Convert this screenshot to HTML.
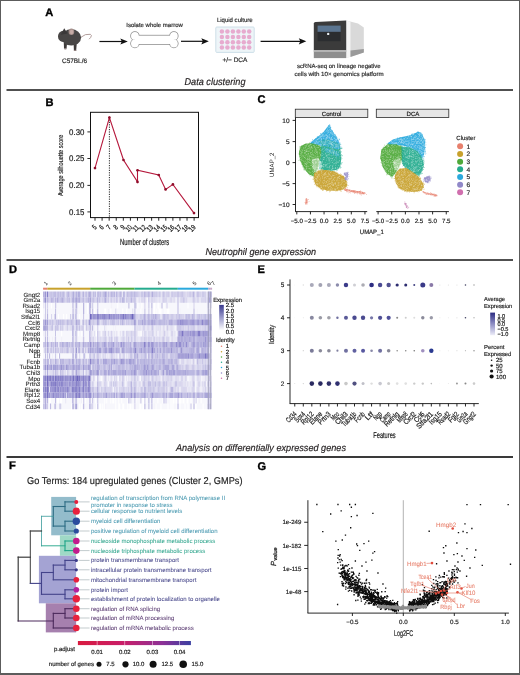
<!DOCTYPE html>
<html><head><meta charset="utf-8"><title>Figure</title>
<style>
html,body{margin:0;padding:0;background:#fff;}
#fig{position:relative;width:520px;height:675px;overflow:hidden;background:#fff;}
#fig svg{position:absolute;left:0;top:0;will-change:transform;}
#frame{position:absolute;left:0;top:0;width:518px;height:672px;border:1px solid #5c5c5c;border-bottom-width:2px;pointer-events:none;}
</style></head>
<body><div id="fig">
<svg width="520" height="675" viewBox="0 0 520 675" font-family='"Liberation Sans", sans-serif' text-rendering="geometricPrecision">
<rect x="6.5" y="89" width="506.5" height="2" fill="#505050"/>
<rect x="6.5" y="259" width="506.5" height="2" fill="#505050"/>
<rect x="6.5" y="456" width="506.5" height="2" fill="#3a3a3a"/>
<text x="45.3" y="16.3" font-size="11.1" fill="#000" font-weight="bold" stroke="#000" stroke-width="0.35">A</text>
<text x="45.6" y="106.3" font-size="11.1" fill="#000" font-weight="bold" stroke="#000" stroke-width="0.35">B</text>
<text x="257.4" y="103" font-size="11.1" fill="#000" font-weight="bold" stroke="#000" stroke-width="0.35">C</text>
<text x="8.9" y="273.1" font-size="11.1" fill="#000" font-weight="bold" stroke="#000" stroke-width="0.35">D</text>
<text x="257.5" y="273.1" font-size="11.1" fill="#000" font-weight="bold" stroke="#000" stroke-width="0.35">E</text>
<text x="8.9" y="469.4" font-size="11.1" fill="#000" font-weight="bold" stroke="#000" stroke-width="0.35">F</text>
<text x="257.5" y="469.6" font-size="11.1" fill="#000" font-weight="bold" stroke="#000" stroke-width="0.35">G</text>
<text x="184.5" y="85.2" font-size="9.9" fill="#231f20" font-style="italic" textLength="61" lengthAdjust="spacingAndGlyphs" stroke="#231f20" stroke-width="0.18">Data clustering</text>
<text x="205.5" y="255.2" font-size="9.7" fill="#231f20" font-style="italic" textLength="110.5" lengthAdjust="spacingAndGlyphs" stroke="#231f20" stroke-width="0.18">Neutrophil gene expression</text>
<text x="176" y="451.4" font-size="9.7" fill="#231f20" font-style="italic" textLength="170" lengthAdjust="spacingAndGlyphs" stroke="#231f20" stroke-width="0.18">Analysis on differentially expressed genes</text>
<g>
<path d="M80.4,37.6 Q85.5,33.3 90.3,34.3 Q92.4,35 90.6,37.6 L89,39.2" fill="none" stroke="#a89290" stroke-width="0.9"/>
<path d="M63.8,43 L64,48.6 L66.6,48.6 L67,43 Z" fill="#3f3b3a"/>
<path d="M73.6,43 L73.9,50.2 L76.2,50.2 L76.8,43 Z" fill="#3f3b3a"/>
<ellipse cx="71.3" cy="37.4" rx="9.8" ry="8.1" fill="#484645"/>
<ellipse cx="63.2" cy="36.4" rx="5.2" ry="5.6" fill="#484645"/>
<path d="M58.4,36.2 Q59,33.2 62,32.2 L63,38.8 Z" fill="#484645"/>
<path d="M60.8,34.8 L64.2,28.2 L67.6,33.4 Z" fill="#3a3838"/>
<ellipse cx="71.4" cy="31.8" rx="2.8" ry="3.3" fill="#a48e8a"/>
<ellipse cx="71.6" cy="32" rx="1.7" ry="2.2" fill="#c6aca6"/>
<ellipse cx="65.3" cy="48.8" rx="1.5" ry="0.6" fill="#8a7a78"/>
<ellipse cx="75.1" cy="50.3" rx="1.5" ry="0.6" fill="#8a7a78"/>
</g>
<text x="62" y="63.3" font-size="6.4" fill="#2b2b2b" textLength="25" lengthAdjust="spacingAndGlyphs" stroke="#2b2b2b" stroke-width="0.18">C57BL/6</text>
<line x1="99.4" y1="41.5" x2="122.8" y2="41.5" stroke="#111" stroke-width="1.2"/>
<path d="M120.3,38.4 L127.8,41.5 L120.3,44.6 L121.8,41.5 Z" fill="#111"/>
<line x1="181" y1="41.3" x2="203.8" y2="41.3" stroke="#111" stroke-width="1.2"/>
<path d="M201.3,38.199999999999996 L208.8,41.3 L201.3,44.4 L202.8,41.3 Z" fill="#111"/>
<line x1="260.6" y1="41.3" x2="301.3" y2="41.3" stroke="#111" stroke-width="1.2"/>
<path d="M298.8,38.199999999999996 L306.3,41.3 L298.8,44.4 L300.3,41.3 Z" fill="#111"/>
<rect x="134.9" y="35.6" width="39" height="8.4" fill="#8a8a8a" stroke="#8a8a8a" stroke-width="1.5"/>
<circle cx="134.9" cy="35.9" r="3.9" fill="#8a8a8a" stroke="#8a8a8a" stroke-width="1.5"/>
<circle cx="134.9" cy="43.5" r="3.9" fill="#8a8a8a" stroke="#8a8a8a" stroke-width="1.5"/>
<circle cx="173.9" cy="35.9" r="3.9" fill="#8a8a8a" stroke="#8a8a8a" stroke-width="1.5"/>
<circle cx="173.9" cy="43.5" r="3.9" fill="#8a8a8a" stroke="#8a8a8a" stroke-width="1.5"/>
<rect x="134.9" y="35.6" width="39" height="8.4" fill="#ffffff"/>
<circle cx="134.9" cy="35.9" r="3.9" fill="#ffffff"/>
<circle cx="134.9" cy="43.5" r="3.9" fill="#ffffff"/>
<circle cx="173.9" cy="35.9" r="3.9" fill="#ffffff"/>
<circle cx="173.9" cy="43.5" r="3.9" fill="#ffffff"/>
<text x="126.3" y="26.6" font-size="6" fill="#2b2b2b" textLength="56.5" lengthAdjust="spacingAndGlyphs" stroke="#2b2b2b" stroke-width="0.18">Isolate whole marrow</text>
<rect x="215.8" y="27" width="38.4" height="25.4" rx="1" fill="#eef5f8" stroke="#c9dde6" stroke-width="0.9"/>
<circle cx="221.9" cy="31.6" r="2.25" fill="#e7abcf"/>
<circle cx="221.9" cy="36.9" r="2.25" fill="#e7abcf"/>
<circle cx="221.9" cy="42.2" r="2.25" fill="#e7abcf"/>
<circle cx="221.9" cy="47.4" r="2.25" fill="#e7abcf"/>
<circle cx="227.4" cy="31.6" r="2.25" fill="#e7abcf"/>
<circle cx="227.4" cy="36.9" r="2.25" fill="#e7abcf"/>
<circle cx="227.4" cy="42.2" r="2.25" fill="#e7abcf"/>
<circle cx="227.4" cy="47.4" r="2.25" fill="#e7abcf"/>
<circle cx="232.9" cy="31.6" r="2.25" fill="#e7abcf"/>
<circle cx="232.9" cy="36.9" r="2.25" fill="#e7abcf"/>
<circle cx="232.9" cy="42.2" r="2.25" fill="#e7abcf"/>
<circle cx="232.9" cy="47.4" r="2.25" fill="#e7abcf"/>
<circle cx="238.4" cy="31.6" r="2.25" fill="#e7abcf"/>
<circle cx="238.4" cy="36.9" r="2.25" fill="#e7abcf"/>
<circle cx="238.4" cy="42.2" r="2.25" fill="#e7abcf"/>
<circle cx="238.4" cy="47.4" r="2.25" fill="#e7abcf"/>
<circle cx="243.8" cy="31.6" r="2.25" fill="#e7abcf"/>
<circle cx="243.8" cy="36.9" r="2.25" fill="#e7abcf"/>
<circle cx="243.8" cy="42.2" r="2.25" fill="#e7abcf"/>
<circle cx="243.8" cy="47.4" r="2.25" fill="#e7abcf"/>
<circle cx="249.2" cy="31.6" r="2.25" fill="#e7abcf"/>
<circle cx="249.2" cy="36.9" r="2.25" fill="#e7abcf"/>
<circle cx="249.2" cy="42.2" r="2.25" fill="#e7abcf"/>
<circle cx="249.2" cy="47.4" r="2.25" fill="#e7abcf"/>
<text x="216.9" y="21.6" font-size="6.2" fill="#2b2b2b" textLength="35.8" lengthAdjust="spacingAndGlyphs" stroke="#2b2b2b" stroke-width="0.18">Liquid culture</text>
<text x="222.5" y="61.6" font-size="6.4" fill="#2b2b2b" textLength="24.8" lengthAdjust="spacingAndGlyphs" stroke="#2b2b2b" stroke-width="0.18">+/− DCA</text>
<polygon points="346.2,20.6 358,23.6 363.8,27.5 363.8,52.6 346.2,58.1" fill="#d9d9d9"/>
<polygon points="346.2,20.6 350.5,21.7 350.5,57 346.2,58.1" fill="#f4f4f4"/>
<polygon points="350.5,50.5 363.8,49 363.8,52.6 350.5,57" fill="#9a9a9a"/>
<path d="M313.8,23.5 Q313.8,22 315.5,21.9 L346.2,20.6 L346.2,50 L313.8,50 Z" fill="#3b3b3b"/>
<rect x="313.8" y="50" width="32.4" height="8.1" fill="#8e8e8e"/>
<rect x="313.8" y="50" width="32.4" height="2" fill="#b4b4b4"/>
<rect x="317.6" y="25.6" width="23" height="6.3" fill="#5b7590"/>
<rect x="317.6" y="31.9" width="23" height="9.3" fill="#2b2d30"/>
<circle cx="328.2" cy="33.9" r="1.2" fill="#e8eef2"/>
<text x="296.9" y="68" font-size="6" fill="#2b2b2b" textLength="83.7" lengthAdjust="spacingAndGlyphs" stroke="#2b2b2b" stroke-width="0.18">scRNA-seq on lineage negative</text>
<text x="294.4" y="75.6" font-size="6" fill="#2b2b2b" textLength="89.3" lengthAdjust="spacingAndGlyphs" stroke="#2b2b2b" stroke-width="0.18">cells with 10× genomics platform</text>
<rect x="90.5" y="112.3" width="108" height="105.3" fill="none" stroke="#111" stroke-width="1"/>
<line x1="87.4" y1="131.9" x2="90.5" y2="131.9" stroke="#111" stroke-width="0.9"/>
<text x="84.4" y="134.70000000000002" font-size="8.3" fill="#1a1a1a" text-anchor="end" textLength="15.3" lengthAdjust="spacingAndGlyphs" stroke="#1a1a1a" stroke-width="0.18">0.30</text>
<line x1="87.4" y1="158.5" x2="90.5" y2="158.5" stroke="#111" stroke-width="0.9"/>
<text x="84.4" y="161.3" font-size="8.3" fill="#1a1a1a" text-anchor="end" textLength="15.3" lengthAdjust="spacingAndGlyphs" stroke="#1a1a1a" stroke-width="0.18">0.25</text>
<line x1="87.4" y1="185.4" x2="90.5" y2="185.4" stroke="#111" stroke-width="0.9"/>
<text x="84.4" y="188.20000000000002" font-size="8.3" fill="#1a1a1a" text-anchor="end" textLength="15.3" lengthAdjust="spacingAndGlyphs" stroke="#1a1a1a" stroke-width="0.18">0.20</text>
<line x1="87.4" y1="211.9" x2="90.5" y2="211.9" stroke="#111" stroke-width="0.9"/>
<text x="84.4" y="214.70000000000002" font-size="8.3" fill="#1a1a1a" text-anchor="end" textLength="15.3" lengthAdjust="spacingAndGlyphs" stroke="#1a1a1a" stroke-width="0.18">0.15</text>
<text transform="translate(62.8,165.4) rotate(-90)" font-size="7.2" fill="#1a1a1a" text-anchor="middle" textLength="61.4" lengthAdjust="spacingAndGlyphs" stroke="#1a1a1a" stroke-width="0.15">Average silhouette score</text>
<line x1="95.0" y1="217.6" x2="95.0" y2="220.7" stroke="#111" stroke-width="0.9"/>
<text transform="translate(97.20,227.80) rotate(-45)" font-size="7.3" fill="#1a1a1a" text-anchor="end" textLength="3.15" lengthAdjust="spacingAndGlyphs" stroke="#1a1a1a" stroke-width="0.2">5</text>
<line x1="102.08" y1="217.6" x2="102.08" y2="220.7" stroke="#111" stroke-width="0.9"/>
<text transform="translate(104.28,227.80) rotate(-45)" font-size="7.3" fill="#1a1a1a" text-anchor="end" textLength="3.15" lengthAdjust="spacingAndGlyphs" stroke="#1a1a1a" stroke-width="0.2">6</text>
<line x1="109.16" y1="217.6" x2="109.16" y2="220.7" stroke="#111" stroke-width="0.9"/>
<text transform="translate(111.36,227.80) rotate(-45)" font-size="7.3" fill="#1a1a1a" text-anchor="end" textLength="3.15" lengthAdjust="spacingAndGlyphs" stroke="#1a1a1a" stroke-width="0.2">7</text>
<line x1="116.24000000000001" y1="217.6" x2="116.24000000000001" y2="220.7" stroke="#111" stroke-width="0.9"/>
<text transform="translate(118.44,227.80) rotate(-45)" font-size="7.3" fill="#1a1a1a" text-anchor="end" textLength="3.15" lengthAdjust="spacingAndGlyphs" stroke="#1a1a1a" stroke-width="0.2">8</text>
<line x1="123.32" y1="217.6" x2="123.32" y2="220.7" stroke="#111" stroke-width="0.9"/>
<text transform="translate(125.52,227.80) rotate(-45)" font-size="7.3" fill="#1a1a1a" text-anchor="end" textLength="3.15" lengthAdjust="spacingAndGlyphs" stroke="#1a1a1a" stroke-width="0.2">9</text>
<line x1="130.4" y1="217.6" x2="130.4" y2="220.7" stroke="#111" stroke-width="0.9"/>
<text transform="translate(132.60,227.80) rotate(-45)" font-size="7.3" fill="#1a1a1a" text-anchor="end" textLength="6.30" lengthAdjust="spacingAndGlyphs" stroke="#1a1a1a" stroke-width="0.2">10</text>
<line x1="137.48000000000002" y1="217.6" x2="137.48000000000002" y2="220.7" stroke="#111" stroke-width="0.9"/>
<text transform="translate(139.68,227.80) rotate(-45)" font-size="7.3" fill="#1a1a1a" text-anchor="end" textLength="6.30" lengthAdjust="spacingAndGlyphs" stroke="#1a1a1a" stroke-width="0.2">11</text>
<line x1="144.56" y1="217.6" x2="144.56" y2="220.7" stroke="#111" stroke-width="0.9"/>
<text transform="translate(146.76,227.80) rotate(-45)" font-size="7.3" fill="#1a1a1a" text-anchor="end" textLength="6.30" lengthAdjust="spacingAndGlyphs" stroke="#1a1a1a" stroke-width="0.2">12</text>
<line x1="151.64" y1="217.6" x2="151.64" y2="220.7" stroke="#111" stroke-width="0.9"/>
<text transform="translate(153.84,227.80) rotate(-45)" font-size="7.3" fill="#1a1a1a" text-anchor="end" textLength="6.30" lengthAdjust="spacingAndGlyphs" stroke="#1a1a1a" stroke-width="0.2">13</text>
<line x1="158.72" y1="217.6" x2="158.72" y2="220.7" stroke="#111" stroke-width="0.9"/>
<text transform="translate(160.92,227.80) rotate(-45)" font-size="7.3" fill="#1a1a1a" text-anchor="end" textLength="6.30" lengthAdjust="spacingAndGlyphs" stroke="#1a1a1a" stroke-width="0.2">14</text>
<line x1="165.8" y1="217.6" x2="165.8" y2="220.7" stroke="#111" stroke-width="0.9"/>
<text transform="translate(168.00,227.80) rotate(-45)" font-size="7.3" fill="#1a1a1a" text-anchor="end" textLength="6.30" lengthAdjust="spacingAndGlyphs" stroke="#1a1a1a" stroke-width="0.2">15</text>
<line x1="172.88" y1="217.6" x2="172.88" y2="220.7" stroke="#111" stroke-width="0.9"/>
<text transform="translate(175.08,227.80) rotate(-45)" font-size="7.3" fill="#1a1a1a" text-anchor="end" textLength="6.30" lengthAdjust="spacingAndGlyphs" stroke="#1a1a1a" stroke-width="0.2">16</text>
<line x1="179.96" y1="217.6" x2="179.96" y2="220.7" stroke="#111" stroke-width="0.9"/>
<text transform="translate(182.16,227.80) rotate(-45)" font-size="7.3" fill="#1a1a1a" text-anchor="end" textLength="6.30" lengthAdjust="spacingAndGlyphs" stroke="#1a1a1a" stroke-width="0.2">17</text>
<line x1="187.04000000000002" y1="217.6" x2="187.04000000000002" y2="220.7" stroke="#111" stroke-width="0.9"/>
<text transform="translate(189.24,227.80) rotate(-45)" font-size="7.3" fill="#1a1a1a" text-anchor="end" textLength="6.30" lengthAdjust="spacingAndGlyphs" stroke="#1a1a1a" stroke-width="0.2">18</text>
<line x1="194.12" y1="217.6" x2="194.12" y2="220.7" stroke="#111" stroke-width="0.9"/>
<text transform="translate(196.32,227.80) rotate(-45)" font-size="7.3" fill="#1a1a1a" text-anchor="end" textLength="6.30" lengthAdjust="spacingAndGlyphs" stroke="#1a1a1a" stroke-width="0.2">19</text>
<text x="120.1" y="245.4" font-size="8.8" fill="#1a1a1a" textLength="49" lengthAdjust="spacingAndGlyphs" stroke="#1a1a1a" stroke-width="0.2">Number of clusters</text>
<line x1="109.4" y1="117" x2="109.4" y2="217.6" stroke="#111" stroke-width="0.9" stroke-dasharray="1.2,1.2"/>
<polyline points="95,168.1 109.4,117.6 123.5,160 137.5,181.9 137.5,170.3 158.75,175 165.6,189.4 172.9,184.4 194,213.1" fill="none" stroke="#b5173b" stroke-width="1.1"/>
<circle cx="95" cy="168.1" r="1.35" fill="#8f0d2a"/>
<circle cx="109.4" cy="117.6" r="1.35" fill="#8f0d2a"/>
<circle cx="123.5" cy="160" r="1.35" fill="#8f0d2a"/>
<circle cx="137.5" cy="181.9" r="1.35" fill="#8f0d2a"/>
<circle cx="137.5" cy="170.3" r="1.35" fill="#8f0d2a"/>
<circle cx="158.75" cy="175" r="1.35" fill="#8f0d2a"/>
<circle cx="165.6" cy="189.4" r="1.35" fill="#8f0d2a"/>
<circle cx="172.9" cy="184.4" r="1.35" fill="#8f0d2a"/>
<circle cx="194" cy="213.1" r="1.35" fill="#8f0d2a"/>
<polygon points="329.2,124.5 331.9,130.4 335.8,135.8 339.3,141.9 340.5,148.1 338.1,149.6 333.5,148.5 327.3,146.5 321.2,145.5 315.0,145.0 309.6,144.2 311.9,141.2 318.1,136.5 323.5,131.9 327.3,127.3" fill="#2aa9dd" fill-opacity="0.92"/>
<path d="M323.6,138.6h.6v.6h-.6zM325.3,139.3h.6v.6h-.6zM329.1,144.4h.6v.6h-.6zM329.8,140.0h.6v.6h-.6zM323.2,145.7h.6v.6h-.6zM325.7,140.6h.6v.6h-.6zM325.1,141.2h.6v.6h-.6zM335.6,142.3h.6v.6h-.6zM333.3,134.6h.6v.6h-.6zM339.2,145.8h.6v.6h-.6zM339.4,143.5h.6v.6h-.6zM326.9,135.8h.6v.6h-.6zM315.5,142.9h.6v.6h-.6zM313.7,140.7h.6v.6h-.6zM339.6,144.7h.6v.6h-.6zM336.0,140.6h.6v.6h-.6zM333.5,132.8h.6v.6h-.6zM317.1,139.6h.6v.6h-.6zM321.1,135.9h.6v.6h-.6zM327.4,146.3h.6v.6h-.6zM337.7,145.0h.6v.6h-.6zM332.5,148.1h.6v.6h-.6zM336.9,139.7h.6v.6h-.6zM317.0,142.2h.6v.6h-.6zM328.1,131.9h.6v.6h-.6zM315.0,142.6h.6v.6h-.6zM326.9,145.9h.6v.6h-.6zM328.6,131.6h.6v.6h-.6zM327.3,127.8h.6v.6h-.6zM331.0,139.2h.6v.6h-.6zM324.5,142.9h.6v.6h-.6zM332.4,147.1h.6v.6h-.6zM332.4,142.2h.6v.6h-.6zM334.1,147.5h.6v.6h-.6zM320.5,141.7h.6v.6h-.6zM337.5,146.4h.6v.6h-.6zM322.5,144.4h.6v.6h-.6zM336.3,138.9h.6v.6h-.6zM328.9,134.1h.6v.6h-.6zM327.6,139.8h.6v.6h-.6zM332.1,134.3h.6v.6h-.6zM332.3,139.1h.6v.6h-.6zM323.2,145.6h.6v.6h-.6zM312.2,143.4h.6v.6h-.6zM331.2,137.0h.6v.6h-.6zM318.9,141.5h.6v.6h-.6zM337.6,141.1h.6v.6h-.6zM319.7,141.2h.6v.6h-.6zM334.5,147.5h.6v.6h-.6zM327.6,132.5h.6v.6h-.6zM335.5,145.8h.6v.6h-.6zM329.0,136.9h.6v.6h-.6zM331.5,138.8h.6v.6h-.6zM319.2,144.4h.6v.6h-.6zM329.1,135.7h.6v.6h-.6zM329.1,141.0h.6v.6h-.6zM334.6,148.6h.6v.6h-.6zM330.8,129.5h.6v.6h-.6zM331.2,137.6h.6v.6h-.6zM328.6,143.5h.6v.6h-.6zM321.8,144.4h.6v.6h-.6zM338.5,142.7h.6v.6h-.6zM321.3,138.8h.6v.6h-.6zM336.8,144.5h.6v.6h-.6zM329.8,129.7h.6v.6h-.6zM331.9,145.1h.6v.6h-.6zM329.5,142.5h.6v.6h-.6zM326.2,144.4h.6v.6h-.6zM326.6,143.8h.6v.6h-.6zM320.0,144.3h.6v.6h-.6zM325.6,142.7h.6v.6h-.6zM335.6,141.8h.6v.6h-.6zM318.6,142.8h.6v.6h-.6zM329.4,137.6h.6v.6h-.6zM335.7,138.6h.6v.6h-.6zM335.8,147.1h.6v.6h-.6zM327.3,129.6h.6v.6h-.6zM326.2,137.2h.6v.6h-.6zM322.0,144.6h.6v.6h-.6zM327.0,136.9h.6v.6h-.6zM326.3,134.9h.6v.6h-.6zM339.2,147.7h.6v.6h-.6zM334.8,147.1h.6v.6h-.6zM324.4,132.5h.6v.6h-.6zM315.5,140.0h.6v.6h-.6zM330.9,132.6h.6v.6h-.6zM320.6,140.1h.6v.6h-.6zM312.9,142.9h.6v.6h-.6zM326.0,135.5h.6v.6h-.6zM321.2,134.9h.6v.6h-.6zM315.9,140.4h.6v.6h-.6zM329.4,137.8h.6v.6h-.6zM335.9,139.9h.6v.6h-.6zM332.5,144.9h.6v.6h-.6zM317.0,142.8h.6v.6h-.6zM322.1,141.7h.6v.6h-.6zM330.7,147.4h.6v.6h-.6zM325.3,143.6h.6v.6h-.6zM325.2,141.7h.6v.6h-.6zM326.7,137.4h.6v.6h-.6zM327.2,128.2h.6v.6h-.6zM323.9,143.7h.6v.6h-.6zM319.7,136.2h.6v.6h-.6zM325.5,135.3h.6v.6h-.6zM331.3,145.7h.6v.6h-.6zM332.5,134.7h.6v.6h-.6zM337.2,144.6h.6v.6h-.6zM331.4,146.1h.6v.6h-.6zM329.1,134.7h.6v.6h-.6zM328.2,137.2h.6v.6h-.6zM332.6,144.0h.6v.6h-.6zM334.8,134.7h.6v.6h-.6zM337.3,146.6h.6v.6h-.6zM331.1,143.8h.6v.6h-.6zM333.3,134.7h.6v.6h-.6zM320.2,136.3h.6v.6h-.6zM329.4,140.2h.6v.6h-.6zM330.2,133.0h.6v.6h-.6zM330.0,138.8h.6v.6h-.6zM326.1,134.3h.6v.6h-.6zM331.3,143.6h.6v.6h-.6zM328.6,143.1h.6v.6h-.6zM326.6,137.3h.6v.6h-.6zM328.1,143.6h.6v.6h-.6zM328.5,126.0h.6v.6h-.6zM325.9,139.5h.6v.6h-.6zM329.9,138.6h.6v.6h-.6zM318.4,142.5h.6v.6h-.6zM314.5,143.5h.6v.6h-.6zM340.2,148.2h.6v.6h-.6zM322.9,136.5h.6v.6h-.6zM332.0,136.3h.6v.6h-.6zM339.9,145.0h.6v.6h-.6zM328.3,127.4h.6v.6h-.6zM328.9,136.0h.6v.6h-.6zM323.3,141.3h.6v.6h-.6zM327.6,135.1h.6v.6h-.6zM333.7,137.8h.6v.6h-.6zM333.9,140.2h.6v.6h-.6zM330.8,138.7h.6v.6h-.6zM327.9,140.4h.6v.6h-.6zM337.9,146.6h.6v.6h-.6zM328.9,127.1h.6v.6h-.6zM312.3,141.5h.6v.6h-.6zM326.6,140.4h.6v.6h-.6zM321.2,136.5h.6v.6h-.6zM332.6,145.6h.6v.6h-.6zM334.6,140.2h.6v.6h-.6zM319.7,138.3h.6v.6h-.6zM332.7,147.6h.6v.6h-.6zM322.8,133.8h.6v.6h-.6zM327.1,136.7h.6v.6h-.6zM330.8,132.0h.6v.6h-.6zM316.2,141.1h.6v.6h-.6zM332.0,141.9h.6v.6h-.6zM320.7,142.7h.6v.6h-.6zM331.5,138.8h.6v.6h-.6zM338.0,148.1h.6v.6h-.6zM338.5,147.0h.6v.6h-.6zM321.8,134.3h.6v.6h-.6zM315.6,138.7h.6v.6h-.6zM334.3,138.1h.6v.6h-.6zM335.5,138.7h.6v.6h-.6zM315.1,143.6h.6v.6h-.6zM326.4,138.8h.6v.6h-.6zM326.5,144.3h.6v.6h-.6zM332.4,147.1h.6v.6h-.6zM314.1,143.2h.6v.6h-.6zM329.7,130.7h.6v.6h-.6zM316.4,143.7h.6v.6h-.6zM325.7,143.7h.6v.6h-.6zM324.9,138.0h.6v.6h-.6zM331.9,142.3h.6v.6h-.6zM335.2,141.3h.6v.6h-.6zM336.0,144.7h.6v.6h-.6zM335.4,146.8h.6v.6h-.6zM325.8,142.3h.6v.6h-.6zM334.4,135.1h.6v.6h-.6zM313.2,140.8h.6v.6h-.6zM316.9,142.5h.6v.6h-.6zM328.0,130.2h.6v.6h-.6zM315.0,143.5h.6v.6h-.6zM319.3,138.3h.6v.6h-.6zM334.9,136.6h.6v.6h-.6zM334.4,134.2h.6v.6h-.6zM325.9,137.5h.6v.6h-.6zM329.9,130.5h.6v.6h-.6zM321.1,144.5h.6v.6h-.6zM331.7,139.7h.6v.6h-.6zM336.5,137.5h.6v.6h-.6zM317.9,137.9h.6v.6h-.6zM314.3,143.9h.6v.6h-.6zM335.8,145.2h.6v.6h-.6zM324.5,136.3h.6v.6h-.6zM334.0,135.0h.6v.6h-.6zM326.4,137.7h.6v.6h-.6zM324.1,142.5h.6v.6h-.6zM320.7,141.8h.6v.6h-.6zM335.3,140.9h.6v.6h-.6zM331.6,130.5h.6v.6h-.6zM327.1,136.0h.6v.6h-.6zM328.7,131.8h.6v.6h-.6zM321.2,138.1h.6v.6h-.6zM321.7,141.3h.6v.6h-.6zM332.2,132.8h.6v.6h-.6zM332.0,132.9h.6v.6h-.6zM330.6,142.3h.6v.6h-.6zM335.5,139.4h.6v.6h-.6zM325.4,140.8h.6v.6h-.6zM333.3,145.1h.6v.6h-.6zM322.0,142.1h.6v.6h-.6zM330.0,139.8h.6v.6h-.6zM320.2,140.9h.6v.6h-.6zM325.4,144.3h.6v.6h-.6zM335.1,139.9h.6v.6h-.6zM314.5,143.8h.6v.6h-.6zM320.5,137.1h.6v.6h-.6zM314.0,142.4h.6v.6h-.6zM331.7,145.5h.6v.6h-.6zM329.0,129.5h.6v.6h-.6zM327.4,142.0h.6v.6h-.6zM320.8,136.1h.6v.6h-.6zM326.4,138.6h.6v.6h-.6zM326.9,131.2h.6v.6h-.6zM337.7,149.4h.6v.6h-.6zM334.9,139.6h.6v.6h-.6zM317.1,138.9h.6v.6h-.6zM340.1,148.1h.6v.6h-.6zM330.0,132.3h.6v.6h-.6zM330.4,143.0h.6v.6h-.6zM321.4,139.4h.6v.6h-.6zM327.2,128.9h.6v.6h-.6zM325.7,131.2h.6v.6h-.6zM327.2,132.9h.6v.6h-.6zM329.5,125.5h.6v.6h-.6zM330.4,128.2h.6v.6h-.6zM324.1,134.9h.6v.6h-.6zM328.9,141.8h.6v.6h-.6zM333.1,143.4h.6v.6h-.6zM335.5,146.0h.6v.6h-.6zM322.3,135.4h.6v.6h-.6zM325.9,137.7h.6v.6h-.6zM332.1,147.1h.6v.6h-.6zM332.3,139.5h.6v.6h-.6zM332.9,132.2h.6v.6h-.6zM325.2,134.5h.6v.6h-.6zM325.9,130.5h.6v.6h-.6zM337.8,148.8h.6v.6h-.6zM330.2,146.3h.6v.6h-.6zM322.6,144.7h.6v.6h-.6zM316.5,143.3h.6v.6h-.6zM312.7,144.4h.6v.6h-.6zM337.3,145.0h.6v.6h-.6zM321.9,133.5h.6v.6h-.6zM319.1,137.0h.6v.6h-.6zM338.5,149.0h.6v.6h-.6zM315.9,140.4h.6v.6h-.6zM332.1,132.4h.6v.6h-.6zM337.5,146.3h.6v.6h-.6zM330.2,144.4h.6v.6h-.6zM321.1,141.1h.6v.6h-.6zM337.0,139.3h.6v.6h-.6zM338.3,141.3h.6v.6h-.6zM318.2,140.6h.6v.6h-.6zM323.2,137.8h.6v.6h-.6zM328.2,131.7h.6v.6h-.6zM317.4,144.7h.6v.6h-.6zM318.2,138.3h.6v.6h-.6zM323.9,143.4h.6v.6h-.6zM326.8,140.7h.6v.6h-.6zM320.7,141.0h.6v.6h-.6zM333.8,137.5h.6v.6h-.6zM325.3,145.7h.6v.6h-.6zM330.8,137.6h.6v.6h-.6zM328.4,130.4h.6v.6h-.6zM323.2,143.9h.6v.6h-.6zM333.9,144.4h.6v.6h-.6zM316.5,139.1h.6v.6h-.6zM328.1,142.5h.6v.6h-.6zM327.3,146.4h.6v.6h-.6zM323.1,135.6h.6v.6h-.6zM317.7,144.6h.6v.6h-.6zM327.2,138.2h.6v.6h-.6zM328.8,137.7h.6v.6h-.6zM317.8,139.3h.6v.6h-.6zM314.6,141.9h.6v.6h-.6zM335.3,144.3h.6v.6h-.6zM324.8,143.6h.6v.6h-.6zM323.7,143.2h.6v.6h-.6zM333.2,142.9h.6v.6h-.6zM326.7,130.6h.6v.6h-.6zM329.7,126.0h.6v.6h-.6zM320.2,142.0h.6v.6h-.6zM336.3,139.4h.6v.6h-.6zM321.4,144.1h.6v.6h-.6zM319.2,135.8h.6v.6h-.6zM331.0,133.6h.6v.6h-.6zM331.7,131.3h.6v.6h-.6zM333.3,142.7h.6v.6h-.6zM319.7,143.9h.6v.6h-.6zM331.5,131.1h.6v.6h-.6zM332.0,141.2h.6v.6h-.6zM318.3,142.4h.6v.6h-.6zM322.1,134.2h.6v.6h-.6zM327.1,144.8h.6v.6h-.6zM316.3,141.8h.6v.6h-.6zM329.2,126.8h.6v.6h-.6zM322.8,134.4h.6v.6h-.6zM319.8,137.0h.6v.6h-.6zM322.1,136.5h.6v.6h-.6zM314.8,141.2h.6v.6h-.6zM320.2,135.1h.6v.6h-.6zM331.3,138.4h.6v.6h-.6zM321.7,133.7h.6v.6h-.6zM327.7,136.3h.6v.6h-.6zM337.2,138.7h.6v.6h-.6zM317.7,141.3h.6v.6h-.6zM320.8,139.0h.6v.6h-.6zM338.8,143.9h.6v.6h-.6zM329.0,140.1h.6v.6h-.6zM322.3,135.0h.6v.6h-.6zM330.6,130.4h.6v.6h-.6zM324.9,140.8h.6v.6h-.6zM326.6,140.2h.6v.6h-.6zM327.0,145.4h.6v.6h-.6z" fill="#ffffff" fill-opacity="0.55"/>
<path d="M331.6,130.7h.7v.7h-.7zM331.2,130.6h.7v.7h-.7zM330.5,127.2h.7v.7h-.7zM331.9,130.1h.7v.7h-.7zM330.0,127.2h.7v.7h-.7zM329.9,125.5h.7v.7h-.7zM329.8,126.5h.7v.7h-.7zM332.3,131.3h.7v.7h-.7zM332.4,130.8h.7v.7h-.7zM335.1,134.6h.7v.7h-.7zM334.5,134.6h.7v.7h-.7zM335.4,134.9h.7v.7h-.7zM331.8,131.7h.7v.7h-.7zM333.3,132.1h.7v.7h-.7zM338.1,140.7h.7v.7h-.7zM339.1,139.5h.7v.7h-.7zM337.0,139.7h.7v.7h-.7zM338.5,138.7h.7v.7h-.7zM335.6,137.2h.7v.7h-.7zM336.6,137.3h.7v.7h-.7zM339.3,138.8h.7v.7h-.7zM336.0,136.0h.7v.7h-.7zM339.0,146.7h.7v.7h-.7zM341.4,148.3h.7v.7h-.7zM339.9,142.8h.7v.7h-.7zM340.5,146.4h.7v.7h-.7zM340.5,144.1h.7v.7h-.7zM339.5,145.3h.7v.7h-.7zM340.6,146.4h.7v.7h-.7zM338.8,148.0h.7v.7h-.7zM337.4,150.2h.7v.7h-.7zM339.3,148.6h.7v.7h-.7zM338.4,150.3h.7v.7h-.7zM336.6,149.4h.7v.7h-.7zM337.4,149.4h.7v.7h-.7zM337.1,149.1h.7v.7h-.7zM336.5,149.4h.7v.7h-.7zM332.1,148.1h.7v.7h-.7zM327.9,147.0h.7v.7h-.7zM330.3,148.4h.7v.7h-.7zM332.7,147.6h.7v.7h-.7zM331.1,147.1h.7v.7h-.7zM332.3,148.1h.7v.7h-.7zM329.4,148.7h.7v.7h-.7zM322.6,145.6h.7v.7h-.7zM322.1,145.3h.7v.7h-.7zM327.3,146.8h.7v.7h-.7zM326.2,147.2h.7v.7h-.7zM325.3,146.2h.7v.7h-.7zM326.1,146.3h.7v.7h-.7zM324.5,145.0h.7v.7h-.7zM315.8,145.8h.7v.7h-.7zM316.3,143.3h.7v.7h-.7zM321.1,145.2h.7v.7h-.7zM316.8,146.5h.7v.7h-.7zM320.6,145.3h.7v.7h-.7zM318.2,145.9h.7v.7h-.7zM315.6,145.7h.7v.7h-.7zM312.9,146.0h.7v.7h-.7zM313.7,145.1h.7v.7h-.7zM311.2,145.4h.7v.7h-.7zM311.9,144.2h.7v.7h-.7zM314.8,145.4h.7v.7h-.7zM313.4,144.7h.7v.7h-.7zM310.2,143.7h.7v.7h-.7zM312.2,142.5h.7v.7h-.7zM310.4,143.0h.7v.7h-.7zM310.5,141.8h.7v.7h-.7zM312.5,140.7h.7v.7h-.7zM312.9,141.2h.7v.7h-.7zM317.6,137.1h.7v.7h-.7zM314.5,139.5h.7v.7h-.7zM315.2,138.8h.7v.7h-.7zM312.3,139.3h.7v.7h-.7zM316.7,136.7h.7v.7h-.7zM316.3,139.3h.7v.7h-.7zM315.3,138.2h.7v.7h-.7zM320.0,134.9h.7v.7h-.7zM320.7,133.4h.7v.7h-.7zM317.8,135.9h.7v.7h-.7zM320.1,133.0h.7v.7h-.7zM317.0,136.2h.7v.7h-.7zM321.7,134.0h.7v.7h-.7zM322.4,132.7h.7v.7h-.7zM319.5,135.9h.7v.7h-.7zM324.8,130.1h.7v.7h-.7zM327.6,126.7h.7v.7h-.7zM325.6,129.6h.7v.7h-.7zM326.7,127.5h.7v.7h-.7zM325.9,128.4h.7v.7h-.7zM327.0,128.4h.7v.7h-.7zM326.6,129.3h.7v.7h-.7zM328.3,125.2h.7v.7h-.7zM329.4,124.3h.7v.7h-.7zM329.2,125.2h.7v.7h-.7z" fill="#2aa9dd" fill-opacity="0.7"/>
<polygon points="300.4,146.5 305.8,143.5 311.9,143.5 318.1,145.0 321.9,148.1 321.5,155.0 319.6,161.2 318.1,167.3 315.8,172.7 313.2,176.5 308.8,174.2 304.2,168.8 300.4,161.2 298.8,153.5" fill="#4fa93a" fill-opacity="0.92"/>
<path d="M302.3,155.6h.6v.6h-.6zM318.1,147.3h.6v.6h-.6zM303.0,156.3h.6v.6h-.6zM318.4,163.9h.6v.6h-.6zM321.6,150.3h.6v.6h-.6zM313.4,172.5h.6v.6h-.6zM315.6,150.0h.6v.6h-.6zM314.3,157.7h.6v.6h-.6zM299.2,154.7h.6v.6h-.6zM306.1,164.3h.6v.6h-.6zM305.3,163.4h.6v.6h-.6zM314.9,149.4h.6v.6h-.6zM309.6,147.7h.6v.6h-.6zM312.9,155.3h.6v.6h-.6zM314.8,167.8h.6v.6h-.6zM307.2,153.7h.6v.6h-.6zM308.3,148.3h.6v.6h-.6zM313.4,157.5h.6v.6h-.6zM317.8,157.0h.6v.6h-.6zM309.4,160.2h.6v.6h-.6zM320.6,154.9h.6v.6h-.6zM315.1,151.2h.6v.6h-.6zM312.2,152.9h.6v.6h-.6zM319.0,152.9h.6v.6h-.6zM309.3,174.3h.6v.6h-.6zM307.8,168.0h.6v.6h-.6zM312.7,158.3h.6v.6h-.6zM300.3,157.3h.6v.6h-.6zM305.3,158.0h.6v.6h-.6zM320.9,153.2h.6v.6h-.6zM314.9,165.7h.6v.6h-.6zM304.5,157.1h.6v.6h-.6zM304.7,157.4h.6v.6h-.6zM306.7,170.6h.6v.6h-.6zM318.5,163.0h.6v.6h-.6zM311.4,146.8h.6v.6h-.6zM319.5,146.4h.6v.6h-.6zM307.2,155.8h.6v.6h-.6zM315.5,165.6h.6v.6h-.6zM313.5,159.0h.6v.6h-.6zM307.2,158.8h.6v.6h-.6zM306.1,165.7h.6v.6h-.6zM312.8,175.6h.6v.6h-.6zM308.0,170.9h.6v.6h-.6zM313.8,166.6h.6v.6h-.6zM309.5,156.7h.6v.6h-.6zM314.0,150.7h.6v.6h-.6zM321.7,150.4h.6v.6h-.6zM307.4,148.2h.6v.6h-.6zM308.0,168.0h.6v.6h-.6zM300.8,149.0h.6v.6h-.6zM313.8,164.1h.6v.6h-.6zM316.0,151.8h.6v.6h-.6zM317.6,167.6h.6v.6h-.6zM316.8,147.4h.6v.6h-.6zM309.7,144.0h.6v.6h-.6zM306.9,161.2h.6v.6h-.6zM311.2,147.1h.6v.6h-.6zM317.1,153.4h.6v.6h-.6zM310.6,147.6h.6v.6h-.6zM312.0,147.8h.6v.6h-.6zM300.9,160.4h.6v.6h-.6zM305.6,169.2h.6v.6h-.6zM304.5,157.2h.6v.6h-.6zM300.1,150.7h.6v.6h-.6zM309.3,161.9h.6v.6h-.6zM309.4,171.6h.6v.6h-.6zM311.0,156.9h.6v.6h-.6zM313.0,172.0h.6v.6h-.6zM317.7,167.8h.6v.6h-.6zM315.3,148.6h.6v.6h-.6zM311.1,144.4h.6v.6h-.6zM301.4,153.4h.6v.6h-.6zM308.4,146.1h.6v.6h-.6zM304.9,147.2h.6v.6h-.6zM320.0,154.3h.6v.6h-.6zM310.1,165.1h.6v.6h-.6zM312.0,160.0h.6v.6h-.6zM319.7,156.5h.6v.6h-.6zM305.8,167.9h.6v.6h-.6zM304.8,155.6h.6v.6h-.6zM308.8,159.2h.6v.6h-.6zM307.1,157.7h.6v.6h-.6zM309.2,145.1h.6v.6h-.6zM318.1,145.5h.6v.6h-.6zM311.0,161.6h.6v.6h-.6zM308.1,150.8h.6v.6h-.6zM301.1,155.8h.6v.6h-.6zM306.1,159.5h.6v.6h-.6zM304.2,168.3h.6v.6h-.6zM310.1,143.8h.6v.6h-.6zM321.0,155.6h.6v.6h-.6zM312.6,155.7h.6v.6h-.6zM305.8,163.6h.6v.6h-.6zM312.4,153.9h.6v.6h-.6zM310.3,160.5h.6v.6h-.6zM316.2,145.2h.6v.6h-.6zM301.0,151.8h.6v.6h-.6zM305.1,169.8h.6v.6h-.6zM308.7,171.9h.6v.6h-.6zM308.1,152.9h.6v.6h-.6zM314.5,146.3h.6v.6h-.6zM306.4,154.0h.6v.6h-.6zM313.7,145.3h.6v.6h-.6zM316.5,145.0h.6v.6h-.6zM313.3,161.7h.6v.6h-.6zM316.2,162.6h.6v.6h-.6zM308.5,165.9h.6v.6h-.6zM309.0,168.3h.6v.6h-.6zM307.6,158.3h.6v.6h-.6zM308.9,147.4h.6v.6h-.6zM306.2,167.8h.6v.6h-.6zM300.5,147.3h.6v.6h-.6zM318.1,165.5h.6v.6h-.6zM311.5,147.2h.6v.6h-.6zM301.6,153.7h.6v.6h-.6zM320.1,150.4h.6v.6h-.6zM308.4,161.2h.6v.6h-.6zM318.2,147.5h.6v.6h-.6zM319.0,159.1h.6v.6h-.6zM307.6,165.8h.6v.6h-.6zM314.8,156.3h.6v.6h-.6zM316.8,146.9h.6v.6h-.6zM316.0,149.0h.6v.6h-.6zM312.4,150.1h.6v.6h-.6zM306.8,148.9h.6v.6h-.6zM306.9,163.0h.6v.6h-.6zM310.8,156.3h.6v.6h-.6zM312.1,171.3h.6v.6h-.6zM307.1,162.8h.6v.6h-.6zM306.4,166.5h.6v.6h-.6zM304.2,152.1h.6v.6h-.6zM315.7,162.5h.6v.6h-.6zM304.8,145.6h.6v.6h-.6zM317.9,156.0h.6v.6h-.6zM315.4,157.8h.6v.6h-.6zM313.1,162.0h.6v.6h-.6zM309.4,159.6h.6v.6h-.6zM304.2,168.4h.6v.6h-.6zM301.2,153.6h.6v.6h-.6zM315.0,162.3h.6v.6h-.6zM311.6,154.5h.6v.6h-.6zM316.5,170.1h.6v.6h-.6zM303.9,150.1h.6v.6h-.6zM311.2,163.6h.6v.6h-.6zM312.3,173.2h.6v.6h-.6zM315.4,153.1h.6v.6h-.6zM305.0,151.7h.6v.6h-.6zM304.7,153.2h.6v.6h-.6zM304.7,147.8h.6v.6h-.6zM310.0,152.5h.6v.6h-.6zM305.4,152.6h.6v.6h-.6zM310.6,172.4h.6v.6h-.6zM318.6,163.6h.6v.6h-.6zM311.4,167.7h.6v.6h-.6zM311.2,165.3h.6v.6h-.6zM304.8,145.3h.6v.6h-.6zM320.5,155.5h.6v.6h-.6zM317.0,151.2h.6v.6h-.6zM309.3,155.7h.6v.6h-.6zM310.5,162.2h.6v.6h-.6zM306.9,151.1h.6v.6h-.6zM301.2,162.2h.6v.6h-.6zM314.7,171.8h.6v.6h-.6zM317.0,160.7h.6v.6h-.6zM300.6,160.9h.6v.6h-.6zM303.1,160.9h.6v.6h-.6zM307.0,160.0h.6v.6h-.6zM303.4,166.8h.6v.6h-.6zM308.5,159.5h.6v.6h-.6zM300.7,159.6h.6v.6h-.6zM311.7,175.6h.6v.6h-.6zM311.8,147.9h.6v.6h-.6zM305.8,154.6h.6v.6h-.6zM310.1,163.0h.6v.6h-.6zM314.7,163.7h.6v.6h-.6zM313.0,174.3h.6v.6h-.6zM300.8,160.6h.6v.6h-.6zM314.7,160.7h.6v.6h-.6zM312.2,168.5h.6v.6h-.6zM308.3,154.6h.6v.6h-.6zM306.8,144.0h.6v.6h-.6zM316.6,152.1h.6v.6h-.6zM312.4,160.9h.6v.6h-.6zM306.6,165.8h.6v.6h-.6zM309.3,151.2h.6v.6h-.6zM319.2,149.3h.6v.6h-.6zM302.3,151.8h.6v.6h-.6zM309.9,169.4h.6v.6h-.6zM306.5,151.3h.6v.6h-.6zM313.9,152.1h.6v.6h-.6zM310.9,151.9h.6v.6h-.6zM319.1,149.6h.6v.6h-.6zM304.2,153.4h.6v.6h-.6zM306.5,167.5h.6v.6h-.6zM314.4,169.6h.6v.6h-.6zM311.3,146.1h.6v.6h-.6zM316.5,151.5h.6v.6h-.6zM303.9,157.2h.6v.6h-.6zM316.9,154.6h.6v.6h-.6zM317.1,156.0h.6v.6h-.6zM305.5,163.1h.6v.6h-.6zM316.0,159.2h.6v.6h-.6zM310.4,156.0h.6v.6h-.6zM302.2,150.3h.6v.6h-.6zM320.3,154.8h.6v.6h-.6zM320.3,148.2h.6v.6h-.6zM303.3,148.0h.6v.6h-.6zM314.5,172.7h.6v.6h-.6zM309.3,155.8h.6v.6h-.6zM301.6,152.5h.6v.6h-.6zM303.1,155.0h.6v.6h-.6zM300.0,153.6h.6v.6h-.6zM303.1,147.5h.6v.6h-.6zM311.0,161.3h.6v.6h-.6zM311.9,168.7h.6v.6h-.6zM311.0,174.8h.6v.6h-.6zM300.7,150.8h.6v.6h-.6zM300.6,153.7h.6v.6h-.6zM310.5,148.8h.6v.6h-.6zM306.5,162.3h.6v.6h-.6zM305.6,169.7h.6v.6h-.6zM312.8,171.4h.6v.6h-.6zM309.6,149.8h.6v.6h-.6zM308.1,145.2h.6v.6h-.6zM302.6,149.2h.6v.6h-.6zM315.8,150.5h.6v.6h-.6zM317.3,160.0h.6v.6h-.6zM313.9,158.8h.6v.6h-.6zM305.9,144.8h.6v.6h-.6zM304.9,163.9h.6v.6h-.6zM307.4,159.1h.6v.6h-.6zM313.2,154.0h.6v.6h-.6zM312.3,157.3h.6v.6h-.6zM311.3,158.7h.6v.6h-.6zM302.6,160.3h.6v.6h-.6zM321.6,153.0h.6v.6h-.6zM304.3,162.8h.6v.6h-.6zM305.4,146.7h.6v.6h-.6zM314.7,154.9h.6v.6h-.6zM311.8,159.9h.6v.6h-.6zM307.6,143.5h.6v.6h-.6zM310.3,152.4h.6v.6h-.6zM312.1,164.4h.6v.6h-.6zM309.5,146.4h.6v.6h-.6zM310.3,159.4h.6v.6h-.6zM313.6,175.6h.6v.6h-.6zM305.3,158.1h.6v.6h-.6zM317.3,151.9h.6v.6h-.6zM319.7,160.1h.6v.6h-.6zM308.7,161.8h.6v.6h-.6zM310.0,153.1h.6v.6h-.6zM318.3,160.1h.6v.6h-.6zM306.7,150.0h.6v.6h-.6zM317.2,167.0h.6v.6h-.6zM305.8,151.5h.6v.6h-.6zM310.7,154.8h.6v.6h-.6zM317.1,163.7h.6v.6h-.6zM313.7,145.6h.6v.6h-.6zM314.2,147.1h.6v.6h-.6zM306.0,149.6h.6v.6h-.6zM314.9,168.5h.6v.6h-.6zM316.6,169.4h.6v.6h-.6zM319.0,162.3h.6v.6h-.6zM310.2,156.2h.6v.6h-.6zM307.0,144.2h.6v.6h-.6zM304.1,165.1h.6v.6h-.6zM316.7,166.4h.6v.6h-.6zM310.7,153.9h.6v.6h-.6zM305.1,149.7h.6v.6h-.6zM313.8,166.2h.6v.6h-.6zM320.6,154.4h.6v.6h-.6zM313.1,175.3h.6v.6h-.6zM316.7,154.5h.6v.6h-.6zM305.3,160.7h.6v.6h-.6zM310.1,144.6h.6v.6h-.6zM318.8,161.2h.6v.6h-.6zM309.8,168.1h.6v.6h-.6zM304.6,150.1h.6v.6h-.6zM312.2,151.4h.6v.6h-.6zM306.4,145.8h.6v.6h-.6zM300.1,155.2h.6v.6h-.6zM311.0,174.8h.6v.6h-.6zM313.6,157.2h.6v.6h-.6zM308.2,151.2h.6v.6h-.6zM301.7,157.8h.6v.6h-.6zM314.7,168.7h.6v.6h-.6zM311.7,164.7h.6v.6h-.6zM304.6,161.4h.6v.6h-.6zM300.2,148.4h.6v.6h-.6zM311.6,152.5h.6v.6h-.6zM315.5,167.5h.6v.6h-.6zM306.2,168.8h.6v.6h-.6zM313.8,166.8h.6v.6h-.6zM309.4,157.8h.6v.6h-.6zM301.3,159.2h.6v.6h-.6zM305.1,166.4h.6v.6h-.6zM308.9,147.7h.6v.6h-.6zM308.7,162.4h.6v.6h-.6zM316.0,156.8h.6v.6h-.6zM313.8,166.0h.6v.6h-.6zM313.1,145.0h.6v.6h-.6zM315.2,147.7h.6v.6h-.6zM300.1,159.1h.6v.6h-.6zM307.9,159.0h.6v.6h-.6zM318.5,159.6h.6v.6h-.6zM312.4,153.9h.6v.6h-.6zM305.9,150.8h.6v.6h-.6zM318.8,160.3h.6v.6h-.6zM308.3,156.7h.6v.6h-.6zM319.3,152.0h.6v.6h-.6zM317.1,166.9h.6v.6h-.6zM309.2,155.6h.6v.6h-.6zM308.9,158.4h.6v.6h-.6zM306.1,164.1h.6v.6h-.6zM308.3,153.5h.6v.6h-.6zM316.7,158.5h.6v.6h-.6zM309.8,172.6h.6v.6h-.6zM309.3,155.9h.6v.6h-.6zM317.0,156.7h.6v.6h-.6z" fill="#ffffff" fill-opacity="0.55"/>
<path d="M304.0,144.0h.7v.7h-.7zM305.1,144.0h.7v.7h-.7zM303.2,144.8h.7v.7h-.7zM301.7,145.1h.7v.7h-.7zM305.1,144.3h.7v.7h-.7zM299.6,147.0h.7v.7h-.7zM301.5,145.5h.7v.7h-.7zM308.6,143.4h.7v.7h-.7zM312.1,143.8h.7v.7h-.7zM311.1,143.0h.7v.7h-.7zM309.2,142.5h.7v.7h-.7zM310.0,143.2h.7v.7h-.7zM309.4,143.2h.7v.7h-.7zM312.5,144.3h.7v.7h-.7zM313.7,142.5h.7v.7h-.7zM312.9,143.6h.7v.7h-.7zM315.4,145.0h.7v.7h-.7zM317.2,144.4h.7v.7h-.7zM316.6,144.9h.7v.7h-.7zM314.9,144.6h.7v.7h-.7zM316.7,144.4h.7v.7h-.7zM319.4,145.8h.7v.7h-.7zM318.9,145.1h.7v.7h-.7zM320.9,147.9h.7v.7h-.7zM319.3,146.1h.7v.7h-.7zM319.3,145.9h.7v.7h-.7zM322.8,149.2h.7v.7h-.7zM321.9,150.1h.7v.7h-.7zM322.2,147.7h.7v.7h-.7zM320.9,150.0h.7v.7h-.7zM322.4,147.2h.7v.7h-.7zM321.6,148.6h.7v.7h-.7zM322.1,150.1h.7v.7h-.7zM321.5,152.0h.7v.7h-.7zM319.2,159.6h.7v.7h-.7zM319.7,161.5h.7v.7h-.7zM321.2,160.1h.7v.7h-.7zM320.2,157.3h.7v.7h-.7zM320.7,159.6h.7v.7h-.7zM320.6,156.8h.7v.7h-.7zM322.0,155.5h.7v.7h-.7zM319.0,162.9h.7v.7h-.7zM319.4,165.8h.7v.7h-.7zM319.9,160.9h.7v.7h-.7zM318.9,164.8h.7v.7h-.7zM319.9,163.2h.7v.7h-.7zM318.5,166.6h.7v.7h-.7zM319.5,160.9h.7v.7h-.7zM317.0,168.0h.7v.7h-.7zM316.8,169.1h.7v.7h-.7zM316.4,170.8h.7v.7h-.7zM317.4,169.1h.7v.7h-.7zM317.7,168.1h.7v.7h-.7zM318.3,169.5h.7v.7h-.7zM316.5,169.8h.7v.7h-.7zM313.5,175.3h.7v.7h-.7zM313.8,174.6h.7v.7h-.7zM314.1,174.7h.7v.7h-.7zM313.8,174.4h.7v.7h-.7zM314.0,175.5h.7v.7h-.7zM313.0,176.6h.7v.7h-.7zM309.4,174.4h.7v.7h-.7zM313.1,175.3h.7v.7h-.7zM309.9,174.0h.7v.7h-.7zM310.6,175.9h.7v.7h-.7zM306.1,169.4h.7v.7h-.7zM305.4,169.9h.7v.7h-.7zM303.7,168.8h.7v.7h-.7zM307.9,172.0h.7v.7h-.7zM306.0,169.8h.7v.7h-.7zM309.1,174.6h.7v.7h-.7zM306.5,171.3h.7v.7h-.7zM303.6,169.6h.7v.7h-.7zM301.6,164.1h.7v.7h-.7zM303.2,164.8h.7v.7h-.7zM302.7,167.4h.7v.7h-.7zM302.2,165.9h.7v.7h-.7zM304.3,169.6h.7v.7h-.7zM304.3,167.6h.7v.7h-.7zM303.7,166.1h.7v.7h-.7zM303.5,167.7h.7v.7h-.7zM300.9,161.6h.7v.7h-.7zM305.1,168.6h.7v.7h-.7zM300.2,160.2h.7v.7h-.7zM298.6,160.1h.7v.7h-.7zM299.8,159.8h.7v.7h-.7zM299.6,159.1h.7v.7h-.7zM299.7,154.2h.7v.7h-.7zM300.0,157.8h.7v.7h-.7zM299.6,156.3h.7v.7h-.7zM298.9,154.2h.7v.7h-.7zM298.9,153.9h.7v.7h-.7zM299.2,152.7h.7v.7h-.7zM299.6,146.0h.7v.7h-.7zM299.5,148.4h.7v.7h-.7zM299.7,148.5h.7v.7h-.7zM299.1,150.5h.7v.7h-.7zM300.6,153.4h.7v.7h-.7zM299.3,151.2h.7v.7h-.7zM300.1,149.2h.7v.7h-.7z" fill="#4fa93a" fill-opacity="0.7"/>
<polygon points="320.4,145.5 327.3,146.5 333.5,148.5 338.1,149.6 340.5,148.1 341.2,159.6 340.4,165.8 338.1,169.6 331.9,170.7 324.2,170.1 319.3,169.2 319.6,161.2 321.5,154.2" fill="#25ab8e" fill-opacity="0.92"/>
<path d="M330.2,158.1h.6v.6h-.6zM336.0,159.7h.6v.6h-.6zM324.5,150.2h.6v.6h-.6zM323.4,157.3h.6v.6h-.6zM337.7,161.1h.6v.6h-.6zM335.6,164.7h.6v.6h-.6zM322.9,146.4h.6v.6h-.6zM319.9,167.6h.6v.6h-.6zM327.6,147.6h.6v.6h-.6zM320.3,166.8h.6v.6h-.6zM332.4,168.6h.6v.6h-.6zM325.6,150.3h.6v.6h-.6zM321.8,150.5h.6v.6h-.6zM333.3,149.7h.6v.6h-.6zM323.0,159.0h.6v.6h-.6zM327.5,149.2h.6v.6h-.6zM331.7,158.3h.6v.6h-.6zM327.8,157.4h.6v.6h-.6zM320.2,161.0h.6v.6h-.6zM323.5,153.9h.6v.6h-.6zM319.5,167.9h.6v.6h-.6zM332.1,155.4h.6v.6h-.6zM331.1,169.2h.6v.6h-.6zM322.2,155.1h.6v.6h-.6zM334.8,154.9h.6v.6h-.6zM334.7,168.4h.6v.6h-.6zM325.7,164.4h.6v.6h-.6zM336.4,163.1h.6v.6h-.6zM339.5,150.1h.6v.6h-.6zM327.9,167.0h.6v.6h-.6zM338.2,154.6h.6v.6h-.6zM332.5,169.7h.6v.6h-.6zM338.9,160.0h.6v.6h-.6zM337.6,162.0h.6v.6h-.6zM340.3,149.1h.6v.6h-.6zM328.1,159.7h.6v.6h-.6zM322.2,165.2h.6v.6h-.6zM320.7,161.3h.6v.6h-.6zM325.4,153.6h.6v.6h-.6zM332.6,150.3h.6v.6h-.6zM329.1,167.1h.6v.6h-.6zM327.3,163.0h.6v.6h-.6zM323.5,166.9h.6v.6h-.6zM323.6,159.5h.6v.6h-.6zM326.5,152.4h.6v.6h-.6zM320.7,163.5h.6v.6h-.6zM324.4,157.6h.6v.6h-.6zM335.1,167.1h.6v.6h-.6zM339.7,156.1h.6v.6h-.6zM326.2,155.5h.6v.6h-.6zM326.1,164.2h.6v.6h-.6zM329.4,162.8h.6v.6h-.6zM322.6,165.2h.6v.6h-.6zM340.4,150.6h.6v.6h-.6zM332.8,149.6h.6v.6h-.6zM323.3,163.9h.6v.6h-.6zM331.8,162.5h.6v.6h-.6zM321.5,146.4h.6v.6h-.6zM329.3,166.3h.6v.6h-.6zM334.2,159.3h.6v.6h-.6zM338.0,154.9h.6v.6h-.6zM321.8,161.6h.6v.6h-.6zM320.7,158.9h.6v.6h-.6zM322.1,160.7h.6v.6h-.6zM337.3,154.2h.6v.6h-.6zM321.9,162.4h.6v.6h-.6zM335.2,167.8h.6v.6h-.6zM331.4,160.1h.6v.6h-.6zM338.2,162.5h.6v.6h-.6zM340.6,152.7h.6v.6h-.6zM336.2,161.4h.6v.6h-.6zM329.7,152.1h.6v.6h-.6zM332.4,158.3h.6v.6h-.6zM322.2,160.8h.6v.6h-.6zM336.6,152.8h.6v.6h-.6zM329.3,158.2h.6v.6h-.6zM336.9,155.4h.6v.6h-.6zM339.4,157.7h.6v.6h-.6zM328.0,157.6h.6v.6h-.6zM321.0,162.6h.6v.6h-.6zM322.6,149.2h.6v.6h-.6zM328.6,160.7h.6v.6h-.6zM336.0,156.7h.6v.6h-.6zM325.8,154.7h.6v.6h-.6zM338.7,150.8h.6v.6h-.6zM319.6,167.8h.6v.6h-.6zM329.9,148.8h.6v.6h-.6zM322.3,167.9h.6v.6h-.6zM334.1,150.9h.6v.6h-.6zM329.0,160.7h.6v.6h-.6zM320.4,169.1h.6v.6h-.6zM326.6,149.1h.6v.6h-.6zM320.1,161.9h.6v.6h-.6zM329.6,168.2h.6v.6h-.6zM336.6,150.7h.6v.6h-.6zM320.3,160.7h.6v.6h-.6zM329.6,153.1h.6v.6h-.6zM339.3,150.7h.6v.6h-.6zM332.8,153.5h.6v.6h-.6zM335.1,168.3h.6v.6h-.6zM330.3,149.0h.6v.6h-.6zM331.2,169.4h.6v.6h-.6zM338.2,151.7h.6v.6h-.6zM331.4,153.5h.6v.6h-.6zM323.0,164.2h.6v.6h-.6zM335.9,154.0h.6v.6h-.6zM328.5,163.0h.6v.6h-.6zM335.2,157.2h.6v.6h-.6zM321.9,147.9h.6v.6h-.6zM323.0,166.3h.6v.6h-.6zM330.1,161.7h.6v.6h-.6zM327.3,154.8h.6v.6h-.6zM332.5,148.7h.6v.6h-.6zM334.7,160.5h.6v.6h-.6zM332.7,164.9h.6v.6h-.6zM332.6,167.6h.6v.6h-.6zM340.5,155.7h.6v.6h-.6zM333.5,154.9h.6v.6h-.6zM328.3,154.7h.6v.6h-.6zM333.4,154.4h.6v.6h-.6zM327.0,166.8h.6v.6h-.6zM336.8,162.5h.6v.6h-.6zM337.7,155.2h.6v.6h-.6zM333.3,151.8h.6v.6h-.6zM326.2,148.0h.6v.6h-.6zM336.8,168.7h.6v.6h-.6zM325.9,155.0h.6v.6h-.6zM321.9,149.0h.6v.6h-.6zM333.2,168.0h.6v.6h-.6zM335.9,151.2h.6v.6h-.6zM338.5,154.4h.6v.6h-.6zM329.7,150.5h.6v.6h-.6zM325.7,156.2h.6v.6h-.6zM325.4,163.9h.6v.6h-.6zM320.0,161.6h.6v.6h-.6zM336.8,153.7h.6v.6h-.6zM323.5,148.5h.6v.6h-.6zM321.0,165.4h.6v.6h-.6zM329.2,160.6h.6v.6h-.6zM328.5,154.4h.6v.6h-.6zM340.5,154.5h.6v.6h-.6zM331.9,148.6h.6v.6h-.6zM331.5,147.9h.6v.6h-.6zM321.3,155.8h.6v.6h-.6zM331.9,168.1h.6v.6h-.6zM340.2,164.6h.6v.6h-.6zM333.4,157.4h.6v.6h-.6zM336.3,162.4h.6v.6h-.6zM322.8,158.8h.6v.6h-.6zM328.3,158.5h.6v.6h-.6zM334.9,162.8h.6v.6h-.6zM331.8,165.4h.6v.6h-.6zM322.5,146.7h.6v.6h-.6zM322.8,169.7h.6v.6h-.6zM326.1,156.5h.6v.6h-.6zM329.5,159.7h.6v.6h-.6zM325.4,165.1h.6v.6h-.6zM326.6,166.8h.6v.6h-.6zM325.1,164.9h.6v.6h-.6zM332.2,162.3h.6v.6h-.6zM328.3,158.6h.6v.6h-.6zM323.7,157.1h.6v.6h-.6zM324.9,162.5h.6v.6h-.6zM321.6,148.9h.6v.6h-.6zM323.6,158.9h.6v.6h-.6zM327.6,149.5h.6v.6h-.6zM323.2,164.5h.6v.6h-.6zM337.2,169.1h.6v.6h-.6zM323.9,148.5h.6v.6h-.6zM322.9,151.3h.6v.6h-.6zM329.7,148.7h.6v.6h-.6zM327.0,151.5h.6v.6h-.6zM333.5,163.6h.6v.6h-.6zM336.3,156.5h.6v.6h-.6zM329.3,157.3h.6v.6h-.6zM327.4,156.9h.6v.6h-.6zM334.3,163.4h.6v.6h-.6zM326.4,159.8h.6v.6h-.6zM322.5,146.6h.6v.6h-.6zM327.8,154.5h.6v.6h-.6zM328.6,169.2h.6v.6h-.6zM326.2,154.8h.6v.6h-.6zM326.1,148.9h.6v.6h-.6zM332.2,166.6h.6v.6h-.6zM327.6,149.9h.6v.6h-.6zM321.6,145.8h.6v.6h-.6zM336.0,151.3h.6v.6h-.6zM335.1,165.4h.6v.6h-.6zM321.1,150.2h.6v.6h-.6zM326.2,164.9h.6v.6h-.6zM335.4,153.1h.6v.6h-.6zM329.2,154.4h.6v.6h-.6zM329.6,165.5h.6v.6h-.6zM325.0,165.9h.6v.6h-.6zM339.4,160.6h.6v.6h-.6zM323.7,165.8h.6v.6h-.6zM322.0,153.1h.6v.6h-.6zM329.0,166.6h.6v.6h-.6zM334.2,150.6h.6v.6h-.6zM338.9,167.3h.6v.6h-.6zM325.5,152.8h.6v.6h-.6zM328.5,169.2h.6v.6h-.6zM332.3,166.1h.6v.6h-.6zM335.3,154.1h.6v.6h-.6zM324.3,147.1h.6v.6h-.6zM331.2,155.6h.6v.6h-.6zM331.7,152.8h.6v.6h-.6zM319.7,162.5h.6v.6h-.6zM326.6,157.9h.6v.6h-.6zM327.6,152.3h.6v.6h-.6zM325.8,148.4h.6v.6h-.6zM319.7,167.6h.6v.6h-.6zM327.2,156.7h.6v.6h-.6zM321.5,165.3h.6v.6h-.6zM331.5,157.9h.6v.6h-.6zM326.8,164.4h.6v.6h-.6zM330.3,165.5h.6v.6h-.6zM337.6,168.0h.6v.6h-.6zM335.2,162.5h.6v.6h-.6zM329.4,158.9h.6v.6h-.6zM332.0,158.7h.6v.6h-.6zM337.2,167.1h.6v.6h-.6zM320.4,164.4h.6v.6h-.6zM332.8,160.6h.6v.6h-.6zM329.7,154.9h.6v.6h-.6zM340.0,149.6h.6v.6h-.6zM331.6,149.1h.6v.6h-.6zM335.8,157.8h.6v.6h-.6zM335.4,153.2h.6v.6h-.6zM324.2,164.0h.6v.6h-.6zM338.5,165.1h.6v.6h-.6z" fill="#ffffff" fill-opacity="0.55"/>
<path d="M323.1,146.2h.7v.7h-.7zM326.8,146.8h.7v.7h-.7zM324.7,146.2h.7v.7h-.7zM323.7,146.6h.7v.7h-.7zM327.3,146.9h.7v.7h-.7zM322.1,145.5h.7v.7h-.7zM322.1,146.2h.7v.7h-.7zM322.2,145.1h.7v.7h-.7zM334.0,147.8h.7v.7h-.7zM328.7,147.7h.7v.7h-.7zM330.8,147.5h.7v.7h-.7zM333.4,148.6h.7v.7h-.7zM328.1,147.7h.7v.7h-.7zM332.9,148.3h.7v.7h-.7zM329.1,145.8h.7v.7h-.7zM335.9,149.8h.7v.7h-.7zM337.8,148.9h.7v.7h-.7zM337.0,148.6h.7v.7h-.7zM333.8,148.7h.7v.7h-.7zM334.7,148.6h.7v.7h-.7zM340.6,148.5h.7v.7h-.7zM341.7,147.7h.7v.7h-.7zM340.8,147.4h.7v.7h-.7zM341.8,155.1h.7v.7h-.7zM341.1,157.6h.7v.7h-.7zM340.5,148.1h.7v.7h-.7zM341.7,158.4h.7v.7h-.7zM340.5,155.1h.7v.7h-.7zM340.6,152.1h.7v.7h-.7zM340.9,157.4h.7v.7h-.7zM341.0,154.0h.7v.7h-.7zM340.7,155.8h.7v.7h-.7zM340.2,148.4h.7v.7h-.7zM340.8,151.3h.7v.7h-.7zM341.7,155.6h.7v.7h-.7zM341.1,147.7h.7v.7h-.7zM340.2,163.8h.7v.7h-.7zM341.7,162.1h.7v.7h-.7zM340.6,158.7h.7v.7h-.7zM339.8,163.1h.7v.7h-.7zM341.1,163.8h.7v.7h-.7zM341.6,162.5h.7v.7h-.7zM341.2,162.9h.7v.7h-.7zM340.7,167.2h.7v.7h-.7zM339.7,168.1h.7v.7h-.7zM338.7,167.2h.7v.7h-.7zM339.8,167.2h.7v.7h-.7zM340.1,166.3h.7v.7h-.7zM331.6,171.0h.7v.7h-.7zM334.2,170.7h.7v.7h-.7zM336.2,170.6h.7v.7h-.7zM335.6,169.6h.7v.7h-.7zM332.3,171.4h.7v.7h-.7zM337.2,169.9h.7v.7h-.7zM332.4,171.3h.7v.7h-.7zM327.8,171.1h.7v.7h-.7zM331.1,171.1h.7v.7h-.7zM325.8,169.3h.7v.7h-.7zM328.0,169.6h.7v.7h-.7zM332.2,171.4h.7v.7h-.7zM326.5,170.1h.7v.7h-.7zM329.9,170.3h.7v.7h-.7zM328.3,171.5h.7v.7h-.7zM327.8,172.1h.7v.7h-.7zM323.1,170.1h.7v.7h-.7zM323.1,170.3h.7v.7h-.7zM320.9,170.3h.7v.7h-.7zM321.0,169.2h.7v.7h-.7zM319.7,170.3h.7v.7h-.7zM323.6,169.9h.7v.7h-.7zM319.6,168.3h.7v.7h-.7zM319.5,163.4h.7v.7h-.7zM320.7,163.3h.7v.7h-.7zM318.9,162.6h.7v.7h-.7zM319.3,168.8h.7v.7h-.7zM320.3,164.5h.7v.7h-.7zM319.2,167.3h.7v.7h-.7zM319.5,165.7h.7v.7h-.7zM319.0,165.8h.7v.7h-.7zM320.6,158.8h.7v.7h-.7zM320.8,156.1h.7v.7h-.7zM320.6,160.9h.7v.7h-.7zM321.2,154.2h.7v.7h-.7zM320.7,160.3h.7v.7h-.7zM321.2,156.7h.7v.7h-.7zM320.1,159.9h.7v.7h-.7zM319.0,161.0h.7v.7h-.7zM321.6,150.8h.7v.7h-.7zM320.3,146.9h.7v.7h-.7zM320.5,153.2h.7v.7h-.7zM321.3,153.4h.7v.7h-.7zM321.2,147.4h.7v.7h-.7zM322.1,153.4h.7v.7h-.7zM321.1,145.9h.7v.7h-.7zM320.5,154.7h.7v.7h-.7zM321.3,153.8h.7v.7h-.7zM320.4,146.7h.7v.7h-.7z" fill="#25ab8e" fill-opacity="0.7"/>
<polygon points="318.1,141.2 325.8,139.6 333.5,141.2 338.8,143.5 339.6,147.3 331.9,146.5 322.7,145.0" fill="#25ab8e" fill-opacity="0.35"/>
<path d="M325.7,141.2h.6v.6h-.6zM327.4,144.4h.6v.6h-.6zM323.3,142.6h.6v.6h-.6zM330.0,143.7h.6v.6h-.6zM333.0,141.3h.6v.6h-.6zM322.4,143.3h.6v.6h-.6zM324.1,143.9h.6v.6h-.6zM327.1,140.0h.6v.6h-.6zM336.4,146.4h.6v.6h-.6zM331.1,143.3h.6v.6h-.6zM321.0,140.6h.6v.6h-.6zM330.9,144.6h.6v.6h-.6zM335.3,146.0h.6v.6h-.6zM321.0,142.0h.6v.6h-.6zM321.2,143.4h.6v.6h-.6zM332.8,145.8h.6v.6h-.6zM336.1,146.0h.6v.6h-.6zM325.5,140.0h.6v.6h-.6zM334.5,143.3h.6v.6h-.6zM338.9,145.4h.6v.6h-.6zM337.1,146.7h.6v.6h-.6zM323.9,144.4h.6v.6h-.6zM338.6,143.5h.6v.6h-.6zM335.7,145.3h.6v.6h-.6zM336.5,143.1h.6v.6h-.6zM327.6,140.0h.6v.6h-.6zM335.1,144.0h.6v.6h-.6zM326.9,140.7h.6v.6h-.6zM328.0,140.1h.6v.6h-.6zM327.2,140.7h.6v.6h-.6zM335.9,144.3h.6v.6h-.6zM336.7,143.9h.6v.6h-.6zM321.5,141.7h.6v.6h-.6zM336.2,144.1h.6v.6h-.6zM332.0,144.5h.6v.6h-.6zM319.1,141.2h.6v.6h-.6zM338.4,144.2h.6v.6h-.6zM330.1,142.8h.6v.6h-.6zM323.4,144.3h.6v.6h-.6zM337.7,145.4h.6v.6h-.6zM324.1,144.3h.6v.6h-.6zM332.7,146.5h.6v.6h-.6zM330.6,141.6h.6v.6h-.6zM332.0,142.0h.6v.6h-.6zM331.2,141.5h.6v.6h-.6zM324.0,142.4h.6v.6h-.6zM338.2,146.0h.6v.6h-.6zM331.5,144.1h.6v.6h-.6zM325.1,142.5h.6v.6h-.6zM330.3,141.5h.6v.6h-.6zM331.9,146.3h.6v.6h-.6zM333.6,141.3h.6v.6h-.6zM329.9,143.6h.6v.6h-.6zM331.1,143.9h.6v.6h-.6zM332.7,143.9h.6v.6h-.6zM330.0,141.4h.6v.6h-.6zM320.7,143.0h.6v.6h-.6zM337.2,146.9h.6v.6h-.6zM324.4,144.0h.6v.6h-.6zM329.2,143.1h.6v.6h-.6zM319.9,141.4h.6v.6h-.6zM324.1,141.2h.6v.6h-.6zM329.4,140.9h.6v.6h-.6zM331.9,144.2h.6v.6h-.6zM331.5,143.3h.6v.6h-.6zM331.3,141.9h.6v.6h-.6zM328.1,144.9h.6v.6h-.6zM331.4,143.8h.6v.6h-.6zM334.6,141.8h.6v.6h-.6z" fill="#ffffff" fill-opacity="0.55"/>
<path d="M320.1,141.0h.7v.7h-.7zM324.2,141.4h.7v.7h-.7zM323.7,139.7h.7v.7h-.7zM322.7,140.4h.7v.7h-.7zM317.4,140.6h.7v.7h-.7zM322.9,139.6h.7v.7h-.7zM323.1,139.5h.7v.7h-.7zM321.9,139.6h.7v.7h-.7zM318.3,140.2h.7v.7h-.7zM329.7,140.1h.7v.7h-.7zM326.5,139.8h.7v.7h-.7zM327.3,139.6h.7v.7h-.7zM331.6,141.3h.7v.7h-.7zM334.4,141.8h.7v.7h-.7zM327.1,139.4h.7v.7h-.7zM328.8,139.8h.7v.7h-.7zM326.6,140.4h.7v.7h-.7zM333.0,141.4h.7v.7h-.7zM335.0,141.9h.7v.7h-.7zM336.0,143.9h.7v.7h-.7zM336.6,143.3h.7v.7h-.7zM339.0,143.4h.7v.7h-.7zM336.0,142.6h.7v.7h-.7zM334.1,141.9h.7v.7h-.7zM336.6,143.4h.7v.7h-.7zM339.5,144.2h.7v.7h-.7zM339.8,144.3h.7v.7h-.7zM339.1,145.7h.7v.7h-.7zM339.0,144.7h.7v.7h-.7zM332.9,147.9h.7v.7h-.7zM335.6,147.4h.7v.7h-.7zM334.9,146.7h.7v.7h-.7zM332.3,146.3h.7v.7h-.7zM332.2,146.6h.7v.7h-.7zM333.3,146.8h.7v.7h-.7zM337.1,147.2h.7v.7h-.7zM339.5,147.4h.7v.7h-.7zM338.9,147.9h.7v.7h-.7zM322.3,144.1h.7v.7h-.7zM327.2,145.2h.7v.7h-.7zM329.2,146.7h.7v.7h-.7zM331.5,146.1h.7v.7h-.7zM329.0,146.3h.7v.7h-.7zM329.2,146.0h.7v.7h-.7zM330.0,146.8h.7v.7h-.7zM325.7,146.4h.7v.7h-.7zM326.5,143.7h.7v.7h-.7zM329.5,146.0h.7v.7h-.7zM327.3,146.0h.7v.7h-.7zM319.8,142.6h.7v.7h-.7zM321.9,144.6h.7v.7h-.7zM321.5,143.3h.7v.7h-.7zM321.2,142.7h.7v.7h-.7zM319.1,142.9h.7v.7h-.7zM320.0,141.4h.7v.7h-.7zM321.6,143.8h.7v.7h-.7z" fill="#25ab8e" fill-opacity="0.7"/>
<polygon points="324.2,148.1 331.9,149.6 338.1,151.9 338.8,156.5 333.5,154.2 325.8,151.2" fill="#2aa9dd" fill-opacity="0.3"/>
<path d="M335.5,152.2h.6v.6h-.6zM334.3,150.8h.6v.6h-.6zM331.9,151.1h.6v.6h-.6zM330.1,150.2h.6v.6h-.6zM333.0,151.7h.6v.6h-.6zM334.2,151.7h.6v.6h-.6zM335.7,152.7h.6v.6h-.6zM327.9,150.6h.6v.6h-.6zM338.1,152.1h.6v.6h-.6zM327.5,149.2h.6v.6h-.6zM333.1,152.5h.6v.6h-.6zM326.9,148.7h.6v.6h-.6zM332.9,152.0h.6v.6h-.6zM333.5,152.8h.6v.6h-.6zM333.7,151.6h.6v.6h-.6zM336.5,152.6h.6v.6h-.6zM336.3,154.6h.6v.6h-.6zM334.3,152.7h.6v.6h-.6zM327.8,148.9h.6v.6h-.6zM333.2,152.7h.6v.6h-.6zM333.1,151.7h.6v.6h-.6zM327.7,150.6h.6v.6h-.6zM328.9,150.7h.6v.6h-.6zM330.8,151.7h.6v.6h-.6zM335.5,154.9h.6v.6h-.6zM330.8,151.9h.6v.6h-.6zM333.8,150.7h.6v.6h-.6zM336.4,151.6h.6v.6h-.6zM332.4,152.5h.6v.6h-.6zM328.3,152.1h.6v.6h-.6zM338.0,153.8h.6v.6h-.6zM336.3,155.1h.6v.6h-.6zM326.3,150.2h.6v.6h-.6zM334.8,152.9h.6v.6h-.6zM338.0,152.0h.6v.6h-.6zM332.3,150.2h.6v.6h-.6zM331.1,152.0h.6v.6h-.6zM326.4,150.2h.6v.6h-.6zM333.1,153.6h.6v.6h-.6zM329.9,151.3h.6v.6h-.6zM329.1,151.1h.6v.6h-.6zM326.6,151.5h.6v.6h-.6zM337.1,154.0h.6v.6h-.6zM329.6,150.9h.6v.6h-.6zM330.4,152.2h.6v.6h-.6zM336.5,153.4h.6v.6h-.6zM330.8,150.4h.6v.6h-.6zM329.3,150.1h.6v.6h-.6zM328.7,149.6h.6v.6h-.6zM328.4,149.0h.6v.6h-.6zM325.4,149.3h.6v.6h-.6z" fill="#ffffff" fill-opacity="0.55"/>
<path d="M327.7,149.8h.7v.7h-.7zM327.6,148.8h.7v.7h-.7zM324.7,147.6h.7v.7h-.7zM331.1,149.7h.7v.7h-.7zM328.5,149.1h.7v.7h-.7zM334.1,148.4h.7v.7h-.7zM328.3,148.1h.7v.7h-.7zM328.3,149.6h.7v.7h-.7zM327.6,148.6h.7v.7h-.7zM334.5,151.0h.7v.7h-.7zM334.6,151.7h.7v.7h-.7zM335.0,151.4h.7v.7h-.7zM332.1,149.7h.7v.7h-.7zM338.4,151.3h.7v.7h-.7zM336.8,151.6h.7v.7h-.7zM331.8,150.2h.7v.7h-.7zM338.1,153.4h.7v.7h-.7zM338.8,155.6h.7v.7h-.7zM338.2,153.9h.7v.7h-.7zM338.2,152.7h.7v.7h-.7zM339.3,154.1h.7v.7h-.7zM335.1,153.3h.7v.7h-.7zM336.0,156.3h.7v.7h-.7zM338.2,156.6h.7v.7h-.7zM335.7,154.1h.7v.7h-.7zM336.0,155.1h.7v.7h-.7zM336.0,154.7h.7v.7h-.7zM335.6,155.4h.7v.7h-.7zM332.4,154.7h.7v.7h-.7zM330.3,152.8h.7v.7h-.7zM326.9,151.4h.7v.7h-.7zM326.4,152.0h.7v.7h-.7zM330.2,153.2h.7v.7h-.7zM332.1,153.8h.7v.7h-.7zM328.3,151.8h.7v.7h-.7zM325.6,151.6h.7v.7h-.7zM325.9,150.8h.7v.7h-.7zM324.6,148.3h.7v.7h-.7zM325.6,149.9h.7v.7h-.7zM325.6,150.0h.7v.7h-.7zM325.7,149.8h.7v.7h-.7z" fill="#2aa9dd" fill-opacity="0.7"/>
<polygon points="312.2,159.6 318.1,158.1 321.5,164.2 320.4,170.7 315.8,172.7 312.7,168.1" fill="#ffffff" fill-opacity="0.38"/>
<path d="M318.1,159.2h.6v.6h-.6zM315.6,168.8h.6v.6h-.6zM316.0,170.5h.6v.6h-.6zM318.0,161.4h.6v.6h-.6zM320.0,168.3h.6v.6h-.6zM314.1,169.0h.6v.6h-.6zM312.3,160.6h.6v.6h-.6zM312.6,160.4h.6v.6h-.6zM319.0,169.2h.6v.6h-.6zM314.7,159.2h.6v.6h-.6zM320.6,166.3h.6v.6h-.6zM318.2,170.2h.6v.6h-.6zM319.2,165.4h.6v.6h-.6zM321.2,164.8h.6v.6h-.6zM316.3,167.4h.6v.6h-.6zM319.5,166.7h.6v.6h-.6zM317.8,167.1h.6v.6h-.6zM321.1,166.2h.6v.6h-.6zM318.9,169.2h.6v.6h-.6zM313.8,167.8h.6v.6h-.6zM316.3,161.2h.6v.6h-.6zM314.8,163.4h.6v.6h-.6zM319.0,166.1h.6v.6h-.6zM315.2,158.9h.6v.6h-.6zM319.5,169.1h.6v.6h-.6zM320.0,169.6h.6v.6h-.6zM312.8,162.2h.6v.6h-.6zM316.5,162.4h.6v.6h-.6zM317.8,166.9h.6v.6h-.6zM317.2,159.1h.6v.6h-.6zM317.4,165.7h.6v.6h-.6zM315.0,161.3h.6v.6h-.6zM313.7,165.1h.6v.6h-.6zM315.6,166.6h.6v.6h-.6zM318.5,162.1h.6v.6h-.6zM317.8,161.9h.6v.6h-.6zM319.1,161.1h.6v.6h-.6zM317.7,168.8h.6v.6h-.6zM319.6,165.8h.6v.6h-.6zM319.5,163.3h.6v.6h-.6zM314.7,167.2h.6v.6h-.6zM313.4,160.7h.6v.6h-.6zM313.1,167.6h.6v.6h-.6zM315.8,171.5h.6v.6h-.6zM319.7,165.8h.6v.6h-.6zM315.4,162.8h.6v.6h-.6zM312.7,159.7h.6v.6h-.6zM320.3,162.4h.6v.6h-.6zM315.7,169.4h.6v.6h-.6zM316.4,172.2h.6v.6h-.6zM313.0,165.0h.6v.6h-.6zM318.2,158.4h.6v.6h-.6zM320.7,163.0h.6v.6h-.6zM318.5,159.2h.6v.6h-.6zM320.7,165.8h.6v.6h-.6zM316.9,169.5h.6v.6h-.6z" fill="#ffffff" fill-opacity="0.55"/>
<path d="M315.6,158.5h.7v.7h-.7zM313.6,159.7h.7v.7h-.7zM314.1,159.1h.7v.7h-.7zM316.9,158.6h.7v.7h-.7zM317.8,159.0h.7v.7h-.7zM315.2,159.0h.7v.7h-.7zM312.9,158.9h.7v.7h-.7zM320.2,161.6h.7v.7h-.7zM318.7,161.8h.7v.7h-.7zM320.4,162.5h.7v.7h-.7zM317.9,158.1h.7v.7h-.7zM317.8,158.9h.7v.7h-.7zM318.3,159.1h.7v.7h-.7zM321.5,162.8h.7v.7h-.7zM319.8,161.3h.7v.7h-.7zM321.9,169.0h.7v.7h-.7zM321.0,165.8h.7v.7h-.7zM321.3,167.1h.7v.7h-.7zM320.4,165.1h.7v.7h-.7zM321.5,166.0h.7v.7h-.7zM322.1,165.9h.7v.7h-.7zM320.9,168.7h.7v.7h-.7zM319.1,171.9h.7v.7h-.7zM317.0,171.4h.7v.7h-.7zM319.3,171.4h.7v.7h-.7zM319.9,170.7h.7v.7h-.7zM316.7,172.4h.7v.7h-.7zM315.9,172.6h.7v.7h-.7zM314.3,171.3h.7v.7h-.7zM315.6,172.5h.7v.7h-.7zM314.0,170.7h.7v.7h-.7zM313.5,168.0h.7v.7h-.7zM312.7,169.8h.7v.7h-.7zM312.8,169.9h.7v.7h-.7zM312.8,165.7h.7v.7h-.7zM312.5,166.7h.7v.7h-.7zM312.8,163.1h.7v.7h-.7zM312.1,159.5h.7v.7h-.7zM311.9,160.6h.7v.7h-.7zM312.0,162.4h.7v.7h-.7zM312.9,163.4h.7v.7h-.7zM312.1,166.5h.7v.7h-.7zM312.3,162.0h.7v.7h-.7zM312.2,165.9h.7v.7h-.7z" fill="#ffffff" fill-opacity="0.7"/>
<polygon points="314.2,173.5 318.1,170.4 325.8,170.1 333.5,171.2 339.6,174.2 344.2,176.5 346.5,181.2 347.3,185.8 344.2,189.2 338.1,190.7 328.8,190.7 321.2,189.2 315.8,185.0 313.5,179.6" fill="#c8a12c" fill-opacity="0.92"/>
<path d="M336.5,179.8h.6v.6h-.6zM317.2,184.3h.6v.6h-.6zM334.3,182.7h.6v.6h-.6zM334.2,180.5h.6v.6h-.6zM330.6,190.5h.6v.6h-.6zM343.0,179.0h.6v.6h-.6zM341.0,183.8h.6v.6h-.6zM315.9,174.5h.6v.6h-.6zM321.3,187.0h.6v.6h-.6zM329.9,188.4h.6v.6h-.6zM337.9,182.2h.6v.6h-.6zM343.7,189.1h.6v.6h-.6zM323.3,182.7h.6v.6h-.6zM339.0,176.1h.6v.6h-.6zM323.8,188.7h.6v.6h-.6zM316.6,183.0h.6v.6h-.6zM338.5,189.8h.6v.6h-.6zM338.0,175.9h.6v.6h-.6zM316.9,173.6h.6v.6h-.6zM322.2,181.8h.6v.6h-.6zM324.4,173.1h.6v.6h-.6zM316.4,184.2h.6v.6h-.6zM330.8,190.3h.6v.6h-.6zM325.7,181.1h.6v.6h-.6zM343.0,186.0h.6v.6h-.6zM338.4,177.1h.6v.6h-.6zM330.1,189.5h.6v.6h-.6zM335.1,189.7h.6v.6h-.6zM318.5,174.0h.6v.6h-.6zM329.0,186.3h.6v.6h-.6zM332.5,183.7h.6v.6h-.6zM315.2,174.2h.6v.6h-.6zM333.3,185.0h.6v.6h-.6zM316.6,171.9h.6v.6h-.6zM324.1,178.6h.6v.6h-.6zM324.7,173.6h.6v.6h-.6zM316.0,183.4h.6v.6h-.6zM345.7,183.1h.6v.6h-.6zM334.3,177.6h.6v.6h-.6zM342.1,182.4h.6v.6h-.6zM334.2,188.9h.6v.6h-.6zM328.3,171.8h.6v.6h-.6zM332.4,174.7h.6v.6h-.6zM337.1,177.4h.6v.6h-.6zM317.7,175.6h.6v.6h-.6zM331.1,171.3h.6v.6h-.6zM339.6,184.8h.6v.6h-.6zM317.4,182.9h.6v.6h-.6zM317.8,181.0h.6v.6h-.6zM316.6,175.9h.6v.6h-.6zM328.7,181.3h.6v.6h-.6zM335.6,189.2h.6v.6h-.6zM324.8,177.3h.6v.6h-.6zM320.5,185.3h.6v.6h-.6zM325.9,174.4h.6v.6h-.6zM320.0,178.7h.6v.6h-.6zM341.8,179.1h.6v.6h-.6zM341.0,179.8h.6v.6h-.6zM333.1,175.3h.6v.6h-.6zM327.3,185.0h.6v.6h-.6zM316.3,179.4h.6v.6h-.6zM322.0,176.1h.6v.6h-.6zM324.9,174.2h.6v.6h-.6zM321.5,175.5h.6v.6h-.6zM319.6,187.3h.6v.6h-.6zM336.7,188.4h.6v.6h-.6zM318.0,173.9h.6v.6h-.6zM324.1,180.6h.6v.6h-.6zM341.7,187.3h.6v.6h-.6zM314.4,177.0h.6v.6h-.6zM325.3,172.7h.6v.6h-.6zM324.2,173.7h.6v.6h-.6zM328.3,174.6h.6v.6h-.6zM337.6,185.3h.6v.6h-.6zM346.1,183.2h.6v.6h-.6zM321.1,171.1h.6v.6h-.6zM331.9,180.1h.6v.6h-.6zM341.1,175.1h.6v.6h-.6zM346.8,182.7h.6v.6h-.6zM314.8,174.4h.6v.6h-.6zM345.9,186.5h.6v.6h-.6zM338.5,183.7h.6v.6h-.6zM323.5,186.0h.6v.6h-.6zM331.7,180.1h.6v.6h-.6zM331.3,189.0h.6v.6h-.6zM341.7,178.2h.6v.6h-.6zM325.3,176.7h.6v.6h-.6zM315.1,178.3h.6v.6h-.6zM341.1,180.0h.6v.6h-.6zM315.5,175.5h.6v.6h-.6zM339.6,176.1h.6v.6h-.6zM316.7,178.9h.6v.6h-.6zM333.0,172.7h.6v.6h-.6zM326.2,181.6h.6v.6h-.6zM338.7,178.5h.6v.6h-.6zM344.4,181.3h.6v.6h-.6zM319.3,186.9h.6v.6h-.6zM325.5,186.4h.6v.6h-.6zM337.8,181.8h.6v.6h-.6zM326.6,176.5h.6v.6h-.6zM341.1,186.2h.6v.6h-.6zM332.8,184.6h.6v.6h-.6zM320.8,170.5h.6v.6h-.6zM343.7,186.2h.6v.6h-.6zM337.6,176.9h.6v.6h-.6zM328.3,186.8h.6v.6h-.6zM316.6,185.0h.6v.6h-.6zM337.4,179.6h.6v.6h-.6zM345.7,183.1h.6v.6h-.6zM327.3,176.1h.6v.6h-.6zM330.3,185.6h.6v.6h-.6zM338.3,185.3h.6v.6h-.6zM316.5,178.5h.6v.6h-.6zM330.0,172.2h.6v.6h-.6zM344.0,177.8h.6v.6h-.6zM321.7,171.8h.6v.6h-.6zM331.6,177.0h.6v.6h-.6zM345.6,183.2h.6v.6h-.6zM328.0,173.3h.6v.6h-.6zM334.2,180.3h.6v.6h-.6zM330.6,178.5h.6v.6h-.6zM321.3,186.4h.6v.6h-.6zM324.1,176.9h.6v.6h-.6zM328.1,176.2h.6v.6h-.6zM332.3,184.8h.6v.6h-.6zM325.1,185.1h.6v.6h-.6zM325.5,182.9h.6v.6h-.6zM316.9,176.6h.6v.6h-.6zM332.4,182.7h.6v.6h-.6zM329.2,170.8h.6v.6h-.6zM331.7,187.9h.6v.6h-.6zM322.7,174.4h.6v.6h-.6zM334.5,174.9h.6v.6h-.6zM316.9,171.6h.6v.6h-.6zM334.6,188.3h.6v.6h-.6zM339.6,182.2h.6v.6h-.6zM343.1,187.6h.6v.6h-.6zM322.5,177.9h.6v.6h-.6zM335.2,183.1h.6v.6h-.6zM325.1,171.9h.6v.6h-.6zM324.6,174.8h.6v.6h-.6zM334.8,183.6h.6v.6h-.6zM334.8,188.9h.6v.6h-.6zM316.8,177.7h.6v.6h-.6zM344.4,179.7h.6v.6h-.6zM325.5,186.5h.6v.6h-.6zM323.4,185.1h.6v.6h-.6zM333.7,183.6h.6v.6h-.6zM314.4,177.5h.6v.6h-.6zM333.4,184.4h.6v.6h-.6zM329.8,182.9h.6v.6h-.6zM326.7,175.7h.6v.6h-.6zM323.3,174.8h.6v.6h-.6zM317.4,180.5h.6v.6h-.6zM336.1,185.4h.6v.6h-.6zM320.4,180.6h.6v.6h-.6zM314.1,180.8h.6v.6h-.6zM317.5,177.2h.6v.6h-.6zM329.5,174.6h.6v.6h-.6zM316.1,172.6h.6v.6h-.6zM320.3,188.2h.6v.6h-.6zM335.4,190.0h.6v.6h-.6zM344.8,187.5h.6v.6h-.6zM324.2,185.2h.6v.6h-.6zM346.3,185.8h.6v.6h-.6zM340.1,184.5h.6v.6h-.6zM327.8,181.9h.6v.6h-.6zM344.9,181.9h.6v.6h-.6zM314.3,179.3h.6v.6h-.6zM342.9,184.7h.6v.6h-.6zM329.8,189.3h.6v.6h-.6zM339.1,174.7h.6v.6h-.6zM337.2,188.0h.6v.6h-.6zM328.1,187.6h.6v.6h-.6zM313.9,176.7h.6v.6h-.6zM323.7,174.6h.6v.6h-.6zM335.7,186.5h.6v.6h-.6zM335.5,188.8h.6v.6h-.6zM317.3,176.0h.6v.6h-.6zM327.0,186.4h.6v.6h-.6zM338.4,190.5h.6v.6h-.6zM343.0,181.0h.6v.6h-.6zM338.5,186.9h.6v.6h-.6zM331.1,184.1h.6v.6h-.6zM342.3,187.2h.6v.6h-.6zM318.8,170.7h.6v.6h-.6zM337.4,186.9h.6v.6h-.6zM319.9,187.6h.6v.6h-.6zM318.7,183.6h.6v.6h-.6zM334.5,173.4h.6v.6h-.6zM341.7,189.6h.6v.6h-.6zM317.5,184.5h.6v.6h-.6zM332.1,188.9h.6v.6h-.6zM328.5,178.6h.6v.6h-.6zM321.4,187.5h.6v.6h-.6zM324.3,188.9h.6v.6h-.6zM333.5,178.6h.6v.6h-.6zM330.2,186.6h.6v.6h-.6zM314.7,173.4h.6v.6h-.6zM321.2,186.9h.6v.6h-.6zM326.2,178.0h.6v.6h-.6zM342.1,187.8h.6v.6h-.6zM321.6,185.4h.6v.6h-.6zM325.6,185.9h.6v.6h-.6zM329.4,178.8h.6v.6h-.6zM329.0,181.5h.6v.6h-.6zM336.8,178.4h.6v.6h-.6zM331.0,187.1h.6v.6h-.6zM336.5,174.1h.6v.6h-.6zM318.1,175.7h.6v.6h-.6zM337.1,177.7h.6v.6h-.6zM338.7,180.4h.6v.6h-.6zM345.7,180.4h.6v.6h-.6zM335.0,184.2h.6v.6h-.6zM334.8,173.7h.6v.6h-.6zM332.7,178.9h.6v.6h-.6zM336.5,186.0h.6v.6h-.6zM320.4,177.7h.6v.6h-.6zM330.1,179.4h.6v.6h-.6zM346.1,186.2h.6v.6h-.6zM342.5,180.4h.6v.6h-.6zM317.8,177.7h.6v.6h-.6zM316.3,178.3h.6v.6h-.6zM328.7,180.0h.6v.6h-.6zM319.1,173.8h.6v.6h-.6zM336.5,180.7h.6v.6h-.6zM327.3,180.3h.6v.6h-.6zM327.3,184.1h.6v.6h-.6zM330.2,175.2h.6v.6h-.6zM333.2,179.6h.6v.6h-.6zM339.2,190.0h.6v.6h-.6zM338.6,182.8h.6v.6h-.6zM330.6,172.4h.6v.6h-.6zM338.2,174.1h.6v.6h-.6zM326.3,182.1h.6v.6h-.6zM322.4,187.9h.6v.6h-.6zM332.0,190.1h.6v.6h-.6zM314.2,179.6h.6v.6h-.6zM324.4,181.9h.6v.6h-.6zM335.4,182.3h.6v.6h-.6zM345.3,179.2h.6v.6h-.6zM326.0,185.5h.6v.6h-.6zM332.2,175.6h.6v.6h-.6zM316.0,181.2h.6v.6h-.6zM344.3,187.7h.6v.6h-.6zM341.1,182.7h.6v.6h-.6zM330.8,176.1h.6v.6h-.6zM319.0,179.2h.6v.6h-.6zM341.7,181.5h.6v.6h-.6zM331.9,182.3h.6v.6h-.6zM327.6,188.8h.6v.6h-.6zM344.0,184.0h.6v.6h-.6zM325.7,185.4h.6v.6h-.6zM327.7,184.4h.6v.6h-.6zM330.5,183.1h.6v.6h-.6zM344.6,188.4h.6v.6h-.6zM329.7,178.1h.6v.6h-.6zM337.7,183.8h.6v.6h-.6zM316.7,180.6h.6v.6h-.6zM322.9,183.4h.6v.6h-.6zM319.1,176.2h.6v.6h-.6zM322.0,175.9h.6v.6h-.6zM332.6,187.9h.6v.6h-.6zM335.2,183.4h.6v.6h-.6zM339.2,178.1h.6v.6h-.6zM327.9,183.5h.6v.6h-.6zM320.5,185.6h.6v.6h-.6zM344.6,188.2h.6v.6h-.6zM321.0,172.8h.6v.6h-.6zM334.3,177.2h.6v.6h-.6zM319.5,182.6h.6v.6h-.6zM331.6,181.1h.6v.6h-.6zM330.8,182.8h.6v.6h-.6zM339.8,184.9h.6v.6h-.6zM337.4,187.1h.6v.6h-.6zM329.4,183.3h.6v.6h-.6zM317.3,171.8h.6v.6h-.6zM328.8,184.1h.6v.6h-.6zM323.3,180.2h.6v.6h-.6zM329.3,190.1h.6v.6h-.6zM318.7,175.3h.6v.6h-.6zM334.9,177.5h.6v.6h-.6zM325.1,172.8h.6v.6h-.6zM344.5,179.2h.6v.6h-.6zM333.0,175.1h.6v.6h-.6zM331.4,176.8h.6v.6h-.6zM326.0,170.9h.6v.6h-.6zM322.2,177.6h.6v.6h-.6zM331.3,177.9h.6v.6h-.6zM323.8,179.9h.6v.6h-.6zM329.3,173.8h.6v.6h-.6zM331.0,182.0h.6v.6h-.6zM332.9,185.3h.6v.6h-.6z" fill="#ffffff" fill-opacity="0.55"/>
<path d="M316.3,173.5h.7v.7h-.7zM314.5,173.7h.7v.7h-.7zM316.1,173.3h.7v.7h-.7zM314.6,172.3h.7v.7h-.7zM314.4,173.2h.7v.7h-.7zM322.1,169.0h.7v.7h-.7zM325.8,170.5h.7v.7h-.7zM322.2,171.2h.7v.7h-.7zM322.0,170.1h.7v.7h-.7zM320.7,169.2h.7v.7h-.7zM322.5,169.4h.7v.7h-.7zM321.1,169.6h.7v.7h-.7zM319.9,169.7h.7v.7h-.7zM325.0,171.1h.7v.7h-.7zM325.6,170.1h.7v.7h-.7zM329.1,171.1h.7v.7h-.7zM329.2,169.7h.7v.7h-.7zM328.0,170.8h.7v.7h-.7zM327.6,170.8h.7v.7h-.7zM332.1,170.8h.7v.7h-.7zM328.0,170.4h.7v.7h-.7zM331.4,170.9h.7v.7h-.7zM328.9,171.9h.7v.7h-.7zM335.7,172.1h.7v.7h-.7zM334.9,170.9h.7v.7h-.7zM335.9,172.0h.7v.7h-.7zM334.2,171.5h.7v.7h-.7zM337.9,174.8h.7v.7h-.7zM337.1,172.4h.7v.7h-.7zM333.4,171.2h.7v.7h-.7zM333.3,171.7h.7v.7h-.7zM340.9,174.0h.7v.7h-.7zM339.9,173.4h.7v.7h-.7zM340.7,174.5h.7v.7h-.7zM343.0,176.0h.7v.7h-.7zM340.3,174.6h.7v.7h-.7zM342.4,174.9h.7v.7h-.7zM346.4,179.9h.7v.7h-.7zM344.4,179.5h.7v.7h-.7zM346.4,179.8h.7v.7h-.7zM344.8,178.2h.7v.7h-.7zM345.2,180.8h.7v.7h-.7zM345.4,177.2h.7v.7h-.7zM345.6,184.2h.7v.7h-.7zM346.4,183.6h.7v.7h-.7zM346.8,183.9h.7v.7h-.7zM347.2,182.6h.7v.7h-.7zM346.4,181.0h.7v.7h-.7zM344.3,189.3h.7v.7h-.7zM345.4,188.6h.7v.7h-.7zM346.5,186.7h.7v.7h-.7zM347.8,185.3h.7v.7h-.7zM346.1,186.2h.7v.7h-.7zM341.0,190.7h.7v.7h-.7zM340.5,189.8h.7v.7h-.7zM339.6,189.5h.7v.7h-.7zM342.2,188.9h.7v.7h-.7zM340.4,190.7h.7v.7h-.7zM339.6,189.8h.7v.7h-.7zM339.6,190.0h.7v.7h-.7zM335.6,190.7h.7v.7h-.7zM331.9,189.8h.7v.7h-.7zM329.1,190.4h.7v.7h-.7zM335.4,190.6h.7v.7h-.7zM330.1,190.4h.7v.7h-.7zM336.0,189.8h.7v.7h-.7zM337.4,190.6h.7v.7h-.7zM330.1,190.7h.7v.7h-.7zM335.7,190.8h.7v.7h-.7zM329.9,190.7h.7v.7h-.7zM329.3,191.6h.7v.7h-.7zM322.7,189.4h.7v.7h-.7zM326.9,190.0h.7v.7h-.7zM326.5,189.9h.7v.7h-.7zM327.3,190.0h.7v.7h-.7zM322.0,190.3h.7v.7h-.7zM322.8,190.1h.7v.7h-.7zM326.4,190.9h.7v.7h-.7zM326.1,190.0h.7v.7h-.7zM322.4,189.1h.7v.7h-.7zM320.1,188.0h.7v.7h-.7zM318.7,187.5h.7v.7h-.7zM315.8,185.0h.7v.7h-.7zM316.6,186.5h.7v.7h-.7zM319.2,187.4h.7v.7h-.7zM316.8,186.5h.7v.7h-.7zM321.1,188.9h.7v.7h-.7zM320.5,189.4h.7v.7h-.7zM315.4,180.7h.7v.7h-.7zM315.8,184.0h.7v.7h-.7zM314.8,183.3h.7v.7h-.7zM316.3,185.6h.7v.7h-.7zM314.6,181.1h.7v.7h-.7zM313.6,181.5h.7v.7h-.7zM314.0,184.2h.7v.7h-.7zM312.5,178.7h.7v.7h-.7zM314.1,176.2h.7v.7h-.7zM313.6,176.6h.7v.7h-.7zM314.0,177.3h.7v.7h-.7zM313.9,173.5h.7v.7h-.7zM313.8,176.5h.7v.7h-.7zM314.4,175.0h.7v.7h-.7z" fill="#c8a12c" fill-opacity="0.7"/>
<polygon points="343.9,172.7 347.3,172.2 348.5,174.2 347.6,178.1 345.8,180.4 344.5,179.3 345.8,176.2 344.2,175.0" fill="#9088c8" fill-opacity="0.85"/>
<path d="M347.3,177.9h.6v.6h-.6zM346.2,178.5h.6v.6h-.6zM346.2,173.2h.6v.6h-.6zM346.3,178.4h.6v.6h-.6zM347.9,175.1h.6v.6h-.6zM345.6,177.9h.6v.6h-.6zM346.6,174.6h.6v.6h-.6zM347.2,177.9h.6v.6h-.6zM344.7,173.4h.6v.6h-.6zM346.3,175.5h.6v.6h-.6zM345.0,172.8h.6v.6h-.6zM346.1,176.7h.6v.6h-.6zM346.1,177.0h.6v.6h-.6zM347.8,174.6h.6v.6h-.6zM344.8,173.7h.6v.6h-.6z" fill="#ffffff" fill-opacity="0.55"/>
<path d="M347.5,171.8h.7v.7h-.7zM344.2,173.5h.7v.7h-.7zM348.1,171.9h.7v.7h-.7zM347.3,173.3h.7v.7h-.7zM347.5,172.0h.7v.7h-.7zM347.1,171.9h.7v.7h-.7zM348.1,178.5h.7v.7h-.7zM348.6,176.1h.7v.7h-.7zM348.4,174.4h.7v.7h-.7zM347.9,178.2h.7v.7h-.7zM346.8,179.3h.7v.7h-.7zM347.0,179.8h.7v.7h-.7zM347.2,178.8h.7v.7h-.7zM346.1,179.5h.7v.7h-.7zM345.5,178.0h.7v.7h-.7zM344.1,178.0h.7v.7h-.7zM344.5,177.0h.7v.7h-.7zM346.2,175.5h.7v.7h-.7zM343.2,174.9h.7v.7h-.7zM344.7,173.7h.7v.7h-.7zM343.6,173.5h.7v.7h-.7z" fill="#9088c8" fill-opacity="0.7"/>
<polygon points="345.0,188.5 348.8,189.6 355.0,190.7 361.2,191.5 365.0,192.7 364.5,194.2 359.6,193.5 353.5,192.4 347.3,191.2 344.2,190.4" fill="#e7806d" fill-opacity="0.9"/>
<path d="M355.9,191.7h.6v.6h-.6zM361.7,193.4h.6v.6h-.6zM355.2,190.8h.6v.6h-.6zM364.8,192.7h.6v.6h-.6zM350.9,190.4h.6v.6h-.6zM346.0,190.7h.6v.6h-.6zM351.8,190.9h.6v.6h-.6zM345.7,189.3h.6v.6h-.6zM349.1,191.1h.6v.6h-.6zM351.8,191.3h.6v.6h-.6zM364.2,193.2h.6v.6h-.6zM355.4,191.5h.6v.6h-.6zM361.2,192.4h.6v.6h-.6zM347.9,190.2h.6v.6h-.6zM345.0,189.0h.6v.6h-.6zM346.9,189.5h.6v.6h-.6zM354.7,191.4h.6v.6h-.6zM357.4,192.6h.6v.6h-.6zM364.2,193.2h.6v.6h-.6zM358.4,193.1h.6v.6h-.6zM348.3,189.7h.6v.6h-.6zM347.0,190.1h.6v.6h-.6zM355.9,192.4h.6v.6h-.6zM347.4,190.9h.6v.6h-.6zM347.9,190.6h.6v.6h-.6zM347.9,189.4h.6v.6h-.6zM359.6,192.3h.6v.6h-.6zM350.3,190.3h.6v.6h-.6zM350.0,191.7h.6v.6h-.6zM361.6,192.2h.6v.6h-.6zM361.5,193.4h.6v.6h-.6zM348.6,191.4h.6v.6h-.6zM355.9,191.4h.6v.6h-.6zM360.0,191.7h.6v.6h-.6zM360.8,192.1h.6v.6h-.6zM347.6,190.6h.6v.6h-.6zM357.6,192.6h.6v.6h-.6zM356.0,192.3h.6v.6h-.6zM349.6,191.3h.6v.6h-.6zM347.8,191.2h.6v.6h-.6zM357.9,191.8h.6v.6h-.6zM364.2,194.0h.6v.6h-.6zM358.6,192.3h.6v.6h-.6zM349.9,189.9h.6v.6h-.6zM363.8,192.6h.6v.6h-.6zM346.5,189.7h.6v.6h-.6zM347.6,190.9h.6v.6h-.6zM350.9,190.4h.6v.6h-.6zM350.4,190.4h.6v.6h-.6z" fill="#ffffff" fill-opacity="0.55"/>
<path d="M346.4,189.3h.7v.7h-.7zM347.4,189.6h.7v.7h-.7zM345.3,188.1h.7v.7h-.7zM347.0,187.5h.7v.7h-.7zM353.3,190.7h.7v.7h-.7zM354.0,190.5h.7v.7h-.7zM353.6,190.6h.7v.7h-.7zM355.0,191.0h.7v.7h-.7zM354.1,190.3h.7v.7h-.7zM349.4,189.7h.7v.7h-.7zM353.2,190.3h.7v.7h-.7zM359.0,191.1h.7v.7h-.7zM360.3,191.9h.7v.7h-.7zM359.1,191.1h.7v.7h-.7zM355.1,190.5h.7v.7h-.7zM360.2,190.5h.7v.7h-.7zM360.1,191.0h.7v.7h-.7zM359.3,191.3h.7v.7h-.7zM365.2,192.8h.7v.7h-.7zM364.1,192.2h.7v.7h-.7zM362.3,191.8h.7v.7h-.7zM362.3,192.3h.7v.7h-.7zM366.3,194.0h.7v.7h-.7zM363.5,193.7h.7v.7h-.7zM361.7,193.9h.7v.7h-.7zM360.9,194.7h.7v.7h-.7zM360.6,193.5h.7v.7h-.7zM364.5,192.7h.7v.7h-.7zM357.6,192.3h.7v.7h-.7zM354.5,192.8h.7v.7h-.7zM359.0,192.9h.7v.7h-.7zM355.8,193.4h.7v.7h-.7zM357.2,193.5h.7v.7h-.7zM354.1,193.4h.7v.7h-.7zM359.7,194.2h.7v.7h-.7zM353.6,191.2h.7v.7h-.7zM351.9,191.3h.7v.7h-.7zM346.9,191.2h.7v.7h-.7zM347.9,192.6h.7v.7h-.7zM350.3,192.6h.7v.7h-.7zM349.2,192.3h.7v.7h-.7zM346.8,191.6h.7v.7h-.7zM345.2,190.1h.7v.7h-.7zM346.5,191.6h.7v.7h-.7zM346.3,190.7h.7v.7h-.7zM345.5,190.0h.7v.7h-.7zM344.7,189.1h.7v.7h-.7z" fill="#e7806d" fill-opacity="0.7"/>
<polygon points="305.5,198.8 307.0,198.1 307.6,201.2 306.5,204.2 305.5,203.9" fill="#e7806d" fill-opacity="0.8"/>
<path d="M305.9,199.4h.6v.6h-.6zM306.7,200.9h.6v.6h-.6zM306.7,203.3h.6v.6h-.6zM307.5,200.9h.6v.6h-.6zM306.5,199.0h.6v.6h-.6z" fill="#ffffff" fill-opacity="0.55"/>
<path d="M306.0,199.1h.7v.7h-.7zM306.3,198.9h.7v.7h-.7zM308.3,199.0h.7v.7h-.7zM307.0,199.5h.7v.7h-.7zM308.7,201.2h.7v.7h-.7zM307.4,202.0h.7v.7h-.7zM306.9,201.8h.7v.7h-.7zM307.3,203.5h.7v.7h-.7zM305.6,204.2h.7v.7h-.7zM305.6,203.5h.7v.7h-.7zM304.5,202.4h.7v.7h-.7zM305.7,201.7h.7v.7h-.7zM305.2,202.5h.7v.7h-.7zM305.4,202.8h.7v.7h-.7zM306.1,202.4h.7v.7h-.7z" fill="#e7806d" fill-opacity="0.7"/>
<polygon points="387.5,143.5 392.9,139.6 400.6,137.3 408.3,135.8 414.5,133.5 418.3,131.6 422.2,134.2 424.9,140.4 425.2,147.3 424.0,155.0 422.2,158.8 417.5,151.9 411.4,148.1 403.7,145.8 396.0,145.0 389.8,145.0" fill="#2aa9dd" fill-opacity="0.92"/>
<path d="M412.7,135.5h.6v.6h-.6zM413.6,148.0h.6v.6h-.6zM393.0,143.6h.6v.6h-.6zM400.2,142.6h.6v.6h-.6zM391.8,143.1h.6v.6h-.6zM392.6,140.1h.6v.6h-.6zM411.0,136.1h.6v.6h-.6zM402.6,143.0h.6v.6h-.6zM410.0,144.6h.6v.6h-.6zM424.3,149.7h.6v.6h-.6zM401.0,141.5h.6v.6h-.6zM418.1,145.2h.6v.6h-.6zM403.8,145.7h.6v.6h-.6zM395.9,143.2h.6v.6h-.6zM389.5,144.1h.6v.6h-.6zM395.4,139.3h.6v.6h-.6zM416.6,140.9h.6v.6h-.6zM418.9,149.0h.6v.6h-.6zM421.2,136.0h.6v.6h-.6zM414.1,137.4h.6v.6h-.6zM398.3,138.6h.6v.6h-.6zM403.4,138.2h.6v.6h-.6zM422.2,157.8h.6v.6h-.6zM416.2,143.0h.6v.6h-.6zM417.3,147.4h.6v.6h-.6zM400.6,141.6h.6v.6h-.6zM415.3,147.0h.6v.6h-.6zM421.6,153.3h.6v.6h-.6zM421.4,156.4h.6v.6h-.6zM400.9,140.1h.6v.6h-.6zM422.7,150.4h.6v.6h-.6zM413.9,142.3h.6v.6h-.6zM396.8,142.7h.6v.6h-.6zM416.2,149.6h.6v.6h-.6zM422.8,141.6h.6v.6h-.6zM412.7,140.9h.6v.6h-.6zM396.5,140.5h.6v.6h-.6zM401.1,139.2h.6v.6h-.6zM395.1,143.4h.6v.6h-.6zM393.7,144.3h.6v.6h-.6zM397.0,144.1h.6v.6h-.6zM419.8,154.3h.6v.6h-.6zM416.2,142.4h.6v.6h-.6zM424.2,146.7h.6v.6h-.6zM413.2,141.2h.6v.6h-.6zM415.1,140.4h.6v.6h-.6zM406.4,141.4h.6v.6h-.6zM417.8,139.4h.6v.6h-.6zM422.8,147.9h.6v.6h-.6zM421.4,140.4h.6v.6h-.6zM419.3,148.2h.6v.6h-.6zM417.1,142.8h.6v.6h-.6zM410.8,138.8h.6v.6h-.6zM402.9,142.0h.6v.6h-.6zM402.0,142.5h.6v.6h-.6zM418.0,136.2h.6v.6h-.6zM424.1,145.9h.6v.6h-.6zM420.5,154.0h.6v.6h-.6zM420.2,154.3h.6v.6h-.6zM394.5,140.1h.6v.6h-.6zM420.0,148.1h.6v.6h-.6zM407.8,143.8h.6v.6h-.6zM417.7,145.4h.6v.6h-.6zM411.5,144.3h.6v.6h-.6zM411.4,142.2h.6v.6h-.6zM403.2,145.7h.6v.6h-.6zM414.5,139.2h.6v.6h-.6zM422.4,145.0h.6v.6h-.6zM419.8,150.4h.6v.6h-.6zM423.6,150.2h.6v.6h-.6zM403.6,142.7h.6v.6h-.6zM419.2,135.1h.6v.6h-.6zM423.7,151.9h.6v.6h-.6zM405.5,137.2h.6v.6h-.6zM416.1,143.1h.6v.6h-.6zM408.0,140.2h.6v.6h-.6zM422.7,141.5h.6v.6h-.6zM418.7,152.2h.6v.6h-.6zM400.3,142.0h.6v.6h-.6zM405.8,136.9h.6v.6h-.6zM411.1,146.2h.6v.6h-.6zM401.2,137.9h.6v.6h-.6zM423.4,151.9h.6v.6h-.6zM397.0,143.0h.6v.6h-.6zM411.4,136.3h.6v.6h-.6zM409.3,141.9h.6v.6h-.6zM399.2,141.3h.6v.6h-.6zM406.5,144.1h.6v.6h-.6zM394.1,142.5h.6v.6h-.6zM395.3,140.4h.6v.6h-.6zM401.4,141.1h.6v.6h-.6zM422.9,139.7h.6v.6h-.6zM412.9,134.4h.6v.6h-.6zM394.0,143.5h.6v.6h-.6zM409.8,144.7h.6v.6h-.6zM423.7,144.1h.6v.6h-.6zM422.9,142.3h.6v.6h-.6zM405.1,141.4h.6v.6h-.6zM414.9,145.3h.6v.6h-.6zM412.5,148.4h.6v.6h-.6zM414.5,141.3h.6v.6h-.6zM421.1,153.1h.6v.6h-.6zM421.6,135.7h.6v.6h-.6zM419.1,143.1h.6v.6h-.6zM399.4,138.7h.6v.6h-.6zM401.8,145.0h.6v.6h-.6zM422.7,146.0h.6v.6h-.6zM421.9,152.5h.6v.6h-.6zM421.7,134.6h.6v.6h-.6zM410.8,136.7h.6v.6h-.6zM411.8,143.5h.6v.6h-.6zM401.1,142.5h.6v.6h-.6zM408.3,146.4h.6v.6h-.6zM419.5,141.8h.6v.6h-.6zM417.5,146.0h.6v.6h-.6zM395.8,142.7h.6v.6h-.6zM417.7,151.9h.6v.6h-.6zM412.0,141.5h.6v.6h-.6zM410.3,135.3h.6v.6h-.6zM424.0,146.1h.6v.6h-.6zM396.0,142.6h.6v.6h-.6zM412.4,139.3h.6v.6h-.6zM415.8,139.4h.6v.6h-.6zM416.0,143.4h.6v.6h-.6zM411.0,141.4h.6v.6h-.6zM391.1,145.0h.6v.6h-.6zM403.2,140.5h.6v.6h-.6zM408.9,146.3h.6v.6h-.6zM421.6,139.7h.6v.6h-.6zM420.4,140.2h.6v.6h-.6zM394.2,143.3h.6v.6h-.6zM418.4,150.1h.6v.6h-.6zM423.7,155.6h.6v.6h-.6zM412.4,144.7h.6v.6h-.6zM422.7,145.6h.6v.6h-.6zM412.9,144.4h.6v.6h-.6zM416.8,150.8h.6v.6h-.6zM413.1,147.7h.6v.6h-.6zM393.9,144.5h.6v.6h-.6zM395.1,142.8h.6v.6h-.6zM413.3,145.7h.6v.6h-.6zM403.9,142.3h.6v.6h-.6zM422.0,149.3h.6v.6h-.6zM412.0,135.5h.6v.6h-.6zM407.9,136.2h.6v.6h-.6zM415.1,144.8h.6v.6h-.6zM421.1,136.0h.6v.6h-.6zM424.4,145.1h.6v.6h-.6zM421.8,135.6h.6v.6h-.6zM423.3,155.5h.6v.6h-.6zM412.8,143.2h.6v.6h-.6zM415.2,135.4h.6v.6h-.6zM419.2,146.2h.6v.6h-.6zM422.1,142.3h.6v.6h-.6zM413.8,149.4h.6v.6h-.6zM413.6,134.1h.6v.6h-.6zM421.0,135.9h.6v.6h-.6zM399.3,139.7h.6v.6h-.6zM420.5,140.2h.6v.6h-.6zM402.3,140.1h.6v.6h-.6zM414.4,136.4h.6v.6h-.6zM405.0,141.3h.6v.6h-.6zM399.2,141.0h.6v.6h-.6zM391.6,143.2h.6v.6h-.6zM418.2,151.7h.6v.6h-.6zM424.6,150.3h.6v.6h-.6zM414.8,135.5h.6v.6h-.6zM417.4,146.2h.6v.6h-.6zM424.0,148.6h.6v.6h-.6zM415.8,141.2h.6v.6h-.6zM393.2,143.7h.6v.6h-.6zM393.8,143.1h.6v.6h-.6zM424.6,150.0h.6v.6h-.6zM416.9,147.4h.6v.6h-.6zM412.0,144.7h.6v.6h-.6zM419.7,147.4h.6v.6h-.6zM408.2,142.6h.6v.6h-.6zM411.2,147.6h.6v.6h-.6zM423.0,152.7h.6v.6h-.6zM396.3,144.7h.6v.6h-.6zM420.8,143.3h.6v.6h-.6zM403.0,143.5h.6v.6h-.6zM417.3,138.6h.6v.6h-.6zM414.5,146.9h.6v.6h-.6zM420.2,146.2h.6v.6h-.6zM392.2,142.1h.6v.6h-.6zM411.6,139.2h.6v.6h-.6zM422.4,137.3h.6v.6h-.6zM406.0,144.0h.6v.6h-.6zM416.3,148.7h.6v.6h-.6zM409.2,143.4h.6v.6h-.6zM416.0,141.9h.6v.6h-.6zM392.1,142.1h.6v.6h-.6zM418.9,145.1h.6v.6h-.6zM395.9,138.9h.6v.6h-.6zM423.2,140.6h.6v.6h-.6zM418.2,134.0h.6v.6h-.6zM421.1,143.8h.6v.6h-.6zM410.2,144.6h.6v.6h-.6zM413.5,134.3h.6v.6h-.6zM416.0,136.4h.6v.6h-.6zM419.5,148.4h.6v.6h-.6zM391.5,144.0h.6v.6h-.6zM417.5,143.0h.6v.6h-.6zM416.3,150.1h.6v.6h-.6zM402.4,139.8h.6v.6h-.6zM419.6,134.6h.6v.6h-.6zM397.7,144.7h.6v.6h-.6zM399.7,143.0h.6v.6h-.6zM421.3,151.1h.6v.6h-.6zM419.7,148.0h.6v.6h-.6zM421.3,138.8h.6v.6h-.6zM418.6,137.0h.6v.6h-.6zM415.5,137.0h.6v.6h-.6zM392.0,144.1h.6v.6h-.6zM417.1,141.8h.6v.6h-.6zM415.6,147.9h.6v.6h-.6zM418.0,151.7h.6v.6h-.6zM418.3,143.2h.6v.6h-.6zM414.6,142.9h.6v.6h-.6zM409.3,140.5h.6v.6h-.6zM404.9,140.0h.6v.6h-.6zM421.3,148.3h.6v.6h-.6zM410.7,145.9h.6v.6h-.6zM411.9,143.8h.6v.6h-.6zM417.0,141.6h.6v.6h-.6zM410.9,140.3h.6v.6h-.6zM414.6,139.2h.6v.6h-.6zM420.8,143.2h.6v.6h-.6zM423.8,138.6h.6v.6h-.6zM401.8,139.2h.6v.6h-.6zM408.7,136.0h.6v.6h-.6zM420.0,143.3h.6v.6h-.6zM420.4,151.4h.6v.6h-.6zM402.8,140.9h.6v.6h-.6zM412.6,134.4h.6v.6h-.6zM422.6,155.3h.6v.6h-.6zM419.0,150.2h.6v.6h-.6zM406.8,140.8h.6v.6h-.6zM406.7,140.2h.6v.6h-.6zM421.7,141.5h.6v.6h-.6zM418.7,147.7h.6v.6h-.6zM407.4,137.7h.6v.6h-.6zM410.4,135.9h.6v.6h-.6zM421.6,134.2h.6v.6h-.6zM406.7,138.5h.6v.6h-.6zM410.1,144.3h.6v.6h-.6zM406.5,143.1h.6v.6h-.6zM408.5,136.2h.6v.6h-.6zM421.9,142.2h.6v.6h-.6zM414.2,146.1h.6v.6h-.6zM408.7,140.9h.6v.6h-.6zM419.1,139.1h.6v.6h-.6zM400.6,138.5h.6v.6h-.6zM408.5,145.1h.6v.6h-.6zM420.2,133.8h.6v.6h-.6zM417.5,133.4h.6v.6h-.6zM424.5,140.3h.6v.6h-.6zM415.6,140.6h.6v.6h-.6zM415.7,136.3h.6v.6h-.6zM390.3,142.0h.6v.6h-.6zM411.3,137.8h.6v.6h-.6zM417.3,138.7h.6v.6h-.6zM401.3,142.6h.6v.6h-.6zM419.6,132.9h.6v.6h-.6zM418.1,134.2h.6v.6h-.6zM424.1,146.7h.6v.6h-.6zM415.8,145.6h.6v.6h-.6zM421.8,137.6h.6v.6h-.6zM406.9,138.5h.6v.6h-.6zM399.7,145.0h.6v.6h-.6zM417.1,138.5h.6v.6h-.6zM422.6,156.8h.6v.6h-.6zM420.5,140.4h.6v.6h-.6zM404.3,139.0h.6v.6h-.6zM418.0,150.9h.6v.6h-.6zM411.1,146.9h.6v.6h-.6zM415.2,140.7h.6v.6h-.6zM418.3,141.1h.6v.6h-.6zM423.4,148.5h.6v.6h-.6zM418.8,140.0h.6v.6h-.6zM402.2,142.3h.6v.6h-.6zM401.6,139.8h.6v.6h-.6zM419.6,151.8h.6v.6h-.6zM404.3,138.7h.6v.6h-.6zM416.2,149.6h.6v.6h-.6zM425.1,146.5h.6v.6h-.6zM399.2,139.0h.6v.6h-.6zM406.9,143.8h.6v.6h-.6zM423.9,155.1h.6v.6h-.6zM406.1,141.5h.6v.6h-.6zM421.3,152.2h.6v.6h-.6zM422.9,145.9h.6v.6h-.6zM422.6,137.8h.6v.6h-.6zM417.7,133.0h.6v.6h-.6zM417.9,138.2h.6v.6h-.6zM404.9,144.0h.6v.6h-.6zM407.7,141.3h.6v.6h-.6zM416.9,142.8h.6v.6h-.6zM413.2,137.6h.6v.6h-.6zM411.9,139.2h.6v.6h-.6zM414.2,145.7h.6v.6h-.6zM421.8,138.8h.6v.6h-.6zM405.1,140.0h.6v.6h-.6zM415.7,135.8h.6v.6h-.6zM404.9,143.1h.6v.6h-.6zM421.6,151.1h.6v.6h-.6zM413.2,139.3h.6v.6h-.6zM422.6,147.3h.6v.6h-.6zM398.0,142.3h.6v.6h-.6zM421.9,153.7h.6v.6h-.6zM418.5,152.9h.6v.6h-.6zM403.1,141.2h.6v.6h-.6zM420.3,141.2h.6v.6h-.6zM410.8,136.5h.6v.6h-.6zM419.8,139.4h.6v.6h-.6zM419.0,135.5h.6v.6h-.6zM422.0,138.3h.6v.6h-.6zM422.9,143.2h.6v.6h-.6zM397.8,139.3h.6v.6h-.6zM404.0,140.9h.6v.6h-.6zM422.7,142.4h.6v.6h-.6zM408.5,137.1h.6v.6h-.6zM397.0,143.1h.6v.6h-.6zM408.8,138.6h.6v.6h-.6zM408.4,143.2h.6v.6h-.6zM396.6,143.1h.6v.6h-.6zM421.0,133.8h.6v.6h-.6zM399.1,140.8h.6v.6h-.6zM412.9,134.0h.6v.6h-.6zM391.3,140.9h.6v.6h-.6zM423.0,148.9h.6v.6h-.6zM400.1,137.6h.6v.6h-.6zM420.1,155.2h.6v.6h-.6zM401.5,137.6h.6v.6h-.6zM420.1,137.9h.6v.6h-.6zM395.0,143.8h.6v.6h-.6zM423.3,151.9h.6v.6h-.6zM416.1,136.5h.6v.6h-.6zM417.9,138.1h.6v.6h-.6zM413.5,138.6h.6v.6h-.6zM391.3,141.4h.6v.6h-.6zM422.8,156.5h.6v.6h-.6zM394.8,139.0h.6v.6h-.6zM393.6,141.6h.6v.6h-.6zM419.3,133.2h.6v.6h-.6zM411.2,143.6h.6v.6h-.6zM405.8,138.9h.6v.6h-.6zM418.6,146.9h.6v.6h-.6zM418.8,142.4h.6v.6h-.6zM419.7,136.6h.6v.6h-.6zM418.4,134.2h.6v.6h-.6zM396.5,142.3h.6v.6h-.6zM396.5,138.7h.6v.6h-.6zM418.9,142.6h.6v.6h-.6zM423.8,143.5h.6v.6h-.6zM423.6,145.1h.6v.6h-.6zM413.1,142.9h.6v.6h-.6zM418.2,138.4h.6v.6h-.6zM423.3,144.9h.6v.6h-.6zM420.8,147.3h.6v.6h-.6zM423.6,144.3h.6v.6h-.6zM421.7,143.6h.6v.6h-.6zM407.0,145.4h.6v.6h-.6zM414.0,137.2h.6v.6h-.6zM419.4,147.8h.6v.6h-.6zM421.9,152.8h.6v.6h-.6zM399.6,139.5h.6v.6h-.6zM423.9,140.6h.6v.6h-.6zM419.8,149.8h.6v.6h-.6zM422.4,158.1h.6v.6h-.6zM419.1,135.6h.6v.6h-.6zM398.4,143.8h.6v.6h-.6zM408.1,144.3h.6v.6h-.6zM421.1,149.1h.6v.6h-.6zM412.6,144.1h.6v.6h-.6zM420.9,140.1h.6v.6h-.6zM403.5,143.5h.6v.6h-.6zM424.9,147.2h.6v.6h-.6zM420.6,152.2h.6v.6h-.6zM424.1,144.6h.6v.6h-.6zM419.0,134.7h.6v.6h-.6zM414.8,137.3h.6v.6h-.6zM419.8,146.4h.6v.6h-.6zM401.1,142.2h.6v.6h-.6zM398.0,142.0h.6v.6h-.6zM418.0,139.6h.6v.6h-.6zM419.2,134.0h.6v.6h-.6zM422.4,152.6h.6v.6h-.6zM411.4,139.1h.6v.6h-.6zM422.6,140.9h.6v.6h-.6zM414.7,149.2h.6v.6h-.6zM401.4,137.2h.6v.6h-.6zM417.3,137.8h.6v.6h-.6zM403.5,138.8h.6v.6h-.6zM404.6,141.8h.6v.6h-.6zM420.9,146.6h.6v.6h-.6zM414.9,138.7h.6v.6h-.6zM419.4,133.4h.6v.6h-.6zM409.3,146.3h.6v.6h-.6zM404.4,138.1h.6v.6h-.6zM422.4,155.8h.6v.6h-.6zM417.0,149.8h.6v.6h-.6zM401.7,139.0h.6v.6h-.6zM412.8,138.7h.6v.6h-.6zM392.7,141.8h.6v.6h-.6zM419.1,139.5h.6v.6h-.6zM425.1,146.1h.6v.6h-.6zM406.9,137.9h.6v.6h-.6zM417.6,141.3h.6v.6h-.6zM414.7,145.8h.6v.6h-.6zM400.3,138.9h.6v.6h-.6zM391.0,142.4h.6v.6h-.6zM424.6,147.1h.6v.6h-.6zM409.7,142.8h.6v.6h-.6zM391.3,141.3h.6v.6h-.6zM401.4,141.8h.6v.6h-.6zM421.5,147.6h.6v.6h-.6zM398.4,139.7h.6v.6h-.6zM412.3,144.5h.6v.6h-.6zM420.1,138.1h.6v.6h-.6zM416.6,138.5h.6v.6h-.6zM400.4,139.5h.6v.6h-.6zM400.5,139.1h.6v.6h-.6zM395.2,142.2h.6v.6h-.6zM391.7,142.9h.6v.6h-.6zM419.9,147.7h.6v.6h-.6zM411.2,146.0h.6v.6h-.6zM410.2,135.9h.6v.6h-.6zM419.8,148.3h.6v.6h-.6zM416.1,139.5h.6v.6h-.6z" fill="#ffffff" fill-opacity="0.55"/>
<path d="M388.6,142.3h.7v.7h-.7zM389.9,142.1h.7v.7h-.7zM391.9,140.2h.7v.7h-.7zM388.1,144.3h.7v.7h-.7zM392.9,140.5h.7v.7h-.7zM386.7,143.5h.7v.7h-.7zM389.9,142.1h.7v.7h-.7zM398.8,137.8h.7v.7h-.7zM395.1,139.5h.7v.7h-.7zM393.8,139.5h.7v.7h-.7zM400.6,137.1h.7v.7h-.7zM399.2,138.6h.7v.7h-.7zM397.3,137.6h.7v.7h-.7zM397.9,138.5h.7v.7h-.7zM395.6,139.7h.7v.7h-.7zM399.8,137.2h.7v.7h-.7zM402.4,137.6h.7v.7h-.7zM403.3,137.5h.7v.7h-.7zM404.1,136.9h.7v.7h-.7zM406.0,137.0h.7v.7h-.7zM401.1,137.5h.7v.7h-.7zM407.9,137.0h.7v.7h-.7zM403.2,137.5h.7v.7h-.7zM407.1,135.8h.7v.7h-.7zM408.2,136.9h.7v.7h-.7zM414.3,133.6h.7v.7h-.7zM411.8,133.3h.7v.7h-.7zM413.3,134.7h.7v.7h-.7zM411.4,134.1h.7v.7h-.7zM411.6,134.6h.7v.7h-.7zM412.1,135.0h.7v.7h-.7zM413.5,133.6h.7v.7h-.7zM418.5,131.9h.7v.7h-.7zM414.9,133.0h.7v.7h-.7zM414.3,134.1h.7v.7h-.7zM416.3,132.9h.7v.7h-.7zM417.1,130.9h.7v.7h-.7zM421.5,134.0h.7v.7h-.7zM420.2,131.9h.7v.7h-.7zM420.6,132.5h.7v.7h-.7zM419.5,132.5h.7v.7h-.7zM421.4,133.2h.7v.7h-.7zM423.8,138.6h.7v.7h-.7zM422.0,134.9h.7v.7h-.7zM423.2,138.7h.7v.7h-.7zM424.1,139.4h.7v.7h-.7zM424.6,140.0h.7v.7h-.7zM422.2,133.9h.7v.7h-.7zM424.9,139.3h.7v.7h-.7zM424.4,140.4h.7v.7h-.7zM425.5,142.4h.7v.7h-.7zM425.2,147.0h.7v.7h-.7zM424.3,147.0h.7v.7h-.7zM425.3,147.0h.7v.7h-.7zM425.2,142.6h.7v.7h-.7zM425.6,144.6h.7v.7h-.7zM424.4,145.6h.7v.7h-.7zM425.1,140.9h.7v.7h-.7zM424.9,148.9h.7v.7h-.7zM424.9,153.7h.7v.7h-.7zM424.7,147.3h.7v.7h-.7zM425.0,149.9h.7v.7h-.7zM425.1,151.7h.7v.7h-.7zM425.6,152.9h.7v.7h-.7zM424.9,151.0h.7v.7h-.7zM424.7,147.8h.7v.7h-.7zM425.0,151.6h.7v.7h-.7zM424.1,156.3h.7v.7h-.7zM423.3,156.3h.7v.7h-.7zM423.5,157.5h.7v.7h-.7zM421.2,157.8h.7v.7h-.7zM423.3,158.6h.7v.7h-.7zM417.5,153.0h.7v.7h-.7zM420.2,154.8h.7v.7h-.7zM417.9,152.8h.7v.7h-.7zM419.6,155.4h.7v.7h-.7zM421.2,157.9h.7v.7h-.7zM416.8,152.4h.7v.7h-.7zM419.8,155.3h.7v.7h-.7zM417.5,151.7h.7v.7h-.7zM420.0,154.2h.7v.7h-.7zM416.7,150.7h.7v.7h-.7zM413.6,148.4h.7v.7h-.7zM416.3,151.4h.7v.7h-.7zM416.6,151.4h.7v.7h-.7zM416.7,150.0h.7v.7h-.7zM413.6,148.5h.7v.7h-.7zM414.4,150.1h.7v.7h-.7zM413.7,150.0h.7v.7h-.7zM408.5,147.6h.7v.7h-.7zM406.0,147.8h.7v.7h-.7zM405.6,147.0h.7v.7h-.7zM405.6,146.7h.7v.7h-.7zM406.7,147.2h.7v.7h-.7zM407.0,147.0h.7v.7h-.7zM405.2,145.2h.7v.7h-.7zM409.8,148.2h.7v.7h-.7zM404.3,145.2h.7v.7h-.7zM401.5,144.3h.7v.7h-.7zM396.6,144.8h.7v.7h-.7zM395.8,144.0h.7v.7h-.7zM403.7,145.1h.7v.7h-.7zM398.1,144.5h.7v.7h-.7zM401.4,144.6h.7v.7h-.7zM397.4,144.7h.7v.7h-.7zM400.4,144.5h.7v.7h-.7zM395.4,145.8h.7v.7h-.7zM394.0,144.9h.7v.7h-.7zM389.9,144.5h.7v.7h-.7zM394.4,145.0h.7v.7h-.7zM393.3,145.6h.7v.7h-.7zM392.0,145.2h.7v.7h-.7zM390.4,145.3h.7v.7h-.7zM395.6,144.3h.7v.7h-.7zM388.7,143.9h.7v.7h-.7zM388.8,144.1h.7v.7h-.7zM389.2,144.2h.7v.7h-.7z" fill="#2aa9dd" fill-opacity="0.7"/>
<polygon points="381.4,149.6 387.5,144.2 396.0,144.5 401.4,146.5 403.7,150.4 402.5,158.1 399.8,165.8 396.0,172.7 392.2,176.8 387.5,174.2 382.9,167.3 380.3,158.1" fill="#4fa93a" fill-opacity="0.92"/>
<path d="M382.9,164.3h.6v.6h-.6zM387.3,168.6h.6v.6h-.6zM395.8,162.5h.6v.6h-.6zM381.3,157.6h.6v.6h-.6zM382.8,158.4h.6v.6h-.6zM387.5,151.0h.6v.6h-.6zM386.2,171.3h.6v.6h-.6zM382.8,165.2h.6v.6h-.6zM390.0,157.4h.6v.6h-.6zM384.2,166.7h.6v.6h-.6zM387.1,157.3h.6v.6h-.6zM388.1,161.1h.6v.6h-.6zM385.2,150.0h.6v.6h-.6zM399.2,164.7h.6v.6h-.6zM398.6,168.1h.6v.6h-.6zM394.7,169.0h.6v.6h-.6zM389.2,150.2h.6v.6h-.6zM391.8,168.2h.6v.6h-.6zM391.0,148.1h.6v.6h-.6zM397.0,157.3h.6v.6h-.6zM394.9,162.5h.6v.6h-.6zM391.5,164.8h.6v.6h-.6zM393.6,156.5h.6v.6h-.6zM388.2,144.7h.6v.6h-.6zM383.5,153.1h.6v.6h-.6zM391.8,168.8h.6v.6h-.6zM394.5,171.5h.6v.6h-.6zM388.7,146.5h.6v.6h-.6zM389.4,174.9h.6v.6h-.6zM397.7,166.8h.6v.6h-.6zM393.2,152.6h.6v.6h-.6zM390.0,154.9h.6v.6h-.6zM394.9,152.3h.6v.6h-.6zM400.4,156.4h.6v.6h-.6zM382.9,159.5h.6v.6h-.6zM388.2,146.5h.6v.6h-.6zM394.7,145.1h.6v.6h-.6zM390.0,152.5h.6v.6h-.6zM398.7,157.1h.6v.6h-.6zM387.9,154.2h.6v.6h-.6zM384.3,159.2h.6v.6h-.6zM395.5,158.4h.6v.6h-.6zM395.3,154.0h.6v.6h-.6zM388.8,153.7h.6v.6h-.6zM385.3,168.4h.6v.6h-.6zM394.8,159.6h.6v.6h-.6zM389.9,168.1h.6v.6h-.6zM396.0,162.1h.6v.6h-.6zM386.4,169.1h.6v.6h-.6zM394.9,169.8h.6v.6h-.6zM384.7,166.8h.6v.6h-.6zM398.9,165.2h.6v.6h-.6zM391.4,161.8h.6v.6h-.6zM388.5,173.6h.6v.6h-.6zM390.2,171.1h.6v.6h-.6zM399.4,158.1h.6v.6h-.6zM395.5,162.6h.6v.6h-.6zM397.8,149.9h.6v.6h-.6zM388.3,146.0h.6v.6h-.6zM398.5,158.8h.6v.6h-.6zM382.9,161.8h.6v.6h-.6zM392.1,144.5h.6v.6h-.6zM401.6,158.0h.6v.6h-.6zM389.8,157.0h.6v.6h-.6zM393.5,161.5h.6v.6h-.6zM381.3,152.0h.6v.6h-.6zM392.2,167.8h.6v.6h-.6zM385.5,170.3h.6v.6h-.6zM391.7,149.4h.6v.6h-.6zM397.3,167.3h.6v.6h-.6zM398.9,164.4h.6v.6h-.6zM390.6,171.5h.6v.6h-.6zM387.4,162.0h.6v.6h-.6zM388.7,163.7h.6v.6h-.6zM388.8,154.2h.6v.6h-.6zM392.8,153.1h.6v.6h-.6zM389.0,151.4h.6v.6h-.6zM398.1,158.0h.6v.6h-.6zM398.6,164.6h.6v.6h-.6zM399.0,152.0h.6v.6h-.6zM394.6,171.5h.6v.6h-.6zM391.0,166.1h.6v.6h-.6zM381.6,150.4h.6v.6h-.6zM382.3,156.4h.6v.6h-.6zM387.4,152.8h.6v.6h-.6zM391.8,169.2h.6v.6h-.6zM382.2,158.4h.6v.6h-.6zM388.0,171.1h.6v.6h-.6zM389.8,158.9h.6v.6h-.6zM393.4,150.9h.6v.6h-.6zM383.9,164.0h.6v.6h-.6zM385.0,155.2h.6v.6h-.6zM390.5,157.0h.6v.6h-.6zM391.8,150.4h.6v.6h-.6zM402.9,151.7h.6v.6h-.6zM399.2,166.2h.6v.6h-.6zM395.6,151.3h.6v.6h-.6zM386.4,159.6h.6v.6h-.6zM401.6,157.8h.6v.6h-.6zM389.0,165.6h.6v.6h-.6zM391.2,156.6h.6v.6h-.6zM382.4,153.6h.6v.6h-.6zM381.0,153.8h.6v.6h-.6zM390.6,150.1h.6v.6h-.6zM388.0,164.8h.6v.6h-.6zM386.6,146.4h.6v.6h-.6zM383.8,161.0h.6v.6h-.6zM386.5,156.1h.6v.6h-.6zM390.5,172.1h.6v.6h-.6zM385.5,150.8h.6v.6h-.6zM391.5,166.9h.6v.6h-.6zM396.0,152.7h.6v.6h-.6zM396.1,150.7h.6v.6h-.6zM385.1,148.1h.6v.6h-.6zM388.3,170.0h.6v.6h-.6zM384.4,161.3h.6v.6h-.6zM397.9,169.0h.6v.6h-.6zM382.7,158.6h.6v.6h-.6zM396.8,166.2h.6v.6h-.6zM387.9,146.0h.6v.6h-.6zM398.0,158.1h.6v.6h-.6zM386.5,167.2h.6v.6h-.6zM388.0,173.6h.6v.6h-.6zM386.7,162.2h.6v.6h-.6zM387.3,149.7h.6v.6h-.6zM401.2,157.2h.6v.6h-.6zM382.8,151.3h.6v.6h-.6zM393.2,146.2h.6v.6h-.6zM394.0,148.9h.6v.6h-.6zM393.3,152.1h.6v.6h-.6zM387.1,164.0h.6v.6h-.6zM389.9,170.7h.6v.6h-.6zM401.4,153.1h.6v.6h-.6zM391.9,162.5h.6v.6h-.6zM392.3,158.5h.6v.6h-.6zM398.5,151.4h.6v.6h-.6zM385.4,149.7h.6v.6h-.6zM387.1,152.0h.6v.6h-.6zM393.7,150.1h.6v.6h-.6zM391.2,167.3h.6v.6h-.6zM399.2,158.5h.6v.6h-.6zM402.1,155.6h.6v.6h-.6zM386.9,168.4h.6v.6h-.6zM398.0,156.6h.6v.6h-.6zM390.2,159.4h.6v.6h-.6zM391.8,162.0h.6v.6h-.6zM399.0,163.0h.6v.6h-.6zM402.8,152.1h.6v.6h-.6zM397.8,145.7h.6v.6h-.6zM398.2,167.0h.6v.6h-.6zM391.3,154.9h.6v.6h-.6zM380.8,155.7h.6v.6h-.6zM397.1,159.7h.6v.6h-.6zM394.8,144.9h.6v.6h-.6zM400.6,150.1h.6v.6h-.6zM393.2,157.7h.6v.6h-.6zM392.4,150.4h.6v.6h-.6zM386.0,153.2h.6v.6h-.6zM390.6,174.0h.6v.6h-.6zM384.8,149.8h.6v.6h-.6zM401.2,155.9h.6v.6h-.6zM383.1,163.5h.6v.6h-.6zM388.0,145.2h.6v.6h-.6zM400.4,163.6h.6v.6h-.6zM395.8,164.2h.6v.6h-.6zM382.7,156.0h.6v.6h-.6zM382.4,152.1h.6v.6h-.6zM395.3,167.7h.6v.6h-.6zM384.0,164.6h.6v.6h-.6zM398.1,154.8h.6v.6h-.6zM400.4,154.4h.6v.6h-.6zM393.8,151.0h.6v.6h-.6zM395.1,166.0h.6v.6h-.6zM386.0,165.4h.6v.6h-.6zM387.1,153.9h.6v.6h-.6zM383.4,150.3h.6v.6h-.6zM395.0,172.3h.6v.6h-.6zM391.9,171.9h.6v.6h-.6zM391.5,145.3h.6v.6h-.6zM392.0,174.5h.6v.6h-.6zM388.1,162.2h.6v.6h-.6zM390.5,151.7h.6v.6h-.6zM392.9,156.5h.6v.6h-.6zM388.1,170.2h.6v.6h-.6zM382.7,153.2h.6v.6h-.6zM382.1,162.9h.6v.6h-.6zM384.7,166.2h.6v.6h-.6zM389.3,149.1h.6v.6h-.6zM402.6,152.4h.6v.6h-.6zM382.2,162.1h.6v.6h-.6zM387.3,146.8h.6v.6h-.6zM394.3,170.6h.6v.6h-.6zM395.6,168.0h.6v.6h-.6zM389.4,159.6h.6v.6h-.6zM384.7,169.0h.6v.6h-.6zM393.0,162.1h.6v.6h-.6zM399.5,156.0h.6v.6h-.6zM389.3,159.2h.6v.6h-.6zM393.5,157.9h.6v.6h-.6zM381.5,150.3h.6v.6h-.6zM388.1,164.7h.6v.6h-.6zM395.2,164.4h.6v.6h-.6zM399.6,155.9h.6v.6h-.6zM388.9,165.8h.6v.6h-.6zM395.2,159.4h.6v.6h-.6zM391.9,146.8h.6v.6h-.6zM388.9,151.4h.6v.6h-.6zM386.6,168.3h.6v.6h-.6zM400.3,158.5h.6v.6h-.6zM403.2,151.8h.6v.6h-.6zM397.6,160.8h.6v.6h-.6zM392.9,174.0h.6v.6h-.6zM386.2,151.4h.6v.6h-.6zM382.1,153.7h.6v.6h-.6zM393.6,172.3h.6v.6h-.6zM391.9,160.0h.6v.6h-.6zM389.2,169.4h.6v.6h-.6zM401.4,153.2h.6v.6h-.6zM402.2,155.5h.6v.6h-.6zM382.9,156.6h.6v.6h-.6zM384.1,166.8h.6v.6h-.6zM401.8,160.0h.6v.6h-.6zM393.7,147.5h.6v.6h-.6zM383.1,160.7h.6v.6h-.6zM400.5,151.8h.6v.6h-.6zM381.7,160.8h.6v.6h-.6zM397.5,152.9h.6v.6h-.6zM400.7,158.0h.6v.6h-.6zM398.0,151.8h.6v.6h-.6zM396.5,149.0h.6v.6h-.6zM385.9,160.2h.6v.6h-.6zM384.7,152.3h.6v.6h-.6zM386.7,145.0h.6v.6h-.6zM400.7,160.5h.6v.6h-.6zM401.6,153.2h.6v.6h-.6zM385.9,157.4h.6v.6h-.6zM395.1,163.3h.6v.6h-.6zM390.3,168.8h.6v.6h-.6zM393.1,156.9h.6v.6h-.6zM385.8,164.7h.6v.6h-.6zM396.8,170.2h.6v.6h-.6zM396.7,166.6h.6v.6h-.6zM385.5,160.2h.6v.6h-.6zM399.8,155.4h.6v.6h-.6zM398.0,163.1h.6v.6h-.6zM393.4,165.5h.6v.6h-.6zM396.5,160.7h.6v.6h-.6zM390.1,146.9h.6v.6h-.6zM397.7,156.9h.6v.6h-.6zM396.5,163.7h.6v.6h-.6zM397.4,163.5h.6v.6h-.6zM397.1,165.3h.6v.6h-.6zM390.1,168.2h.6v.6h-.6zM393.8,161.6h.6v.6h-.6zM388.5,152.6h.6v.6h-.6zM396.8,167.5h.6v.6h-.6zM388.3,157.0h.6v.6h-.6zM383.2,162.2h.6v.6h-.6zM396.4,157.3h.6v.6h-.6zM395.4,173.2h.6v.6h-.6zM386.3,161.4h.6v.6h-.6zM387.6,145.6h.6v.6h-.6zM384.9,167.5h.6v.6h-.6zM385.8,162.5h.6v.6h-.6zM391.4,165.2h.6v.6h-.6zM381.0,155.9h.6v.6h-.6zM390.3,169.3h.6v.6h-.6zM399.8,165.4h.6v.6h-.6zM393.3,173.8h.6v.6h-.6zM395.6,158.6h.6v.6h-.6zM401.4,161.1h.6v.6h-.6zM396.5,146.6h.6v.6h-.6zM397.6,166.4h.6v.6h-.6zM385.1,148.4h.6v.6h-.6zM391.5,151.4h.6v.6h-.6zM389.2,165.7h.6v.6h-.6zM383.9,148.3h.6v.6h-.6zM394.8,152.3h.6v.6h-.6zM391.9,169.9h.6v.6h-.6zM393.8,162.7h.6v.6h-.6zM392.3,171.7h.6v.6h-.6zM395.9,152.5h.6v.6h-.6zM394.1,168.9h.6v.6h-.6zM389.8,156.9h.6v.6h-.6zM385.1,160.2h.6v.6h-.6zM399.6,146.1h.6v.6h-.6zM393.0,161.3h.6v.6h-.6zM395.1,156.2h.6v.6h-.6zM383.9,163.5h.6v.6h-.6zM391.3,155.0h.6v.6h-.6zM400.5,160.8h.6v.6h-.6zM390.0,156.3h.6v.6h-.6zM389.4,150.8h.6v.6h-.6zM390.0,175.3h.6v.6h-.6zM394.2,145.4h.6v.6h-.6zM390.0,170.8h.6v.6h-.6zM382.7,165.3h.6v.6h-.6zM390.6,173.3h.6v.6h-.6zM392.5,175.0h.6v.6h-.6zM390.1,161.8h.6v.6h-.6zM381.6,161.7h.6v.6h-.6zM390.3,162.8h.6v.6h-.6zM397.1,158.5h.6v.6h-.6zM387.2,168.6h.6v.6h-.6zM387.7,160.1h.6v.6h-.6zM392.0,145.1h.6v.6h-.6zM392.4,152.7h.6v.6h-.6zM391.3,145.0h.6v.6h-.6zM402.4,151.2h.6v.6h-.6zM389.8,171.2h.6v.6h-.6zM397.7,156.3h.6v.6h-.6zM386.8,145.5h.6v.6h-.6zM399.9,156.3h.6v.6h-.6zM386.8,150.4h.6v.6h-.6zM383.7,163.5h.6v.6h-.6zM394.3,160.0h.6v.6h-.6zM389.3,154.2h.6v.6h-.6zM387.5,159.2h.6v.6h-.6zM388.3,145.8h.6v.6h-.6zM387.7,165.5h.6v.6h-.6z" fill="#ffffff" fill-opacity="0.55"/>
<path d="M384.6,147.4h.7v.7h-.7zM382.8,146.9h.7v.7h-.7zM386.7,145.8h.7v.7h-.7zM387.7,143.9h.7v.7h-.7zM383.4,146.7h.7v.7h-.7zM384.2,144.8h.7v.7h-.7zM386.2,145.5h.7v.7h-.7zM384.9,147.7h.7v.7h-.7zM385.0,147.0h.7v.7h-.7zM388.9,144.6h.7v.7h-.7zM394.9,144.5h.7v.7h-.7zM388.7,145.1h.7v.7h-.7zM393.7,145.0h.7v.7h-.7zM391.8,144.5h.7v.7h-.7zM396.2,144.7h.7v.7h-.7zM387.8,143.3h.7v.7h-.7zM390.2,145.4h.7v.7h-.7zM391.3,144.1h.7v.7h-.7zM396.0,144.0h.7v.7h-.7zM400.9,146.4h.7v.7h-.7zM399.9,145.4h.7v.7h-.7zM396.5,144.8h.7v.7h-.7zM400.0,145.8h.7v.7h-.7zM400.3,145.5h.7v.7h-.7zM399.7,145.7h.7v.7h-.7zM400.7,145.6h.7v.7h-.7zM402.2,146.9h.7v.7h-.7zM403.6,149.0h.7v.7h-.7zM401.9,149.6h.7v.7h-.7zM403.2,149.7h.7v.7h-.7zM402.6,152.7h.7v.7h-.7zM403.8,151.6h.7v.7h-.7zM402.1,157.2h.7v.7h-.7zM403.9,153.2h.7v.7h-.7zM403.9,156.3h.7v.7h-.7zM403.2,157.0h.7v.7h-.7zM403.0,151.4h.7v.7h-.7zM402.4,153.1h.7v.7h-.7zM402.4,154.2h.7v.7h-.7zM402.0,158.8h.7v.7h-.7zM402.0,157.6h.7v.7h-.7zM399.6,164.6h.7v.7h-.7zM401.2,158.1h.7v.7h-.7zM401.2,161.6h.7v.7h-.7zM400.5,162.5h.7v.7h-.7zM400.0,161.3h.7v.7h-.7zM403.3,158.8h.7v.7h-.7zM402.2,159.3h.7v.7h-.7zM396.2,172.8h.7v.7h-.7zM396.6,169.8h.7v.7h-.7zM398.3,169.6h.7v.7h-.7zM397.7,169.4h.7v.7h-.7zM399.1,169.0h.7v.7h-.7zM398.0,167.0h.7v.7h-.7zM397.1,173.9h.7v.7h-.7zM398.2,170.1h.7v.7h-.7zM399.4,167.8h.7v.7h-.7zM392.1,176.4h.7v.7h-.7zM393.1,174.6h.7v.7h-.7zM392.3,175.3h.7v.7h-.7zM392.1,176.6h.7v.7h-.7zM394.8,173.8h.7v.7h-.7zM395.5,174.3h.7v.7h-.7zM390.4,174.9h.7v.7h-.7zM390.9,177.4h.7v.7h-.7zM390.8,175.4h.7v.7h-.7zM391.0,176.4h.7v.7h-.7zM391.6,177.7h.7v.7h-.7zM390.1,176.2h.7v.7h-.7zM386.5,174.5h.7v.7h-.7zM383.7,168.7h.7v.7h-.7zM385.2,171.6h.7v.7h-.7zM386.7,173.7h.7v.7h-.7zM386.3,170.9h.7v.7h-.7zM386.2,172.6h.7v.7h-.7zM384.4,167.4h.7v.7h-.7zM384.9,170.9h.7v.7h-.7zM384.6,170.1h.7v.7h-.7zM380.8,158.2h.7v.7h-.7zM381.4,162.9h.7v.7h-.7zM382.1,165.7h.7v.7h-.7zM382.1,165.2h.7v.7h-.7zM381.6,164.8h.7v.7h-.7zM381.8,163.1h.7v.7h-.7zM381.7,161.7h.7v.7h-.7zM382.1,163.1h.7v.7h-.7zM380.7,162.3h.7v.7h-.7zM381.1,160.0h.7v.7h-.7zM381.4,158.4h.7v.7h-.7zM382.4,152.0h.7v.7h-.7zM380.1,156.6h.7v.7h-.7zM381.0,149.9h.7v.7h-.7zM380.6,157.9h.7v.7h-.7zM381.6,157.6h.7v.7h-.7zM381.4,152.0h.7v.7h-.7zM381.3,157.5h.7v.7h-.7zM381.2,150.9h.7v.7h-.7zM381.7,151.2h.7v.7h-.7zM380.3,158.0h.7v.7h-.7z" fill="#4fa93a" fill-opacity="0.7"/>
<polygon points="401.4,146.5 409.8,147.6 417.5,151.2 422.2,158.1 424.0,164.2 422.2,171.2 419.1,175.8 412.9,173.5 406.0,168.8 402.2,164.2 401.8,155.0" fill="#25ab8e" fill-opacity="0.92"/>
<path d="M415.7,161.9h.6v.6h-.6zM419.6,167.4h.6v.6h-.6zM422.5,168.5h.6v.6h-.6zM412.6,160.7h.6v.6h-.6zM417.8,170.2h.6v.6h-.6zM409.5,152.6h.6v.6h-.6zM409.8,152.0h.6v.6h-.6zM412.7,167.1h.6v.6h-.6zM418.3,164.3h.6v.6h-.6zM405.8,161.1h.6v.6h-.6zM418.7,157.6h.6v.6h-.6zM405.6,149.8h.6v.6h-.6zM402.5,151.1h.6v.6h-.6zM419.1,163.9h.6v.6h-.6zM403.3,159.2h.6v.6h-.6zM414.3,167.6h.6v.6h-.6zM422.2,170.4h.6v.6h-.6zM403.0,155.8h.6v.6h-.6zM409.9,150.6h.6v.6h-.6zM402.7,147.4h.6v.6h-.6zM409.3,153.6h.6v.6h-.6zM406.7,160.9h.6v.6h-.6zM410.1,155.6h.6v.6h-.6zM402.0,154.4h.6v.6h-.6zM408.2,164.1h.6v.6h-.6zM414.5,163.8h.6v.6h-.6zM410.9,163.7h.6v.6h-.6zM411.3,151.3h.6v.6h-.6zM409.0,152.9h.6v.6h-.6zM414.0,164.5h.6v.6h-.6zM414.5,170.3h.6v.6h-.6zM413.1,172.0h.6v.6h-.6zM408.0,158.0h.6v.6h-.6zM412.2,160.4h.6v.6h-.6zM417.8,171.2h.6v.6h-.6zM413.5,171.5h.6v.6h-.6zM405.9,168.6h.6v.6h-.6zM422.8,168.3h.6v.6h-.6zM419.6,167.0h.6v.6h-.6zM413.0,166.1h.6v.6h-.6zM412.1,150.3h.6v.6h-.6zM405.4,153.4h.6v.6h-.6zM420.8,170.6h.6v.6h-.6zM401.7,152.7h.6v.6h-.6zM407.7,169.2h.6v.6h-.6zM415.9,157.9h.6v.6h-.6zM402.3,158.7h.6v.6h-.6zM409.7,150.3h.6v.6h-.6zM416.9,166.7h.6v.6h-.6zM419.7,174.7h.6v.6h-.6zM415.3,159.9h.6v.6h-.6zM407.4,157.5h.6v.6h-.6zM405.3,164.8h.6v.6h-.6zM415.9,161.8h.6v.6h-.6zM415.5,167.5h.6v.6h-.6zM411.5,158.9h.6v.6h-.6zM419.6,162.5h.6v.6h-.6zM411.3,152.7h.6v.6h-.6zM417.4,173.9h.6v.6h-.6zM411.7,154.5h.6v.6h-.6zM416.7,170.8h.6v.6h-.6zM412.0,172.1h.6v.6h-.6zM420.6,162.6h.6v.6h-.6zM408.5,156.2h.6v.6h-.6zM419.0,153.6h.6v.6h-.6zM420.3,164.2h.6v.6h-.6zM419.6,167.1h.6v.6h-.6zM410.8,161.9h.6v.6h-.6zM421.6,162.2h.6v.6h-.6zM419.3,173.8h.6v.6h-.6zM422.3,159.2h.6v.6h-.6zM414.4,169.1h.6v.6h-.6zM407.2,151.3h.6v.6h-.6zM402.6,149.0h.6v.6h-.6zM411.6,162.1h.6v.6h-.6zM408.2,162.7h.6v.6h-.6zM405.9,157.5h.6v.6h-.6zM417.9,159.8h.6v.6h-.6zM413.8,154.5h.6v.6h-.6zM421.4,162.5h.6v.6h-.6zM405.2,154.3h.6v.6h-.6zM411.1,165.0h.6v.6h-.6zM406.8,155.9h.6v.6h-.6zM411.5,156.1h.6v.6h-.6zM413.0,163.5h.6v.6h-.6zM420.6,167.0h.6v.6h-.6zM411.9,159.0h.6v.6h-.6zM411.0,155.8h.6v.6h-.6zM415.8,152.6h.6v.6h-.6zM413.5,159.1h.6v.6h-.6zM406.4,157.2h.6v.6h-.6zM407.5,168.0h.6v.6h-.6zM403.2,148.9h.6v.6h-.6zM408.7,156.6h.6v.6h-.6zM417.2,153.1h.6v.6h-.6zM417.7,157.0h.6v.6h-.6zM419.3,169.4h.6v.6h-.6zM418.1,170.3h.6v.6h-.6zM409.4,157.0h.6v.6h-.6zM421.8,166.1h.6v.6h-.6zM415.4,161.5h.6v.6h-.6zM405.8,152.3h.6v.6h-.6zM413.0,151.8h.6v.6h-.6zM415.7,168.8h.6v.6h-.6zM412.5,171.0h.6v.6h-.6zM415.2,158.4h.6v.6h-.6zM403.9,152.6h.6v.6h-.6zM407.6,155.7h.6v.6h-.6zM407.8,161.7h.6v.6h-.6zM406.1,162.7h.6v.6h-.6zM406.7,147.3h.6v.6h-.6zM421.0,163.8h.6v.6h-.6zM407.3,158.4h.6v.6h-.6zM420.4,158.6h.6v.6h-.6zM411.4,156.6h.6v.6h-.6zM403.7,152.3h.6v.6h-.6zM418.6,164.6h.6v.6h-.6zM411.1,158.7h.6v.6h-.6zM419.5,159.8h.6v.6h-.6zM412.4,152.1h.6v.6h-.6zM416.9,157.9h.6v.6h-.6zM412.9,172.2h.6v.6h-.6zM416.8,151.4h.6v.6h-.6zM413.6,169.0h.6v.6h-.6zM407.5,150.1h.6v.6h-.6zM418.8,163.4h.6v.6h-.6zM412.8,171.0h.6v.6h-.6zM404.0,147.0h.6v.6h-.6zM403.9,162.4h.6v.6h-.6zM409.0,153.4h.6v.6h-.6zM408.9,150.7h.6v.6h-.6zM416.3,173.0h.6v.6h-.6zM418.0,152.4h.6v.6h-.6zM409.5,170.8h.6v.6h-.6zM410.3,156.1h.6v.6h-.6zM418.6,153.6h.6v.6h-.6zM409.4,152.6h.6v.6h-.6zM411.9,156.4h.6v.6h-.6zM421.0,157.8h.6v.6h-.6zM422.4,159.7h.6v.6h-.6zM408.2,163.3h.6v.6h-.6zM418.4,165.9h.6v.6h-.6zM405.5,156.5h.6v.6h-.6zM417.6,173.6h.6v.6h-.6zM408.2,158.5h.6v.6h-.6zM409.6,162.9h.6v.6h-.6zM406.1,168.1h.6v.6h-.6zM406.3,166.9h.6v.6h-.6zM408.8,155.0h.6v.6h-.6zM410.9,161.9h.6v.6h-.6zM415.3,156.4h.6v.6h-.6zM404.2,165.7h.6v.6h-.6zM416.3,161.2h.6v.6h-.6zM411.2,156.0h.6v.6h-.6zM409.3,156.5h.6v.6h-.6zM415.4,167.2h.6v.6h-.6zM405.5,147.6h.6v.6h-.6zM414.9,157.9h.6v.6h-.6zM416.8,155.9h.6v.6h-.6zM411.5,163.9h.6v.6h-.6zM415.8,162.9h.6v.6h-.6zM421.1,171.2h.6v.6h-.6zM418.2,170.1h.6v.6h-.6zM404.5,153.0h.6v.6h-.6zM414.5,171.3h.6v.6h-.6zM407.8,168.4h.6v.6h-.6zM413.4,168.7h.6v.6h-.6zM413.7,171.1h.6v.6h-.6zM422.5,166.6h.6v.6h-.6zM404.8,164.9h.6v.6h-.6zM402.8,164.4h.6v.6h-.6zM411.3,170.3h.6v.6h-.6zM413.0,157.1h.6v.6h-.6zM406.5,151.2h.6v.6h-.6zM421.3,164.5h.6v.6h-.6zM416.3,156.5h.6v.6h-.6zM418.4,163.6h.6v.6h-.6zM413.8,150.3h.6v.6h-.6zM419.4,157.2h.6v.6h-.6zM415.6,167.9h.6v.6h-.6zM415.8,162.8h.6v.6h-.6zM421.7,171.1h.6v.6h-.6zM402.2,162.1h.6v.6h-.6zM404.0,166.3h.6v.6h-.6zM419.2,161.1h.6v.6h-.6zM417.6,169.3h.6v.6h-.6zM403.9,149.3h.6v.6h-.6zM402.8,148.0h.6v.6h-.6zM408.3,155.0h.6v.6h-.6zM409.3,150.9h.6v.6h-.6zM408.7,156.6h.6v.6h-.6zM414.7,168.5h.6v.6h-.6zM419.2,158.3h.6v.6h-.6zM411.9,149.8h.6v.6h-.6zM404.6,154.0h.6v.6h-.6zM412.7,150.6h.6v.6h-.6zM412.6,152.6h.6v.6h-.6zM404.1,150.7h.6v.6h-.6zM415.5,160.9h.6v.6h-.6zM423.7,165.1h.6v.6h-.6zM412.1,161.6h.6v.6h-.6zM413.4,150.3h.6v.6h-.6zM415.4,151.2h.6v.6h-.6zM411.8,169.1h.6v.6h-.6zM413.4,168.1h.6v.6h-.6zM409.1,167.5h.6v.6h-.6zM415.9,167.3h.6v.6h-.6zM418.8,159.2h.6v.6h-.6zM418.3,164.5h.6v.6h-.6zM411.7,170.0h.6v.6h-.6zM409.4,155.0h.6v.6h-.6zM402.2,162.1h.6v.6h-.6zM412.5,150.6h.6v.6h-.6zM408.8,167.0h.6v.6h-.6zM405.1,161.6h.6v.6h-.6zM409.1,155.8h.6v.6h-.6zM413.1,155.0h.6v.6h-.6zM406.9,152.8h.6v.6h-.6zM407.0,162.4h.6v.6h-.6zM417.2,154.4h.6v.6h-.6zM422.8,165.9h.6v.6h-.6zM416.2,166.0h.6v.6h-.6zM405.5,157.0h.6v.6h-.6zM411.2,161.2h.6v.6h-.6zM414.6,167.1h.6v.6h-.6zM415.0,171.5h.6v.6h-.6zM412.5,165.4h.6v.6h-.6zM417.7,151.9h.6v.6h-.6zM422.0,165.9h.6v.6h-.6zM420.6,160.1h.6v.6h-.6zM419.1,169.1h.6v.6h-.6zM405.6,166.6h.6v.6h-.6zM411.4,168.4h.6v.6h-.6zM423.2,163.3h.6v.6h-.6zM412.9,152.3h.6v.6h-.6zM416.6,153.0h.6v.6h-.6zM405.7,167.1h.6v.6h-.6zM412.5,157.4h.6v.6h-.6zM411.7,172.1h.6v.6h-.6zM413.2,170.3h.6v.6h-.6zM421.1,160.6h.6v.6h-.6zM410.1,169.3h.6v.6h-.6zM416.6,165.8h.6v.6h-.6zM412.9,154.3h.6v.6h-.6zM409.4,149.3h.6v.6h-.6zM412.4,164.6h.6v.6h-.6zM414.2,150.7h.6v.6h-.6zM407.6,160.1h.6v.6h-.6zM413.1,161.5h.6v.6h-.6zM403.7,162.5h.6v.6h-.6zM418.1,155.5h.6v.6h-.6zM414.4,155.7h.6v.6h-.6zM417.0,159.9h.6v.6h-.6zM416.3,151.8h.6v.6h-.6zM403.4,149.0h.6v.6h-.6zM407.8,148.6h.6v.6h-.6zM410.1,155.4h.6v.6h-.6zM412.0,154.0h.6v.6h-.6zM409.5,158.0h.6v.6h-.6zM410.3,168.4h.6v.6h-.6zM413.1,155.2h.6v.6h-.6zM414.9,166.0h.6v.6h-.6zM415.0,157.7h.6v.6h-.6zM409.8,147.7h.6v.6h-.6zM406.8,156.8h.6v.6h-.6zM418.5,174.0h.6v.6h-.6zM404.7,160.4h.6v.6h-.6zM411.4,165.8h.6v.6h-.6zM412.8,171.4h.6v.6h-.6zM420.0,168.3h.6v.6h-.6zM412.0,163.7h.6v.6h-.6zM421.8,158.2h.6v.6h-.6zM412.9,155.9h.6v.6h-.6zM416.6,169.9h.6v.6h-.6zM417.1,161.4h.6v.6h-.6zM411.8,162.3h.6v.6h-.6zM415.2,154.1h.6v.6h-.6z" fill="#ffffff" fill-opacity="0.55"/>
<path d="M409.5,147.5h.7v.7h-.7zM407.0,147.3h.7v.7h-.7zM404.7,147.0h.7v.7h-.7zM409.0,146.9h.7v.7h-.7zM406.2,146.8h.7v.7h-.7zM408.6,147.8h.7v.7h-.7zM408.1,146.5h.7v.7h-.7zM404.2,146.4h.7v.7h-.7zM405.9,147.2h.7v.7h-.7zM402.3,146.4h.7v.7h-.7zM416.0,151.1h.7v.7h-.7zM411.2,148.0h.7v.7h-.7zM416.8,149.5h.7v.7h-.7zM417.0,152.2h.7v.7h-.7zM414.8,149.8h.7v.7h-.7zM413.1,148.7h.7v.7h-.7zM413.6,149.9h.7v.7h-.7zM413.3,150.0h.7v.7h-.7zM416.1,149.4h.7v.7h-.7zM412.4,149.3h.7v.7h-.7zM420.4,155.3h.7v.7h-.7zM417.2,152.0h.7v.7h-.7zM418.5,152.6h.7v.7h-.7zM421.3,157.8h.7v.7h-.7zM416.9,151.0h.7v.7h-.7zM419.9,153.6h.7v.7h-.7zM418.6,152.4h.7v.7h-.7zM420.8,156.4h.7v.7h-.7zM419.7,154.6h.7v.7h-.7zM423.7,162.9h.7v.7h-.7zM423.7,160.7h.7v.7h-.7zM422.6,160.0h.7v.7h-.7zM423.4,161.8h.7v.7h-.7zM423.5,159.6h.7v.7h-.7zM422.9,160.3h.7v.7h-.7zM423.6,161.8h.7v.7h-.7zM423.2,169.3h.7v.7h-.7zM423.0,167.3h.7v.7h-.7zM422.1,170.1h.7v.7h-.7zM422.5,168.5h.7v.7h-.7zM423.2,166.1h.7v.7h-.7zM421.6,169.4h.7v.7h-.7zM423.0,165.9h.7v.7h-.7zM423.9,167.1h.7v.7h-.7zM420.8,173.1h.7v.7h-.7zM421.3,171.4h.7v.7h-.7zM418.6,176.2h.7v.7h-.7zM421.6,172.8h.7v.7h-.7zM422.0,173.0h.7v.7h-.7zM420.5,174.2h.7v.7h-.7zM417.9,174.8h.7v.7h-.7zM415.0,175.6h.7v.7h-.7zM416.7,175.5h.7v.7h-.7zM417.3,175.7h.7v.7h-.7zM413.5,173.5h.7v.7h-.7zM417.4,175.9h.7v.7h-.7zM419.0,174.8h.7v.7h-.7zM411.2,172.6h.7v.7h-.7zM409.9,172.5h.7v.7h-.7zM409.2,169.8h.7v.7h-.7zM407.0,170.2h.7v.7h-.7zM409.7,171.6h.7v.7h-.7zM411.5,171.9h.7v.7h-.7zM407.7,170.0h.7v.7h-.7zM409.7,171.2h.7v.7h-.7zM412.3,173.2h.7v.7h-.7zM404.4,167.4h.7v.7h-.7zM402.1,165.7h.7v.7h-.7zM404.1,165.5h.7v.7h-.7zM403.5,165.0h.7v.7h-.7zM405.0,168.1h.7v.7h-.7zM405.1,168.1h.7v.7h-.7zM403.1,165.0h.7v.7h-.7zM402.8,157.9h.7v.7h-.7zM402.3,155.8h.7v.7h-.7zM402.4,158.8h.7v.7h-.7zM401.8,156.7h.7v.7h-.7zM402.1,160.7h.7v.7h-.7zM401.6,155.5h.7v.7h-.7zM402.3,159.7h.7v.7h-.7zM401.5,159.6h.7v.7h-.7zM401.0,159.8h.7v.7h-.7zM402.5,158.4h.7v.7h-.7zM402.5,160.1h.7v.7h-.7zM401.4,146.1h.7v.7h-.7zM401.4,153.7h.7v.7h-.7zM400.9,151.9h.7v.7h-.7zM401.0,148.4h.7v.7h-.7zM402.4,148.4h.7v.7h-.7zM401.1,153.6h.7v.7h-.7zM402.2,150.1h.7v.7h-.7zM401.8,147.2h.7v.7h-.7zM402.3,150.5h.7v.7h-.7zM401.4,149.0h.7v.7h-.7z" fill="#25ab8e" fill-opacity="0.7"/>
<polygon points="393.7,159.9 399.4,159.3 402.5,165.0 401.4,169.6 396.8,171.2 393.5,166.5" fill="#ffffff" fill-opacity="0.38"/>
<path d="M395.5,169.3h.6v.6h-.6zM393.9,165.4h.6v.6h-.6zM397.6,166.9h.6v.6h-.6zM399.9,165.3h.6v.6h-.6zM396.8,163.5h.6v.6h-.6zM396.1,166.2h.6v.6h-.6zM396.9,165.7h.6v.6h-.6zM395.5,168.7h.6v.6h-.6zM397.6,166.7h.6v.6h-.6zM396.9,167.8h.6v.6h-.6zM393.8,163.0h.6v.6h-.6zM401.0,165.3h.6v.6h-.6zM396.9,167.2h.6v.6h-.6zM394.6,163.8h.6v.6h-.6zM398.5,170.2h.6v.6h-.6zM400.5,162.3h.6v.6h-.6zM399.7,163.0h.6v.6h-.6zM400.3,165.0h.6v.6h-.6zM399.6,162.8h.6v.6h-.6zM399.8,166.6h.6v.6h-.6zM398.9,165.8h.6v.6h-.6zM397.1,166.1h.6v.6h-.6zM397.4,169.1h.6v.6h-.6zM398.8,169.3h.6v.6h-.6zM400.0,167.1h.6v.6h-.6zM398.6,161.7h.6v.6h-.6zM398.7,167.3h.6v.6h-.6zM399.9,165.2h.6v.6h-.6zM394.2,162.4h.6v.6h-.6zM396.1,169.1h.6v.6h-.6zM398.0,159.9h.6v.6h-.6zM395.7,165.6h.6v.6h-.6zM394.5,161.2h.6v.6h-.6zM401.8,166.1h.6v.6h-.6zM398.3,163.5h.6v.6h-.6zM396.5,166.9h.6v.6h-.6zM396.3,164.2h.6v.6h-.6zM395.1,161.9h.6v.6h-.6zM400.2,164.9h.6v.6h-.6zM394.0,163.4h.6v.6h-.6zM395.7,168.7h.6v.6h-.6zM394.6,166.6h.6v.6h-.6zM394.9,161.5h.6v.6h-.6zM398.5,167.6h.6v.6h-.6z" fill="#ffffff" fill-opacity="0.55"/>
<path d="M393.5,159.4h.7v.7h-.7zM397.1,159.5h.7v.7h-.7zM396.0,159.7h.7v.7h-.7zM399.4,158.7h.7v.7h-.7zM399.0,159.2h.7v.7h-.7zM397.8,158.9h.7v.7h-.7zM399.8,159.0h.7v.7h-.7zM401.5,165.3h.7v.7h-.7zM401.9,164.0h.7v.7h-.7zM400.1,160.5h.7v.7h-.7zM401.0,160.8h.7v.7h-.7zM400.3,161.4h.7v.7h-.7zM402.0,164.6h.7v.7h-.7zM401.4,167.2h.7v.7h-.7zM401.8,167.4h.7v.7h-.7zM402.1,168.8h.7v.7h-.7zM402.2,165.3h.7v.7h-.7zM401.9,166.6h.7v.7h-.7zM399.8,169.6h.7v.7h-.7zM399.2,171.7h.7v.7h-.7zM397.7,170.6h.7v.7h-.7zM399.8,169.6h.7v.7h-.7zM400.7,169.8h.7v.7h-.7zM395.0,167.1h.7v.7h-.7zM393.8,167.3h.7v.7h-.7zM393.8,168.4h.7v.7h-.7zM394.1,167.0h.7v.7h-.7zM396.4,171.6h.7v.7h-.7zM394.7,168.8h.7v.7h-.7zM392.9,162.1h.7v.7h-.7zM393.8,163.0h.7v.7h-.7zM393.1,164.1h.7v.7h-.7zM393.9,162.2h.7v.7h-.7zM394.0,162.6h.7v.7h-.7zM392.1,160.1h.7v.7h-.7zM392.7,163.9h.7v.7h-.7z" fill="#ffffff" fill-opacity="0.7"/>
<polygon points="396.0,172.7 399.8,168.8 406.0,168.1 412.9,172.2 419.1,177.3 422.9,182.7 424.0,187.3 421.4,190.4 414.5,191.9 405.2,191.2 399.1,188.1 395.7,182.7 394.8,176.5" fill="#c8a12c" fill-opacity="0.92"/>
<path d="M401.3,170.2h.6v.6h-.6zM413.7,185.1h.6v.6h-.6zM396.1,176.6h.6v.6h-.6zM413.0,174.8h.6v.6h-.6zM417.3,189.7h.6v.6h-.6zM403.4,180.4h.6v.6h-.6zM415.2,182.5h.6v.6h-.6zM402.2,170.9h.6v.6h-.6zM415.1,179.8h.6v.6h-.6zM421.7,185.4h.6v.6h-.6zM406.6,187.8h.6v.6h-.6zM402.6,174.7h.6v.6h-.6zM409.4,183.5h.6v.6h-.6zM404.0,189.9h.6v.6h-.6zM410.3,173.8h.6v.6h-.6zM403.5,182.4h.6v.6h-.6zM417.9,185.2h.6v.6h-.6zM409.3,183.2h.6v.6h-.6zM413.4,182.8h.6v.6h-.6zM407.7,191.1h.6v.6h-.6zM409.1,178.5h.6v.6h-.6zM418.8,184.3h.6v.6h-.6zM410.3,184.8h.6v.6h-.6zM409.7,184.3h.6v.6h-.6zM407.1,188.2h.6v.6h-.6zM417.9,180.2h.6v.6h-.6zM395.7,182.4h.6v.6h-.6zM401.4,186.3h.6v.6h-.6zM409.8,171.6h.6v.6h-.6zM403.9,184.7h.6v.6h-.6zM406.9,181.4h.6v.6h-.6zM407.0,185.5h.6v.6h-.6zM419.4,190.0h.6v.6h-.6zM407.4,171.4h.6v.6h-.6zM408.3,180.1h.6v.6h-.6zM415.7,176.1h.6v.6h-.6zM406.6,182.7h.6v.6h-.6zM411.7,184.5h.6v.6h-.6zM398.2,174.5h.6v.6h-.6zM403.2,178.9h.6v.6h-.6zM400.2,175.7h.6v.6h-.6zM408.9,179.1h.6v.6h-.6zM416.6,182.2h.6v.6h-.6zM419.1,182.3h.6v.6h-.6zM406.2,189.7h.6v.6h-.6zM407.2,176.2h.6v.6h-.6zM418.0,181.4h.6v.6h-.6zM412.2,174.6h.6v.6h-.6zM400.7,178.4h.6v.6h-.6zM407.4,172.5h.6v.6h-.6zM418.8,189.3h.6v.6h-.6zM405.4,184.9h.6v.6h-.6zM401.7,180.6h.6v.6h-.6zM403.6,175.4h.6v.6h-.6zM412.0,187.8h.6v.6h-.6zM416.4,187.2h.6v.6h-.6zM415.5,177.6h.6v.6h-.6zM411.0,179.4h.6v.6h-.6zM398.2,175.2h.6v.6h-.6zM406.8,185.8h.6v.6h-.6zM398.7,186.7h.6v.6h-.6zM416.7,175.4h.6v.6h-.6zM415.5,184.1h.6v.6h-.6zM413.6,179.2h.6v.6h-.6zM404.5,183.1h.6v.6h-.6zM414.9,189.5h.6v.6h-.6zM415.9,182.9h.6v.6h-.6zM416.5,176.7h.6v.6h-.6zM395.7,181.5h.6v.6h-.6zM399.6,174.4h.6v.6h-.6zM402.6,181.3h.6v.6h-.6zM421.9,181.6h.6v.6h-.6zM423.8,186.8h.6v.6h-.6zM409.6,170.2h.6v.6h-.6zM423.0,188.4h.6v.6h-.6zM408.8,174.7h.6v.6h-.6zM418.9,177.8h.6v.6h-.6zM400.9,178.5h.6v.6h-.6zM409.7,177.5h.6v.6h-.6zM417.1,182.8h.6v.6h-.6zM420.9,184.6h.6v.6h-.6zM421.1,185.3h.6v.6h-.6zM402.8,182.8h.6v.6h-.6zM401.5,174.1h.6v.6h-.6zM420.0,179.8h.6v.6h-.6zM403.1,185.7h.6v.6h-.6zM405.7,168.8h.6v.6h-.6zM403.8,188.9h.6v.6h-.6zM404.3,172.6h.6v.6h-.6zM401.5,185.1h.6v.6h-.6zM406.2,186.4h.6v.6h-.6zM403.3,185.2h.6v.6h-.6zM402.5,176.7h.6v.6h-.6zM400.7,183.0h.6v.6h-.6zM423.4,186.8h.6v.6h-.6zM406.2,190.1h.6v.6h-.6zM399.5,179.2h.6v.6h-.6zM400.0,180.8h.6v.6h-.6zM407.0,184.0h.6v.6h-.6zM420.7,188.0h.6v.6h-.6zM396.6,182.0h.6v.6h-.6zM417.9,187.2h.6v.6h-.6zM410.9,171.7h.6v.6h-.6zM421.1,186.7h.6v.6h-.6zM416.1,180.0h.6v.6h-.6zM411.3,174.5h.6v.6h-.6zM397.3,179.4h.6v.6h-.6zM414.2,174.4h.6v.6h-.6zM399.0,186.5h.6v.6h-.6zM409.7,174.2h.6v.6h-.6zM398.9,172.7h.6v.6h-.6zM409.8,184.1h.6v.6h-.6zM403.6,171.2h.6v.6h-.6zM401.1,182.9h.6v.6h-.6zM399.0,172.1h.6v.6h-.6zM401.1,181.3h.6v.6h-.6zM411.2,178.7h.6v.6h-.6zM414.2,182.6h.6v.6h-.6zM408.8,174.3h.6v.6h-.6zM411.7,173.0h.6v.6h-.6zM405.9,177.6h.6v.6h-.6zM422.9,186.0h.6v.6h-.6zM395.5,174.3h.6v.6h-.6zM416.1,189.1h.6v.6h-.6zM397.6,172.7h.6v.6h-.6zM400.1,179.2h.6v.6h-.6zM416.7,188.0h.6v.6h-.6zM415.1,190.7h.6v.6h-.6zM411.3,185.4h.6v.6h-.6zM408.6,175.6h.6v.6h-.6zM421.8,185.3h.6v.6h-.6zM400.5,185.3h.6v.6h-.6zM403.4,177.1h.6v.6h-.6zM411.7,181.8h.6v.6h-.6zM396.2,181.7h.6v.6h-.6zM403.5,173.6h.6v.6h-.6zM412.3,191.4h.6v.6h-.6zM401.9,182.6h.6v.6h-.6zM408.4,189.7h.6v.6h-.6zM398.9,181.0h.6v.6h-.6zM411.0,184.1h.6v.6h-.6zM398.5,179.3h.6v.6h-.6zM405.4,178.5h.6v.6h-.6zM413.6,180.0h.6v.6h-.6zM420.6,188.4h.6v.6h-.6zM417.6,186.5h.6v.6h-.6zM408.0,186.3h.6v.6h-.6zM419.2,183.9h.6v.6h-.6zM399.9,178.9h.6v.6h-.6zM410.4,183.0h.6v.6h-.6zM397.4,183.5h.6v.6h-.6zM401.2,174.6h.6v.6h-.6zM405.7,182.8h.6v.6h-.6zM413.5,178.0h.6v.6h-.6zM408.9,187.4h.6v.6h-.6zM404.0,171.6h.6v.6h-.6zM398.0,171.1h.6v.6h-.6zM410.5,180.0h.6v.6h-.6zM402.2,186.9h.6v.6h-.6zM415.2,184.1h.6v.6h-.6zM402.3,183.0h.6v.6h-.6zM407.5,176.6h.6v.6h-.6zM408.2,178.4h.6v.6h-.6zM415.0,188.0h.6v.6h-.6zM413.0,186.2h.6v.6h-.6zM397.9,182.4h.6v.6h-.6zM401.3,184.5h.6v.6h-.6zM411.2,176.0h.6v.6h-.6zM411.5,182.1h.6v.6h-.6zM406.1,179.5h.6v.6h-.6zM403.6,172.1h.6v.6h-.6zM398.7,176.3h.6v.6h-.6zM401.9,174.8h.6v.6h-.6zM414.0,185.0h.6v.6h-.6zM404.4,174.1h.6v.6h-.6zM417.0,191.0h.6v.6h-.6zM416.9,188.8h.6v.6h-.6zM419.0,189.5h.6v.6h-.6zM405.5,173.6h.6v.6h-.6zM401.0,169.6h.6v.6h-.6zM411.3,178.2h.6v.6h-.6zM421.9,182.6h.6v.6h-.6zM412.4,172.1h.6v.6h-.6zM420.4,187.8h.6v.6h-.6zM413.8,191.2h.6v.6h-.6zM400.5,183.2h.6v.6h-.6zM402.7,182.3h.6v.6h-.6zM408.2,172.7h.6v.6h-.6zM412.4,180.3h.6v.6h-.6zM422.0,187.8h.6v.6h-.6zM419.9,179.5h.6v.6h-.6zM420.7,179.7h.6v.6h-.6zM399.2,176.4h.6v.6h-.6zM398.6,176.2h.6v.6h-.6zM413.3,190.6h.6v.6h-.6zM409.5,185.1h.6v.6h-.6zM403.4,186.9h.6v.6h-.6zM409.5,175.8h.6v.6h-.6zM419.0,180.5h.6v.6h-.6zM411.9,189.9h.6v.6h-.6zM419.8,181.8h.6v.6h-.6zM422.3,182.3h.6v.6h-.6zM400.0,180.8h.6v.6h-.6zM414.4,190.7h.6v.6h-.6zM398.7,173.4h.6v.6h-.6zM414.5,181.1h.6v.6h-.6zM409.2,181.4h.6v.6h-.6zM411.1,190.3h.6v.6h-.6zM406.2,187.9h.6v.6h-.6zM402.3,169.0h.6v.6h-.6zM419.3,179.8h.6v.6h-.6zM413.3,186.1h.6v.6h-.6zM423.4,188.0h.6v.6h-.6zM405.2,179.6h.6v.6h-.6zM396.0,180.1h.6v.6h-.6zM398.1,184.6h.6v.6h-.6zM396.0,173.0h.6v.6h-.6zM408.3,175.1h.6v.6h-.6zM420.6,181.6h.6v.6h-.6zM404.0,168.8h.6v.6h-.6zM409.0,186.8h.6v.6h-.6zM403.6,179.0h.6v.6h-.6zM422.2,188.3h.6v.6h-.6zM400.3,186.0h.6v.6h-.6zM418.8,177.6h.6v.6h-.6zM399.6,177.3h.6v.6h-.6zM399.6,171.1h.6v.6h-.6zM416.7,187.1h.6v.6h-.6zM404.6,169.1h.6v.6h-.6zM399.9,182.3h.6v.6h-.6zM414.5,186.5h.6v.6h-.6zM401.1,175.0h.6v.6h-.6zM410.5,172.1h.6v.6h-.6zM413.7,188.8h.6v.6h-.6zM419.1,190.1h.6v.6h-.6zM402.2,181.1h.6v.6h-.6zM413.5,186.4h.6v.6h-.6zM405.3,171.6h.6v.6h-.6zM401.3,172.6h.6v.6h-.6zM406.9,191.2h.6v.6h-.6zM409.1,182.7h.6v.6h-.6zM412.7,189.2h.6v.6h-.6zM410.5,175.0h.6v.6h-.6zM404.8,185.7h.6v.6h-.6zM417.6,185.1h.6v.6h-.6zM414.3,189.3h.6v.6h-.6zM398.3,178.3h.6v.6h-.6zM418.4,182.7h.6v.6h-.6zM409.0,175.5h.6v.6h-.6zM409.6,181.4h.6v.6h-.6zM413.0,188.4h.6v.6h-.6zM400.1,175.7h.6v.6h-.6zM404.1,170.1h.6v.6h-.6zM405.0,175.0h.6v.6h-.6zM397.4,182.9h.6v.6h-.6zM402.6,177.3h.6v.6h-.6zM413.9,185.1h.6v.6h-.6zM416.7,179.3h.6v.6h-.6zM401.9,179.7h.6v.6h-.6zM397.1,175.8h.6v.6h-.6zM397.6,175.1h.6v.6h-.6zM417.4,188.2h.6v.6h-.6zM403.8,188.4h.6v.6h-.6zM402.7,188.8h.6v.6h-.6zM420.7,189.8h.6v.6h-.6zM415.1,189.0h.6v.6h-.6zM408.5,172.4h.6v.6h-.6zM406.7,188.7h.6v.6h-.6zM411.4,172.2h.6v.6h-.6zM411.1,182.7h.6v.6h-.6zM401.3,185.8h.6v.6h-.6zM398.9,184.0h.6v.6h-.6zM407.9,170.4h.6v.6h-.6zM414.3,188.5h.6v.6h-.6zM406.4,180.2h.6v.6h-.6zM418.9,177.8h.6v.6h-.6zM411.1,173.2h.6v.6h-.6zM399.5,171.2h.6v.6h-.6zM419.7,183.2h.6v.6h-.6zM404.7,186.8h.6v.6h-.6zM405.0,189.1h.6v.6h-.6zM406.9,179.2h.6v.6h-.6zM403.6,184.4h.6v.6h-.6zM418.0,185.5h.6v.6h-.6zM397.8,174.7h.6v.6h-.6zM415.5,181.8h.6v.6h-.6zM408.0,178.6h.6v.6h-.6zM398.7,171.9h.6v.6h-.6zM419.3,183.0h.6v.6h-.6zM395.9,175.8h.6v.6h-.6zM406.0,177.3h.6v.6h-.6zM399.6,178.4h.6v.6h-.6z" fill="#ffffff" fill-opacity="0.55"/>
<path d="M397.1,171.2h.7v.7h-.7zM397.6,170.8h.7v.7h-.7zM395.7,171.9h.7v.7h-.7zM400.0,168.8h.7v.7h-.7zM399.9,168.6h.7v.7h-.7zM397.0,171.4h.7v.7h-.7zM402.1,169.2h.7v.7h-.7zM406.2,167.4h.7v.7h-.7zM402.1,169.0h.7v.7h-.7zM405.1,169.2h.7v.7h-.7zM404.9,167.9h.7v.7h-.7zM404.1,168.9h.7v.7h-.7zM401.0,169.4h.7v.7h-.7zM408.0,169.0h.7v.7h-.7zM411.6,171.1h.7v.7h-.7zM411.6,172.0h.7v.7h-.7zM406.5,167.7h.7v.7h-.7zM406.8,169.0h.7v.7h-.7zM411.3,172.3h.7v.7h-.7zM407.9,169.5h.7v.7h-.7zM409.9,170.3h.7v.7h-.7zM408.1,169.2h.7v.7h-.7zM414.5,173.2h.7v.7h-.7zM414.8,173.6h.7v.7h-.7zM417.5,176.0h.7v.7h-.7zM416.5,175.2h.7v.7h-.7zM413.5,172.9h.7v.7h-.7zM415.4,174.0h.7v.7h-.7zM418.9,176.0h.7v.7h-.7zM414.3,173.2h.7v.7h-.7zM416.8,174.7h.7v.7h-.7zM420.4,178.3h.7v.7h-.7zM419.7,178.6h.7v.7h-.7zM422.8,182.6h.7v.7h-.7zM420.2,177.5h.7v.7h-.7zM419.5,178.2h.7v.7h-.7zM420.4,178.4h.7v.7h-.7zM421.7,182.5h.7v.7h-.7zM424.3,184.1h.7v.7h-.7zM423.7,182.9h.7v.7h-.7zM423.2,184.8h.7v.7h-.7zM423.3,182.7h.7v.7h-.7zM422.7,183.6h.7v.7h-.7zM421.4,190.1h.7v.7h-.7zM423.3,187.3h.7v.7h-.7zM422.7,188.9h.7v.7h-.7zM423.8,188.7h.7v.7h-.7zM420.4,190.3h.7v.7h-.7zM419.0,190.9h.7v.7h-.7zM417.8,191.5h.7v.7h-.7zM417.1,191.0h.7v.7h-.7zM418.9,190.2h.7v.7h-.7zM416.4,190.7h.7v.7h-.7zM419.3,190.5h.7v.7h-.7zM421.1,190.4h.7v.7h-.7zM404.9,189.9h.7v.7h-.7zM409.0,191.7h.7v.7h-.7zM413.9,191.6h.7v.7h-.7zM411.8,190.6h.7v.7h-.7zM413.5,190.7h.7v.7h-.7zM407.4,191.5h.7v.7h-.7zM407.6,191.3h.7v.7h-.7zM406.2,191.6h.7v.7h-.7zM413.7,192.5h.7v.7h-.7zM407.4,190.8h.7v.7h-.7zM411.4,191.3h.7v.7h-.7zM400.9,188.9h.7v.7h-.7zM403.1,188.9h.7v.7h-.7zM401.9,190.2h.7v.7h-.7zM401.1,188.9h.7v.7h-.7zM404.7,191.4h.7v.7h-.7zM404.3,191.2h.7v.7h-.7zM400.2,188.0h.7v.7h-.7zM400.6,189.3h.7v.7h-.7zM395.9,183.5h.7v.7h-.7zM398.3,187.6h.7v.7h-.7zM398.8,187.3h.7v.7h-.7zM397.9,185.1h.7v.7h-.7zM398.9,188.0h.7v.7h-.7zM397.1,186.4h.7v.7h-.7zM397.8,187.1h.7v.7h-.7zM394.6,180.5h.7v.7h-.7zM395.0,176.8h.7v.7h-.7zM393.7,178.0h.7v.7h-.7zM395.1,177.3h.7v.7h-.7zM396.6,178.6h.7v.7h-.7zM395.9,180.6h.7v.7h-.7zM394.3,178.3h.7v.7h-.7zM394.8,176.6h.7v.7h-.7zM395.1,174.9h.7v.7h-.7zM394.8,175.5h.7v.7h-.7zM395.4,174.5h.7v.7h-.7z" fill="#c8a12c" fill-opacity="0.7"/>
<polygon points="423.7,178.1 428.3,175.8 430.2,176.5 430.6,180.4 427.5,182.7 424.9,181.9" fill="#9088c8" fill-opacity="0.85"/>
<path d="M426.6,180.1h.6v.6h-.6zM427.4,176.5h.6v.6h-.6zM426.2,178.9h.6v.6h-.6zM426.2,179.6h.6v.6h-.6zM430.1,177.8h.6v.6h-.6zM429.5,180.6h.6v.6h-.6zM424.5,179.8h.6v.6h-.6zM427.7,176.1h.6v.6h-.6zM424.5,178.9h.6v.6h-.6zM425.7,180.1h.6v.6h-.6zM429.8,176.7h.6v.6h-.6zM428.4,178.5h.6v.6h-.6zM425.3,177.5h.6v.6h-.6zM425.9,182.1h.6v.6h-.6zM427.1,180.2h.6v.6h-.6zM427.2,176.4h.6v.6h-.6zM428.4,181.4h.6v.6h-.6zM429.8,176.6h.6v.6h-.6zM426.0,179.8h.6v.6h-.6zM427.7,176.3h.6v.6h-.6z" fill="#ffffff" fill-opacity="0.55"/>
<path d="M424.5,177.5h.7v.7h-.7zM424.5,177.1h.7v.7h-.7zM427.2,177.1h.7v.7h-.7zM423.4,178.9h.7v.7h-.7zM426.7,176.3h.7v.7h-.7zM425.4,178.2h.7v.7h-.7zM429.0,175.5h.7v.7h-.7zM427.7,176.4h.7v.7h-.7zM430.7,177.6h.7v.7h-.7zM430.2,178.6h.7v.7h-.7zM430.7,178.3h.7v.7h-.7zM430.5,176.6h.7v.7h-.7zM430.0,180.7h.7v.7h-.7zM428.6,182.5h.7v.7h-.7zM427.0,182.0h.7v.7h-.7zM428.4,181.9h.7v.7h-.7zM426.9,182.3h.7v.7h-.7zM426.9,182.6h.7v.7h-.7zM425.5,181.9h.7v.7h-.7zM423.3,181.0h.7v.7h-.7zM424.4,179.7h.7v.7h-.7zM422.9,179.7h.7v.7h-.7zM425.0,178.1h.7v.7h-.7z" fill="#9088c8" fill-opacity="0.7"/>
<polygon points="422.2,191.2 426.8,192.7 432.9,193.8 437.2,194.7 436.8,196.2 431.4,195.3 425.2,193.5" fill="#e7806d" fill-opacity="0.9"/>
<path d="M427.6,193.9h.6v.6h-.6zM433.6,195.3h.6v.6h-.6zM426.9,193.1h.6v.6h-.6zM432.7,195.2h.6v.6h-.6zM427.7,194.0h.6v.6h-.6zM428.2,193.6h.6v.6h-.6zM428.2,193.5h.6v.6h-.6zM434.2,194.2h.6v.6h-.6zM433.2,194.3h.6v.6h-.6zM427.8,193.0h.6v.6h-.6zM429.1,194.1h.6v.6h-.6zM435.9,194.9h.6v.6h-.6zM430.6,194.1h.6v.6h-.6zM437.2,194.8h.6v.6h-.6zM430.4,194.9h.6v.6h-.6zM424.9,193.1h.6v.6h-.6zM432.9,194.6h.6v.6h-.6zM429.6,193.3h.6v.6h-.6zM427.3,193.7h.6v.6h-.6zM434.8,194.5h.6v.6h-.6zM431.3,194.2h.6v.6h-.6zM426.9,193.5h.6v.6h-.6zM435.7,195.5h.6v.6h-.6zM425.9,193.6h.6v.6h-.6zM434.4,195.0h.6v.6h-.6zM432.0,195.3h.6v.6h-.6zM436.4,195.9h.6v.6h-.6zM428.4,193.6h.6v.6h-.6zM424.4,192.4h.6v.6h-.6zM435.6,195.4h.6v.6h-.6zM436.8,195.8h.6v.6h-.6zM425.5,192.3h.6v.6h-.6z" fill="#ffffff" fill-opacity="0.55"/>
<path d="M423.1,192.2h.7v.7h-.7zM423.2,192.3h.7v.7h-.7zM422.0,191.5h.7v.7h-.7zM423.8,192.8h.7v.7h-.7zM425.2,192.5h.7v.7h-.7zM431.4,193.6h.7v.7h-.7zM428.0,192.8h.7v.7h-.7zM431.2,193.2h.7v.7h-.7zM433.1,194.3h.7v.7h-.7zM430.4,192.1h.7v.7h-.7zM428.5,193.9h.7v.7h-.7zM427.3,192.6h.7v.7h-.7zM435.0,194.6h.7v.7h-.7zM433.4,193.8h.7v.7h-.7zM434.5,195.2h.7v.7h-.7zM433.8,193.5h.7v.7h-.7zM436.7,195.6h.7v.7h-.7zM436.7,194.9h.7v.7h-.7zM433.8,196.2h.7v.7h-.7zM435.2,196.2h.7v.7h-.7zM435.8,195.5h.7v.7h-.7zM435.6,195.4h.7v.7h-.7zM433.8,196.1h.7v.7h-.7zM434.2,195.0h.7v.7h-.7zM427.9,194.0h.7v.7h-.7zM430.2,194.5h.7v.7h-.7zM426.6,194.2h.7v.7h-.7zM427.6,193.8h.7v.7h-.7zM425.5,193.8h.7v.7h-.7zM427.1,193.4h.7v.7h-.7zM428.5,193.9h.7v.7h-.7zM426.1,194.3h.7v.7h-.7zM423.2,191.0h.7v.7h-.7zM424.3,192.5h.7v.7h-.7zM423.6,191.5h.7v.7h-.7z" fill="#e7806d" fill-opacity="0.7"/>
<polygon points="404.2,203.0 405.5,202.7 408.0,207.0 406.8,208.2" fill="#c57fb0" fill-opacity="0.8"/>
<path d="M406.4,205.4h.6v.6h-.6zM406.5,204.7h.6v.6h-.6zM407.1,206.3h.6v.6h-.6zM405.7,203.6h.6v.6h-.6zM407.1,207.7h.6v.6h-.6zM406.0,205.6h.6v.6h-.6zM406.9,206.6h.6v.6h-.6zM407.4,207.2h.6v.6h-.6z" fill="#ffffff" fill-opacity="0.55"/>
<path d="M404.5,201.5h.7v.7h-.7zM406.1,203.1h.7v.7h-.7zM405.3,203.3h.7v.7h-.7zM407.0,205.5h.7v.7h-.7zM405.4,203.9h.7v.7h-.7zM405.4,203.6h.7v.7h-.7zM408.4,206.8h.7v.7h-.7zM408.2,207.5h.7v.7h-.7zM406.1,206.9h.7v.7h-.7zM404.3,203.9h.7v.7h-.7zM407.2,208.0h.7v.7h-.7zM406.3,205.6h.7v.7h-.7zM406.3,207.3h.7v.7h-.7zM404.5,202.7h.7v.7h-.7zM405.8,206.8h.7v.7h-.7z" fill="#c57fb0" fill-opacity="0.7"/>
<rect x="295.3" y="109.2" width="72.5" height="8.2" fill="#e6e6e6" stroke="#2a2a2a" stroke-width="0.8"/>
<text x="331.6" y="115.7" font-size="6.1" fill="#1e1e1e" text-anchor="middle" stroke="#1e1e1e" stroke-width="0.18">Control</text>
<rect x="376.3" y="109.2" width="72.5" height="8.2" fill="#e6e6e6" stroke="#2a2a2a" stroke-width="0.8"/>
<text x="413" y="115.7" font-size="6.1" fill="#1e1e1e" text-anchor="middle" stroke="#1e1e1e" stroke-width="0.18">DCA</text>
<line x1="295.5" y1="117.4" x2="295.5" y2="211.6" stroke="#111" stroke-width="0.9"/>
<line x1="295.1" y1="211.6" x2="367.2" y2="211.6" stroke="#111" stroke-width="0.9"/>
<line x1="376.3" y1="211.6" x2="448.9" y2="211.6" stroke="#111" stroke-width="0.9"/>
<line x1="292.6" y1="120.4" x2="295.5" y2="120.4" stroke="#111" stroke-width="0.9"/>
<text x="289.6" y="122.7" font-size="6.5" fill="#1e1e1e" text-anchor="end" stroke="#1e1e1e" stroke-width="0.18">10</text>
<line x1="292.6" y1="141.6" x2="295.5" y2="141.6" stroke="#111" stroke-width="0.9"/>
<text x="289.6" y="143.9" font-size="6.5" fill="#1e1e1e" text-anchor="end" stroke="#1e1e1e" stroke-width="0.18">5</text>
<line x1="292.6" y1="162.6" x2="295.5" y2="162.6" stroke="#111" stroke-width="0.9"/>
<text x="289.6" y="164.9" font-size="6.5" fill="#1e1e1e" text-anchor="end" stroke="#1e1e1e" stroke-width="0.18">0</text>
<line x1="292.6" y1="183.6" x2="295.5" y2="183.6" stroke="#111" stroke-width="0.9"/>
<text x="289.6" y="185.9" font-size="6.5" fill="#1e1e1e" text-anchor="end" stroke="#1e1e1e" stroke-width="0.18">−5</text>
<line x1="292.6" y1="204.5" x2="295.5" y2="204.5" stroke="#111" stroke-width="0.9"/>
<text x="289.6" y="206.8" font-size="6.5" fill="#1e1e1e" text-anchor="end" stroke="#1e1e1e" stroke-width="0.18">−10</text>
<line x1="296.8" y1="211.6" x2="296.8" y2="214.4" stroke="#111" stroke-width="0.9"/>
<text x="296.8" y="223.4" font-size="6.2" fill="#1e1e1e" text-anchor="middle" stroke="#1e1e1e" stroke-width="0.18">−5.0</text>
<line x1="310.43" y1="211.6" x2="310.43" y2="214.4" stroke="#111" stroke-width="0.9"/>
<text x="310.43" y="223.4" font-size="6.2" fill="#1e1e1e" text-anchor="middle" stroke="#1e1e1e" stroke-width="0.18">−2.5</text>
<line x1="324.06" y1="211.6" x2="324.06" y2="214.4" stroke="#111" stroke-width="0.9"/>
<text x="324.06" y="223.4" font-size="6.2" fill="#1e1e1e" text-anchor="middle" stroke="#1e1e1e" stroke-width="0.18">0.0</text>
<line x1="337.69" y1="211.6" x2="337.69" y2="214.4" stroke="#111" stroke-width="0.9"/>
<text x="337.69" y="223.4" font-size="6.2" fill="#1e1e1e" text-anchor="middle" stroke="#1e1e1e" stroke-width="0.18">2.5</text>
<line x1="351.32" y1="211.6" x2="351.32" y2="214.4" stroke="#111" stroke-width="0.9"/>
<text x="351.32" y="223.4" font-size="6.2" fill="#1e1e1e" text-anchor="middle" stroke="#1e1e1e" stroke-width="0.18">5.0</text>
<line x1="364.95000000000005" y1="211.6" x2="364.95000000000005" y2="214.4" stroke="#111" stroke-width="0.9"/>
<text x="364.95000000000005" y="223.4" font-size="6.2" fill="#1e1e1e" text-anchor="middle" stroke="#1e1e1e" stroke-width="0.18">7.5</text>
<line x1="378.1" y1="211.6" x2="378.1" y2="214.4" stroke="#111" stroke-width="0.9"/>
<text x="378.1" y="223.4" font-size="6.2" fill="#1e1e1e" text-anchor="middle" stroke="#1e1e1e" stroke-width="0.18">−5.0</text>
<line x1="391.73" y1="211.6" x2="391.73" y2="214.4" stroke="#111" stroke-width="0.9"/>
<text x="391.73" y="223.4" font-size="6.2" fill="#1e1e1e" text-anchor="middle" stroke="#1e1e1e" stroke-width="0.18">−2.5</text>
<line x1="405.36" y1="211.6" x2="405.36" y2="214.4" stroke="#111" stroke-width="0.9"/>
<text x="405.36" y="223.4" font-size="6.2" fill="#1e1e1e" text-anchor="middle" stroke="#1e1e1e" stroke-width="0.18">0.0</text>
<line x1="418.99" y1="211.6" x2="418.99" y2="214.4" stroke="#111" stroke-width="0.9"/>
<text x="418.99" y="223.4" font-size="6.2" fill="#1e1e1e" text-anchor="middle" stroke="#1e1e1e" stroke-width="0.18">2.5</text>
<line x1="432.62" y1="211.6" x2="432.62" y2="214.4" stroke="#111" stroke-width="0.9"/>
<text x="432.62" y="223.4" font-size="6.2" fill="#1e1e1e" text-anchor="middle" stroke="#1e1e1e" stroke-width="0.18">5.0</text>
<line x1="446.25" y1="211.6" x2="446.25" y2="214.4" stroke="#111" stroke-width="0.9"/>
<text x="446.25" y="223.4" font-size="6.2" fill="#1e1e1e" text-anchor="middle" stroke="#1e1e1e" stroke-width="0.18">7.5</text>
<text transform="translate(273.6,164.7) rotate(-90)" font-size="6.3" fill="#1e1e1e" text-anchor="middle" textLength="24.4" lengthAdjust="spacingAndGlyphs">UMAP_2</text>
<text x="359.8" y="233.7" font-size="6.3" fill="#1e1e1e" textLength="24" lengthAdjust="spacingAndGlyphs" stroke="#1e1e1e" stroke-width="0.18">UMAP_1</text>
<text x="456.3" y="140" font-size="6.1" fill="#1e1e1e" textLength="19.1" lengthAdjust="spacingAndGlyphs" stroke="#1e1e1e" stroke-width="0.18">Cluster</text>
<circle cx="460.1" cy="146.3" r="3" fill="#e7806d"/>
<text x="466.4" y="148.60000000000002" font-size="6.6" fill="#1e1e1e" stroke="#1e1e1e" stroke-width="0.18">1</text>
<circle cx="460.1" cy="153.97" r="3" fill="#c8a12c"/>
<text x="466.4" y="156.27" font-size="6.6" fill="#1e1e1e" stroke="#1e1e1e" stroke-width="0.18">2</text>
<circle cx="460.1" cy="161.64000000000001" r="3" fill="#4fa93a"/>
<text x="466.4" y="163.94000000000003" font-size="6.6" fill="#1e1e1e" stroke="#1e1e1e" stroke-width="0.18">3</text>
<circle cx="460.1" cy="169.31" r="3" fill="#25ab8e"/>
<text x="466.4" y="171.61" font-size="6.6" fill="#1e1e1e" stroke="#1e1e1e" stroke-width="0.18">4</text>
<circle cx="460.1" cy="176.98000000000002" r="3" fill="#2aa9dd"/>
<text x="466.4" y="179.28000000000003" font-size="6.6" fill="#1e1e1e" stroke="#1e1e1e" stroke-width="0.18">5</text>
<circle cx="460.1" cy="184.65" r="3" fill="#9088c8"/>
<text x="466.4" y="186.95000000000002" font-size="6.6" fill="#1e1e1e" stroke="#1e1e1e" stroke-width="0.18">6</text>
<circle cx="460.1" cy="192.32" r="3" fill="#d06fae"/>
<text x="466.4" y="194.62" font-size="6.6" fill="#1e1e1e" stroke="#1e1e1e" stroke-width="0.18">7</text>
<path d="M206.6,291.6h1.0v5.6h-1.0zM146.4,297.2h2.0v5.6h-2.0zM175.5,297.2h1.0v5.6h-1.0zM46.1,302.8h1.0v5.6h-1.0zM48.1,302.8h3.0v5.6h-3.0zM52.1,302.8h3.0v5.6h-3.0zM57.1,302.8h15.0v5.6h-15.0zM74.2,302.8h1.0v5.6h-1.0zM77.2,302.8h6.0v5.6h-6.0zM84.2,302.8h3.0v5.6h-3.0zM88.2,302.8h1.0v5.6h-1.0zM91.2,302.8h1.0v5.6h-1.0zM93.2,302.8h4.0v5.6h-4.0zM98.3,302.8h13.0v5.6h-13.0zM112.3,302.8h5.0v5.6h-5.0zM118.3,302.8h10.0v5.6h-10.0zM129.4,302.8h5.0v5.6h-5.0zM136.4,302.8h1.0v5.6h-1.0zM138.4,302.8h3.0v5.6h-3.0zM142.4,302.8h2.0v5.6h-2.0zM145.4,302.8h3.0v5.6h-3.0zM149.4,302.8h2.0v5.6h-2.0zM152.4,302.8h1.0v5.6h-1.0zM155.4,302.8h2.0v5.6h-2.0zM159.4,302.8h2.0v5.6h-2.0zM162.5,302.8h1.0v5.6h-1.0zM164.5,302.8h2.0v5.6h-2.0zM167.5,302.8h10.0v5.6h-10.0zM178.5,302.8h9.0v5.6h-9.0zM188.5,302.8h5.0v5.6h-5.0zM194.5,302.8h13.0v5.6h-13.0zM43.1,308.4h2.0v5.6h-2.0zM46.1,308.4h1.0v5.6h-1.0zM48.1,308.4h7.0v5.6h-7.0zM56.1,308.4h16.0v5.6h-16.0zM74.2,308.4h1.0v5.6h-1.0zM77.2,308.4h6.0v5.6h-6.0zM84.2,308.4h3.0v5.6h-3.0zM88.2,308.4h1.0v5.6h-1.0zM93.2,308.4h1.0v5.6h-1.0zM95.3,308.4h2.0v5.6h-2.0zM99.3,308.4h5.0v5.6h-5.0zM106.3,308.4h2.0v5.6h-2.0zM109.3,308.4h1.0v5.6h-1.0zM111.3,308.4h4.0v5.6h-4.0zM116.3,308.4h6.0v5.6h-6.0zM123.3,308.4h3.0v5.6h-3.0zM127.3,308.4h5.0v5.6h-5.0zM135.4,308.4h5.0v5.6h-5.0zM141.4,308.4h3.0v5.6h-3.0zM145.4,308.4h3.0v5.6h-3.0zM149.4,308.4h2.0v5.6h-2.0zM152.4,308.4h1.0v5.6h-1.0zM155.4,308.4h1.0v5.6h-1.0zM157.4,308.4h1.0v5.6h-1.0zM161.5,308.4h3.0v5.6h-3.0zM165.5,308.4h1.0v5.6h-1.0zM169.5,308.4h8.0v5.6h-8.0zM178.5,308.4h1.0v5.6h-1.0zM180.5,308.4h13.0v5.6h-13.0zM194.5,308.4h2.0v5.6h-2.0zM197.6,308.4h10.0v5.6h-10.0zM210.6,308.4h1.0v5.6h-1.0zM43.1,314.0h1.0v5.6h-1.0zM46.1,314.0h1.0v5.6h-1.0zM48.1,314.0h3.0v5.6h-3.0zM52.1,314.0h2.0v5.6h-2.0zM56.1,314.0h2.0v5.6h-2.0zM59.1,314.0h4.0v5.6h-4.0zM64.2,314.0h2.0v5.6h-2.0zM67.2,314.0h3.0v5.6h-3.0zM71.2,314.0h1.0v5.6h-1.0zM74.2,314.0h1.0v5.6h-1.0zM78.2,314.0h1.0v5.6h-1.0zM80.2,314.0h3.0v5.6h-3.0zM85.2,314.0h4.0v5.6h-4.0zM160.4,314.0h1.0v5.6h-1.0zM93.2,325.2h1.0v5.6h-1.0zM95.3,325.2h2.0v5.6h-2.0zM98.3,325.2h6.0v5.6h-6.0zM105.3,325.2h1.0v5.6h-1.0zM107.3,325.2h6.0v5.6h-6.0zM114.3,325.2h1.0v5.6h-1.0zM116.3,325.2h16.0v5.6h-16.0zM133.4,325.2h1.0v5.6h-1.0zM175.5,325.2h1.0v5.6h-1.0zM46.1,330.8h1.0v5.6h-1.0zM48.1,330.8h7.0v5.6h-7.0zM57.1,330.8h4.0v5.6h-4.0zM62.2,330.8h10.0v5.6h-10.0zM74.2,330.8h1.0v5.6h-1.0zM77.2,330.8h1.0v5.6h-1.0zM79.2,330.8h2.0v5.6h-2.0zM82.2,330.8h1.0v5.6h-1.0zM85.2,330.8h4.0v5.6h-4.0zM101.3,330.8h1.0v5.6h-1.0zM106.3,330.8h1.0v5.6h-1.0zM109.3,330.8h1.0v5.6h-1.0zM118.3,330.8h1.0v5.6h-1.0zM121.3,330.8h1.0v5.6h-1.0zM141.4,330.8h1.0v5.6h-1.0zM143.4,330.8h1.0v5.6h-1.0zM157.4,330.8h1.0v5.6h-1.0zM43.1,336.4h1.0v5.6h-1.0zM46.1,336.4h1.0v5.6h-1.0zM48.1,336.4h1.0v5.6h-1.0zM50.1,336.4h2.0v5.6h-2.0zM53.1,336.4h1.0v5.6h-1.0zM56.1,336.4h5.0v5.6h-5.0zM62.2,336.4h10.0v5.6h-10.0zM74.2,336.4h1.0v5.6h-1.0zM77.2,336.4h5.0v5.6h-5.0zM84.2,336.4h5.0v5.6h-5.0zM96.3,336.4h1.0v5.6h-1.0zM77.2,347.6h1.0v5.6h-1.0zM43.1,353.2h2.0v5.6h-2.0zM46.1,353.2h1.0v5.6h-1.0zM48.1,353.2h1.0v5.6h-1.0zM50.1,353.2h2.0v5.6h-2.0zM53.1,353.2h2.0v5.6h-2.0zM56.1,353.2h2.0v5.6h-2.0zM60.2,353.2h12.0v5.6h-12.0zM77.2,353.2h2.0v5.6h-2.0zM80.2,353.2h3.0v5.6h-3.0zM85.2,353.2h4.0v5.6h-4.0zM106.3,353.2h1.0v5.6h-1.0zM118.3,353.2h1.0v5.6h-1.0zM96.3,375.6h1.0v5.6h-1.0zM100.3,375.6h1.0v5.6h-1.0zM107.3,375.6h1.0v5.6h-1.0zM109.3,375.6h1.0v5.6h-1.0zM118.3,375.6h1.0v5.6h-1.0zM125.3,375.6h1.0v5.6h-1.0zM127.3,375.6h1.0v5.6h-1.0zM187.5,375.6h2.0v5.6h-2.0zM195.6,375.6h1.0v5.6h-1.0zM200.6,375.6h1.0v5.6h-1.0zM108.3,381.2h1.0v5.6h-1.0zM125.3,381.2h1.0v5.6h-1.0zM132.4,381.2h1.0v5.6h-1.0zM194.5,381.2h1.0v5.6h-1.0zM206.6,381.2h1.0v5.6h-1.0zM113.3,386.8h1.0v5.6h-1.0zM168.5,386.8h1.0v5.6h-1.0zM194.5,386.8h1.0v5.6h-1.0zM203.6,386.8h1.0v5.6h-1.0zM48.1,398.0h1.0v5.6h-1.0zM51.1,398.0h4.0v5.6h-4.0zM56.1,398.0h1.0v5.6h-1.0zM59.1,398.0h1.0v5.6h-1.0zM62.2,398.0h3.0v5.6h-3.0zM66.2,398.0h6.0v5.6h-6.0zM74.2,398.0h1.0v5.6h-1.0zM78.2,398.0h3.0v5.6h-3.0zM84.2,398.0h1.0v5.6h-1.0zM86.2,398.0h3.0v5.6h-3.0zM93.2,398.0h2.0v5.6h-2.0zM96.3,398.0h1.0v5.6h-1.0zM98.3,398.0h6.0v5.6h-6.0zM105.3,398.0h1.0v5.6h-1.0zM107.3,398.0h3.0v5.6h-3.0zM111.3,398.0h1.0v5.6h-1.0zM114.3,398.0h1.0v5.6h-1.0zM116.3,398.0h2.0v5.6h-2.0zM119.3,398.0h2.0v5.6h-2.0zM122.3,398.0h5.0v5.6h-5.0zM129.4,398.0h1.0v5.6h-1.0zM131.4,398.0h3.0v5.6h-3.0zM136.4,398.0h4.0v5.6h-4.0zM141.4,398.0h1.0v5.6h-1.0zM146.4,398.0h2.0v5.6h-2.0zM149.4,398.0h2.0v5.6h-2.0zM153.4,398.0h4.0v5.6h-4.0zM158.4,398.0h4.0v5.6h-4.0zM164.5,398.0h1.0v5.6h-1.0zM166.5,398.0h4.0v5.6h-4.0zM171.5,398.0h1.0v5.6h-1.0zM174.5,398.0h1.0v5.6h-1.0zM181.5,398.0h1.0v5.6h-1.0zM184.5,398.0h2.0v5.6h-2.0zM188.5,398.0h2.0v5.6h-2.0zM191.5,398.0h2.0v5.6h-2.0zM194.5,398.0h1.0v5.6h-1.0zM197.6,398.0h1.0v5.6h-1.0zM199.6,398.0h1.0v5.6h-1.0zM201.6,398.0h6.0v5.6h-6.0zM48.1,403.6h2.0v5.6h-2.0zM51.1,403.6h3.0v5.6h-3.0zM56.1,403.6h3.0v5.6h-3.0zM61.2,403.6h10.0v5.6h-10.0zM74.2,403.6h1.0v5.6h-1.0zM77.2,403.6h2.0v5.6h-2.0zM80.2,403.6h1.0v5.6h-1.0zM82.2,403.6h1.0v5.6h-1.0zM84.2,403.6h5.0v5.6h-5.0zM93.2,403.6h3.0v5.6h-3.0zM98.3,403.6h1.0v5.6h-1.0zM101.3,403.6h1.0v5.6h-1.0zM103.3,403.6h1.0v5.6h-1.0zM106.3,403.6h9.0v5.6h-9.0zM116.3,403.6h2.0v5.6h-2.0zM120.3,403.6h2.0v5.6h-2.0zM124.3,403.6h3.0v5.6h-3.0zM128.4,403.6h1.0v5.6h-1.0zM131.4,403.6h1.0v5.6h-1.0zM133.4,403.6h1.0v5.6h-1.0zM135.4,403.6h4.0v5.6h-4.0zM141.4,403.6h1.0v5.6h-1.0zM145.4,403.6h3.0v5.6h-3.0zM149.4,403.6h2.0v5.6h-2.0zM152.4,403.6h2.0v5.6h-2.0zM156.4,403.6h4.0v5.6h-4.0zM161.5,403.6h6.0v5.6h-6.0zM168.5,403.6h2.0v5.6h-2.0zM171.5,403.6h1.0v5.6h-1.0zM173.5,403.6h3.0v5.6h-3.0zM178.5,403.6h1.0v5.6h-1.0zM180.5,403.6h4.0v5.6h-4.0zM185.5,403.6h2.0v5.6h-2.0zM188.5,403.6h2.0v5.6h-2.0zM191.5,403.6h1.0v5.6h-1.0zM196.6,403.6h6.0v5.6h-6.0zM203.6,403.6h4.0v5.6h-4.0z" fill="#f7f7fc"/>
<path d="M96.3,291.6h1.0v5.6h-1.0zM122.3,291.6h1.0v5.6h-1.0zM125.3,291.6h1.0v5.6h-1.0zM169.5,291.6h1.0v5.6h-1.0zM109.3,297.2h1.0v5.6h-1.0zM125.3,297.2h1.0v5.6h-1.0zM136.4,297.2h1.0v5.6h-1.0zM140.4,297.2h1.0v5.6h-1.0zM149.4,297.2h1.0v5.6h-1.0zM178.5,297.2h1.0v5.6h-1.0zM44.1,302.8h1.0v5.6h-1.0zM56.1,302.8h1.0v5.6h-1.0zM111.3,302.8h1.0v5.6h-1.0zM108.3,308.4h1.0v5.6h-1.0zM179.5,308.4h1.0v5.6h-1.0zM196.6,308.4h1.0v5.6h-1.0zM44.1,314.0h1.0v5.6h-1.0zM80.2,319.6h2.0v5.6h-2.0zM91.2,325.2h1.0v5.6h-1.0zM94.3,325.2h1.0v5.6h-1.0zM106.3,325.2h1.0v5.6h-1.0zM113.3,325.2h1.0v5.6h-1.0zM115.3,325.2h1.0v5.6h-1.0zM132.4,325.2h1.0v5.6h-1.0zM161.5,325.2h1.0v5.6h-1.0zM164.5,325.2h1.0v5.6h-1.0zM168.5,325.2h1.0v5.6h-1.0zM174.5,325.2h1.0v5.6h-1.0zM43.1,330.8h2.0v5.6h-2.0zM93.2,330.8h1.0v5.6h-1.0zM100.3,330.8h1.0v5.6h-1.0zM112.3,330.8h1.0v5.6h-1.0zM115.3,330.8h1.0v5.6h-1.0zM117.3,330.8h1.0v5.6h-1.0zM119.3,330.8h1.0v5.6h-1.0zM125.3,330.8h1.0v5.6h-1.0zM139.4,330.8h1.0v5.6h-1.0zM147.4,330.8h1.0v5.6h-1.0zM154.4,330.8h1.0v5.6h-1.0zM165.5,330.8h1.0v5.6h-1.0zM168.5,330.8h1.0v5.6h-1.0zM44.1,336.4h1.0v5.6h-1.0zM49.1,336.4h1.0v5.6h-1.0zM52.1,336.4h1.0v5.6h-1.0zM54.1,336.4h1.0v5.6h-1.0zM61.2,336.4h1.0v5.6h-1.0zM82.2,336.4h1.0v5.6h-1.0zM107.3,336.4h1.0v5.6h-1.0zM113.3,336.4h1.0v5.6h-1.0zM118.3,336.4h1.0v5.6h-1.0zM152.4,336.4h1.0v5.6h-1.0zM155.4,336.4h1.0v5.6h-1.0zM164.5,336.4h1.0v5.6h-1.0zM170.5,336.4h1.0v5.6h-1.0zM58.1,342.0h1.0v5.6h-1.0zM189.5,342.0h1.0v5.6h-1.0zM43.1,347.6h1.0v5.6h-1.0zM74.2,347.6h1.0v5.6h-1.0zM84.2,347.6h1.0v5.6h-1.0zM208.6,347.6h1.0v5.6h-1.0zM52.1,353.2h1.0v5.6h-1.0zM101.3,353.2h1.0v5.6h-1.0zM108.3,353.2h1.0v5.6h-1.0zM117.3,353.2h1.0v5.6h-1.0zM121.3,353.2h1.0v5.6h-1.0zM127.3,353.2h1.0v5.6h-1.0zM147.4,353.2h1.0v5.6h-1.0zM153.4,353.2h1.0v5.6h-1.0zM49.1,358.8h1.0v5.6h-1.0zM179.5,358.8h1.0v5.6h-1.0zM191.5,358.8h1.0v5.6h-1.0zM194.5,358.8h2.0v5.6h-2.0zM91.2,364.4h1.0v5.6h-1.0zM112.3,364.4h1.0v5.6h-1.0zM184.5,364.4h1.0v5.6h-1.0zM46.1,370.0h1.0v5.6h-1.0zM66.2,370.0h1.0v5.6h-1.0zM91.2,375.6h1.0v5.6h-1.0zM99.3,375.6h1.0v5.6h-1.0zM102.3,375.6h1.0v5.6h-1.0zM113.3,375.6h1.0v5.6h-1.0zM129.4,375.6h1.0v5.6h-1.0zM139.4,375.6h1.0v5.6h-1.0zM160.4,375.6h2.0v5.6h-2.0zM179.5,375.6h1.0v5.6h-1.0zM183.5,375.6h1.0v5.6h-1.0zM186.5,375.6h1.0v5.6h-1.0zM190.5,375.6h1.0v5.6h-1.0zM201.6,375.6h1.0v5.6h-1.0zM203.6,375.6h1.0v5.6h-1.0zM94.3,381.2h3.0v5.6h-3.0zM102.3,381.2h1.0v5.6h-1.0zM107.3,381.2h1.0v5.6h-1.0zM112.3,381.2h1.0v5.6h-1.0zM141.4,381.2h1.0v5.6h-1.0zM195.6,381.2h2.0v5.6h-2.0zM205.6,381.2h1.0v5.6h-1.0zM118.3,386.8h1.0v5.6h-1.0zM129.4,386.8h1.0v5.6h-1.0zM176.5,386.8h1.0v5.6h-1.0zM179.5,386.8h1.0v5.6h-1.0zM195.6,386.8h1.0v5.6h-1.0zM199.6,386.8h3.0v5.6h-3.0zM206.6,386.8h1.0v5.6h-1.0zM81.2,398.0h1.0v5.6h-1.0zM198.6,398.0h1.0v5.6h-1.0zM105.3,403.6h1.0v5.6h-1.0zM154.4,403.6h1.0v5.6h-1.0z" fill="#f0eff8"/>
<path d="M118.3,297.2h1.0v5.6h-1.0zM137.4,297.2h1.0v5.6h-1.0zM157.4,297.2h1.0v5.6h-1.0zM160.4,297.2h1.0v5.6h-1.0zM167.5,297.2h1.0v5.6h-1.0zM172.5,297.2h1.0v5.6h-1.0zM176.5,297.2h1.0v5.6h-1.0zM184.5,297.2h1.0v5.6h-1.0zM187.5,297.2h1.0v5.6h-1.0zM189.5,297.2h3.0v5.6h-3.0zM199.6,297.2h1.0v5.6h-1.0zM43.1,302.8h1.0v5.6h-1.0zM208.6,302.8h2.0v5.6h-2.0zM84.2,319.6h1.0v5.6h-1.0zM53.1,325.2h1.0v5.6h-1.0zM59.1,325.2h1.0v5.6h-1.0zM64.2,325.2h1.0v5.6h-1.0zM68.2,325.2h1.0v5.6h-1.0zM74.2,325.2h1.0v5.6h-1.0zM85.2,325.2h1.0v5.6h-1.0zM141.4,325.2h1.0v5.6h-1.0zM145.4,325.2h1.0v5.6h-1.0zM149.4,325.2h1.0v5.6h-1.0zM154.4,325.2h1.0v5.6h-1.0zM165.5,325.2h1.0v5.6h-1.0zM172.5,325.2h2.0v5.6h-2.0zM92.2,330.8h1.0v5.6h-1.0zM98.3,330.8h1.0v5.6h-1.0zM107.3,330.8h1.0v5.6h-1.0zM113.3,330.8h2.0v5.6h-2.0zM124.3,330.8h1.0v5.6h-1.0zM137.4,330.8h1.0v5.6h-1.0zM158.4,330.8h1.0v5.6h-1.0zM161.5,330.8h1.0v5.6h-1.0zM169.5,330.8h1.0v5.6h-1.0zM173.5,330.8h1.0v5.6h-1.0zM176.5,330.8h1.0v5.6h-1.0zM94.3,336.4h2.0v5.6h-2.0zM119.3,336.4h2.0v5.6h-2.0zM125.3,336.4h1.0v5.6h-1.0zM132.4,336.4h1.0v5.6h-1.0zM136.4,336.4h1.0v5.6h-1.0zM138.4,336.4h1.0v5.6h-1.0zM147.4,336.4h1.0v5.6h-1.0zM160.4,336.4h1.0v5.6h-1.0zM169.5,336.4h1.0v5.6h-1.0zM173.5,336.4h3.0v5.6h-3.0zM131.4,342.0h1.0v5.6h-1.0zM120.3,347.6h1.0v5.6h-1.0zM178.5,347.6h1.0v5.6h-1.0zM199.6,347.6h1.0v5.6h-1.0zM95.3,353.2h1.0v5.6h-1.0zM115.3,353.2h1.0v5.6h-1.0zM99.3,358.8h1.0v5.6h-1.0zM184.5,358.8h1.0v5.6h-1.0zM43.1,370.0h1.0v5.6h-1.0zM48.1,370.0h1.0v5.6h-1.0zM59.1,370.0h1.0v5.6h-1.0zM70.2,370.0h1.0v5.6h-1.0zM74.2,370.0h1.0v5.6h-1.0zM99.3,370.0h1.0v5.6h-1.0zM137.4,370.0h1.0v5.6h-1.0zM159.4,370.0h1.0v5.6h-1.0zM164.5,370.0h1.0v5.6h-1.0zM210.6,370.0h1.0v5.6h-1.0zM92.2,375.6h1.0v5.6h-1.0zM98.3,375.6h1.0v5.6h-1.0zM112.3,375.6h1.0v5.6h-1.0zM115.3,375.6h1.0v5.6h-1.0zM121.3,375.6h1.0v5.6h-1.0zM124.3,375.6h1.0v5.6h-1.0zM138.4,375.6h1.0v5.6h-1.0zM142.4,375.6h1.0v5.6h-1.0zM150.4,375.6h1.0v5.6h-1.0zM169.5,375.6h1.0v5.6h-1.0zM172.5,375.6h3.0v5.6h-3.0zM189.5,375.6h1.0v5.6h-1.0zM194.5,375.6h1.0v5.6h-1.0zM202.6,375.6h1.0v5.6h-1.0zM206.6,375.6h1.0v5.6h-1.0zM118.3,381.2h1.0v5.6h-1.0zM124.3,381.2h1.0v5.6h-1.0zM126.3,381.2h1.0v5.6h-1.0zM137.4,381.2h1.0v5.6h-1.0zM145.4,381.2h1.0v5.6h-1.0zM171.5,381.2h1.0v5.6h-1.0zM186.5,381.2h1.0v5.6h-1.0zM190.5,381.2h1.0v5.6h-1.0zM49.1,386.8h1.0v5.6h-1.0zM100.3,386.8h1.0v5.6h-1.0zM112.3,386.8h1.0v5.6h-1.0zM115.3,386.8h1.0v5.6h-1.0zM139.4,386.8h1.0v5.6h-1.0zM187.5,386.8h1.0v5.6h-1.0zM189.5,386.8h1.0v5.6h-1.0zM66.2,392.4h1.0v5.6h-1.0zM167.5,392.4h1.0v5.6h-1.0zM65.2,398.0h1.0v5.6h-1.0z" fill="#e8e7f5"/>
<path d="M65.2,291.6h1.0v5.6h-1.0zM84.2,291.6h1.0v5.6h-1.0zM107.3,291.6h1.0v5.6h-1.0zM109.3,291.6h1.0v5.6h-1.0zM115.3,291.6h1.0v5.6h-1.0zM161.5,291.6h1.0v5.6h-1.0zM164.5,291.6h1.0v5.6h-1.0zM185.5,291.6h1.0v5.6h-1.0zM195.6,291.6h1.0v5.6h-1.0zM200.6,291.6h1.0v5.6h-1.0zM112.3,297.2h1.0v5.6h-1.0zM115.3,297.2h1.0v5.6h-1.0zM138.4,297.2h1.0v5.6h-1.0zM145.4,297.2h1.0v5.6h-1.0zM155.4,297.2h1.0v5.6h-1.0zM158.4,297.2h1.0v5.6h-1.0zM161.5,297.2h1.0v5.6h-1.0zM169.5,297.2h1.0v5.6h-1.0zM174.5,297.2h1.0v5.6h-1.0zM179.5,297.2h1.0v5.6h-1.0zM188.5,297.2h1.0v5.6h-1.0zM194.5,297.2h2.0v5.6h-2.0zM198.6,297.2h1.0v5.6h-1.0zM206.6,297.2h1.0v5.6h-1.0zM208.6,308.4h2.0v5.6h-2.0zM177.5,314.0h1.0v5.6h-1.0zM184.5,314.0h1.0v5.6h-1.0zM87.2,319.6h1.0v5.6h-1.0zM100.3,319.6h1.0v5.6h-1.0zM109.3,319.6h1.0v5.6h-1.0zM119.3,319.6h1.0v5.6h-1.0zM125.3,319.6h1.0v5.6h-1.0zM136.4,319.6h1.0v5.6h-1.0zM48.1,325.2h1.0v5.6h-1.0zM54.1,325.2h1.0v5.6h-1.0zM63.2,325.2h1.0v5.6h-1.0zM65.2,325.2h2.0v5.6h-2.0zM69.2,325.2h2.0v5.6h-2.0zM80.2,325.2h1.0v5.6h-1.0zM87.2,325.2h1.0v5.6h-1.0zM136.4,325.2h1.0v5.6h-1.0zM138.4,325.2h1.0v5.6h-1.0zM140.4,325.2h1.0v5.6h-1.0zM146.4,325.2h2.0v5.6h-2.0zM150.4,325.2h1.0v5.6h-1.0zM153.4,325.2h1.0v5.6h-1.0zM155.4,325.2h1.0v5.6h-1.0zM157.4,325.2h1.0v5.6h-1.0zM159.4,325.2h2.0v5.6h-2.0zM162.5,325.2h1.0v5.6h-1.0zM170.5,325.2h1.0v5.6h-1.0zM195.6,325.2h1.0v5.6h-1.0zM206.6,325.2h1.0v5.6h-1.0zM91.2,330.8h1.0v5.6h-1.0zM99.3,330.8h1.0v5.6h-1.0zM102.3,330.8h2.0v5.6h-2.0zM110.3,330.8h1.0v5.6h-1.0zM116.3,330.8h1.0v5.6h-1.0zM120.3,330.8h1.0v5.6h-1.0zM129.4,330.8h1.0v5.6h-1.0zM132.4,330.8h1.0v5.6h-1.0zM136.4,330.8h1.0v5.6h-1.0zM145.4,330.8h1.0v5.6h-1.0zM149.4,330.8h2.0v5.6h-2.0zM153.4,330.8h1.0v5.6h-1.0zM155.4,330.8h2.0v5.6h-2.0zM160.4,330.8h1.0v5.6h-1.0zM162.5,330.8h1.0v5.6h-1.0zM167.5,330.8h1.0v5.6h-1.0zM170.5,330.8h1.0v5.6h-1.0zM172.5,330.8h1.0v5.6h-1.0zM91.2,336.4h1.0v5.6h-1.0zM98.3,336.4h1.0v5.6h-1.0zM101.3,336.4h1.0v5.6h-1.0zM112.3,336.4h1.0v5.6h-1.0zM127.3,336.4h1.0v5.6h-1.0zM139.4,336.4h1.0v5.6h-1.0zM157.4,336.4h2.0v5.6h-2.0zM172.5,336.4h1.0v5.6h-1.0zM176.5,336.4h1.0v5.6h-1.0zM74.2,342.0h1.0v5.6h-1.0zM46.1,347.6h1.0v5.6h-1.0zM49.1,347.6h1.0v5.6h-1.0zM54.1,347.6h1.0v5.6h-1.0zM59.1,347.6h1.0v5.6h-1.0zM69.2,347.6h1.0v5.6h-1.0zM80.2,347.6h1.0v5.6h-1.0zM86.2,347.6h1.0v5.6h-1.0zM91.2,353.2h1.0v5.6h-1.0zM99.3,353.2h2.0v5.6h-2.0zM104.3,353.2h1.0v5.6h-1.0zM107.3,353.2h1.0v5.6h-1.0zM109.3,353.2h1.0v5.6h-1.0zM113.3,353.2h2.0v5.6h-2.0zM132.4,353.2h2.0v5.6h-2.0zM149.4,353.2h1.0v5.6h-1.0zM59.1,358.8h1.0v5.6h-1.0zM87.2,358.8h1.0v5.6h-1.0zM180.5,358.8h1.0v5.6h-1.0zM185.5,358.8h1.0v5.6h-1.0zM188.5,358.8h1.0v5.6h-1.0zM190.5,358.8h1.0v5.6h-1.0zM203.6,358.8h1.0v5.6h-1.0zM206.6,358.8h1.0v5.6h-1.0zM190.5,364.4h1.0v5.6h-1.0zM194.5,364.4h2.0v5.6h-2.0zM44.1,370.0h1.0v5.6h-1.0zM49.1,370.0h3.0v5.6h-3.0zM54.1,370.0h1.0v5.6h-1.0zM58.1,370.0h1.0v5.6h-1.0zM64.2,370.0h1.0v5.6h-1.0zM69.2,370.0h1.0v5.6h-1.0zM80.2,370.0h2.0v5.6h-2.0zM87.2,370.0h1.0v5.6h-1.0zM94.3,375.6h1.0v5.6h-1.0zM103.3,375.6h1.0v5.6h-1.0zM106.3,375.6h1.0v5.6h-1.0zM108.3,375.6h1.0v5.6h-1.0zM110.3,375.6h2.0v5.6h-2.0zM120.3,375.6h1.0v5.6h-1.0zM126.3,375.6h1.0v5.6h-1.0zM130.4,375.6h1.0v5.6h-1.0zM132.4,375.6h2.0v5.6h-2.0zM136.4,375.6h1.0v5.6h-1.0zM149.4,375.6h1.0v5.6h-1.0zM153.4,375.6h1.0v5.6h-1.0zM157.4,375.6h2.0v5.6h-2.0zM164.5,375.6h2.0v5.6h-2.0zM176.5,375.6h3.0v5.6h-3.0zM191.5,375.6h1.0v5.6h-1.0zM198.6,375.6h1.0v5.6h-1.0zM204.6,375.6h2.0v5.6h-2.0zM91.2,381.2h1.0v5.6h-1.0zM101.3,381.2h1.0v5.6h-1.0zM103.3,381.2h1.0v5.6h-1.0zM117.3,381.2h1.0v5.6h-1.0zM120.3,381.2h2.0v5.6h-2.0zM140.4,381.2h1.0v5.6h-1.0zM173.5,381.2h1.0v5.6h-1.0zM177.5,381.2h1.0v5.6h-1.0zM182.5,381.2h1.0v5.6h-1.0zM184.5,381.2h2.0v5.6h-2.0zM191.5,381.2h1.0v5.6h-1.0zM202.6,381.2h1.0v5.6h-1.0zM209.6,381.2h1.0v5.6h-1.0zM137.4,386.8h1.0v5.6h-1.0zM155.4,386.8h1.0v5.6h-1.0zM164.5,386.8h1.0v5.6h-1.0zM173.5,386.8h1.0v5.6h-1.0zM178.5,386.8h1.0v5.6h-1.0zM180.5,386.8h1.0v5.6h-1.0zM186.5,386.8h1.0v5.6h-1.0zM190.5,386.8h1.0v5.6h-1.0zM46.1,398.0h1.0v5.6h-1.0zM209.6,398.0h1.0v5.6h-1.0z" fill="#e0def1"/>
<path d="M81.2,291.6h1.0v5.6h-1.0zM87.2,291.6h1.0v5.6h-1.0zM91.2,291.6h1.0v5.6h-1.0zM140.4,291.6h1.0v5.6h-1.0zM157.4,291.6h1.0v5.6h-1.0zM160.4,291.6h1.0v5.6h-1.0zM188.5,291.6h1.0v5.6h-1.0zM194.5,291.6h1.0v5.6h-1.0zM205.6,291.6h1.0v5.6h-1.0zM46.1,297.2h1.0v5.6h-1.0zM70.2,297.2h1.0v5.6h-1.0zM84.2,297.2h1.0v5.6h-1.0zM91.2,297.2h1.0v5.6h-1.0zM98.3,297.2h1.0v5.6h-1.0zM100.3,297.2h1.0v5.6h-1.0zM139.4,297.2h1.0v5.6h-1.0zM142.4,297.2h1.0v5.6h-1.0zM150.4,297.2h1.0v5.6h-1.0zM153.4,297.2h1.0v5.6h-1.0zM156.4,297.2h1.0v5.6h-1.0zM159.4,297.2h1.0v5.6h-1.0zM164.5,297.2h3.0v5.6h-3.0zM168.5,297.2h1.0v5.6h-1.0zM171.5,297.2h1.0v5.6h-1.0zM186.5,297.2h1.0v5.6h-1.0zM200.6,297.2h4.0v5.6h-4.0zM205.6,297.2h1.0v5.6h-1.0zM210.6,302.8h1.0v5.6h-1.0zM115.3,308.4h1.0v5.6h-1.0zM132.4,308.4h1.0v5.6h-1.0zM51.1,314.0h1.0v5.6h-1.0zM54.1,314.0h1.0v5.6h-1.0zM138.4,314.0h2.0v5.6h-2.0zM195.6,314.0h1.0v5.6h-1.0zM48.1,319.6h1.0v5.6h-1.0zM54.1,319.6h1.0v5.6h-1.0zM74.2,319.6h1.0v5.6h-1.0zM107.3,319.6h1.0v5.6h-1.0zM115.3,319.6h1.0v5.6h-1.0zM129.4,319.6h1.0v5.6h-1.0zM49.1,325.2h2.0v5.6h-2.0zM61.2,325.2h1.0v5.6h-1.0zM71.2,325.2h1.0v5.6h-1.0zM75.2,325.2h1.0v5.6h-1.0zM78.2,325.2h1.0v5.6h-1.0zM88.2,325.2h1.0v5.6h-1.0zM104.3,325.2h1.0v5.6h-1.0zM135.4,325.2h1.0v5.6h-1.0zM137.4,325.2h1.0v5.6h-1.0zM139.4,325.2h1.0v5.6h-1.0zM142.4,325.2h3.0v5.6h-3.0zM156.4,325.2h1.0v5.6h-1.0zM158.4,325.2h1.0v5.6h-1.0zM169.5,325.2h1.0v5.6h-1.0zM184.5,325.2h2.0v5.6h-2.0zM189.5,325.2h1.0v5.6h-1.0zM196.6,325.2h1.0v5.6h-1.0zM198.6,325.2h3.0v5.6h-3.0zM203.6,325.2h1.0v5.6h-1.0zM94.3,330.8h1.0v5.6h-1.0zM122.3,330.8h2.0v5.6h-2.0zM127.3,330.8h1.0v5.6h-1.0zM146.4,330.8h1.0v5.6h-1.0zM159.4,330.8h1.0v5.6h-1.0zM166.5,330.8h1.0v5.6h-1.0zM174.5,330.8h1.0v5.6h-1.0zM92.2,336.4h1.0v5.6h-1.0zM99.3,336.4h1.0v5.6h-1.0zM102.3,336.4h1.0v5.6h-1.0zM106.3,336.4h1.0v5.6h-1.0zM108.3,336.4h1.0v5.6h-1.0zM110.3,336.4h1.0v5.6h-1.0zM115.3,336.4h1.0v5.6h-1.0zM121.3,336.4h1.0v5.6h-1.0zM124.3,336.4h1.0v5.6h-1.0zM133.4,336.4h1.0v5.6h-1.0zM137.4,336.4h1.0v5.6h-1.0zM140.4,336.4h2.0v5.6h-2.0zM143.4,336.4h1.0v5.6h-1.0zM145.4,336.4h1.0v5.6h-1.0zM149.4,336.4h2.0v5.6h-2.0zM165.5,336.4h4.0v5.6h-4.0zM46.1,342.0h1.0v5.6h-1.0zM49.1,342.0h1.0v5.6h-1.0zM80.2,342.0h2.0v5.6h-2.0zM44.1,347.6h1.0v5.6h-1.0zM52.1,347.6h1.0v5.6h-1.0zM81.2,347.6h1.0v5.6h-1.0zM79.2,353.2h1.0v5.6h-1.0zM92.2,353.2h1.0v5.6h-1.0zM102.3,353.2h1.0v5.6h-1.0zM110.3,353.2h1.0v5.6h-1.0zM116.3,353.2h1.0v5.6h-1.0zM122.3,353.2h1.0v5.6h-1.0zM126.3,353.2h1.0v5.6h-1.0zM129.4,353.2h1.0v5.6h-1.0zM138.4,353.2h1.0v5.6h-1.0zM146.4,353.2h1.0v5.6h-1.0zM168.5,353.2h1.0v5.6h-1.0zM46.1,358.8h1.0v5.6h-1.0zM54.1,358.8h1.0v5.6h-1.0zM74.2,358.8h1.0v5.6h-1.0zM81.2,358.8h1.0v5.6h-1.0zM182.5,358.8h2.0v5.6h-2.0zM186.5,358.8h1.0v5.6h-1.0zM189.5,358.8h1.0v5.6h-1.0zM198.6,358.8h3.0v5.6h-3.0zM175.5,364.4h1.0v5.6h-1.0zM188.5,364.4h1.0v5.6h-1.0zM200.6,364.4h1.0v5.6h-1.0zM52.1,370.0h1.0v5.6h-1.0zM65.2,370.0h1.0v5.6h-1.0zM68.2,370.0h1.0v5.6h-1.0zM71.2,370.0h1.0v5.6h-1.0zM82.2,370.0h1.0v5.6h-1.0zM85.2,370.0h1.0v5.6h-1.0zM128.4,375.6h1.0v5.6h-1.0zM135.4,375.6h1.0v5.6h-1.0zM145.4,375.6h2.0v5.6h-2.0zM154.4,375.6h1.0v5.6h-1.0zM163.5,375.6h1.0v5.6h-1.0zM180.5,375.6h3.0v5.6h-3.0zM184.5,375.6h1.0v5.6h-1.0zM196.6,375.6h1.0v5.6h-1.0zM199.6,375.6h1.0v5.6h-1.0zM207.6,375.6h1.0v5.6h-1.0zM209.6,375.6h1.0v5.6h-1.0zM93.2,381.2h1.0v5.6h-1.0zM98.3,381.2h3.0v5.6h-3.0zM106.3,381.2h1.0v5.6h-1.0zM109.3,381.2h2.0v5.6h-2.0zM114.3,381.2h1.0v5.6h-1.0zM119.3,381.2h1.0v5.6h-1.0zM123.3,381.2h1.0v5.6h-1.0zM127.3,381.2h1.0v5.6h-1.0zM129.4,381.2h1.0v5.6h-1.0zM136.4,381.2h1.0v5.6h-1.0zM138.4,381.2h1.0v5.6h-1.0zM151.4,381.2h1.0v5.6h-1.0zM156.4,381.2h1.0v5.6h-1.0zM160.4,381.2h1.0v5.6h-1.0zM167.5,381.2h1.0v5.6h-1.0zM169.5,381.2h1.0v5.6h-1.0zM172.5,381.2h1.0v5.6h-1.0zM179.5,381.2h2.0v5.6h-2.0zM183.5,381.2h1.0v5.6h-1.0zM189.5,381.2h1.0v5.6h-1.0zM198.6,381.2h2.0v5.6h-2.0zM203.6,381.2h1.0v5.6h-1.0zM94.3,386.8h3.0v5.6h-3.0zM98.3,386.8h1.0v5.6h-1.0zM102.3,386.8h1.0v5.6h-1.0zM106.3,386.8h4.0v5.6h-4.0zM117.3,386.8h1.0v5.6h-1.0zM120.3,386.8h2.0v5.6h-2.0zM125.3,386.8h1.0v5.6h-1.0zM127.3,386.8h1.0v5.6h-1.0zM136.4,386.8h1.0v5.6h-1.0zM143.4,386.8h1.0v5.6h-1.0zM167.5,386.8h1.0v5.6h-1.0zM182.5,386.8h3.0v5.6h-3.0zM188.5,386.8h1.0v5.6h-1.0zM191.5,386.8h2.0v5.6h-2.0zM196.6,386.8h1.0v5.6h-1.0zM198.6,386.8h1.0v5.6h-1.0zM205.6,386.8h1.0v5.6h-1.0zM115.3,392.4h1.0v5.6h-1.0zM130.4,398.0h1.0v5.6h-1.0zM59.1,403.6h1.0v5.6h-1.0zM91.2,403.6h1.0v5.6h-1.0z" fill="#d8d6ee"/>
<path d="M46.1,291.6h1.0v5.6h-1.0zM48.1,291.6h1.0v5.6h-1.0zM56.1,291.6h1.0v5.6h-1.0zM70.2,291.6h1.0v5.6h-1.0zM74.2,291.6h1.0v5.6h-1.0zM80.2,291.6h1.0v5.6h-1.0zM92.2,291.6h1.0v5.6h-1.0zM101.3,291.6h1.0v5.6h-1.0zM117.3,291.6h1.0v5.6h-1.0zM138.4,291.6h1.0v5.6h-1.0zM143.4,291.6h1.0v5.6h-1.0zM145.4,291.6h1.0v5.6h-1.0zM150.4,291.6h1.0v5.6h-1.0zM170.5,291.6h1.0v5.6h-1.0zM173.5,291.6h3.0v5.6h-3.0zM179.5,291.6h2.0v5.6h-2.0zM183.5,291.6h1.0v5.6h-1.0zM186.5,291.6h1.0v5.6h-1.0zM191.5,291.6h1.0v5.6h-1.0zM198.6,291.6h1.0v5.6h-1.0zM49.1,297.2h1.0v5.6h-1.0zM54.1,297.2h1.0v5.6h-1.0zM65.2,297.2h2.0v5.6h-2.0zM80.2,297.2h1.0v5.6h-1.0zM95.3,297.2h1.0v5.6h-1.0zM101.3,297.2h2.0v5.6h-2.0zM107.3,297.2h1.0v5.6h-1.0zM113.3,297.2h1.0v5.6h-1.0zM117.3,297.2h1.0v5.6h-1.0zM121.3,297.2h1.0v5.6h-1.0zM127.3,297.2h1.0v5.6h-1.0zM129.4,297.2h1.0v5.6h-1.0zM132.4,297.2h2.0v5.6h-2.0zM135.4,297.2h1.0v5.6h-1.0zM143.4,297.2h2.0v5.6h-2.0zM152.4,297.2h1.0v5.6h-1.0zM154.4,297.2h1.0v5.6h-1.0zM173.5,297.2h1.0v5.6h-1.0zM181.5,297.2h1.0v5.6h-1.0zM196.6,297.2h1.0v5.6h-1.0zM47.1,302.8h1.0v5.6h-1.0zM73.2,302.8h1.0v5.6h-1.0zM75.2,302.8h1.0v5.6h-1.0zM144.4,302.8h1.0v5.6h-1.0zM166.5,302.8h1.0v5.6h-1.0zM193.5,302.8h1.0v5.6h-1.0zM72.2,308.4h1.0v5.6h-1.0zM136.4,314.0h1.0v5.6h-1.0zM145.4,314.0h1.0v5.6h-1.0zM161.5,314.0h1.0v5.6h-1.0zM169.5,314.0h1.0v5.6h-1.0zM174.5,314.0h1.0v5.6h-1.0zM180.5,314.0h2.0v5.6h-2.0zM183.5,314.0h1.0v5.6h-1.0zM190.5,314.0h1.0v5.6h-1.0zM194.5,314.0h1.0v5.6h-1.0zM205.6,314.0h2.0v5.6h-2.0zM51.1,319.6h1.0v5.6h-1.0zM53.1,319.6h1.0v5.6h-1.0zM55.1,319.6h1.0v5.6h-1.0zM65.2,319.6h1.0v5.6h-1.0zM85.2,319.6h1.0v5.6h-1.0zM91.2,319.6h2.0v5.6h-2.0zM95.3,319.6h1.0v5.6h-1.0zM99.3,319.6h1.0v5.6h-1.0zM101.3,319.6h1.0v5.6h-1.0zM127.3,319.6h1.0v5.6h-1.0zM137.4,319.6h1.0v5.6h-1.0zM58.1,325.2h1.0v5.6h-1.0zM81.2,325.2h2.0v5.6h-2.0zM148.4,325.2h1.0v5.6h-1.0zM163.5,325.2h1.0v5.6h-1.0zM166.5,325.2h2.0v5.6h-2.0zM171.5,325.2h1.0v5.6h-1.0zM176.5,325.2h1.0v5.6h-1.0zM182.5,325.2h2.0v5.6h-2.0zM186.5,325.2h1.0v5.6h-1.0zM194.5,325.2h1.0v5.6h-1.0zM201.6,325.2h1.0v5.6h-1.0zM45.1,330.8h1.0v5.6h-1.0zM90.2,330.8h1.0v5.6h-1.0zM104.3,330.8h2.0v5.6h-2.0zM108.3,330.8h1.0v5.6h-1.0zM128.4,330.8h1.0v5.6h-1.0zM130.4,330.8h1.0v5.6h-1.0zM133.4,330.8h1.0v5.6h-1.0zM135.4,330.8h1.0v5.6h-1.0zM142.4,330.8h1.0v5.6h-1.0zM151.4,330.8h1.0v5.6h-1.0zM163.5,330.8h2.0v5.6h-2.0zM177.5,330.8h1.0v5.6h-1.0zM75.2,336.4h1.0v5.6h-1.0zM93.2,336.4h1.0v5.6h-1.0zM100.3,336.4h1.0v5.6h-1.0zM103.3,336.4h1.0v5.6h-1.0zM117.3,336.4h1.0v5.6h-1.0zM122.3,336.4h1.0v5.6h-1.0zM130.4,336.4h1.0v5.6h-1.0zM135.4,336.4h1.0v5.6h-1.0zM142.4,336.4h1.0v5.6h-1.0zM161.5,336.4h1.0v5.6h-1.0zM171.5,336.4h1.0v5.6h-1.0zM50.1,342.0h1.0v5.6h-1.0zM54.1,342.0h1.0v5.6h-1.0zM59.1,342.0h1.0v5.6h-1.0zM70.2,342.0h1.0v5.6h-1.0zM107.3,342.0h1.0v5.6h-1.0zM56.1,347.6h2.0v5.6h-2.0zM63.2,347.6h1.0v5.6h-1.0zM65.2,347.6h1.0v5.6h-1.0zM70.2,347.6h2.0v5.6h-2.0zM87.2,347.6h1.0v5.6h-1.0zM194.5,347.6h1.0v5.6h-1.0zM96.3,353.2h1.0v5.6h-1.0zM103.3,353.2h1.0v5.6h-1.0zM105.3,353.2h1.0v5.6h-1.0zM112.3,353.2h1.0v5.6h-1.0zM120.3,353.2h1.0v5.6h-1.0zM124.3,353.2h1.0v5.6h-1.0zM128.4,353.2h1.0v5.6h-1.0zM140.4,353.2h1.0v5.6h-1.0zM142.4,353.2h1.0v5.6h-1.0zM160.4,353.2h1.0v5.6h-1.0zM167.5,353.2h1.0v5.6h-1.0zM169.5,353.2h1.0v5.6h-1.0zM43.1,358.8h1.0v5.6h-1.0zM52.1,358.8h2.0v5.6h-2.0zM58.1,358.8h1.0v5.6h-1.0zM84.2,358.8h1.0v5.6h-1.0zM136.4,358.8h1.0v5.6h-1.0zM178.5,358.8h1.0v5.6h-1.0zM187.5,358.8h1.0v5.6h-1.0zM192.5,358.8h2.0v5.6h-2.0zM205.6,358.8h1.0v5.6h-1.0zM209.6,358.8h1.0v5.6h-1.0zM125.3,364.4h1.0v5.6h-1.0zM181.5,364.4h2.0v5.6h-2.0zM189.5,364.4h1.0v5.6h-1.0zM198.6,364.4h1.0v5.6h-1.0zM201.6,364.4h1.0v5.6h-1.0zM206.6,364.4h1.0v5.6h-1.0zM56.1,370.0h2.0v5.6h-2.0zM61.2,370.0h1.0v5.6h-1.0zM63.2,370.0h1.0v5.6h-1.0zM77.2,370.0h1.0v5.6h-1.0zM88.2,370.0h1.0v5.6h-1.0zM208.6,370.0h1.0v5.6h-1.0zM93.2,375.6h1.0v5.6h-1.0zM104.3,375.6h2.0v5.6h-2.0zM116.3,375.6h1.0v5.6h-1.0zM119.3,375.6h1.0v5.6h-1.0zM123.3,375.6h1.0v5.6h-1.0zM147.4,375.6h1.0v5.6h-1.0zM155.4,375.6h1.0v5.6h-1.0zM159.4,375.6h1.0v5.6h-1.0zM167.5,375.6h1.0v5.6h-1.0zM171.5,375.6h1.0v5.6h-1.0zM193.5,375.6h1.0v5.6h-1.0zM197.6,375.6h1.0v5.6h-1.0zM210.6,375.6h1.0v5.6h-1.0zM105.3,381.2h1.0v5.6h-1.0zM116.3,381.2h1.0v5.6h-1.0zM139.4,381.2h1.0v5.6h-1.0zM147.4,381.2h1.0v5.6h-1.0zM161.5,381.2h1.0v5.6h-1.0zM164.5,381.2h1.0v5.6h-1.0zM168.5,381.2h1.0v5.6h-1.0zM187.5,381.2h1.0v5.6h-1.0zM201.6,381.2h1.0v5.6h-1.0zM208.6,381.2h1.0v5.6h-1.0zM91.2,386.8h1.0v5.6h-1.0zM99.3,386.8h1.0v5.6h-1.0zM103.3,386.8h2.0v5.6h-2.0zM111.3,386.8h1.0v5.6h-1.0zM124.3,386.8h1.0v5.6h-1.0zM126.3,386.8h1.0v5.6h-1.0zM132.4,386.8h1.0v5.6h-1.0zM138.4,386.8h1.0v5.6h-1.0zM142.4,386.8h1.0v5.6h-1.0zM146.4,386.8h1.0v5.6h-1.0zM156.4,386.8h1.0v5.6h-1.0zM160.4,386.8h1.0v5.6h-1.0zM162.5,386.8h1.0v5.6h-1.0zM165.5,386.8h2.0v5.6h-2.0zM175.5,386.8h1.0v5.6h-1.0zM197.6,386.8h1.0v5.6h-1.0zM202.6,386.8h1.0v5.6h-1.0zM148.4,392.4h1.0v5.6h-1.0zM43.1,398.0h2.0v5.6h-2.0zM73.2,398.0h1.0v5.6h-1.0zM90.2,398.0h1.0v5.6h-1.0zM177.5,398.0h1.0v5.6h-1.0zM195.6,398.0h1.0v5.6h-1.0zM210.6,398.0h1.0v5.6h-1.0zM46.1,403.6h1.0v5.6h-1.0zM54.1,403.6h1.0v5.6h-1.0zM92.2,403.6h1.0v5.6h-1.0zM134.4,403.6h1.0v5.6h-1.0zM210.6,403.6h1.0v5.6h-1.0z" fill="#d1ceea"/>
<path d="M49.1,291.6h2.0v5.6h-2.0zM52.1,291.6h1.0v5.6h-1.0zM59.1,291.6h1.0v5.6h-1.0zM61.2,291.6h1.0v5.6h-1.0zM64.2,291.6h1.0v5.6h-1.0zM66.2,291.6h1.0v5.6h-1.0zM69.2,291.6h1.0v5.6h-1.0zM71.2,291.6h1.0v5.6h-1.0zM77.2,291.6h1.0v5.6h-1.0zM118.3,291.6h1.0v5.6h-1.0zM121.3,291.6h1.0v5.6h-1.0zM129.4,291.6h1.0v5.6h-1.0zM135.4,291.6h2.0v5.6h-2.0zM139.4,291.6h1.0v5.6h-1.0zM149.4,291.6h1.0v5.6h-1.0zM153.4,291.6h1.0v5.6h-1.0zM155.4,291.6h1.0v5.6h-1.0zM158.4,291.6h1.0v5.6h-1.0zM165.5,291.6h1.0v5.6h-1.0zM167.5,291.6h1.0v5.6h-1.0zM184.5,291.6h1.0v5.6h-1.0zM187.5,291.6h1.0v5.6h-1.0zM190.5,291.6h1.0v5.6h-1.0zM203.6,291.6h1.0v5.6h-1.0zM43.1,297.2h1.0v5.6h-1.0zM48.1,297.2h1.0v5.6h-1.0zM50.1,297.2h1.0v5.6h-1.0zM56.1,297.2h1.0v5.6h-1.0zM59.1,297.2h1.0v5.6h-1.0zM64.2,297.2h1.0v5.6h-1.0zM71.2,297.2h1.0v5.6h-1.0zM74.2,297.2h1.0v5.6h-1.0zM81.2,297.2h2.0v5.6h-2.0zM85.2,297.2h2.0v5.6h-2.0zM94.3,297.2h1.0v5.6h-1.0zM96.3,297.2h1.0v5.6h-1.0zM103.3,297.2h1.0v5.6h-1.0zM106.3,297.2h1.0v5.6h-1.0zM110.3,297.2h1.0v5.6h-1.0zM114.3,297.2h1.0v5.6h-1.0zM119.3,297.2h2.0v5.6h-2.0zM141.4,297.2h1.0v5.6h-1.0zM151.4,297.2h1.0v5.6h-1.0zM162.5,297.2h1.0v5.6h-1.0zM170.5,297.2h1.0v5.6h-1.0zM180.5,297.2h1.0v5.6h-1.0zM182.5,297.2h1.0v5.6h-1.0zM185.5,297.2h1.0v5.6h-1.0zM192.5,297.2h1.0v5.6h-1.0zM197.6,297.2h1.0v5.6h-1.0zM45.1,302.8h1.0v5.6h-1.0zM55.1,302.8h1.0v5.6h-1.0zM72.2,302.8h1.0v5.6h-1.0zM92.2,302.8h1.0v5.6h-1.0zM45.1,308.4h1.0v5.6h-1.0zM47.1,308.4h1.0v5.6h-1.0zM73.2,308.4h1.0v5.6h-1.0zM75.2,308.4h1.0v5.6h-1.0zM148.4,308.4h1.0v5.6h-1.0zM151.4,308.4h1.0v5.6h-1.0zM207.6,308.4h1.0v5.6h-1.0zM45.1,314.0h1.0v5.6h-1.0zM70.2,314.0h1.0v5.6h-1.0zM76.2,314.0h1.0v5.6h-1.0zM137.4,314.0h1.0v5.6h-1.0zM141.4,314.0h1.0v5.6h-1.0zM146.4,314.0h2.0v5.6h-2.0zM149.4,314.0h1.0v5.6h-1.0zM157.4,314.0h1.0v5.6h-1.0zM168.5,314.0h1.0v5.6h-1.0zM173.5,314.0h1.0v5.6h-1.0zM175.5,314.0h1.0v5.6h-1.0zM200.6,314.0h2.0v5.6h-2.0zM203.6,314.0h1.0v5.6h-1.0zM49.1,319.6h2.0v5.6h-2.0zM57.1,319.6h1.0v5.6h-1.0zM59.1,319.6h1.0v5.6h-1.0zM61.2,319.6h1.0v5.6h-1.0zM64.2,319.6h1.0v5.6h-1.0zM66.2,319.6h1.0v5.6h-1.0zM69.2,319.6h1.0v5.6h-1.0zM73.2,319.6h1.0v5.6h-1.0zM82.2,319.6h1.0v5.6h-1.0zM94.3,319.6h1.0v5.6h-1.0zM96.3,319.6h1.0v5.6h-1.0zM102.3,319.6h1.0v5.6h-1.0zM117.3,319.6h2.0v5.6h-2.0zM121.3,319.6h1.0v5.6h-1.0zM123.3,319.6h1.0v5.6h-1.0zM51.1,325.2h1.0v5.6h-1.0zM56.1,325.2h2.0v5.6h-2.0zM62.2,325.2h1.0v5.6h-1.0zM67.2,325.2h1.0v5.6h-1.0zM77.2,325.2h1.0v5.6h-1.0zM83.2,325.2h1.0v5.6h-1.0zM89.2,325.2h1.0v5.6h-1.0zM97.3,325.2h1.0v5.6h-1.0zM151.4,325.2h2.0v5.6h-2.0zM178.5,325.2h3.0v5.6h-3.0zM187.5,325.2h2.0v5.6h-2.0zM191.5,325.2h1.0v5.6h-1.0zM202.6,325.2h1.0v5.6h-1.0zM205.6,325.2h1.0v5.6h-1.0zM73.2,330.8h1.0v5.6h-1.0zM76.2,330.8h1.0v5.6h-1.0zM83.2,330.8h1.0v5.6h-1.0zM111.3,330.8h1.0v5.6h-1.0zM126.3,330.8h1.0v5.6h-1.0zM148.4,330.8h1.0v5.6h-1.0zM55.1,336.4h1.0v5.6h-1.0zM73.2,336.4h1.0v5.6h-1.0zM76.2,336.4h1.0v5.6h-1.0zM104.3,336.4h1.0v5.6h-1.0zM109.3,336.4h1.0v5.6h-1.0zM114.3,336.4h1.0v5.6h-1.0zM123.3,336.4h1.0v5.6h-1.0zM126.3,336.4h1.0v5.6h-1.0zM146.4,336.4h1.0v5.6h-1.0zM151.4,336.4h1.0v5.6h-1.0zM154.4,336.4h1.0v5.6h-1.0zM156.4,336.4h1.0v5.6h-1.0zM159.4,336.4h1.0v5.6h-1.0zM43.1,342.0h2.0v5.6h-2.0zM52.1,342.0h1.0v5.6h-1.0zM56.1,342.0h1.0v5.6h-1.0zM68.2,342.0h1.0v5.6h-1.0zM158.4,342.0h1.0v5.6h-1.0zM209.6,342.0h1.0v5.6h-1.0zM48.1,347.6h1.0v5.6h-1.0zM50.1,347.6h2.0v5.6h-2.0zM58.1,347.6h1.0v5.6h-1.0zM61.2,347.6h2.0v5.6h-2.0zM64.2,347.6h1.0v5.6h-1.0zM68.2,347.6h1.0v5.6h-1.0zM107.3,347.6h1.0v5.6h-1.0zM132.4,347.6h1.0v5.6h-1.0zM55.1,353.2h1.0v5.6h-1.0zM83.2,353.2h1.0v5.6h-1.0zM89.2,353.2h2.0v5.6h-2.0zM93.2,353.2h2.0v5.6h-2.0zM98.3,353.2h1.0v5.6h-1.0zM119.3,353.2h1.0v5.6h-1.0zM123.3,353.2h1.0v5.6h-1.0zM139.4,353.2h1.0v5.6h-1.0zM150.4,353.2h1.0v5.6h-1.0zM158.4,353.2h1.0v5.6h-1.0zM165.5,353.2h1.0v5.6h-1.0zM173.5,353.2h1.0v5.6h-1.0zM193.5,353.2h1.0v5.6h-1.0zM209.6,353.2h1.0v5.6h-1.0zM44.1,358.8h1.0v5.6h-1.0zM51.1,358.8h1.0v5.6h-1.0zM57.1,358.8h1.0v5.6h-1.0zM64.2,358.8h3.0v5.6h-3.0zM71.2,358.8h1.0v5.6h-1.0zM75.2,358.8h1.0v5.6h-1.0zM77.2,358.8h1.0v5.6h-1.0zM102.3,358.8h1.0v5.6h-1.0zM118.3,358.8h1.0v5.6h-1.0zM125.3,358.8h1.0v5.6h-1.0zM181.5,358.8h1.0v5.6h-1.0zM201.6,358.8h2.0v5.6h-2.0zM43.1,364.4h1.0v5.6h-1.0zM46.1,364.4h1.0v5.6h-1.0zM52.1,364.4h1.0v5.6h-1.0zM100.3,364.4h2.0v5.6h-2.0zM106.3,364.4h1.0v5.6h-1.0zM114.3,364.4h2.0v5.6h-2.0zM180.5,364.4h1.0v5.6h-1.0zM183.5,364.4h1.0v5.6h-1.0zM191.5,364.4h1.0v5.6h-1.0zM196.6,364.4h1.0v5.6h-1.0zM199.6,364.4h1.0v5.6h-1.0zM203.6,364.4h1.0v5.6h-1.0zM53.1,370.0h1.0v5.6h-1.0zM67.2,370.0h1.0v5.6h-1.0zM79.2,370.0h1.0v5.6h-1.0zM86.2,370.0h1.0v5.6h-1.0zM107.3,370.0h1.0v5.6h-1.0zM194.5,370.0h1.0v5.6h-1.0zM114.3,375.6h1.0v5.6h-1.0zM131.4,375.6h1.0v5.6h-1.0zM137.4,375.6h1.0v5.6h-1.0zM141.4,375.6h1.0v5.6h-1.0zM143.4,375.6h1.0v5.6h-1.0zM151.4,375.6h1.0v5.6h-1.0zM156.4,375.6h1.0v5.6h-1.0zM166.5,375.6h1.0v5.6h-1.0zM168.5,375.6h1.0v5.6h-1.0zM175.5,375.6h1.0v5.6h-1.0zM185.5,375.6h1.0v5.6h-1.0zM192.5,375.6h1.0v5.6h-1.0zM90.2,381.2h1.0v5.6h-1.0zM92.2,381.2h1.0v5.6h-1.0zM104.3,381.2h1.0v5.6h-1.0zM128.4,381.2h1.0v5.6h-1.0zM135.4,381.2h1.0v5.6h-1.0zM142.4,381.2h2.0v5.6h-2.0zM146.4,381.2h1.0v5.6h-1.0zM153.4,381.2h1.0v5.6h-1.0zM162.5,381.2h1.0v5.6h-1.0zM165.5,381.2h2.0v5.6h-2.0zM170.5,381.2h1.0v5.6h-1.0zM174.5,381.2h3.0v5.6h-3.0zM178.5,381.2h1.0v5.6h-1.0zM181.5,381.2h1.0v5.6h-1.0zM192.5,381.2h1.0v5.6h-1.0zM197.6,381.2h1.0v5.6h-1.0zM110.3,386.8h1.0v5.6h-1.0zM114.3,386.8h1.0v5.6h-1.0zM116.3,386.8h1.0v5.6h-1.0zM119.3,386.8h1.0v5.6h-1.0zM122.3,386.8h1.0v5.6h-1.0zM133.4,386.8h1.0v5.6h-1.0zM135.4,386.8h1.0v5.6h-1.0zM140.4,386.8h1.0v5.6h-1.0zM147.4,386.8h1.0v5.6h-1.0zM149.4,386.8h2.0v5.6h-2.0zM152.4,386.8h2.0v5.6h-2.0zM157.4,386.8h2.0v5.6h-2.0zM169.5,386.8h1.0v5.6h-1.0zM174.5,386.8h1.0v5.6h-1.0zM181.5,386.8h1.0v5.6h-1.0zM185.5,386.8h1.0v5.6h-1.0zM207.6,386.8h1.0v5.6h-1.0zM209.6,386.8h2.0v5.6h-2.0zM92.2,392.4h1.0v5.6h-1.0zM102.3,392.4h1.0v5.6h-1.0zM117.3,392.4h1.0v5.6h-1.0zM125.3,392.4h1.0v5.6h-1.0zM195.6,392.4h1.0v5.6h-1.0zM75.2,398.0h2.0v5.6h-2.0zM83.2,398.0h1.0v5.6h-1.0zM134.4,398.0h1.0v5.6h-1.0zM140.4,398.0h1.0v5.6h-1.0zM144.4,398.0h1.0v5.6h-1.0zM165.5,398.0h1.0v5.6h-1.0zM193.5,398.0h1.0v5.6h-1.0zM207.6,398.0h2.0v5.6h-2.0zM44.1,403.6h1.0v5.6h-1.0zM47.1,403.6h1.0v5.6h-1.0zM60.2,403.6h1.0v5.6h-1.0zM90.2,403.6h1.0v5.6h-1.0zM190.5,403.6h1.0v5.6h-1.0zM208.6,403.6h1.0v5.6h-1.0z" fill="#c9c6e7"/>
<path d="M51.1,291.6h1.0v5.6h-1.0zM53.1,291.6h2.0v5.6h-2.0zM57.1,291.6h2.0v5.6h-2.0zM75.2,291.6h1.0v5.6h-1.0zM82.2,291.6h1.0v5.6h-1.0zM85.2,291.6h1.0v5.6h-1.0zM94.3,291.6h2.0v5.6h-2.0zM99.3,291.6h2.0v5.6h-2.0zM102.3,291.6h1.0v5.6h-1.0zM126.3,291.6h2.0v5.6h-2.0zM132.4,291.6h1.0v5.6h-1.0zM142.4,291.6h1.0v5.6h-1.0zM147.4,291.6h1.0v5.6h-1.0zM166.5,291.6h1.0v5.6h-1.0zM172.5,291.6h1.0v5.6h-1.0zM176.5,291.6h1.0v5.6h-1.0zM178.5,291.6h1.0v5.6h-1.0zM182.5,291.6h1.0v5.6h-1.0zM199.6,291.6h1.0v5.6h-1.0zM201.6,291.6h1.0v5.6h-1.0zM204.6,291.6h1.0v5.6h-1.0zM53.1,297.2h1.0v5.6h-1.0zM58.1,297.2h1.0v5.6h-1.0zM68.2,297.2h2.0v5.6h-2.0zM87.2,297.2h1.0v5.6h-1.0zM92.2,297.2h1.0v5.6h-1.0zM108.3,297.2h1.0v5.6h-1.0zM111.3,297.2h1.0v5.6h-1.0zM124.3,297.2h1.0v5.6h-1.0zM128.4,297.2h1.0v5.6h-1.0zM163.5,297.2h1.0v5.6h-1.0zM204.6,297.2h1.0v5.6h-1.0zM97.3,302.8h1.0v5.6h-1.0zM135.4,302.8h1.0v5.6h-1.0zM148.4,302.8h1.0v5.6h-1.0zM55.1,308.4h1.0v5.6h-1.0zM76.2,308.4h1.0v5.6h-1.0zM90.2,308.4h1.0v5.6h-1.0zM144.4,308.4h1.0v5.6h-1.0zM72.2,314.0h2.0v5.6h-2.0zM83.2,314.0h1.0v5.6h-1.0zM89.2,314.0h1.0v5.6h-1.0zM135.4,314.0h1.0v5.6h-1.0zM142.4,314.0h1.0v5.6h-1.0zM150.4,314.0h1.0v5.6h-1.0zM159.4,314.0h1.0v5.6h-1.0zM162.5,314.0h1.0v5.6h-1.0zM165.5,314.0h1.0v5.6h-1.0zM170.5,314.0h1.0v5.6h-1.0zM172.5,314.0h1.0v5.6h-1.0zM182.5,314.0h1.0v5.6h-1.0zM187.5,314.0h3.0v5.6h-3.0zM196.6,314.0h1.0v5.6h-1.0zM198.6,314.0h2.0v5.6h-2.0zM46.1,319.6h1.0v5.6h-1.0zM52.1,319.6h1.0v5.6h-1.0zM56.1,319.6h1.0v5.6h-1.0zM63.2,319.6h1.0v5.6h-1.0zM68.2,319.6h1.0v5.6h-1.0zM70.2,319.6h1.0v5.6h-1.0zM72.2,319.6h1.0v5.6h-1.0zM75.2,319.6h1.0v5.6h-1.0zM77.2,319.6h3.0v5.6h-3.0zM86.2,319.6h1.0v5.6h-1.0zM88.2,319.6h1.0v5.6h-1.0zM93.2,319.6h1.0v5.6h-1.0zM104.3,319.6h1.0v5.6h-1.0zM106.3,319.6h1.0v5.6h-1.0zM108.3,319.6h1.0v5.6h-1.0zM111.3,319.6h2.0v5.6h-2.0zM116.3,319.6h1.0v5.6h-1.0zM124.3,319.6h1.0v5.6h-1.0zM130.4,319.6h1.0v5.6h-1.0zM132.4,319.6h1.0v5.6h-1.0zM139.4,319.6h2.0v5.6h-2.0zM146.4,319.6h1.0v5.6h-1.0zM155.4,319.6h1.0v5.6h-1.0zM157.4,319.6h1.0v5.6h-1.0zM162.5,319.6h1.0v5.6h-1.0zM165.5,319.6h2.0v5.6h-2.0zM52.1,325.2h1.0v5.6h-1.0zM55.1,325.2h1.0v5.6h-1.0zM60.2,325.2h1.0v5.6h-1.0zM86.2,325.2h1.0v5.6h-1.0zM181.5,325.2h1.0v5.6h-1.0zM190.5,325.2h1.0v5.6h-1.0zM192.5,325.2h1.0v5.6h-1.0zM197.6,325.2h1.0v5.6h-1.0zM47.1,330.8h1.0v5.6h-1.0zM55.1,330.8h1.0v5.6h-1.0zM75.2,330.8h1.0v5.6h-1.0zM131.4,330.8h1.0v5.6h-1.0zM144.4,330.8h1.0v5.6h-1.0zM152.4,330.8h1.0v5.6h-1.0zM171.5,330.8h1.0v5.6h-1.0zM83.2,336.4h1.0v5.6h-1.0zM90.2,336.4h1.0v5.6h-1.0zM105.3,336.4h1.0v5.6h-1.0zM116.3,336.4h1.0v5.6h-1.0zM153.4,336.4h1.0v5.6h-1.0zM162.5,336.4h1.0v5.6h-1.0zM191.5,336.4h1.0v5.6h-1.0zM48.1,342.0h1.0v5.6h-1.0zM53.1,342.0h1.0v5.6h-1.0zM61.2,342.0h1.0v5.6h-1.0zM64.2,342.0h1.0v5.6h-1.0zM73.2,342.0h1.0v5.6h-1.0zM82.2,342.0h1.0v5.6h-1.0zM84.2,342.0h1.0v5.6h-1.0zM86.2,342.0h2.0v5.6h-2.0zM92.2,342.0h1.0v5.6h-1.0zM100.3,342.0h1.0v5.6h-1.0zM115.3,342.0h1.0v5.6h-1.0zM119.3,342.0h1.0v5.6h-1.0zM125.3,342.0h1.0v5.6h-1.0zM129.4,342.0h1.0v5.6h-1.0zM132.4,342.0h1.0v5.6h-1.0zM45.1,347.6h1.0v5.6h-1.0zM53.1,347.6h1.0v5.6h-1.0zM60.2,347.6h1.0v5.6h-1.0zM66.2,347.6h1.0v5.6h-1.0zM72.2,347.6h1.0v5.6h-1.0zM85.2,347.6h1.0v5.6h-1.0zM101.3,347.6h1.0v5.6h-1.0zM114.3,347.6h2.0v5.6h-2.0zM125.3,347.6h1.0v5.6h-1.0zM136.4,347.6h1.0v5.6h-1.0zM138.4,347.6h1.0v5.6h-1.0zM200.6,347.6h1.0v5.6h-1.0zM205.6,347.6h1.0v5.6h-1.0zM209.6,347.6h1.0v5.6h-1.0zM47.1,353.2h1.0v5.6h-1.0zM72.2,353.2h2.0v5.6h-2.0zM111.3,353.2h1.0v5.6h-1.0zM135.4,353.2h1.0v5.6h-1.0zM143.4,353.2h1.0v5.6h-1.0zM164.5,353.2h1.0v5.6h-1.0zM171.5,353.2h1.0v5.6h-1.0zM210.6,353.2h1.0v5.6h-1.0zM56.1,358.8h1.0v5.6h-1.0zM67.2,358.8h1.0v5.6h-1.0zM70.2,358.8h1.0v5.6h-1.0zM80.2,358.8h1.0v5.6h-1.0zM82.2,358.8h1.0v5.6h-1.0zM85.2,358.8h2.0v5.6h-2.0zM95.3,358.8h1.0v5.6h-1.0zM135.4,358.8h1.0v5.6h-1.0zM138.4,358.8h1.0v5.6h-1.0zM147.4,358.8h1.0v5.6h-1.0zM149.4,358.8h1.0v5.6h-1.0zM155.4,358.8h1.0v5.6h-1.0zM157.4,358.8h1.0v5.6h-1.0zM173.5,358.8h2.0v5.6h-2.0zM196.6,358.8h2.0v5.6h-2.0zM204.6,358.8h1.0v5.6h-1.0zM207.6,358.8h1.0v5.6h-1.0zM80.2,364.4h1.0v5.6h-1.0zM82.2,364.4h1.0v5.6h-1.0zM94.3,364.4h2.0v5.6h-2.0zM102.3,364.4h1.0v5.6h-1.0zM127.3,364.4h1.0v5.6h-1.0zM149.4,364.4h1.0v5.6h-1.0zM154.4,364.4h1.0v5.6h-1.0zM169.5,364.4h1.0v5.6h-1.0zM178.5,364.4h1.0v5.6h-1.0zM186.5,364.4h1.0v5.6h-1.0zM193.5,364.4h1.0v5.6h-1.0zM197.6,364.4h1.0v5.6h-1.0zM204.6,364.4h2.0v5.6h-2.0zM210.6,364.4h1.0v5.6h-1.0zM45.1,370.0h1.0v5.6h-1.0zM62.2,370.0h1.0v5.6h-1.0zM73.2,370.0h1.0v5.6h-1.0zM75.2,370.0h1.0v5.6h-1.0zM78.2,370.0h1.0v5.6h-1.0zM102.3,370.0h1.0v5.6h-1.0zM160.4,370.0h1.0v5.6h-1.0zM200.6,370.0h1.0v5.6h-1.0zM122.3,375.6h1.0v5.6h-1.0zM148.4,375.6h1.0v5.6h-1.0zM162.5,375.6h1.0v5.6h-1.0zM170.5,375.6h1.0v5.6h-1.0zM87.2,381.2h1.0v5.6h-1.0zM111.3,381.2h1.0v5.6h-1.0zM115.3,381.2h1.0v5.6h-1.0zM133.4,381.2h1.0v5.6h-1.0zM149.4,381.2h2.0v5.6h-2.0zM154.4,381.2h2.0v5.6h-2.0zM157.4,381.2h1.0v5.6h-1.0zM204.6,381.2h1.0v5.6h-1.0zM210.6,381.2h1.0v5.6h-1.0zM93.2,386.8h1.0v5.6h-1.0zM101.3,386.8h1.0v5.6h-1.0zM123.3,386.8h1.0v5.6h-1.0zM145.4,386.8h1.0v5.6h-1.0zM151.4,386.8h1.0v5.6h-1.0zM154.4,386.8h1.0v5.6h-1.0zM159.4,386.8h1.0v5.6h-1.0zM177.5,386.8h1.0v5.6h-1.0zM193.5,386.8h1.0v5.6h-1.0zM204.6,386.8h1.0v5.6h-1.0zM208.6,386.8h1.0v5.6h-1.0zM94.3,392.4h1.0v5.6h-1.0zM110.3,392.4h1.0v5.6h-1.0zM118.3,392.4h1.0v5.6h-1.0zM132.4,392.4h1.0v5.6h-1.0zM139.4,392.4h2.0v5.6h-2.0zM146.4,392.4h1.0v5.6h-1.0zM164.5,392.4h1.0v5.6h-1.0zM173.5,392.4h1.0v5.6h-1.0zM191.5,392.4h1.0v5.6h-1.0zM194.5,392.4h1.0v5.6h-1.0zM203.6,392.4h1.0v5.6h-1.0zM89.2,398.0h1.0v5.6h-1.0zM92.2,398.0h1.0v5.6h-1.0zM97.3,398.0h1.0v5.6h-1.0zM43.1,403.6h1.0v5.6h-1.0zM55.1,403.6h1.0v5.6h-1.0z" fill="#c1bee3"/>
<path d="M44.1,291.6h1.0v5.6h-1.0zM55.1,291.6h1.0v5.6h-1.0zM62.2,291.6h1.0v5.6h-1.0zM67.2,291.6h2.0v5.6h-2.0zM72.2,291.6h1.0v5.6h-1.0zM86.2,291.6h1.0v5.6h-1.0zM110.3,291.6h2.0v5.6h-2.0zM113.3,291.6h2.0v5.6h-2.0zM119.3,291.6h1.0v5.6h-1.0zM124.3,291.6h1.0v5.6h-1.0zM133.4,291.6h1.0v5.6h-1.0zM137.4,291.6h1.0v5.6h-1.0zM146.4,291.6h1.0v5.6h-1.0zM154.4,291.6h1.0v5.6h-1.0zM156.4,291.6h1.0v5.6h-1.0zM159.4,291.6h1.0v5.6h-1.0zM162.5,291.6h1.0v5.6h-1.0zM168.5,291.6h1.0v5.6h-1.0zM171.5,291.6h1.0v5.6h-1.0zM189.5,291.6h1.0v5.6h-1.0zM192.5,291.6h2.0v5.6h-2.0zM196.6,291.6h1.0v5.6h-1.0zM202.6,291.6h1.0v5.6h-1.0zM207.6,291.6h1.0v5.6h-1.0zM52.1,297.2h1.0v5.6h-1.0zM60.2,297.2h1.0v5.6h-1.0zM63.2,297.2h1.0v5.6h-1.0zM67.2,297.2h1.0v5.6h-1.0zM77.2,297.2h2.0v5.6h-2.0zM89.2,297.2h1.0v5.6h-1.0zM93.2,297.2h1.0v5.6h-1.0zM116.3,297.2h1.0v5.6h-1.0zM126.3,297.2h1.0v5.6h-1.0zM130.4,297.2h2.0v5.6h-2.0zM177.5,297.2h1.0v5.6h-1.0zM193.5,297.2h1.0v5.6h-1.0zM207.6,297.2h1.0v5.6h-1.0zM128.4,302.8h1.0v5.6h-1.0zM161.5,302.8h1.0v5.6h-1.0zM177.5,302.8h1.0v5.6h-1.0zM207.6,302.8h1.0v5.6h-1.0zM92.2,308.4h1.0v5.6h-1.0zM134.4,308.4h1.0v5.6h-1.0zM177.5,308.4h1.0v5.6h-1.0zM193.5,308.4h1.0v5.6h-1.0zM75.2,314.0h1.0v5.6h-1.0zM152.4,314.0h2.0v5.6h-2.0zM158.4,314.0h1.0v5.6h-1.0zM166.5,314.0h1.0v5.6h-1.0zM171.5,314.0h1.0v5.6h-1.0zM179.5,314.0h1.0v5.6h-1.0zM191.5,314.0h2.0v5.6h-2.0zM202.6,314.0h1.0v5.6h-1.0zM44.1,319.6h1.0v5.6h-1.0zM58.1,319.6h1.0v5.6h-1.0zM62.2,319.6h1.0v5.6h-1.0zM90.2,319.6h1.0v5.6h-1.0zM110.3,319.6h1.0v5.6h-1.0zM114.3,319.6h1.0v5.6h-1.0zM126.3,319.6h1.0v5.6h-1.0zM167.5,319.6h1.0v5.6h-1.0zM173.5,319.6h1.0v5.6h-1.0zM175.5,319.6h1.0v5.6h-1.0zM73.2,325.2h1.0v5.6h-1.0zM79.2,325.2h1.0v5.6h-1.0zM90.2,325.2h1.0v5.6h-1.0zM193.5,325.2h1.0v5.6h-1.0zM204.6,325.2h1.0v5.6h-1.0zM89.2,330.8h1.0v5.6h-1.0zM97.3,330.8h1.0v5.6h-1.0zM134.4,330.8h1.0v5.6h-1.0zM45.1,336.4h1.0v5.6h-1.0zM47.1,336.4h1.0v5.6h-1.0zM72.2,336.4h1.0v5.6h-1.0zM89.2,336.4h1.0v5.6h-1.0zM97.3,336.4h1.0v5.6h-1.0zM111.3,336.4h1.0v5.6h-1.0zM131.4,336.4h1.0v5.6h-1.0zM134.4,336.4h1.0v5.6h-1.0zM144.4,336.4h1.0v5.6h-1.0zM148.4,336.4h1.0v5.6h-1.0zM163.5,336.4h1.0v5.6h-1.0zM195.6,336.4h1.0v5.6h-1.0zM57.1,342.0h1.0v5.6h-1.0zM65.2,342.0h2.0v5.6h-2.0zM71.2,342.0h1.0v5.6h-1.0zM77.2,342.0h1.0v5.6h-1.0zM91.2,342.0h1.0v5.6h-1.0zM94.3,342.0h2.0v5.6h-2.0zM101.3,342.0h2.0v5.6h-2.0zM106.3,342.0h1.0v5.6h-1.0zM114.3,342.0h1.0v5.6h-1.0zM117.3,342.0h2.0v5.6h-2.0zM127.3,342.0h1.0v5.6h-1.0zM137.4,342.0h1.0v5.6h-1.0zM139.4,342.0h2.0v5.6h-2.0zM145.4,342.0h1.0v5.6h-1.0zM154.4,342.0h1.0v5.6h-1.0zM168.5,342.0h1.0v5.6h-1.0zM208.6,342.0h1.0v5.6h-1.0zM55.1,347.6h1.0v5.6h-1.0zM75.2,347.6h1.0v5.6h-1.0zM82.2,347.6h1.0v5.6h-1.0zM89.2,347.6h1.0v5.6h-1.0zM102.3,347.6h2.0v5.6h-2.0zM155.4,347.6h1.0v5.6h-1.0zM158.4,347.6h1.0v5.6h-1.0zM161.5,347.6h1.0v5.6h-1.0zM164.5,347.6h1.0v5.6h-1.0zM184.5,347.6h1.0v5.6h-1.0zM188.5,347.6h1.0v5.6h-1.0zM202.6,347.6h2.0v5.6h-2.0zM210.6,347.6h1.0v5.6h-1.0zM45.1,353.2h1.0v5.6h-1.0zM49.1,353.2h1.0v5.6h-1.0zM59.1,353.2h1.0v5.6h-1.0zM84.2,353.2h1.0v5.6h-1.0zM97.3,353.2h1.0v5.6h-1.0zM131.4,353.2h1.0v5.6h-1.0zM141.4,353.2h1.0v5.6h-1.0zM154.4,353.2h1.0v5.6h-1.0zM156.4,353.2h2.0v5.6h-2.0zM161.5,353.2h2.0v5.6h-2.0zM174.5,353.2h1.0v5.6h-1.0zM176.5,353.2h1.0v5.6h-1.0zM48.1,358.8h1.0v5.6h-1.0zM50.1,358.8h1.0v5.6h-1.0zM61.2,358.8h3.0v5.6h-3.0zM68.2,358.8h2.0v5.6h-2.0zM88.2,358.8h1.0v5.6h-1.0zM91.2,358.8h1.0v5.6h-1.0zM96.3,358.8h1.0v5.6h-1.0zM101.3,358.8h1.0v5.6h-1.0zM107.3,358.8h1.0v5.6h-1.0zM110.3,358.8h1.0v5.6h-1.0zM139.4,358.8h2.0v5.6h-2.0zM145.4,358.8h1.0v5.6h-1.0zM153.4,358.8h1.0v5.6h-1.0zM164.5,358.8h1.0v5.6h-1.0zM166.5,358.8h1.0v5.6h-1.0zM169.5,358.8h1.0v5.6h-1.0zM172.5,358.8h1.0v5.6h-1.0zM177.5,358.8h1.0v5.6h-1.0zM208.6,358.8h1.0v5.6h-1.0zM44.1,364.4h1.0v5.6h-1.0zM48.1,364.4h2.0v5.6h-2.0zM58.1,364.4h2.0v5.6h-2.0zM65.2,364.4h1.0v5.6h-1.0zM69.2,364.4h2.0v5.6h-2.0zM81.2,364.4h1.0v5.6h-1.0zM84.2,364.4h2.0v5.6h-2.0zM87.2,364.4h1.0v5.6h-1.0zM92.2,364.4h1.0v5.6h-1.0zM96.3,364.4h1.0v5.6h-1.0zM105.3,364.4h1.0v5.6h-1.0zM107.3,364.4h1.0v5.6h-1.0zM110.3,364.4h1.0v5.6h-1.0zM113.3,364.4h1.0v5.6h-1.0zM117.3,364.4h3.0v5.6h-3.0zM121.3,364.4h1.0v5.6h-1.0zM124.3,364.4h1.0v5.6h-1.0zM128.4,364.4h1.0v5.6h-1.0zM131.4,364.4h2.0v5.6h-2.0zM138.4,364.4h2.0v5.6h-2.0zM155.4,364.4h1.0v5.6h-1.0zM157.4,364.4h1.0v5.6h-1.0zM161.5,364.4h1.0v5.6h-1.0zM174.5,364.4h1.0v5.6h-1.0zM179.5,364.4h1.0v5.6h-1.0zM187.5,364.4h1.0v5.6h-1.0zM192.5,364.4h1.0v5.6h-1.0zM202.6,364.4h1.0v5.6h-1.0zM209.6,364.4h1.0v5.6h-1.0zM55.1,370.0h1.0v5.6h-1.0zM72.2,370.0h1.0v5.6h-1.0zM92.2,370.0h1.0v5.6h-1.0zM126.3,370.0h1.0v5.6h-1.0zM139.4,370.0h1.0v5.6h-1.0zM195.6,370.0h1.0v5.6h-1.0zM199.6,370.0h1.0v5.6h-1.0zM209.6,370.0h1.0v5.6h-1.0zM97.3,375.6h1.0v5.6h-1.0zM144.4,375.6h1.0v5.6h-1.0zM152.4,375.6h1.0v5.6h-1.0zM113.3,381.2h1.0v5.6h-1.0zM130.4,381.2h2.0v5.6h-2.0zM134.4,381.2h1.0v5.6h-1.0zM152.4,381.2h1.0v5.6h-1.0zM158.4,381.2h1.0v5.6h-1.0zM84.2,386.8h1.0v5.6h-1.0zM92.2,386.8h1.0v5.6h-1.0zM105.3,386.8h1.0v5.6h-1.0zM128.4,386.8h1.0v5.6h-1.0zM130.4,386.8h2.0v5.6h-2.0zM141.4,386.8h1.0v5.6h-1.0zM161.5,386.8h1.0v5.6h-1.0zM170.5,386.8h3.0v5.6h-3.0zM74.2,392.4h1.0v5.6h-1.0zM91.2,392.4h1.0v5.6h-1.0zM96.3,392.4h1.0v5.6h-1.0zM100.3,392.4h1.0v5.6h-1.0zM107.3,392.4h1.0v5.6h-1.0zM112.3,392.4h1.0v5.6h-1.0zM136.4,392.4h1.0v5.6h-1.0zM149.4,392.4h1.0v5.6h-1.0zM160.4,392.4h1.0v5.6h-1.0zM179.5,392.4h1.0v5.6h-1.0zM183.5,392.4h1.0v5.6h-1.0zM185.5,392.4h1.0v5.6h-1.0zM188.5,392.4h1.0v5.6h-1.0zM190.5,392.4h1.0v5.6h-1.0zM199.6,392.4h1.0v5.6h-1.0zM201.6,392.4h2.0v5.6h-2.0zM55.1,398.0h1.0v5.6h-1.0zM128.4,398.0h1.0v5.6h-1.0zM163.5,398.0h1.0v5.6h-1.0zM50.1,403.6h1.0v5.6h-1.0zM72.2,403.6h1.0v5.6h-1.0zM97.3,403.6h1.0v5.6h-1.0zM148.4,403.6h1.0v5.6h-1.0zM151.4,403.6h1.0v5.6h-1.0zM209.6,403.6h1.0v5.6h-1.0z" fill="#bab6e0"/>
<path d="M43.1,291.6h1.0v5.6h-1.0zM60.2,291.6h1.0v5.6h-1.0zM63.2,291.6h1.0v5.6h-1.0zM88.2,291.6h2.0v5.6h-2.0zM93.2,291.6h1.0v5.6h-1.0zM98.3,291.6h1.0v5.6h-1.0zM103.3,291.6h1.0v5.6h-1.0zM106.3,291.6h1.0v5.6h-1.0zM112.3,291.6h1.0v5.6h-1.0zM128.4,291.6h1.0v5.6h-1.0zM130.4,291.6h1.0v5.6h-1.0zM141.4,291.6h1.0v5.6h-1.0zM151.4,291.6h2.0v5.6h-2.0zM163.5,291.6h1.0v5.6h-1.0zM177.5,291.6h1.0v5.6h-1.0zM181.5,291.6h1.0v5.6h-1.0zM197.6,291.6h1.0v5.6h-1.0zM44.1,297.2h1.0v5.6h-1.0zM47.1,297.2h1.0v5.6h-1.0zM51.1,297.2h1.0v5.6h-1.0zM55.1,297.2h1.0v5.6h-1.0zM61.2,297.2h2.0v5.6h-2.0zM83.2,297.2h1.0v5.6h-1.0zM99.3,297.2h1.0v5.6h-1.0zM104.3,297.2h2.0v5.6h-2.0zM123.3,297.2h1.0v5.6h-1.0zM134.4,297.2h1.0v5.6h-1.0zM148.4,297.2h1.0v5.6h-1.0zM183.5,297.2h1.0v5.6h-1.0zM210.6,297.2h1.0v5.6h-1.0zM89.2,302.8h1.0v5.6h-1.0zM134.4,302.8h1.0v5.6h-1.0zM151.4,302.8h1.0v5.6h-1.0zM89.2,308.4h1.0v5.6h-1.0zM97.3,308.4h1.0v5.6h-1.0zM47.1,314.0h1.0v5.6h-1.0zM55.1,314.0h1.0v5.6h-1.0zM140.4,314.0h1.0v5.6h-1.0zM143.4,314.0h1.0v5.6h-1.0zM154.4,314.0h2.0v5.6h-2.0zM164.5,314.0h1.0v5.6h-1.0zM167.5,314.0h1.0v5.6h-1.0zM176.5,314.0h1.0v5.6h-1.0zM186.5,314.0h1.0v5.6h-1.0zM197.6,314.0h1.0v5.6h-1.0zM208.6,314.0h1.0v5.6h-1.0zM210.6,314.0h1.0v5.6h-1.0zM43.1,319.6h1.0v5.6h-1.0zM60.2,319.6h1.0v5.6h-1.0zM67.2,319.6h1.0v5.6h-1.0zM71.2,319.6h1.0v5.6h-1.0zM83.2,319.6h1.0v5.6h-1.0zM98.3,319.6h1.0v5.6h-1.0zM103.3,319.6h1.0v5.6h-1.0zM105.3,319.6h1.0v5.6h-1.0zM113.3,319.6h1.0v5.6h-1.0zM120.3,319.6h1.0v5.6h-1.0zM128.4,319.6h1.0v5.6h-1.0zM131.4,319.6h1.0v5.6h-1.0zM133.4,319.6h1.0v5.6h-1.0zM135.4,319.6h1.0v5.6h-1.0zM143.4,319.6h1.0v5.6h-1.0zM145.4,319.6h1.0v5.6h-1.0zM150.4,319.6h1.0v5.6h-1.0zM153.4,319.6h1.0v5.6h-1.0zM164.5,319.6h1.0v5.6h-1.0zM168.5,319.6h2.0v5.6h-2.0zM172.5,319.6h1.0v5.6h-1.0zM46.1,325.2h2.0v5.6h-2.0zM72.2,325.2h1.0v5.6h-1.0zM76.2,325.2h1.0v5.6h-1.0zM92.2,325.2h1.0v5.6h-1.0zM134.4,325.2h1.0v5.6h-1.0zM177.5,325.2h1.0v5.6h-1.0zM72.2,330.8h1.0v5.6h-1.0zM209.6,330.8h2.0v5.6h-2.0zM128.4,336.4h1.0v5.6h-1.0zM201.6,336.4h1.0v5.6h-1.0zM45.1,342.0h1.0v5.6h-1.0zM51.1,342.0h1.0v5.6h-1.0zM60.2,342.0h1.0v5.6h-1.0zM63.2,342.0h1.0v5.6h-1.0zM69.2,342.0h1.0v5.6h-1.0zM76.2,342.0h1.0v5.6h-1.0zM78.2,342.0h1.0v5.6h-1.0zM85.2,342.0h1.0v5.6h-1.0zM89.2,342.0h1.0v5.6h-1.0zM96.3,342.0h1.0v5.6h-1.0zM99.3,342.0h1.0v5.6h-1.0zM109.3,342.0h1.0v5.6h-1.0zM142.4,342.0h1.0v5.6h-1.0zM147.4,342.0h1.0v5.6h-1.0zM150.4,342.0h1.0v5.6h-1.0zM160.4,342.0h1.0v5.6h-1.0zM187.5,342.0h1.0v5.6h-1.0zM210.6,342.0h1.0v5.6h-1.0zM67.2,347.6h1.0v5.6h-1.0zM73.2,347.6h1.0v5.6h-1.0zM78.2,347.6h1.0v5.6h-1.0zM83.2,347.6h1.0v5.6h-1.0zM91.2,347.6h1.0v5.6h-1.0zM94.3,347.6h1.0v5.6h-1.0zM96.3,347.6h1.0v5.6h-1.0zM112.3,347.6h1.0v5.6h-1.0zM119.3,347.6h1.0v5.6h-1.0zM121.3,347.6h1.0v5.6h-1.0zM124.3,347.6h1.0v5.6h-1.0zM127.3,347.6h1.0v5.6h-1.0zM142.4,347.6h1.0v5.6h-1.0zM146.4,347.6h1.0v5.6h-1.0zM149.4,347.6h1.0v5.6h-1.0zM156.4,347.6h2.0v5.6h-2.0zM162.5,347.6h1.0v5.6h-1.0zM169.5,347.6h1.0v5.6h-1.0zM175.5,347.6h1.0v5.6h-1.0zM182.5,347.6h1.0v5.6h-1.0zM186.5,347.6h1.0v5.6h-1.0zM190.5,347.6h2.0v5.6h-2.0zM195.6,347.6h1.0v5.6h-1.0zM76.2,353.2h1.0v5.6h-1.0zM130.4,353.2h1.0v5.6h-1.0zM136.4,353.2h2.0v5.6h-2.0zM144.4,353.2h1.0v5.6h-1.0zM155.4,353.2h1.0v5.6h-1.0zM159.4,353.2h1.0v5.6h-1.0zM166.5,353.2h1.0v5.6h-1.0zM172.5,353.2h1.0v5.6h-1.0zM175.5,353.2h1.0v5.6h-1.0zM45.1,358.8h1.0v5.6h-1.0zM47.1,358.8h1.0v5.6h-1.0zM78.2,358.8h1.0v5.6h-1.0zM89.2,358.8h1.0v5.6h-1.0zM100.3,358.8h1.0v5.6h-1.0zM109.3,358.8h1.0v5.6h-1.0zM115.3,358.8h1.0v5.6h-1.0zM117.3,358.8h1.0v5.6h-1.0zM119.3,358.8h1.0v5.6h-1.0zM127.3,358.8h1.0v5.6h-1.0zM142.4,358.8h1.0v5.6h-1.0zM150.4,358.8h2.0v5.6h-2.0zM158.4,358.8h1.0v5.6h-1.0zM161.5,358.8h1.0v5.6h-1.0zM165.5,358.8h1.0v5.6h-1.0zM167.5,358.8h1.0v5.6h-1.0zM176.5,358.8h1.0v5.6h-1.0zM210.6,358.8h1.0v5.6h-1.0zM64.2,364.4h1.0v5.6h-1.0zM71.2,364.4h2.0v5.6h-2.0zM75.2,364.4h1.0v5.6h-1.0zM93.2,364.4h1.0v5.6h-1.0zM99.3,364.4h1.0v5.6h-1.0zM103.3,364.4h1.0v5.6h-1.0zM108.3,364.4h2.0v5.6h-2.0zM116.3,364.4h1.0v5.6h-1.0zM120.3,364.4h1.0v5.6h-1.0zM123.3,364.4h1.0v5.6h-1.0zM126.3,364.4h1.0v5.6h-1.0zM129.4,364.4h1.0v5.6h-1.0zM136.4,364.4h1.0v5.6h-1.0zM140.4,364.4h1.0v5.6h-1.0zM142.4,364.4h1.0v5.6h-1.0zM160.4,364.4h1.0v5.6h-1.0zM162.5,364.4h1.0v5.6h-1.0zM170.5,364.4h1.0v5.6h-1.0zM185.5,364.4h1.0v5.6h-1.0zM60.2,370.0h1.0v5.6h-1.0zM83.2,370.0h1.0v5.6h-1.0zM95.3,370.0h2.0v5.6h-2.0zM101.3,370.0h1.0v5.6h-1.0zM103.3,370.0h1.0v5.6h-1.0zM110.3,370.0h1.0v5.6h-1.0zM117.3,370.0h3.0v5.6h-3.0zM121.3,370.0h1.0v5.6h-1.0zM127.3,370.0h1.0v5.6h-1.0zM129.4,370.0h1.0v5.6h-1.0zM132.4,370.0h1.0v5.6h-1.0zM157.4,370.0h2.0v5.6h-2.0zM161.5,370.0h1.0v5.6h-1.0zM175.5,370.0h1.0v5.6h-1.0zM188.5,370.0h1.0v5.6h-1.0zM90.2,375.6h1.0v5.6h-1.0zM134.4,375.6h1.0v5.6h-1.0zM208.6,375.6h1.0v5.6h-1.0zM46.1,381.2h1.0v5.6h-1.0zM49.1,381.2h1.0v5.6h-1.0zM81.2,381.2h1.0v5.6h-1.0zM122.3,381.2h1.0v5.6h-1.0zM144.4,381.2h1.0v5.6h-1.0zM159.4,381.2h1.0v5.6h-1.0zM193.5,381.2h1.0v5.6h-1.0zM207.6,381.2h1.0v5.6h-1.0zM70.2,386.8h1.0v5.6h-1.0zM90.2,386.8h1.0v5.6h-1.0zM148.4,386.8h1.0v5.6h-1.0zM163.5,386.8h1.0v5.6h-1.0zM50.1,392.4h1.0v5.6h-1.0zM81.2,392.4h2.0v5.6h-2.0zM84.2,392.4h1.0v5.6h-1.0zM95.3,392.4h1.0v5.6h-1.0zM99.3,392.4h1.0v5.6h-1.0zM101.3,392.4h1.0v5.6h-1.0zM104.3,392.4h1.0v5.6h-1.0zM108.3,392.4h1.0v5.6h-1.0zM119.3,392.4h1.0v5.6h-1.0zM127.3,392.4h1.0v5.6h-1.0zM129.4,392.4h1.0v5.6h-1.0zM135.4,392.4h1.0v5.6h-1.0zM138.4,392.4h1.0v5.6h-1.0zM145.4,392.4h1.0v5.6h-1.0zM154.4,392.4h1.0v5.6h-1.0zM158.4,392.4h1.0v5.6h-1.0zM161.5,392.4h1.0v5.6h-1.0zM182.5,392.4h1.0v5.6h-1.0zM186.5,392.4h2.0v5.6h-2.0zM192.5,392.4h1.0v5.6h-1.0zM209.6,392.4h1.0v5.6h-1.0zM47.1,398.0h1.0v5.6h-1.0zM72.2,398.0h1.0v5.6h-1.0zM148.4,398.0h1.0v5.6h-1.0zM151.4,398.0h1.0v5.6h-1.0zM73.2,403.6h1.0v5.6h-1.0zM83.2,403.6h1.0v5.6h-1.0zM89.2,403.6h1.0v5.6h-1.0zM144.4,403.6h1.0v5.6h-1.0zM177.5,403.6h1.0v5.6h-1.0zM193.5,403.6h1.0v5.6h-1.0zM207.6,403.6h1.0v5.6h-1.0z" fill="#b2aedc"/>
<path d="M76.2,291.6h1.0v5.6h-1.0zM79.2,291.6h1.0v5.6h-1.0zM83.2,291.6h1.0v5.6h-1.0zM90.2,291.6h1.0v5.6h-1.0zM97.3,291.6h1.0v5.6h-1.0zM104.3,291.6h2.0v5.6h-2.0zM108.3,291.6h1.0v5.6h-1.0zM120.3,291.6h1.0v5.6h-1.0zM131.4,291.6h1.0v5.6h-1.0zM209.6,291.6h1.0v5.6h-1.0zM57.1,297.2h1.0v5.6h-1.0zM72.2,297.2h1.0v5.6h-1.0zM75.2,297.2h1.0v5.6h-1.0zM88.2,297.2h1.0v5.6h-1.0zM208.6,297.2h2.0v5.6h-2.0zM76.2,302.8h1.0v5.6h-1.0zM83.2,302.8h1.0v5.6h-1.0zM90.2,302.8h1.0v5.6h-1.0zM83.2,308.4h1.0v5.6h-1.0zM151.4,314.0h1.0v5.6h-1.0zM156.4,314.0h1.0v5.6h-1.0zM178.5,314.0h1.0v5.6h-1.0zM185.5,314.0h1.0v5.6h-1.0zM193.5,314.0h1.0v5.6h-1.0zM141.4,319.6h2.0v5.6h-2.0zM147.4,319.6h1.0v5.6h-1.0zM149.4,319.6h1.0v5.6h-1.0zM156.4,319.6h1.0v5.6h-1.0zM158.4,319.6h1.0v5.6h-1.0zM160.4,319.6h1.0v5.6h-1.0zM174.5,319.6h1.0v5.6h-1.0zM199.6,319.6h1.0v5.6h-1.0zM209.6,319.6h2.0v5.6h-2.0zM43.1,325.2h2.0v5.6h-2.0zM207.6,325.2h1.0v5.6h-1.0zM179.5,336.4h1.0v5.6h-1.0zM182.5,336.4h1.0v5.6h-1.0zM188.5,336.4h2.0v5.6h-2.0zM194.5,336.4h1.0v5.6h-1.0zM197.6,336.4h1.0v5.6h-1.0zM199.6,336.4h1.0v5.6h-1.0zM206.6,336.4h1.0v5.6h-1.0zM209.6,336.4h1.0v5.6h-1.0zM55.1,342.0h1.0v5.6h-1.0zM72.2,342.0h1.0v5.6h-1.0zM75.2,342.0h1.0v5.6h-1.0zM88.2,342.0h1.0v5.6h-1.0zM98.3,342.0h1.0v5.6h-1.0zM110.3,342.0h1.0v5.6h-1.0zM116.3,342.0h1.0v5.6h-1.0zM122.3,342.0h1.0v5.6h-1.0zM124.3,342.0h1.0v5.6h-1.0zM126.3,342.0h1.0v5.6h-1.0zM136.4,342.0h1.0v5.6h-1.0zM138.4,342.0h1.0v5.6h-1.0zM157.4,342.0h1.0v5.6h-1.0zM161.5,342.0h1.0v5.6h-1.0zM167.5,342.0h1.0v5.6h-1.0zM169.5,342.0h1.0v5.6h-1.0zM174.5,342.0h1.0v5.6h-1.0zM184.5,342.0h1.0v5.6h-1.0zM191.5,342.0h1.0v5.6h-1.0zM195.6,342.0h1.0v5.6h-1.0zM198.6,342.0h1.0v5.6h-1.0zM201.6,342.0h1.0v5.6h-1.0zM47.1,347.6h1.0v5.6h-1.0zM79.2,347.6h1.0v5.6h-1.0zM93.2,347.6h1.0v5.6h-1.0zM117.3,347.6h1.0v5.6h-1.0zM126.3,347.6h1.0v5.6h-1.0zM129.4,347.6h1.0v5.6h-1.0zM137.4,347.6h1.0v5.6h-1.0zM145.4,347.6h1.0v5.6h-1.0zM147.4,347.6h1.0v5.6h-1.0zM153.4,347.6h2.0v5.6h-2.0zM159.4,347.6h2.0v5.6h-2.0zM165.5,347.6h1.0v5.6h-1.0zM172.5,347.6h1.0v5.6h-1.0zM174.5,347.6h1.0v5.6h-1.0zM177.5,347.6h1.0v5.6h-1.0zM183.5,347.6h1.0v5.6h-1.0zM185.5,347.6h1.0v5.6h-1.0zM187.5,347.6h1.0v5.6h-1.0zM198.6,347.6h1.0v5.6h-1.0zM206.6,347.6h1.0v5.6h-1.0zM75.2,353.2h1.0v5.6h-1.0zM145.4,353.2h1.0v5.6h-1.0zM170.5,353.2h1.0v5.6h-1.0zM189.5,353.2h1.0v5.6h-1.0zM208.6,353.2h1.0v5.6h-1.0zM55.1,358.8h1.0v5.6h-1.0zM79.2,358.8h1.0v5.6h-1.0zM83.2,358.8h1.0v5.6h-1.0zM92.2,358.8h1.0v5.6h-1.0zM94.3,358.8h1.0v5.6h-1.0zM108.3,358.8h1.0v5.6h-1.0zM112.3,358.8h1.0v5.6h-1.0zM124.3,358.8h1.0v5.6h-1.0zM132.4,358.8h2.0v5.6h-2.0zM160.4,358.8h1.0v5.6h-1.0zM50.1,364.4h1.0v5.6h-1.0zM56.1,364.4h2.0v5.6h-2.0zM62.2,364.4h2.0v5.6h-2.0zM68.2,364.4h1.0v5.6h-1.0zM74.2,364.4h1.0v5.6h-1.0zM77.2,364.4h3.0v5.6h-3.0zM86.2,364.4h1.0v5.6h-1.0zM90.2,364.4h1.0v5.6h-1.0zM104.3,364.4h1.0v5.6h-1.0zM122.3,364.4h1.0v5.6h-1.0zM133.4,364.4h1.0v5.6h-1.0zM145.4,364.4h1.0v5.6h-1.0zM150.4,364.4h1.0v5.6h-1.0zM156.4,364.4h1.0v5.6h-1.0zM158.4,364.4h1.0v5.6h-1.0zM164.5,364.4h5.0v5.6h-5.0zM171.5,364.4h3.0v5.6h-3.0zM177.5,364.4h1.0v5.6h-1.0zM208.6,364.4h1.0v5.6h-1.0zM47.1,370.0h1.0v5.6h-1.0zM89.2,370.0h1.0v5.6h-1.0zM94.3,370.0h1.0v5.6h-1.0zM100.3,370.0h1.0v5.6h-1.0zM106.3,370.0h1.0v5.6h-1.0zM109.3,370.0h1.0v5.6h-1.0zM112.3,370.0h4.0v5.6h-4.0zM130.4,370.0h1.0v5.6h-1.0zM136.4,370.0h1.0v5.6h-1.0zM138.4,370.0h1.0v5.6h-1.0zM141.4,370.0h1.0v5.6h-1.0zM147.4,370.0h1.0v5.6h-1.0zM149.4,370.0h1.0v5.6h-1.0zM165.5,370.0h3.0v5.6h-3.0zM180.5,370.0h1.0v5.6h-1.0zM184.5,370.0h2.0v5.6h-2.0zM190.5,370.0h1.0v5.6h-1.0zM192.5,370.0h1.0v5.6h-1.0zM198.6,370.0h1.0v5.6h-1.0zM54.1,375.6h1.0v5.6h-1.0zM68.2,381.2h1.0v5.6h-1.0zM97.3,381.2h1.0v5.6h-1.0zM163.5,381.2h1.0v5.6h-1.0zM59.1,386.8h1.0v5.6h-1.0zM80.2,386.8h1.0v5.6h-1.0zM43.1,392.4h1.0v5.6h-1.0zM46.1,392.4h1.0v5.6h-1.0zM59.1,392.4h1.0v5.6h-1.0zM64.2,392.4h1.0v5.6h-1.0zM68.2,392.4h2.0v5.6h-2.0zM71.2,392.4h1.0v5.6h-1.0zM87.2,392.4h1.0v5.6h-1.0zM98.3,392.4h1.0v5.6h-1.0zM109.3,392.4h1.0v5.6h-1.0zM113.3,392.4h2.0v5.6h-2.0zM123.3,392.4h2.0v5.6h-2.0zM126.3,392.4h1.0v5.6h-1.0zM133.4,392.4h1.0v5.6h-1.0zM137.4,392.4h1.0v5.6h-1.0zM142.4,392.4h1.0v5.6h-1.0zM147.4,392.4h1.0v5.6h-1.0zM153.4,392.4h1.0v5.6h-1.0zM156.4,392.4h1.0v5.6h-1.0zM159.4,392.4h1.0v5.6h-1.0zM165.5,392.4h2.0v5.6h-2.0zM169.5,392.4h4.0v5.6h-4.0zM175.5,392.4h1.0v5.6h-1.0zM180.5,392.4h2.0v5.6h-2.0zM184.5,392.4h1.0v5.6h-1.0zM196.6,392.4h1.0v5.6h-1.0zM200.6,392.4h1.0v5.6h-1.0zM205.6,392.4h3.0v5.6h-3.0zM45.1,398.0h1.0v5.6h-1.0zM45.1,403.6h1.0v5.6h-1.0zM75.2,403.6h2.0v5.6h-2.0z" fill="#aaa6d9"/>
<path d="M73.2,291.6h1.0v5.6h-1.0zM78.2,291.6h1.0v5.6h-1.0zM116.3,291.6h1.0v5.6h-1.0zM123.3,291.6h1.0v5.6h-1.0zM134.4,291.6h1.0v5.6h-1.0zM148.4,291.6h1.0v5.6h-1.0zM208.6,291.6h1.0v5.6h-1.0zM210.6,291.6h1.0v5.6h-1.0zM73.2,297.2h1.0v5.6h-1.0zM79.2,297.2h1.0v5.6h-1.0zM97.3,297.2h1.0v5.6h-1.0zM122.3,297.2h1.0v5.6h-1.0zM92.2,314.0h1.0v5.6h-1.0zM119.3,314.0h1.0v5.6h-1.0zM129.4,314.0h1.0v5.6h-1.0zM134.4,314.0h1.0v5.6h-1.0zM163.5,314.0h1.0v5.6h-1.0zM204.6,314.0h1.0v5.6h-1.0zM207.6,314.0h1.0v5.6h-1.0zM209.6,314.0h1.0v5.6h-1.0zM122.3,319.6h1.0v5.6h-1.0zM138.4,319.6h1.0v5.6h-1.0zM159.4,319.6h1.0v5.6h-1.0zM161.5,319.6h1.0v5.6h-1.0zM163.5,319.6h1.0v5.6h-1.0zM195.6,319.6h1.0v5.6h-1.0zM45.1,325.2h1.0v5.6h-1.0zM208.6,325.2h1.0v5.6h-1.0zM184.5,330.8h1.0v5.6h-1.0zM195.6,330.8h1.0v5.6h-1.0zM200.6,330.8h1.0v5.6h-1.0zM205.6,330.8h2.0v5.6h-2.0zM208.6,330.8h1.0v5.6h-1.0zM183.5,336.4h1.0v5.6h-1.0zM186.5,336.4h1.0v5.6h-1.0zM196.6,336.4h1.0v5.6h-1.0zM203.6,336.4h1.0v5.6h-1.0zM62.2,342.0h1.0v5.6h-1.0zM67.2,342.0h1.0v5.6h-1.0zM79.2,342.0h1.0v5.6h-1.0zM103.3,342.0h2.0v5.6h-2.0zM112.3,342.0h2.0v5.6h-2.0zM128.4,342.0h1.0v5.6h-1.0zM133.4,342.0h1.0v5.6h-1.0zM135.4,342.0h1.0v5.6h-1.0zM146.4,342.0h1.0v5.6h-1.0zM149.4,342.0h1.0v5.6h-1.0zM155.4,342.0h1.0v5.6h-1.0zM165.5,342.0h2.0v5.6h-2.0zM172.5,342.0h1.0v5.6h-1.0zM182.5,342.0h2.0v5.6h-2.0zM194.5,342.0h1.0v5.6h-1.0zM199.6,342.0h1.0v5.6h-1.0zM202.6,342.0h2.0v5.6h-2.0zM206.6,342.0h1.0v5.6h-1.0zM88.2,347.6h1.0v5.6h-1.0zM92.2,347.6h1.0v5.6h-1.0zM95.3,347.6h1.0v5.6h-1.0zM98.3,347.6h3.0v5.6h-3.0zM108.3,347.6h3.0v5.6h-3.0zM118.3,347.6h1.0v5.6h-1.0zM128.4,347.6h1.0v5.6h-1.0zM131.4,347.6h1.0v5.6h-1.0zM140.4,347.6h2.0v5.6h-2.0zM150.4,347.6h1.0v5.6h-1.0zM167.5,347.6h1.0v5.6h-1.0zM173.5,347.6h1.0v5.6h-1.0zM179.5,347.6h1.0v5.6h-1.0zM151.4,353.2h1.0v5.6h-1.0zM163.5,353.2h1.0v5.6h-1.0zM195.6,353.2h1.0v5.6h-1.0zM60.2,358.8h1.0v5.6h-1.0zM73.2,358.8h1.0v5.6h-1.0zM76.2,358.8h1.0v5.6h-1.0zM93.2,358.8h1.0v5.6h-1.0zM104.3,358.8h1.0v5.6h-1.0zM113.3,358.8h2.0v5.6h-2.0zM116.3,358.8h1.0v5.6h-1.0zM128.4,358.8h3.0v5.6h-3.0zM141.4,358.8h1.0v5.6h-1.0zM143.4,358.8h1.0v5.6h-1.0zM146.4,358.8h1.0v5.6h-1.0zM152.4,358.8h1.0v5.6h-1.0zM154.4,358.8h1.0v5.6h-1.0zM156.4,358.8h1.0v5.6h-1.0zM159.4,358.8h1.0v5.6h-1.0zM170.5,358.8h1.0v5.6h-1.0zM54.1,364.4h2.0v5.6h-2.0zM67.2,364.4h1.0v5.6h-1.0zM98.3,364.4h1.0v5.6h-1.0zM130.4,364.4h1.0v5.6h-1.0zM141.4,364.4h1.0v5.6h-1.0zM146.4,364.4h2.0v5.6h-2.0zM153.4,364.4h1.0v5.6h-1.0zM91.2,370.0h1.0v5.6h-1.0zM93.2,370.0h1.0v5.6h-1.0zM116.3,370.0h1.0v5.6h-1.0zM124.3,370.0h2.0v5.6h-2.0zM128.4,370.0h1.0v5.6h-1.0zM135.4,370.0h1.0v5.6h-1.0zM140.4,370.0h1.0v5.6h-1.0zM142.4,370.0h1.0v5.6h-1.0zM150.4,370.0h2.0v5.6h-2.0zM153.4,370.0h1.0v5.6h-1.0zM156.4,370.0h1.0v5.6h-1.0zM162.5,370.0h2.0v5.6h-2.0zM168.5,370.0h2.0v5.6h-2.0zM172.5,370.0h3.0v5.6h-3.0zM182.5,370.0h1.0v5.6h-1.0zM186.5,370.0h1.0v5.6h-1.0zM189.5,370.0h1.0v5.6h-1.0zM191.5,370.0h1.0v5.6h-1.0zM193.5,370.0h1.0v5.6h-1.0zM196.6,370.0h1.0v5.6h-1.0zM201.6,370.0h1.0v5.6h-1.0zM204.6,370.0h3.0v5.6h-3.0zM46.1,375.6h1.0v5.6h-1.0zM74.2,375.6h1.0v5.6h-1.0zM71.2,381.2h1.0v5.6h-1.0zM82.2,381.2h1.0v5.6h-1.0zM84.2,381.2h1.0v5.6h-1.0zM148.4,381.2h1.0v5.6h-1.0zM44.1,386.8h1.0v5.6h-1.0zM56.1,386.8h1.0v5.6h-1.0zM69.2,386.8h1.0v5.6h-1.0zM71.2,386.8h1.0v5.6h-1.0zM81.2,386.8h1.0v5.6h-1.0zM134.4,386.8h1.0v5.6h-1.0zM48.1,392.4h1.0v5.6h-1.0zM51.1,392.4h2.0v5.6h-2.0zM54.1,392.4h2.0v5.6h-2.0zM61.2,392.4h1.0v5.6h-1.0zM80.2,392.4h1.0v5.6h-1.0zM103.3,392.4h1.0v5.6h-1.0zM105.3,392.4h2.0v5.6h-2.0zM111.3,392.4h1.0v5.6h-1.0zM120.3,392.4h2.0v5.6h-2.0zM128.4,392.4h1.0v5.6h-1.0zM143.4,392.4h1.0v5.6h-1.0zM150.4,392.4h1.0v5.6h-1.0zM155.4,392.4h1.0v5.6h-1.0zM157.4,392.4h1.0v5.6h-1.0zM162.5,392.4h1.0v5.6h-1.0zM189.5,392.4h1.0v5.6h-1.0zM198.6,392.4h1.0v5.6h-1.0zM210.6,392.4h1.0v5.6h-1.0z" fill="#a29ed6"/>
<path d="M144.4,291.6h1.0v5.6h-1.0zM76.2,297.2h1.0v5.6h-1.0zM90.2,297.2h1.0v5.6h-1.0zM99.3,314.0h1.0v5.6h-1.0zM112.3,314.0h1.0v5.6h-1.0zM115.3,314.0h1.0v5.6h-1.0zM117.3,314.0h2.0v5.6h-2.0zM148.4,314.0h1.0v5.6h-1.0zM47.1,319.6h1.0v5.6h-1.0zM76.2,319.6h1.0v5.6h-1.0zM148.4,319.6h1.0v5.6h-1.0zM171.5,319.6h1.0v5.6h-1.0zM176.5,319.6h1.0v5.6h-1.0zM187.5,319.6h1.0v5.6h-1.0zM189.5,319.6h1.0v5.6h-1.0zM203.6,319.6h1.0v5.6h-1.0zM186.5,330.8h1.0v5.6h-1.0zM189.5,330.8h2.0v5.6h-2.0zM202.6,330.8h2.0v5.6h-2.0zM177.5,336.4h1.0v5.6h-1.0zM180.5,336.4h1.0v5.6h-1.0zM185.5,336.4h1.0v5.6h-1.0zM187.5,336.4h1.0v5.6h-1.0zM192.5,336.4h1.0v5.6h-1.0zM198.6,336.4h1.0v5.6h-1.0zM200.6,336.4h1.0v5.6h-1.0zM202.6,336.4h1.0v5.6h-1.0zM204.6,336.4h2.0v5.6h-2.0zM208.6,336.4h1.0v5.6h-1.0zM210.6,336.4h1.0v5.6h-1.0zM47.1,342.0h1.0v5.6h-1.0zM83.2,342.0h1.0v5.6h-1.0zM93.2,342.0h1.0v5.6h-1.0zM108.3,342.0h1.0v5.6h-1.0zM111.3,342.0h1.0v5.6h-1.0zM120.3,342.0h2.0v5.6h-2.0zM141.4,342.0h1.0v5.6h-1.0zM143.4,342.0h1.0v5.6h-1.0zM153.4,342.0h1.0v5.6h-1.0zM156.4,342.0h1.0v5.6h-1.0zM162.5,342.0h1.0v5.6h-1.0zM164.5,342.0h1.0v5.6h-1.0zM173.5,342.0h1.0v5.6h-1.0zM181.5,342.0h1.0v5.6h-1.0zM188.5,342.0h1.0v5.6h-1.0zM190.5,342.0h1.0v5.6h-1.0zM196.6,342.0h1.0v5.6h-1.0zM205.6,342.0h1.0v5.6h-1.0zM104.3,347.6h1.0v5.6h-1.0zM113.3,347.6h1.0v5.6h-1.0zM123.3,347.6h1.0v5.6h-1.0zM139.4,347.6h1.0v5.6h-1.0zM143.4,347.6h1.0v5.6h-1.0zM166.5,347.6h1.0v5.6h-1.0zM170.5,347.6h2.0v5.6h-2.0zM176.5,347.6h1.0v5.6h-1.0zM180.5,347.6h2.0v5.6h-2.0zM189.5,347.6h1.0v5.6h-1.0zM193.5,347.6h1.0v5.6h-1.0zM204.6,347.6h1.0v5.6h-1.0zM177.5,353.2h1.0v5.6h-1.0zM179.5,353.2h1.0v5.6h-1.0zM196.6,353.2h1.0v5.6h-1.0zM72.2,358.8h1.0v5.6h-1.0zM98.3,358.8h1.0v5.6h-1.0zM106.3,358.8h1.0v5.6h-1.0zM120.3,358.8h2.0v5.6h-2.0zM126.3,358.8h1.0v5.6h-1.0zM134.4,358.8h1.0v5.6h-1.0zM144.4,358.8h1.0v5.6h-1.0zM148.4,358.8h1.0v5.6h-1.0zM162.5,358.8h1.0v5.6h-1.0zM168.5,358.8h1.0v5.6h-1.0zM175.5,358.8h1.0v5.6h-1.0zM51.1,364.4h1.0v5.6h-1.0zM53.1,364.4h1.0v5.6h-1.0zM60.2,364.4h2.0v5.6h-2.0zM76.2,364.4h1.0v5.6h-1.0zM89.2,364.4h1.0v5.6h-1.0zM97.3,364.4h1.0v5.6h-1.0zM143.4,364.4h1.0v5.6h-1.0zM148.4,364.4h1.0v5.6h-1.0zM151.4,364.4h1.0v5.6h-1.0zM159.4,364.4h1.0v5.6h-1.0zM207.6,364.4h1.0v5.6h-1.0zM76.2,370.0h1.0v5.6h-1.0zM98.3,370.0h1.0v5.6h-1.0zM105.3,370.0h1.0v5.6h-1.0zM111.3,370.0h1.0v5.6h-1.0zM120.3,370.0h1.0v5.6h-1.0zM123.3,370.0h1.0v5.6h-1.0zM133.4,370.0h1.0v5.6h-1.0zM145.4,370.0h2.0v5.6h-2.0zM152.4,370.0h1.0v5.6h-1.0zM176.5,370.0h1.0v5.6h-1.0zM178.5,370.0h1.0v5.6h-1.0zM181.5,370.0h1.0v5.6h-1.0zM187.5,370.0h1.0v5.6h-1.0zM203.6,370.0h1.0v5.6h-1.0zM43.1,375.6h1.0v5.6h-1.0zM51.1,375.6h1.0v5.6h-1.0zM64.2,375.6h1.0v5.6h-1.0zM80.2,375.6h3.0v5.6h-3.0zM84.2,375.6h1.0v5.6h-1.0zM87.2,375.6h1.0v5.6h-1.0zM43.1,381.2h2.0v5.6h-2.0zM48.1,381.2h1.0v5.6h-1.0zM50.1,381.2h1.0v5.6h-1.0zM58.1,381.2h1.0v5.6h-1.0zM63.2,381.2h1.0v5.6h-1.0zM66.2,381.2h1.0v5.6h-1.0zM80.2,381.2h1.0v5.6h-1.0zM46.1,386.8h1.0v5.6h-1.0zM51.1,386.8h3.0v5.6h-3.0zM61.2,386.8h1.0v5.6h-1.0zM64.2,386.8h2.0v5.6h-2.0zM87.2,386.8h1.0v5.6h-1.0zM97.3,386.8h1.0v5.6h-1.0zM144.4,386.8h1.0v5.6h-1.0zM57.1,392.4h1.0v5.6h-1.0zM70.2,392.4h1.0v5.6h-1.0zM85.2,392.4h2.0v5.6h-2.0zM93.2,392.4h1.0v5.6h-1.0zM130.4,392.4h2.0v5.6h-2.0zM141.4,392.4h1.0v5.6h-1.0zM151.4,392.4h2.0v5.6h-2.0zM168.5,392.4h1.0v5.6h-1.0zM177.5,392.4h2.0v5.6h-2.0zM197.6,392.4h1.0v5.6h-1.0zM208.6,392.4h1.0v5.6h-1.0z" fill="#9b95d2"/>
<path d="M45.1,291.6h1.0v5.6h-1.0zM96.3,314.0h1.0v5.6h-1.0zM101.3,314.0h2.0v5.6h-2.0zM107.3,314.0h1.0v5.6h-1.0zM144.4,314.0h1.0v5.6h-1.0zM45.1,319.6h1.0v5.6h-1.0zM97.3,319.6h1.0v5.6h-1.0zM144.4,319.6h1.0v5.6h-1.0zM152.4,319.6h1.0v5.6h-1.0zM154.4,319.6h1.0v5.6h-1.0zM170.5,319.6h1.0v5.6h-1.0zM179.5,319.6h2.0v5.6h-2.0zM188.5,319.6h1.0v5.6h-1.0zM191.5,319.6h1.0v5.6h-1.0zM194.5,319.6h1.0v5.6h-1.0zM196.6,319.6h1.0v5.6h-1.0zM198.6,319.6h1.0v5.6h-1.0zM200.6,319.6h1.0v5.6h-1.0zM206.6,319.6h1.0v5.6h-1.0zM208.6,319.6h1.0v5.6h-1.0zM209.6,325.2h2.0v5.6h-2.0zM179.5,330.8h1.0v5.6h-1.0zM183.5,330.8h1.0v5.6h-1.0zM188.5,330.8h1.0v5.6h-1.0zM184.5,336.4h1.0v5.6h-1.0zM190.5,336.4h1.0v5.6h-1.0zM105.3,342.0h1.0v5.6h-1.0zM130.4,342.0h1.0v5.6h-1.0zM159.4,342.0h1.0v5.6h-1.0zM175.5,342.0h2.0v5.6h-2.0zM178.5,342.0h3.0v5.6h-3.0zM185.5,342.0h2.0v5.6h-2.0zM200.6,342.0h1.0v5.6h-1.0zM90.2,347.6h1.0v5.6h-1.0zM106.3,347.6h1.0v5.6h-1.0zM116.3,347.6h1.0v5.6h-1.0zM130.4,347.6h1.0v5.6h-1.0zM133.4,347.6h1.0v5.6h-1.0zM168.5,347.6h1.0v5.6h-1.0zM192.5,347.6h1.0v5.6h-1.0zM196.6,347.6h1.0v5.6h-1.0zM201.6,347.6h1.0v5.6h-1.0zM207.6,347.6h1.0v5.6h-1.0zM134.4,353.2h1.0v5.6h-1.0zM148.4,353.2h1.0v5.6h-1.0zM152.4,353.2h1.0v5.6h-1.0zM183.5,353.2h1.0v5.6h-1.0zM187.5,353.2h2.0v5.6h-2.0zM191.5,353.2h1.0v5.6h-1.0zM194.5,353.2h1.0v5.6h-1.0zM198.6,353.2h2.0v5.6h-2.0zM201.6,353.2h1.0v5.6h-1.0zM203.6,353.2h1.0v5.6h-1.0zM97.3,358.8h1.0v5.6h-1.0zM105.3,358.8h1.0v5.6h-1.0zM111.3,358.8h1.0v5.6h-1.0zM123.3,358.8h1.0v5.6h-1.0zM131.4,358.8h1.0v5.6h-1.0zM137.4,358.8h1.0v5.6h-1.0zM171.5,358.8h1.0v5.6h-1.0zM45.1,364.4h1.0v5.6h-1.0zM73.2,364.4h1.0v5.6h-1.0zM88.2,364.4h1.0v5.6h-1.0zM111.3,364.4h1.0v5.6h-1.0zM135.4,364.4h1.0v5.6h-1.0zM137.4,364.4h1.0v5.6h-1.0zM163.5,364.4h1.0v5.6h-1.0zM104.3,370.0h1.0v5.6h-1.0zM122.3,370.0h1.0v5.6h-1.0zM144.4,370.0h1.0v5.6h-1.0zM155.4,370.0h1.0v5.6h-1.0zM171.5,370.0h1.0v5.6h-1.0zM177.5,370.0h1.0v5.6h-1.0zM179.5,370.0h1.0v5.6h-1.0zM183.5,370.0h1.0v5.6h-1.0zM197.6,370.0h1.0v5.6h-1.0zM207.6,370.0h1.0v5.6h-1.0zM44.1,375.6h1.0v5.6h-1.0zM48.1,375.6h1.0v5.6h-1.0zM59.1,375.6h1.0v5.6h-1.0zM68.2,375.6h1.0v5.6h-1.0zM71.2,375.6h1.0v5.6h-1.0zM86.2,375.6h1.0v5.6h-1.0zM56.1,381.2h1.0v5.6h-1.0zM64.2,381.2h1.0v5.6h-1.0zM67.2,381.2h1.0v5.6h-1.0zM70.2,381.2h1.0v5.6h-1.0zM74.2,381.2h1.0v5.6h-1.0zM50.1,386.8h1.0v5.6h-1.0zM66.2,386.8h1.0v5.6h-1.0zM68.2,386.8h1.0v5.6h-1.0zM77.2,386.8h1.0v5.6h-1.0zM86.2,386.8h1.0v5.6h-1.0zM44.1,392.4h1.0v5.6h-1.0zM49.1,392.4h1.0v5.6h-1.0zM56.1,392.4h1.0v5.6h-1.0zM58.1,392.4h1.0v5.6h-1.0zM62.2,392.4h2.0v5.6h-2.0zM65.2,392.4h1.0v5.6h-1.0zM73.2,392.4h1.0v5.6h-1.0zM77.2,392.4h1.0v5.6h-1.0zM88.2,392.4h3.0v5.6h-3.0zM116.3,392.4h1.0v5.6h-1.0zM163.5,392.4h1.0v5.6h-1.0zM174.5,392.4h1.0v5.6h-1.0zM176.5,392.4h1.0v5.6h-1.0z" fill="#938dcf"/>
<path d="M45.1,297.2h1.0v5.6h-1.0zM95.3,314.0h1.0v5.6h-1.0zM105.3,314.0h1.0v5.6h-1.0zM110.3,314.0h1.0v5.6h-1.0zM124.3,314.0h2.0v5.6h-2.0zM127.3,314.0h1.0v5.6h-1.0zM89.2,319.6h1.0v5.6h-1.0zM151.4,319.6h1.0v5.6h-1.0zM178.5,319.6h1.0v5.6h-1.0zM183.5,319.6h1.0v5.6h-1.0zM185.5,319.6h1.0v5.6h-1.0zM193.5,319.6h1.0v5.6h-1.0zM201.6,319.6h2.0v5.6h-2.0zM204.6,319.6h1.0v5.6h-1.0zM180.5,330.8h1.0v5.6h-1.0zM185.5,330.8h1.0v5.6h-1.0zM191.5,330.8h1.0v5.6h-1.0zM196.6,330.8h1.0v5.6h-1.0zM201.6,330.8h1.0v5.6h-1.0zM178.5,336.4h1.0v5.6h-1.0zM181.5,336.4h1.0v5.6h-1.0zM193.5,336.4h1.0v5.6h-1.0zM207.6,336.4h1.0v5.6h-1.0zM97.3,342.0h1.0v5.6h-1.0zM123.3,342.0h1.0v5.6h-1.0zM170.5,342.0h1.0v5.6h-1.0zM177.5,342.0h1.0v5.6h-1.0zM192.5,342.0h1.0v5.6h-1.0zM197.6,342.0h1.0v5.6h-1.0zM207.6,342.0h1.0v5.6h-1.0zM76.2,347.6h1.0v5.6h-1.0zM97.3,347.6h1.0v5.6h-1.0zM105.3,347.6h1.0v5.6h-1.0zM122.3,347.6h1.0v5.6h-1.0zM134.4,347.6h2.0v5.6h-2.0zM144.4,347.6h1.0v5.6h-1.0zM148.4,347.6h1.0v5.6h-1.0zM163.5,347.6h1.0v5.6h-1.0zM197.6,347.6h1.0v5.6h-1.0zM181.5,353.2h1.0v5.6h-1.0zM184.5,353.2h1.0v5.6h-1.0zM186.5,353.2h1.0v5.6h-1.0zM200.6,353.2h1.0v5.6h-1.0zM103.3,358.8h1.0v5.6h-1.0zM122.3,358.8h1.0v5.6h-1.0zM163.5,358.8h1.0v5.6h-1.0zM47.1,364.4h1.0v5.6h-1.0zM66.2,364.4h1.0v5.6h-1.0zM83.2,364.4h1.0v5.6h-1.0zM134.4,364.4h1.0v5.6h-1.0zM176.5,364.4h1.0v5.6h-1.0zM90.2,370.0h1.0v5.6h-1.0zM108.3,370.0h1.0v5.6h-1.0zM131.4,370.0h1.0v5.6h-1.0zM143.4,370.0h1.0v5.6h-1.0zM148.4,370.0h1.0v5.6h-1.0zM154.4,370.0h1.0v5.6h-1.0zM170.5,370.0h1.0v5.6h-1.0zM202.6,370.0h1.0v5.6h-1.0zM57.1,375.6h1.0v5.6h-1.0zM63.2,375.6h1.0v5.6h-1.0zM66.2,375.6h1.0v5.6h-1.0zM69.2,375.6h2.0v5.6h-2.0zM45.1,381.2h1.0v5.6h-1.0zM52.1,381.2h2.0v5.6h-2.0zM57.1,381.2h1.0v5.6h-1.0zM60.2,381.2h1.0v5.6h-1.0zM65.2,381.2h1.0v5.6h-1.0zM73.2,381.2h1.0v5.6h-1.0zM75.2,381.2h1.0v5.6h-1.0zM77.2,381.2h1.0v5.6h-1.0zM79.2,381.2h1.0v5.6h-1.0zM86.2,381.2h1.0v5.6h-1.0zM43.1,386.8h1.0v5.6h-1.0zM48.1,386.8h1.0v5.6h-1.0zM54.1,386.8h1.0v5.6h-1.0zM57.1,386.8h2.0v5.6h-2.0zM62.2,386.8h1.0v5.6h-1.0zM74.2,386.8h2.0v5.6h-2.0zM78.2,386.8h1.0v5.6h-1.0zM82.2,386.8h1.0v5.6h-1.0zM85.2,386.8h1.0v5.6h-1.0zM60.2,392.4h1.0v5.6h-1.0zM67.2,392.4h1.0v5.6h-1.0zM72.2,392.4h1.0v5.6h-1.0zM83.2,392.4h1.0v5.6h-1.0zM97.3,392.4h1.0v5.6h-1.0zM122.3,392.4h1.0v5.6h-1.0zM193.5,392.4h1.0v5.6h-1.0zM204.6,392.4h1.0v5.6h-1.0z" fill="#8b85cb"/>
<path d="M91.2,314.0h1.0v5.6h-1.0zM93.2,314.0h1.0v5.6h-1.0zM106.3,314.0h1.0v5.6h-1.0zM108.3,314.0h2.0v5.6h-2.0zM114.3,314.0h1.0v5.6h-1.0zM116.3,314.0h1.0v5.6h-1.0zM121.3,314.0h1.0v5.6h-1.0zM126.3,314.0h1.0v5.6h-1.0zM133.4,314.0h1.0v5.6h-1.0zM177.5,319.6h1.0v5.6h-1.0zM184.5,319.6h1.0v5.6h-1.0zM186.5,319.6h1.0v5.6h-1.0zM190.5,319.6h1.0v5.6h-1.0zM178.5,330.8h1.0v5.6h-1.0zM187.5,330.8h1.0v5.6h-1.0zM194.5,330.8h1.0v5.6h-1.0zM197.6,330.8h3.0v5.6h-3.0zM90.2,342.0h1.0v5.6h-1.0zM152.4,342.0h1.0v5.6h-1.0zM163.5,342.0h1.0v5.6h-1.0zM171.5,342.0h1.0v5.6h-1.0zM204.6,342.0h1.0v5.6h-1.0zM151.4,347.6h2.0v5.6h-2.0zM180.5,353.2h1.0v5.6h-1.0zM182.5,353.2h1.0v5.6h-1.0zM185.5,353.2h1.0v5.6h-1.0zM190.5,353.2h1.0v5.6h-1.0zM192.5,353.2h1.0v5.6h-1.0zM197.6,353.2h1.0v5.6h-1.0zM202.6,353.2h1.0v5.6h-1.0zM206.6,353.2h1.0v5.6h-1.0zM152.4,364.4h1.0v5.6h-1.0zM49.1,375.6h1.0v5.6h-1.0zM52.1,375.6h2.0v5.6h-2.0zM56.1,375.6h1.0v5.6h-1.0zM61.2,375.6h1.0v5.6h-1.0zM67.2,375.6h1.0v5.6h-1.0zM72.2,375.6h1.0v5.6h-1.0zM85.2,375.6h1.0v5.6h-1.0zM54.1,381.2h1.0v5.6h-1.0zM59.1,381.2h1.0v5.6h-1.0zM69.2,381.2h1.0v5.6h-1.0zM72.2,381.2h1.0v5.6h-1.0zM85.2,381.2h1.0v5.6h-1.0zM89.2,381.2h1.0v5.6h-1.0zM63.2,386.8h1.0v5.6h-1.0zM89.2,386.8h1.0v5.6h-1.0zM45.1,392.4h1.0v5.6h-1.0zM53.1,392.4h1.0v5.6h-1.0zM75.2,392.4h2.0v5.6h-2.0zM78.2,392.4h2.0v5.6h-2.0zM144.4,392.4h1.0v5.6h-1.0z" fill="#847dc8"/>
<path d="M47.1,291.6h1.0v5.6h-1.0zM94.3,314.0h1.0v5.6h-1.0zM100.3,314.0h1.0v5.6h-1.0zM111.3,314.0h1.0v5.6h-1.0zM113.3,314.0h1.0v5.6h-1.0zM120.3,314.0h1.0v5.6h-1.0zM122.3,314.0h2.0v5.6h-2.0zM128.4,314.0h1.0v5.6h-1.0zM134.4,319.6h1.0v5.6h-1.0zM182.5,319.6h1.0v5.6h-1.0zM197.6,319.6h1.0v5.6h-1.0zM205.6,319.6h1.0v5.6h-1.0zM181.5,330.8h2.0v5.6h-2.0zM192.5,330.8h1.0v5.6h-1.0zM204.6,330.8h1.0v5.6h-1.0zM134.4,342.0h1.0v5.6h-1.0zM193.5,342.0h1.0v5.6h-1.0zM178.5,353.2h1.0v5.6h-1.0zM204.6,353.2h2.0v5.6h-2.0zM144.4,364.4h1.0v5.6h-1.0zM97.3,370.0h1.0v5.6h-1.0zM45.1,375.6h1.0v5.6h-1.0zM58.1,375.6h1.0v5.6h-1.0zM65.2,375.6h1.0v5.6h-1.0zM75.2,375.6h1.0v5.6h-1.0zM78.2,375.6h2.0v5.6h-2.0zM88.2,375.6h2.0v5.6h-2.0zM51.1,381.2h1.0v5.6h-1.0zM62.2,381.2h1.0v5.6h-1.0zM78.2,381.2h1.0v5.6h-1.0zM88.2,381.2h1.0v5.6h-1.0zM45.1,386.8h1.0v5.6h-1.0zM55.1,386.8h1.0v5.6h-1.0zM60.2,386.8h1.0v5.6h-1.0zM73.2,386.8h1.0v5.6h-1.0z" fill="#7c75c4"/>
<path d="M98.3,314.0h1.0v5.6h-1.0zM103.3,314.0h1.0v5.6h-1.0zM130.4,314.0h1.0v5.6h-1.0zM181.5,319.6h1.0v5.6h-1.0zM192.5,319.6h1.0v5.6h-1.0zM193.5,330.8h1.0v5.6h-1.0zM207.6,330.8h1.0v5.6h-1.0zM151.4,342.0h1.0v5.6h-1.0zM111.3,347.6h1.0v5.6h-1.0zM207.6,353.2h1.0v5.6h-1.0zM90.2,358.8h1.0v5.6h-1.0zM134.4,370.0h1.0v5.6h-1.0zM50.1,375.6h1.0v5.6h-1.0zM62.2,375.6h1.0v5.6h-1.0zM55.1,381.2h1.0v5.6h-1.0zM61.2,381.2h1.0v5.6h-1.0zM67.2,386.8h1.0v5.6h-1.0zM76.2,386.8h1.0v5.6h-1.0zM88.2,386.8h1.0v5.6h-1.0zM134.4,392.4h1.0v5.6h-1.0z" fill="#746dc1"/>
<path d="M104.3,314.0h1.0v5.6h-1.0zM131.4,314.0h2.0v5.6h-2.0zM207.6,319.6h1.0v5.6h-1.0zM148.4,342.0h1.0v5.6h-1.0zM55.1,375.6h1.0v5.6h-1.0zM60.2,375.6h1.0v5.6h-1.0zM76.2,375.6h2.0v5.6h-2.0zM83.2,375.6h1.0v5.6h-1.0zM76.2,381.2h1.0v5.6h-1.0zM83.2,381.2h1.0v5.6h-1.0zM47.1,386.8h1.0v5.6h-1.0zM72.2,386.8h1.0v5.6h-1.0zM79.2,386.8h1.0v5.6h-1.0zM83.2,386.8h1.0v5.6h-1.0zM47.1,392.4h1.0v5.6h-1.0z" fill="#6d65bd"/>
<path d="M47.1,375.6h1.0v5.6h-1.0zM47.1,381.2h1.0v5.6h-1.0z" fill="#655cba"/>
<path d="M97.3,314.0h1.0v5.6h-1.0zM73.2,375.6h1.0v5.6h-1.0z" fill="#5d54b6"/>
<path d="M144.4,342.0h1.0v5.6h-1.0z" fill="#554cb3"/>
<path d="M90.2,314.0h1.0v5.6h-1.0z" fill="#4e44af"/>
<rect x="207.9" y="291.6" width="0.7" height="117.6" fill="#9a9ab0"/>
<rect x="210.4" y="291.6" width="0.7" height="117.6" fill="#9a9ab0"/>
<rect x="43.1" y="287.7" width="4.199999999999996" height="2" fill="#e7806d"/>
<rect x="47.3" y="287.7" width="42.900000000000006" height="2" fill="#c8a12c"/>
<rect x="90.2" y="287.7" width="44.3" height="2" fill="#4fa93a"/>
<rect x="134.5" y="287.7" width="43.30000000000001" height="2" fill="#25ab8e"/>
<rect x="177.8" y="287.7" width="30.299999999999983" height="2" fill="#2aa9dd"/>
<rect x="208.1" y="287.7" width="2" height="2" fill="#b0a8d0"/>
<rect x="210.1" y="287.7" width="2" height="2" fill="#c8a8c8"/>
<text transform="translate(47.1,284.6) rotate(-45)" font-size="5.6" fill="#1e1e1e" text-anchor="middle">1</text>
<text transform="translate(71.0,284.6) rotate(-45)" font-size="5.6" fill="#1e1e1e" text-anchor="middle">2</text>
<text transform="translate(115.6,284.6) rotate(-45)" font-size="5.6" fill="#1e1e1e" text-anchor="middle">3</text>
<text transform="translate(160.3,284.6) rotate(-45)" font-size="5.6" fill="#1e1e1e" text-anchor="middle">4</text>
<text transform="translate(195.8,284.6) rotate(-45)" font-size="5.6" fill="#1e1e1e" text-anchor="middle">5</text>
<text transform="translate(210.4,284.6) rotate(-45)" font-size="5.6" fill="#1e1e1e" text-anchor="middle">6</text>
<text transform="translate(214.6,284.6) rotate(-45)" font-size="5.6" fill="#1e1e1e" text-anchor="middle">7</text>
<text x="40.3" y="296.6" font-size="6.2" fill="#1e1e1e" text-anchor="end" stroke="#1e1e1e" stroke-width="0.08">Gngt2</text>
<text x="40.3" y="302.20000000000005" font-size="6.2" fill="#1e1e1e" text-anchor="end" stroke="#1e1e1e" stroke-width="0.08">Gm2a</text>
<text x="40.3" y="307.8" font-size="6.2" fill="#1e1e1e" text-anchor="end" stroke="#1e1e1e" stroke-width="0.08">Rsad2</text>
<text x="40.3" y="313.40000000000003" font-size="6.2" fill="#1e1e1e" text-anchor="end" stroke="#1e1e1e" stroke-width="0.08">Isg15</text>
<text x="40.3" y="319.0" font-size="6.2" fill="#1e1e1e" text-anchor="end" stroke="#1e1e1e" stroke-width="0.08">Stfa2l1</text>
<text x="40.3" y="324.6" font-size="6.2" fill="#1e1e1e" text-anchor="end" stroke="#1e1e1e" stroke-width="0.08">Ccl6</text>
<text x="40.3" y="330.20000000000005" font-size="6.2" fill="#1e1e1e" text-anchor="end" stroke="#1e1e1e" stroke-width="0.08">Cxcl2</text>
<text x="40.3" y="335.8" font-size="6.2" fill="#1e1e1e" text-anchor="end" stroke="#1e1e1e" stroke-width="0.08">Mmp8</text>
<text x="40.3" y="341.40000000000003" font-size="6.2" fill="#1e1e1e" text-anchor="end" stroke="#1e1e1e" stroke-width="0.08">Retnlg</text>
<text x="40.3" y="347.0" font-size="6.2" fill="#1e1e1e" text-anchor="end" stroke="#1e1e1e" stroke-width="0.08">Camp</text>
<text x="40.3" y="352.6" font-size="6.2" fill="#1e1e1e" text-anchor="end" stroke="#1e1e1e" stroke-width="0.08">Ngp</text>
<text x="40.3" y="358.20000000000005" font-size="6.2" fill="#1e1e1e" text-anchor="end" stroke="#1e1e1e" stroke-width="0.08">Ltf</text>
<text x="40.3" y="363.8" font-size="6.2" fill="#1e1e1e" text-anchor="end" stroke="#1e1e1e" stroke-width="0.08">Fcnb</text>
<text x="40.3" y="369.40000000000003" font-size="6.2" fill="#1e1e1e" text-anchor="end" stroke="#1e1e1e" stroke-width="0.08">Tuba1b</text>
<text x="40.3" y="375.0" font-size="6.2" fill="#1e1e1e" text-anchor="end" stroke="#1e1e1e" stroke-width="0.08">Chil3</text>
<text x="40.3" y="380.6" font-size="6.2" fill="#1e1e1e" text-anchor="end" stroke="#1e1e1e" stroke-width="0.08">Mpo</text>
<text x="40.3" y="386.20000000000005" font-size="6.2" fill="#1e1e1e" text-anchor="end" stroke="#1e1e1e" stroke-width="0.08">Prtn3</text>
<text x="40.3" y="391.8" font-size="6.2" fill="#1e1e1e" text-anchor="end" stroke="#1e1e1e" stroke-width="0.08">Elane</text>
<text x="40.3" y="397.40000000000003" font-size="6.2" fill="#1e1e1e" text-anchor="end" stroke="#1e1e1e" stroke-width="0.08">Rpl12</text>
<text x="40.3" y="403.0" font-size="6.2" fill="#1e1e1e" text-anchor="end" stroke="#1e1e1e" stroke-width="0.08">Sox4</text>
<text x="40.3" y="408.6" font-size="6.2" fill="#1e1e1e" text-anchor="end" stroke="#1e1e1e" stroke-width="0.08">Cd34</text>
<text x="213.2" y="302.3" font-size="6" fill="#1e1e1e" textLength="28.8" lengthAdjust="spacingAndGlyphs" stroke="#1e1e1e" stroke-width="0.18">Expression</text>
<defs><linearGradient id="gD" x1="0" y1="0" x2="0" y2="1"><stop offset="0" stop-color="#3a3a8e"/><stop offset="0.5" stop-color="#9d9dcc"/><stop offset="1" stop-color="#ffffff"/></linearGradient></defs>
<rect x="219.2" y="304.9" width="4.6" height="25.5" fill="url(#gD)"/>
<text x="225.7" y="307.25" font-size="6" fill="#1e1e1e" stroke="#1e1e1e" stroke-width="0.18">2.5</text>
<text x="225.7" y="312.5" font-size="6" fill="#1e1e1e" stroke="#1e1e1e" stroke-width="0.18">2.0</text>
<text x="225.7" y="317.75" font-size="6" fill="#1e1e1e" stroke="#1e1e1e" stroke-width="0.18">1.5</text>
<text x="225.7" y="323.0" font-size="6" fill="#1e1e1e" stroke="#1e1e1e" stroke-width="0.18">1.0</text>
<text x="225.7" y="328.25" font-size="6" fill="#1e1e1e" stroke="#1e1e1e" stroke-width="0.18">0.5</text>
<text x="225.7" y="333.5" font-size="6" fill="#1e1e1e" stroke="#1e1e1e" stroke-width="0.18">0.0</text>
<text x="216" y="342.4" font-size="6" fill="#1e1e1e" textLength="18.8" lengthAdjust="spacingAndGlyphs" stroke="#1e1e1e" stroke-width="0.18">Identity</text>
<circle cx="221.5" cy="346.3" r="0.75" fill="#e7806d"/>
<text x="225.7" y="348.45" font-size="6" fill="#1e1e1e" stroke="#1e1e1e" stroke-width="0.18">1</text>
<circle cx="221.5" cy="351.63" r="0.75" fill="#c8a12c"/>
<text x="225.7" y="353.78" font-size="6" fill="#1e1e1e" stroke="#1e1e1e" stroke-width="0.18">2</text>
<circle cx="221.5" cy="356.96000000000004" r="0.75" fill="#4fa93a"/>
<text x="225.7" y="359.11" font-size="6" fill="#1e1e1e" stroke="#1e1e1e" stroke-width="0.18">3</text>
<circle cx="221.5" cy="362.29" r="0.75" fill="#25ab8e"/>
<text x="225.7" y="364.44" font-size="6" fill="#1e1e1e" stroke="#1e1e1e" stroke-width="0.18">4</text>
<circle cx="221.5" cy="367.62" r="0.75" fill="#2aa9dd"/>
<text x="225.7" y="369.77" font-size="6" fill="#1e1e1e" stroke="#1e1e1e" stroke-width="0.18">5</text>
<circle cx="221.5" cy="372.95" r="0.75" fill="#9088c8"/>
<text x="225.7" y="375.09999999999997" font-size="6" fill="#1e1e1e" stroke="#1e1e1e" stroke-width="0.18">6</text>
<circle cx="221.5" cy="378.28000000000003" r="0.75" fill="#d06fae"/>
<text x="225.7" y="380.43" font-size="6" fill="#1e1e1e" stroke="#1e1e1e" stroke-width="0.18">7</text>
<circle cx="294.75" cy="285.0" r="0.4" fill="#eee"/>
<circle cx="303.29" cy="285.0" r="0.7" fill="#ddd"/>
<circle cx="311.82" cy="285.0" r="2" fill="#a9a9b9"/>
<circle cx="320.36" cy="285.0" r="2" fill="#a3a3b3"/>
<circle cx="328.89" cy="285.0" r="2" fill="#a9a9b9"/>
<circle cx="337.43" cy="285.0" r="1.7" fill="#8c8cac"/>
<circle cx="345.97" cy="285.0" r="2.2" fill="#3c3c8a"/>
<circle cx="354.5" cy="285.0" r="1.5" fill="#cfcfd4"/>
<circle cx="363.04" cy="285.0" r="1.8" fill="#acacb4"/>
<circle cx="371.57" cy="285.0" r="2.3" fill="#2c2c82"/>
<circle cx="380.11" cy="285.0" r="2.2" fill="#4a4a92"/>
<circle cx="388.65" cy="285.0" r="2.2" fill="#505090"/>
<circle cx="397.18" cy="285.0" r="1.6" fill="#2c2c70"/>
<circle cx="405.72" cy="285.0" r="1.5" fill="#2c2c70"/>
<circle cx="414.25" cy="285.0" r="1.0" fill="#404080"/>
<circle cx="422.79" cy="285.0" r="2.5" fill="#3a3a88"/>
<circle cx="431.33" cy="285.0" r="2" fill="#8a7aa8"/>
<circle cx="439.86" cy="285.0" r="0.6" fill="#ddd"/>
<circle cx="448.4" cy="285.0" r="0.6" fill="#ddd"/>
<circle cx="456.93" cy="285.0" r="0.6" fill="#ddd"/>
<circle cx="465.47" cy="285.0" r="0.8" fill="#404060"/>
<circle cx="474.01" cy="285.0" r="1" fill="#ccc"/>
<circle cx="294.75" cy="317.8" r="0.4" fill="#eee"/>
<circle cx="303.29" cy="317.8" r="0.5" fill="#e0e0e0"/>
<circle cx="311.82" cy="317.8" r="2" fill="#8888a0"/>
<circle cx="320.36" cy="317.8" r="1.8" fill="#999aa5"/>
<circle cx="328.89" cy="317.8" r="1.8" fill="#a0a0a8"/>
<circle cx="337.43" cy="317.8" r="1.2" fill="#7070a0"/>
<circle cx="345.97" cy="317.8" r="2" fill="#5a5a98"/>
<circle cx="354.5" cy="317.8" r="2.2" fill="#4a4a90"/>
<circle cx="363.04" cy="317.8" r="2.2" fill="#4a4a90"/>
<circle cx="371.57" cy="317.8" r="1.6" fill="#7777a8"/>
<circle cx="380.11" cy="317.8" r="2.1" fill="#4e4e94"/>
<circle cx="388.65" cy="317.8" r="2.1" fill="#50509a"/>
<circle cx="397.18" cy="317.8" r="1" fill="#888"/>
<circle cx="405.72" cy="317.8" r="1" fill="#ccc"/>
<circle cx="414.25" cy="317.8" r="1" fill="#ddd"/>
<circle cx="422.79" cy="317.8" r="1.7" fill="#8a8a9a"/>
<circle cx="431.33" cy="317.8" r="1.7" fill="#9a9aa8"/>
<circle cx="439.86" cy="317.8" r="0.5" fill="#e5e5e5"/>
<circle cx="448.4" cy="317.8" r="0.5" fill="#e5e5e5"/>
<circle cx="456.93" cy="317.8" r="0.6" fill="#ddd"/>
<circle cx="465.47" cy="317.8" r="0.8" fill="#404060"/>
<circle cx="474.01" cy="317.8" r="0.8" fill="#bbb"/>
<circle cx="294.75" cy="350.7" r="0.4" fill="#eee"/>
<circle cx="303.29" cy="350.7" r="0.6" fill="#ccc"/>
<circle cx="311.82" cy="350.7" r="2" fill="#7a7a98"/>
<circle cx="320.36" cy="350.7" r="1.8" fill="#8a8a9a"/>
<circle cx="328.89" cy="350.7" r="1.8" fill="#8a8a9a"/>
<circle cx="337.43" cy="350.7" r="1.1" fill="#8080a0"/>
<circle cx="345.97" cy="350.7" r="2" fill="#7070a0"/>
<circle cx="354.5" cy="350.7" r="2" fill="#6060a0"/>
<circle cx="363.04" cy="350.7" r="2" fill="#5858a0"/>
<circle cx="371.57" cy="350.7" r="1.3" fill="#8888a8"/>
<circle cx="380.11" cy="350.7" r="2" fill="#7070a0"/>
<circle cx="388.65" cy="350.7" r="1.8" fill="#888898"/>
<circle cx="397.18" cy="350.7" r="0.8" fill="#888"/>
<circle cx="405.72" cy="350.7" r="0.8" fill="#888"/>
<circle cx="414.25" cy="350.7" r="0.8" fill="#777"/>
<circle cx="422.79" cy="350.7" r="1.8" fill="#a090c0"/>
<circle cx="431.33" cy="350.7" r="2.2" fill="#2a3a90"/>
<circle cx="439.86" cy="350.7" r="0.5" fill="#e5e5e5"/>
<circle cx="448.4" cy="350.7" r="0.5" fill="#e5e5e5"/>
<circle cx="456.93" cy="350.7" r="0.6" fill="#ddd"/>
<circle cx="465.47" cy="350.7" r="0.6" fill="#bbb"/>
<circle cx="474.01" cy="350.7" r="0.8" fill="#999"/>
<circle cx="294.75" cy="383.6" r="0.5" fill="#ddd"/>
<circle cx="303.29" cy="383.6" r="0.6" fill="#ccc"/>
<circle cx="311.82" cy="383.6" r="2.3" fill="#2a2a60"/>
<circle cx="320.36" cy="383.6" r="2.3" fill="#2a2a60"/>
<circle cx="328.89" cy="383.6" r="2.3" fill="#303068"/>
<circle cx="337.43" cy="383.6" r="2.3" fill="#303070"/>
<circle cx="345.97" cy="383.6" r="1.8" fill="#c8c8c8"/>
<circle cx="354.5" cy="383.6" r="2.1" fill="#505080"/>
<circle cx="363.04" cy="383.6" r="1.5" fill="#c0c0c8"/>
<circle cx="371.57" cy="383.6" r="1.2" fill="#ddd"/>
<circle cx="380.11" cy="383.6" r="1.8" fill="#c8c8d0"/>
<circle cx="388.65" cy="383.6" r="1.5" fill="#ccc"/>
<circle cx="397.18" cy="383.6" r="1.3" fill="#e0e0e0"/>
<circle cx="405.72" cy="383.6" r="1.3" fill="#e0e0e0"/>
<circle cx="414.25" cy="383.6" r="1.2" fill="#ccc"/>
<circle cx="422.79" cy="383.6" r="1.2" fill="#c8c8c8"/>
<circle cx="431.33" cy="383.6" r="0.8" fill="#bbb"/>
<circle cx="439.86" cy="383.6" r="0.3" fill="#eee"/>
<circle cx="448.4" cy="383.6" r="0.5" fill="#e5e5e5"/>
<circle cx="456.93" cy="383.6" r="1" fill="#999"/>
<circle cx="465.47" cy="383.6" r="1" fill="#888"/>
<circle cx="474.01" cy="383.6" r="1.3" fill="#ccc"/>
<line x1="290" y1="279.4" x2="290" y2="403.6" stroke="#111" stroke-width="0.9"/>
<line x1="289.6" y1="403.6" x2="478.8" y2="403.6" stroke="#111" stroke-width="0.9"/>
<line x1="287" y1="285.0" x2="290" y2="285.0" stroke="#111" stroke-width="0.9"/>
<text x="284.2" y="287.3" font-size="6.4" fill="#1e1e1e" text-anchor="end" stroke="#1e1e1e" stroke-width="0.18">5</text>
<line x1="287" y1="317.8" x2="290" y2="317.8" stroke="#111" stroke-width="0.9"/>
<text x="284.2" y="320.1" font-size="6.4" fill="#1e1e1e" text-anchor="end" stroke="#1e1e1e" stroke-width="0.18">4</text>
<line x1="287" y1="350.7" x2="290" y2="350.7" stroke="#111" stroke-width="0.9"/>
<text x="284.2" y="353.0" font-size="6.4" fill="#1e1e1e" text-anchor="end" stroke="#1e1e1e" stroke-width="0.18">3</text>
<line x1="287" y1="383.6" x2="290" y2="383.6" stroke="#111" stroke-width="0.9"/>
<text x="284.2" y="385.90000000000003" font-size="6.4" fill="#1e1e1e" text-anchor="end" stroke="#1e1e1e" stroke-width="0.18">2</text>
<line x1="294.75" y1="403.6" x2="294.75" y2="406.5" stroke="#111" stroke-width="0.9"/>
<text transform="translate(297.15,414.6) rotate(-45)" font-size="7.4" fill="#1e1e1e" text-anchor="end" textLength="11.80" lengthAdjust="spacingAndGlyphs" stroke="#1e1e1e" stroke-width="0.2">Cd34</text>
<line x1="303.286" y1="403.6" x2="303.286" y2="406.5" stroke="#111" stroke-width="0.9"/>
<text transform="translate(305.69,414.6) rotate(-45)" font-size="7.4" fill="#1e1e1e" text-anchor="end" textLength="11.80" lengthAdjust="spacingAndGlyphs" stroke="#1e1e1e" stroke-width="0.2">Sox4</text>
<line x1="311.822" y1="403.6" x2="311.822" y2="406.5" stroke="#111" stroke-width="0.9"/>
<text transform="translate(314.22,414.6) rotate(-45)" font-size="7.4" fill="#1e1e1e" text-anchor="end" textLength="14.75" lengthAdjust="spacingAndGlyphs" stroke="#1e1e1e" stroke-width="0.2">Rpl12</text>
<line x1="320.358" y1="403.6" x2="320.358" y2="406.5" stroke="#111" stroke-width="0.9"/>
<text transform="translate(322.76,414.6) rotate(-45)" font-size="7.4" fill="#1e1e1e" text-anchor="end" textLength="14.75" lengthAdjust="spacingAndGlyphs" stroke="#1e1e1e" stroke-width="0.2">Elane</text>
<line x1="328.894" y1="403.6" x2="328.894" y2="406.5" stroke="#111" stroke-width="0.9"/>
<text transform="translate(331.29,414.6) rotate(-45)" font-size="7.4" fill="#1e1e1e" text-anchor="end" textLength="14.75" lengthAdjust="spacingAndGlyphs" stroke="#1e1e1e" stroke-width="0.2">Prtn3</text>
<line x1="337.43" y1="403.6" x2="337.43" y2="406.5" stroke="#111" stroke-width="0.9"/>
<text transform="translate(339.83,414.6) rotate(-45)" font-size="7.4" fill="#1e1e1e" text-anchor="end" textLength="8.85" lengthAdjust="spacingAndGlyphs" stroke="#1e1e1e" stroke-width="0.2">Mpo</text>
<line x1="345.966" y1="403.6" x2="345.966" y2="406.5" stroke="#111" stroke-width="0.9"/>
<text transform="translate(348.37,414.6) rotate(-45)" font-size="7.4" fill="#1e1e1e" text-anchor="end" textLength="14.75" lengthAdjust="spacingAndGlyphs" stroke="#1e1e1e" stroke-width="0.2">Chil3</text>
<line x1="354.502" y1="403.6" x2="354.502" y2="406.5" stroke="#111" stroke-width="0.9"/>
<text transform="translate(356.90,414.6) rotate(-45)" font-size="7.4" fill="#1e1e1e" text-anchor="end" textLength="17.70" lengthAdjust="spacingAndGlyphs" stroke="#1e1e1e" stroke-width="0.2">Tuba1b</text>
<line x1="363.038" y1="403.6" x2="363.038" y2="406.5" stroke="#111" stroke-width="0.9"/>
<text transform="translate(365.44,414.6) rotate(-45)" font-size="7.4" fill="#1e1e1e" text-anchor="end" textLength="11.80" lengthAdjust="spacingAndGlyphs" stroke="#1e1e1e" stroke-width="0.2">Fcnb</text>
<line x1="371.574" y1="403.6" x2="371.574" y2="406.5" stroke="#111" stroke-width="0.9"/>
<text transform="translate(373.97,414.6) rotate(-45)" font-size="7.4" fill="#1e1e1e" text-anchor="end" textLength="8.85" lengthAdjust="spacingAndGlyphs" stroke="#1e1e1e" stroke-width="0.2">Ltf</text>
<line x1="380.11" y1="403.6" x2="380.11" y2="406.5" stroke="#111" stroke-width="0.9"/>
<text transform="translate(382.51,414.6) rotate(-45)" font-size="7.4" fill="#1e1e1e" text-anchor="end" textLength="8.85" lengthAdjust="spacingAndGlyphs" stroke="#1e1e1e" stroke-width="0.2">Ngp</text>
<line x1="388.646" y1="403.6" x2="388.646" y2="406.5" stroke="#111" stroke-width="0.9"/>
<text transform="translate(391.05,414.6) rotate(-45)" font-size="7.4" fill="#1e1e1e" text-anchor="end" textLength="11.80" lengthAdjust="spacingAndGlyphs" stroke="#1e1e1e" stroke-width="0.2">Camp</text>
<line x1="397.182" y1="403.6" x2="397.182" y2="406.5" stroke="#111" stroke-width="0.9"/>
<text transform="translate(399.58,414.6) rotate(-45)" font-size="7.4" fill="#1e1e1e" text-anchor="end" textLength="17.70" lengthAdjust="spacingAndGlyphs" stroke="#1e1e1e" stroke-width="0.2">Retnlg</text>
<line x1="405.71799999999996" y1="403.6" x2="405.71799999999996" y2="406.5" stroke="#111" stroke-width="0.9"/>
<text transform="translate(408.12,414.6) rotate(-45)" font-size="7.4" fill="#1e1e1e" text-anchor="end" textLength="11.80" lengthAdjust="spacingAndGlyphs" stroke="#1e1e1e" stroke-width="0.2">Mmp8</text>
<line x1="414.254" y1="403.6" x2="414.254" y2="406.5" stroke="#111" stroke-width="0.9"/>
<text transform="translate(416.65,414.6) rotate(-45)" font-size="7.4" fill="#1e1e1e" text-anchor="end" textLength="14.75" lengthAdjust="spacingAndGlyphs" stroke="#1e1e1e" stroke-width="0.2">Cxcl2</text>
<line x1="422.78999999999996" y1="403.6" x2="422.78999999999996" y2="406.5" stroke="#111" stroke-width="0.9"/>
<text transform="translate(425.19,414.6) rotate(-45)" font-size="7.4" fill="#1e1e1e" text-anchor="end" textLength="11.80" lengthAdjust="spacingAndGlyphs" stroke="#1e1e1e" stroke-width="0.2">Ccl6</text>
<line x1="431.326" y1="403.6" x2="431.326" y2="406.5" stroke="#111" stroke-width="0.9"/>
<text transform="translate(433.73,414.6) rotate(-45)" font-size="7.4" fill="#1e1e1e" text-anchor="end" textLength="20.65" lengthAdjust="spacingAndGlyphs" stroke="#1e1e1e" stroke-width="0.2">Stfa2l1</text>
<line x1="439.86199999999997" y1="403.6" x2="439.86199999999997" y2="406.5" stroke="#111" stroke-width="0.9"/>
<text transform="translate(442.26,414.6) rotate(-45)" font-size="7.4" fill="#1e1e1e" text-anchor="end" textLength="14.75" lengthAdjust="spacingAndGlyphs" stroke="#1e1e1e" stroke-width="0.2">Isg15</text>
<line x1="448.398" y1="403.6" x2="448.398" y2="406.5" stroke="#111" stroke-width="0.9"/>
<text transform="translate(450.80,414.6) rotate(-45)" font-size="7.4" fill="#1e1e1e" text-anchor="end" textLength="14.75" lengthAdjust="spacingAndGlyphs" stroke="#1e1e1e" stroke-width="0.2">Rsad2</text>
<line x1="456.93399999999997" y1="403.6" x2="456.93399999999997" y2="406.5" stroke="#111" stroke-width="0.9"/>
<text transform="translate(459.33,414.6) rotate(-45)" font-size="7.4" fill="#1e1e1e" text-anchor="end" textLength="11.80" lengthAdjust="spacingAndGlyphs" stroke="#1e1e1e" stroke-width="0.2">Fgl2</text>
<line x1="465.47" y1="403.6" x2="465.47" y2="406.5" stroke="#111" stroke-width="0.9"/>
<text transform="translate(467.87,414.6) rotate(-45)" font-size="7.4" fill="#1e1e1e" text-anchor="end" textLength="11.80" lengthAdjust="spacingAndGlyphs" stroke="#1e1e1e" stroke-width="0.2">Gm2a</text>
<line x1="474.006" y1="403.6" x2="474.006" y2="406.5" stroke="#111" stroke-width="0.9"/>
<text transform="translate(476.41,414.6) rotate(-45)" font-size="7.4" fill="#1e1e1e" text-anchor="end" textLength="14.75" lengthAdjust="spacingAndGlyphs" stroke="#1e1e1e" stroke-width="0.2">Gngt2</text>
<text transform="translate(274.4,334.3) rotate(-90)" font-size="7.4" fill="#1e1e1e" text-anchor="middle" textLength="19.3" lengthAdjust="spacingAndGlyphs" stroke="#1e1e1e" stroke-width="0.2">Identity</text>
<text x="373.3" y="438.1" font-size="8.3" fill="#1e1e1e" textLength="22.3" lengthAdjust="spacingAndGlyphs" stroke="#1a1a1a" stroke-width="0.2">Features</text>
<text x="484" y="300.9" font-size="5.8" fill="#1e1e1e" textLength="21" lengthAdjust="spacingAndGlyphs" stroke="#1e1e1e" stroke-width="0.18">Average</text>
<text x="484" y="308.3" font-size="5.8" fill="#1e1e1e" textLength="28.3" lengthAdjust="spacingAndGlyphs" stroke="#1e1e1e" stroke-width="0.18">Expression</text>
<defs><linearGradient id="gE" x1="0" y1="0" x2="0" y2="1"><stop offset="0" stop-color="#2c2c82"/><stop offset="0.5" stop-color="#8e8ec4"/><stop offset="1" stop-color="#ececf8"/></linearGradient></defs>
<rect x="490.2" y="312.6" width="4.8" height="22.6" fill="url(#gE)"/>
<text x="497.4" y="317.5" font-size="5.6" fill="#1e1e1e" stroke="#1e1e1e" stroke-width="0.18">1.0</text>
<text x="497.4" y="321.8" font-size="5.6" fill="#1e1e1e" stroke="#1e1e1e" stroke-width="0.18">0.5</text>
<text x="497.4" y="326.1" font-size="5.6" fill="#1e1e1e" stroke="#1e1e1e" stroke-width="0.18">0.0</text>
<text x="497.4" y="331.2" font-size="5.6" fill="#1e1e1e" stroke="#1e1e1e" stroke-width="0.18">−0.5</text>
<text x="497.4" y="335.75" font-size="5.6" fill="#1e1e1e" stroke="#1e1e1e" stroke-width="0.18">−1.0</text>
<text x="484" y="349" font-size="5.8" fill="#1e1e1e" textLength="20.5" lengthAdjust="spacingAndGlyphs" stroke="#1e1e1e" stroke-width="0.18">Percent</text>
<text x="484" y="356.4" font-size="5.8" fill="#1e1e1e" textLength="27.3" lengthAdjust="spacingAndGlyphs" stroke="#1e1e1e" stroke-width="0.18">Expressed</text>
<circle cx="491.6" cy="360.2" r="0.8" fill="#111"/>
<text x="496" y="362.3" font-size="6" fill="#1e1e1e" stroke="#1e1e1e" stroke-width="0.18">25</text>
<circle cx="491.6" cy="365.6" r="1.2" fill="#111"/>
<text x="496" y="367.70000000000005" font-size="6" fill="#1e1e1e" stroke="#1e1e1e" stroke-width="0.18">50</text>
<circle cx="491.6" cy="371" r="1.6" fill="#111"/>
<text x="496" y="373.1" font-size="6" fill="#1e1e1e" stroke="#1e1e1e" stroke-width="0.18">75</text>
<circle cx="491.6" cy="376.5" r="2.1" fill="#111"/>
<text x="496" y="378.6" font-size="6" fill="#1e1e1e" stroke="#1e1e1e" stroke-width="0.18">100</text>
<text x="27" y="483.8" font-size="9.9" fill="#1e1e1e" textLength="215.5" lengthAdjust="spacingAndGlyphs" stroke="#1e1e1e" stroke-width="0.18">Go Terms: 184 upregulated genes (Cluster 2, GMPs)</text>
<rect x="51.2" y="496.9" width="24.9" height="38.4" fill="#93bccb"/>
<rect x="59.9" y="535.3" width="16.2" height="20.5" fill="#9fd9c6"/>
<rect x="38.9" y="555.8" width="37.2" height="47.5" fill="#a4a3d3"/>
<rect x="45.8" y="603.3" width="30.3" height="29.1" fill="#a680ae"/>
<line x1="65" y1="501.9" x2="76.3" y2="501.9" stroke="#2e6c84" stroke-width="1.1" stroke-linecap="square"/>
<line x1="65" y1="511.2" x2="76.3" y2="511.2" stroke="#2e6c84" stroke-width="1.1" stroke-linecap="square"/>
<line x1="65" y1="501.9" x2="65" y2="511.2" stroke="#2e6c84" stroke-width="1.1" stroke-linecap="square"/>
<line x1="53.3" y1="506.5" x2="65" y2="506.5" stroke="#2e6c84" stroke-width="1.1" stroke-linecap="square"/>
<line x1="65" y1="521.2" x2="76.3" y2="521.2" stroke="#2e6c84" stroke-width="1.1" stroke-linecap="square"/>
<line x1="65" y1="531" x2="76.3" y2="531" stroke="#2e6c84" stroke-width="1.1" stroke-linecap="square"/>
<line x1="65" y1="521.2" x2="65" y2="531" stroke="#2e6c84" stroke-width="1.1" stroke-linecap="square"/>
<line x1="53.3" y1="526.1" x2="65" y2="526.1" stroke="#2e6c84" stroke-width="1.1" stroke-linecap="square"/>
<line x1="53.3" y1="506.5" x2="53.3" y2="526.1" stroke="#2e6c84" stroke-width="1.1" stroke-linecap="square"/>
<line x1="41.5" y1="516.3" x2="53.3" y2="516.3" stroke="#3a9a9a" stroke-width="0.8" stroke-linecap="square"/>
<line x1="65" y1="541" x2="76.3" y2="541" stroke="#1fa487" stroke-width="1.1" stroke-linecap="square"/>
<line x1="65" y1="550.6" x2="76.3" y2="550.6" stroke="#1fa487" stroke-width="1.1" stroke-linecap="square"/>
<line x1="65" y1="541" x2="65" y2="550.6" stroke="#1fa487" stroke-width="1.1" stroke-linecap="square"/>
<line x1="41.5" y1="545.8" x2="65" y2="545.8" stroke="#1fa487" stroke-width="0.9" stroke-linecap="square"/>
<line x1="41.5" y1="516.3" x2="41.5" y2="545.8" stroke="#3a9a9a" stroke-width="0.8" stroke-linecap="square"/>
<line x1="30.3" y1="531" x2="41.5" y2="531" stroke="#3c3c3c" stroke-width="1.2" stroke-linecap="square"/>
<line x1="30.3" y1="531" x2="30.3" y2="583.4" stroke="#3c3c3c" stroke-width="1.0" stroke-linecap="square"/>
<line x1="30.3" y1="583.4" x2="41.5" y2="583.4" stroke="#43438a" stroke-width="1.1" stroke-linecap="square"/>
<line x1="18.2" y1="557.2" x2="30.3" y2="557.2" stroke="#3c3c3c" stroke-width="1.2" stroke-linecap="square"/>
<line x1="18.2" y1="557.2" x2="18.2" y2="621" stroke="#3c3c3c" stroke-width="1.2" stroke-linecap="square"/>
<line x1="18.2" y1="621" x2="53.3" y2="621" stroke="#4c2a5c" stroke-width="1.2" stroke-linecap="square"/>
<line x1="65" y1="560.4" x2="76.3" y2="560.4" stroke="#43438a" stroke-width="1.1" stroke-linecap="square"/>
<line x1="65" y1="569.8" x2="76.3" y2="569.8" stroke="#43438a" stroke-width="1.1" stroke-linecap="square"/>
<line x1="65" y1="560.4" x2="65" y2="569.8" stroke="#43438a" stroke-width="1.1" stroke-linecap="square"/>
<line x1="53.3" y1="565.1" x2="65" y2="565.1" stroke="#43438a" stroke-width="1.1" stroke-linecap="square"/>
<line x1="53.3" y1="579.8" x2="76.3" y2="579.8" stroke="#43438a" stroke-width="1.1" stroke-linecap="square"/>
<line x1="53.3" y1="565.1" x2="53.3" y2="579.8" stroke="#43438a" stroke-width="1.1" stroke-linecap="square"/>
<line x1="41.5" y1="572.5" x2="53.3" y2="572.5" stroke="#43438a" stroke-width="1.1" stroke-linecap="square"/>
<line x1="65" y1="589.8" x2="76.3" y2="589.8" stroke="#43438a" stroke-width="1.1" stroke-linecap="square"/>
<line x1="65" y1="598.8" x2="76.3" y2="598.8" stroke="#43438a" stroke-width="1.1" stroke-linecap="square"/>
<line x1="65" y1="589.8" x2="65" y2="598.8" stroke="#43438a" stroke-width="1.1" stroke-linecap="square"/>
<line x1="41.5" y1="594.3" x2="65" y2="594.3" stroke="#43438a" stroke-width="1.1" stroke-linecap="square"/>
<line x1="41.5" y1="572.5" x2="41.5" y2="594.3" stroke="#43438a" stroke-width="1.1" stroke-linecap="square"/>
<line x1="65" y1="608.7" x2="76.3" y2="608.7" stroke="#4c2a5c" stroke-width="1.1" stroke-linecap="square"/>
<line x1="65" y1="618" x2="76.3" y2="618" stroke="#4c2a5c" stroke-width="1.1" stroke-linecap="square"/>
<line x1="65" y1="608.7" x2="65" y2="618" stroke="#4c2a5c" stroke-width="1.1" stroke-linecap="square"/>
<line x1="53.3" y1="613.4" x2="65" y2="613.4" stroke="#4c2a5c" stroke-width="1.1" stroke-linecap="square"/>
<line x1="53.3" y1="628" x2="76.3" y2="628" stroke="#4c2a5c" stroke-width="1.1" stroke-linecap="square"/>
<line x1="53.3" y1="613.4" x2="53.3" y2="628" stroke="#4c2a5c" stroke-width="1.1" stroke-linecap="square"/>
<line x1="78.5" y1="501.9" x2="89.6" y2="501.9" stroke="#a9b4b8" stroke-width="0.7"/>
<circle cx="76.3" cy="501.9" r="2.0" fill="#e8203d"/>
<line x1="78.5" y1="511.2" x2="89.6" y2="511.2" stroke="#a9b4b8" stroke-width="0.7"/>
<circle cx="76.3" cy="511.2" r="3.6" fill="#e8203d"/>
<text x="90.9" y="513.1" font-size="6.05" fill="#4d9bb2" stroke="#4d9bb2" stroke-width="0.06">cellular response to nutrient levels</text>
<line x1="78.5" y1="521.2" x2="89.6" y2="521.2" stroke="#a9b4b8" stroke-width="0.7"/>
<circle cx="76.3" cy="521.2" r="3.7" fill="#2b4c9d"/>
<text x="90.9" y="523.1" font-size="6.05" fill="#4d9bb2" stroke="#4d9bb2" stroke-width="0.06">myeloid cell differentiation</text>
<line x1="78.5" y1="531.0" x2="89.6" y2="531.0" stroke="#a9b4b8" stroke-width="0.7"/>
<circle cx="76.3" cy="531.0" r="2.6" fill="#2b4c9d"/>
<text x="90.9" y="532.9" font-size="6.05" fill="#4d9bb2" stroke="#4d9bb2" stroke-width="0.06">positive regulation of myeloid cell differentiation</text>
<line x1="78.5" y1="541.0" x2="89.6" y2="541.0" stroke="#a9b4b8" stroke-width="0.7"/>
<circle cx="76.3" cy="541.0" r="3.3" fill="#c21a8c"/>
<text x="90.9" y="542.9" font-size="6.05" fill="#3aa992" stroke="#3aa992" stroke-width="0.06">nucleoside monophosphate metabolic process</text>
<line x1="78.5" y1="550.6" x2="89.6" y2="550.6" stroke="#a9b4b8" stroke-width="0.7"/>
<circle cx="76.3" cy="550.6" r="3.3" fill="#c21a8c"/>
<text x="90.9" y="552.5" font-size="6.05" fill="#3aa992" stroke="#3aa992" stroke-width="0.06">nucleoside triphosphate metabolic process</text>
<line x1="78.5" y1="560.4" x2="89.6" y2="560.4" stroke="#a9b4b8" stroke-width="0.7"/>
<circle cx="76.3" cy="560.4" r="1.6" fill="#3b3b8b"/>
<text x="90.9" y="562.3" font-size="6.05" fill="#4a4a8c" stroke="#4a4a8c" stroke-width="0.06">protein transmembrane transport</text>
<line x1="78.5" y1="569.8" x2="89.6" y2="569.8" stroke="#a9b4b8" stroke-width="0.7"/>
<circle cx="76.3" cy="569.8" r="1.6" fill="#3b3b8b"/>
<text x="90.9" y="571.6999999999999" font-size="6.05" fill="#4a4a8c" stroke="#4a4a8c" stroke-width="0.06">intracellular protein transmembrane transport</text>
<line x1="78.5" y1="579.8" x2="89.6" y2="579.8" stroke="#a9b4b8" stroke-width="0.7"/>
<circle cx="76.3" cy="579.8" r="2.8" fill="#e8203d"/>
<text x="90.9" y="581.6999999999999" font-size="6.05" fill="#4a4a8c" stroke="#4a4a8c" stroke-width="0.06">mitochondrial transmembrane transport</text>
<line x1="78.5" y1="589.8" x2="89.6" y2="589.8" stroke="#a9b4b8" stroke-width="0.7"/>
<circle cx="76.3" cy="589.8" r="2.8" fill="#b5209c"/>
<text x="90.9" y="591.6999999999999" font-size="6.05" fill="#4a4a8c" stroke="#4a4a8c" stroke-width="0.06">protein import</text>
<line x1="78.5" y1="598.8" x2="89.6" y2="598.8" stroke="#a9b4b8" stroke-width="0.7"/>
<circle cx="76.3" cy="598.8" r="3.7" fill="#e8203d"/>
<text x="90.9" y="600.6999999999999" font-size="6.05" fill="#4a4a8c" stroke="#4a4a8c" stroke-width="0.06">establishment of protein localization to organelle</text>
<line x1="78.5" y1="608.7" x2="89.6" y2="608.7" stroke="#a9b4b8" stroke-width="0.7"/>
<circle cx="76.3" cy="608.7" r="3.3" fill="#e8203d"/>
<text x="90.9" y="610.6" font-size="6.05" fill="#5d3e74" stroke="#5d3e74" stroke-width="0.06">regulation of RNA splicing</text>
<line x1="78.5" y1="618.0" x2="89.6" y2="618.0" stroke="#a9b4b8" stroke-width="0.7"/>
<circle cx="76.3" cy="618.0" r="3.3" fill="#e8203d"/>
<text x="90.9" y="619.9" font-size="6.05" fill="#5d3e74" stroke="#5d3e74" stroke-width="0.06">regulation of mRNA processing</text>
<line x1="78.5" y1="628.0" x2="89.6" y2="628.0" stroke="#a9b4b8" stroke-width="0.7"/>
<circle cx="76.3" cy="628.0" r="3.3" fill="#e8203d"/>
<text x="90.9" y="629.9" font-size="6.05" fill="#5d3e74" stroke="#5d3e74" stroke-width="0.06">regulation of mRNA metabolic process</text>
<text x="90.9" y="500.0" font-size="6.05" fill="#4d9bb2" textLength="134.2" lengthAdjust="spacingAndGlyphs" stroke="#4d9bb2" stroke-width="0.06">regulation of transcription from RNA polymerase II</text>
<text x="90.9" y="507.29999999999995" font-size="6.05" fill="#4d9bb2" stroke="#4d9bb2" stroke-width="0.06">promoter in response to stress</text>
<defs><linearGradient id="gF" x1="0" y1="0" x2="1" y2="0"><stop offset="0" stop-color="#d91b3f"/><stop offset="0.4" stop-color="#c91e69"/><stop offset="0.75" stop-color="#8c3197"/><stop offset="1" stop-color="#3a3fa1"/></linearGradient></defs>
<rect x="77.9" y="641" width="113" height="4.1" fill="url(#gF)"/>
<rect x="96.8" y="641" width="0.6" height="4.1" fill="#ffffff" fill-opacity="0.8"/>
<rect x="124.5" y="641" width="0.6" height="4.1" fill="#ffffff" fill-opacity="0.8"/>
<rect x="152.1" y="641" width="0.6" height="4.1" fill="#ffffff" fill-opacity="0.8"/>
<rect x="179.29999999999998" y="641" width="0.6" height="4.1" fill="#ffffff" fill-opacity="0.8"/>
<text x="53.9" y="651.3" font-size="6" fill="#1e1e1e" textLength="21.1" lengthAdjust="spacingAndGlyphs" stroke="#1e1e1e" stroke-width="0.18">p.adjust</text>
<text x="97.1" y="653.9" font-size="6" fill="#1e1e1e" text-anchor="middle" stroke="#1e1e1e" stroke-width="0.18">0.01</text>
<text x="124.8" y="653.9" font-size="6" fill="#1e1e1e" text-anchor="middle" stroke="#1e1e1e" stroke-width="0.18">0.02</text>
<text x="152.4" y="653.9" font-size="6" fill="#1e1e1e" text-anchor="middle" stroke="#1e1e1e" stroke-width="0.18">0.03</text>
<text x="179.6" y="653.9" font-size="6" fill="#1e1e1e" text-anchor="middle" stroke="#1e1e1e" stroke-width="0.18">0.04</text>
<text x="48.8" y="666.3" font-size="6" fill="#1e1e1e" textLength="45.2" lengthAdjust="spacingAndGlyphs" stroke="#1e1e1e" stroke-width="0.18">number of genes</text>
<circle cx="99" cy="664.3" r="2.5" fill="#111"/>
<text x="106.2" y="666.4" font-size="6" fill="#1e1e1e" stroke="#1e1e1e" stroke-width="0.18">7.5</text>
<circle cx="125.5" cy="664.3" r="3.1" fill="#111"/>
<text x="132.7" y="666.4" font-size="6" fill="#1e1e1e" stroke="#1e1e1e" stroke-width="0.18">10.0</text>
<circle cx="153.1" cy="664.3" r="3.5" fill="#111"/>
<text x="161.5" y="666.4" font-size="6" fill="#1e1e1e" stroke="#1e1e1e" stroke-width="0.18">12.5</text>
<circle cx="183.2" cy="664.3" r="3.8" fill="#111"/>
<text x="191.6" y="666.4" font-size="6" fill="#1e1e1e" stroke="#1e1e1e" stroke-width="0.18">15.0</text>
<line x1="403.3" y1="500.2" x2="403.3" y2="613" stroke="#a0a0a0" stroke-width="0.8"/>
<path d="M392.7,605.2h1.35v1.35h-1.35zM380.4,603.2h1.35v1.35h-1.35zM356.8,583.6h1.35v1.35h-1.35zM391.1,607.8h1.35v1.35h-1.35zM373.3,604.3h1.35v1.35h-1.35zM391.4,605.8h1.35v1.35h-1.35zM339.6,572.6h1.35v1.35h-1.35zM371.0,600.9h1.35v1.35h-1.35zM379.3,607.0h1.35v1.35h-1.35zM386.2,606.8h1.35v1.35h-1.35zM394.3,608.2h1.35v1.35h-1.35zM375.6,598.3h1.35v1.35h-1.35zM393.1,610.0h1.35v1.35h-1.35zM390.7,606.0h1.35v1.35h-1.35zM342.8,582.6h1.35v1.35h-1.35zM359.8,585.6h1.35v1.35h-1.35zM394.8,602.9h1.35v1.35h-1.35zM391.7,609.7h1.35v1.35h-1.35zM383.7,601.7h1.35v1.35h-1.35zM384.4,606.5h1.35v1.35h-1.35zM397.0,608.9h1.35v1.35h-1.35zM341.3,567.9h1.35v1.35h-1.35zM374.7,600.2h1.35v1.35h-1.35zM371.0,594.0h1.35v1.35h-1.35zM393.5,607.0h1.35v1.35h-1.35zM347.7,576.1h1.35v1.35h-1.35zM388.3,605.8h1.35v1.35h-1.35zM355.8,588.8h1.35v1.35h-1.35zM365.0,591.8h1.35v1.35h-1.35zM345.3,564.7h1.35v1.35h-1.35zM343.4,568.1h1.35v1.35h-1.35zM379.0,600.4h1.35v1.35h-1.35zM351.5,584.6h1.35v1.35h-1.35zM356.3,589.3h1.35v1.35h-1.35zM354.6,589.7h1.35v1.35h-1.35zM389.1,604.1h1.35v1.35h-1.35zM396.9,604.5h1.35v1.35h-1.35zM341.4,574.5h1.35v1.35h-1.35zM390.3,608.1h1.35v1.35h-1.35zM363.0,595.6h1.35v1.35h-1.35zM353.2,588.9h1.35v1.35h-1.35zM372.2,594.7h1.35v1.35h-1.35zM354.2,583.8h1.35v1.35h-1.35zM389.4,605.4h1.35v1.35h-1.35zM366.0,595.9h1.35v1.35h-1.35zM371.4,594.9h1.35v1.35h-1.35zM373.5,599.0h1.35v1.35h-1.35zM344.1,579.1h1.35v1.35h-1.35zM395.4,606.8h1.35v1.35h-1.35zM382.1,606.3h1.35v1.35h-1.35zM368.7,599.5h1.35v1.35h-1.35zM387.4,603.3h1.35v1.35h-1.35zM394.0,607.0h1.35v1.35h-1.35zM364.2,592.9h1.35v1.35h-1.35zM363.4,598.4h1.35v1.35h-1.35zM358.2,594.1h1.35v1.35h-1.35zM395.6,606.6h1.35v1.35h-1.35zM365.1,593.8h1.35v1.35h-1.35zM388.0,607.2h1.35v1.35h-1.35zM387.8,606.6h1.35v1.35h-1.35zM377.5,594.9h1.35v1.35h-1.35zM394.8,604.7h1.35v1.35h-1.35zM362.3,595.9h1.35v1.35h-1.35zM364.9,589.9h1.35v1.35h-1.35zM394.4,608.5h1.35v1.35h-1.35zM387.7,601.3h1.35v1.35h-1.35zM395.2,607.1h1.35v1.35h-1.35zM355.7,588.3h1.35v1.35h-1.35zM370.6,602.6h1.35v1.35h-1.35zM381.4,600.3h1.35v1.35h-1.35zM383.8,603.9h1.35v1.35h-1.35zM382.8,603.2h1.35v1.35h-1.35zM355.4,587.1h1.35v1.35h-1.35zM391.5,603.9h1.35v1.35h-1.35zM369.7,598.8h1.35v1.35h-1.35zM379.4,597.7h1.35v1.35h-1.35zM349.3,583.8h1.35v1.35h-1.35zM359.6,587.6h1.35v1.35h-1.35zM364.6,593.4h1.35v1.35h-1.35zM348.4,575.7h1.35v1.35h-1.35zM355.1,599.8h1.35v1.35h-1.35zM397.1,606.0h1.35v1.35h-1.35zM384.8,605.9h1.35v1.35h-1.35zM397.0,605.1h1.35v1.35h-1.35zM361.9,590.5h1.35v1.35h-1.35zM344.1,576.3h1.35v1.35h-1.35zM386.2,602.5h1.35v1.35h-1.35zM389.9,607.4h1.35v1.35h-1.35zM390.1,606.3h1.35v1.35h-1.35zM367.1,596.8h1.35v1.35h-1.35zM390.4,601.6h1.35v1.35h-1.35zM380.4,598.9h1.35v1.35h-1.35zM389.8,606.4h1.35v1.35h-1.35zM391.0,607.5h1.35v1.35h-1.35zM395.1,608.1h1.35v1.35h-1.35zM364.7,598.5h1.35v1.35h-1.35zM395.7,604.4h1.35v1.35h-1.35zM390.9,608.4h1.35v1.35h-1.35zM396.0,605.7h1.35v1.35h-1.35zM350.0,580.7h1.35v1.35h-1.35zM357.4,591.7h1.35v1.35h-1.35zM396.7,607.3h1.35v1.35h-1.35zM376.1,601.1h1.35v1.35h-1.35zM353.4,594.1h1.35v1.35h-1.35zM396.4,606.0h1.35v1.35h-1.35zM348.3,581.8h1.35v1.35h-1.35zM393.2,609.5h1.35v1.35h-1.35zM371.0,595.7h1.35v1.35h-1.35zM357.8,587.2h1.35v1.35h-1.35zM386.8,603.5h1.35v1.35h-1.35zM350.2,584.2h1.35v1.35h-1.35zM377.1,600.5h1.35v1.35h-1.35zM389.8,606.0h1.35v1.35h-1.35zM377.7,600.0h1.35v1.35h-1.35zM394.5,609.8h1.35v1.35h-1.35zM376.3,596.7h1.35v1.35h-1.35zM362.9,591.6h1.35v1.35h-1.35zM355.4,587.5h1.35v1.35h-1.35zM385.9,601.2h1.35v1.35h-1.35zM392.5,605.6h1.35v1.35h-1.35zM392.7,608.3h1.35v1.35h-1.35zM348.4,580.0h1.35v1.35h-1.35zM358.7,594.4h1.35v1.35h-1.35zM348.5,585.8h1.35v1.35h-1.35zM345.3,586.3h1.35v1.35h-1.35zM397.2,605.2h1.35v1.35h-1.35zM370.6,598.5h1.35v1.35h-1.35zM393.3,608.4h1.35v1.35h-1.35zM352.9,587.6h1.35v1.35h-1.35zM373.8,600.9h1.35v1.35h-1.35zM350.9,582.0h1.35v1.35h-1.35zM384.1,605.1h1.35v1.35h-1.35zM356.5,586.6h1.35v1.35h-1.35zM396.8,604.5h1.35v1.35h-1.35zM396.1,606.0h1.35v1.35h-1.35zM394.7,608.4h1.35v1.35h-1.35zM349.7,580.0h1.35v1.35h-1.35zM391.3,603.0h1.35v1.35h-1.35zM358.8,590.8h1.35v1.35h-1.35zM390.7,603.7h1.35v1.35h-1.35zM379.5,601.6h1.35v1.35h-1.35zM380.8,607.6h1.35v1.35h-1.35zM371.9,600.8h1.35v1.35h-1.35zM362.7,596.6h1.35v1.35h-1.35zM384.0,607.6h1.35v1.35h-1.35zM372.1,589.5h1.35v1.35h-1.35zM393.4,606.5h1.35v1.35h-1.35zM356.5,586.8h1.35v1.35h-1.35zM384.6,605.6h1.35v1.35h-1.35zM380.9,599.6h1.35v1.35h-1.35zM370.9,596.4h1.35v1.35h-1.35zM361.5,589.7h1.35v1.35h-1.35zM357.5,592.5h1.35v1.35h-1.35zM391.4,608.4h1.35v1.35h-1.35zM396.5,605.6h1.35v1.35h-1.35zM393.6,607.0h1.35v1.35h-1.35zM366.6,594.6h1.35v1.35h-1.35zM392.1,602.7h1.35v1.35h-1.35zM391.2,605.2h1.35v1.35h-1.35zM368.9,595.2h1.35v1.35h-1.35zM394.5,609.0h1.35v1.35h-1.35zM383.8,607.3h1.35v1.35h-1.35zM368.3,602.0h1.35v1.35h-1.35zM372.5,595.2h1.35v1.35h-1.35zM344.6,571.7h1.35v1.35h-1.35zM369.9,595.2h1.35v1.35h-1.35zM360.4,588.8h1.35v1.35h-1.35zM378.4,602.1h1.35v1.35h-1.35zM396.0,605.4h1.35v1.35h-1.35zM391.2,603.5h1.35v1.35h-1.35zM395.5,605.4h1.35v1.35h-1.35zM358.0,587.3h1.35v1.35h-1.35zM391.9,607.2h1.35v1.35h-1.35zM393.1,603.6h1.35v1.35h-1.35zM392.1,607.8h1.35v1.35h-1.35zM395.4,603.8h1.35v1.35h-1.35zM391.5,605.2h1.35v1.35h-1.35zM396.4,606.6h1.35v1.35h-1.35zM396.1,607.1h1.35v1.35h-1.35zM355.9,581.7h1.35v1.35h-1.35zM397.1,606.1h1.35v1.35h-1.35zM349.0,575.7h1.35v1.35h-1.35zM396.4,602.8h1.35v1.35h-1.35zM359.5,588.5h1.35v1.35h-1.35zM347.8,590.5h1.35v1.35h-1.35zM358.6,589.5h1.35v1.35h-1.35zM394.3,604.6h1.35v1.35h-1.35zM368.8,591.6h1.35v1.35h-1.35zM396.4,606.4h1.35v1.35h-1.35zM386.4,605.9h1.35v1.35h-1.35zM394.2,605.9h1.35v1.35h-1.35zM367.8,593.8h1.35v1.35h-1.35zM384.5,605.9h1.35v1.35h-1.35zM365.1,592.0h1.35v1.35h-1.35zM375.0,598.7h1.35v1.35h-1.35zM379.0,600.9h1.35v1.35h-1.35zM392.5,607.9h1.35v1.35h-1.35zM392.4,607.4h1.35v1.35h-1.35zM352.7,580.9h1.35v1.35h-1.35zM390.7,604.5h1.35v1.35h-1.35zM362.2,589.0h1.35v1.35h-1.35zM388.7,601.9h1.35v1.35h-1.35zM365.7,591.6h1.35v1.35h-1.35zM349.8,584.0h1.35v1.35h-1.35zM365.6,596.2h1.35v1.35h-1.35zM343.5,579.1h1.35v1.35h-1.35zM341.4,571.1h1.35v1.35h-1.35zM343.2,577.8h1.35v1.35h-1.35zM370.6,597.3h1.35v1.35h-1.35zM357.2,584.2h1.35v1.35h-1.35zM357.3,595.6h1.35v1.35h-1.35zM355.5,592.4h1.35v1.35h-1.35zM364.7,584.7h1.35v1.35h-1.35zM368.5,591.8h1.35v1.35h-1.35zM389.1,606.7h1.35v1.35h-1.35zM394.3,607.2h1.35v1.35h-1.35zM380.6,602.8h1.35v1.35h-1.35zM369.9,600.3h1.35v1.35h-1.35zM389.0,601.9h1.35v1.35h-1.35zM383.6,600.3h1.35v1.35h-1.35zM395.6,604.7h1.35v1.35h-1.35zM354.6,590.0h1.35v1.35h-1.35zM371.1,595.7h1.35v1.35h-1.35zM354.2,588.5h1.35v1.35h-1.35zM346.9,574.9h1.35v1.35h-1.35zM357.0,586.5h1.35v1.35h-1.35zM396.9,606.0h1.35v1.35h-1.35zM386.5,604.7h1.35v1.35h-1.35zM357.9,591.3h1.35v1.35h-1.35zM373.9,603.6h1.35v1.35h-1.35zM371.3,600.6h1.35v1.35h-1.35zM395.1,607.9h1.35v1.35h-1.35zM391.0,606.1h1.35v1.35h-1.35zM357.3,593.6h1.35v1.35h-1.35zM363.4,593.1h1.35v1.35h-1.35zM388.8,600.9h1.35v1.35h-1.35zM341.8,584.9h1.35v1.35h-1.35zM348.0,573.4h1.35v1.35h-1.35zM359.4,592.1h1.35v1.35h-1.35zM341.4,582.9h1.35v1.35h-1.35zM394.9,606.0h1.35v1.35h-1.35zM349.2,584.1h1.35v1.35h-1.35zM393.8,607.4h1.35v1.35h-1.35zM396.7,606.2h1.35v1.35h-1.35zM369.4,596.4h1.35v1.35h-1.35zM344.8,582.8h1.35v1.35h-1.35zM374.2,596.7h1.35v1.35h-1.35zM384.1,599.9h1.35v1.35h-1.35zM393.8,605.1h1.35v1.35h-1.35zM392.0,610.0h1.35v1.35h-1.35zM393.9,604.8h1.35v1.35h-1.35zM390.7,603.9h1.35v1.35h-1.35zM394.8,605.8h1.35v1.35h-1.35zM396.1,606.9h1.35v1.35h-1.35zM387.7,603.5h1.35v1.35h-1.35zM368.1,590.5h1.35v1.35h-1.35zM366.8,593.1h1.35v1.35h-1.35zM361.4,585.8h1.35v1.35h-1.35zM369.5,599.8h1.35v1.35h-1.35zM366.9,600.1h1.35v1.35h-1.35zM349.4,587.6h1.35v1.35h-1.35zM389.3,605.5h1.35v1.35h-1.35zM376.5,600.7h1.35v1.35h-1.35zM351.5,580.7h1.35v1.35h-1.35zM396.4,605.1h1.35v1.35h-1.35zM392.0,602.9h1.35v1.35h-1.35zM377.0,594.1h1.35v1.35h-1.35zM359.5,590.4h1.35v1.35h-1.35zM381.8,601.8h1.35v1.35h-1.35zM389.5,604.7h1.35v1.35h-1.35zM397.1,606.2h1.35v1.35h-1.35zM390.8,603.0h1.35v1.35h-1.35zM345.8,572.9h1.35v1.35h-1.35zM378.0,596.7h1.35v1.35h-1.35zM396.5,605.4h1.35v1.35h-1.35zM386.7,603.9h1.35v1.35h-1.35zM366.4,597.9h1.35v1.35h-1.35zM393.8,604.3h1.35v1.35h-1.35zM391.1,606.0h1.35v1.35h-1.35zM371.3,597.9h1.35v1.35h-1.35zM395.2,609.9h1.35v1.35h-1.35zM378.6,604.5h1.35v1.35h-1.35zM394.1,603.3h1.35v1.35h-1.35zM380.3,604.1h1.35v1.35h-1.35zM392.4,603.6h1.35v1.35h-1.35zM382.0,597.2h1.35v1.35h-1.35zM386.2,603.9h1.35v1.35h-1.35zM377.6,601.9h1.35v1.35h-1.35zM387.2,606.5h1.35v1.35h-1.35zM368.0,590.7h1.35v1.35h-1.35zM380.0,606.1h1.35v1.35h-1.35zM382.0,603.8h1.35v1.35h-1.35zM377.3,601.0h1.35v1.35h-1.35zM378.5,601.1h1.35v1.35h-1.35zM382.9,601.2h1.35v1.35h-1.35zM359.7,596.5h1.35v1.35h-1.35zM382.9,603.0h1.35v1.35h-1.35zM357.5,588.5h1.35v1.35h-1.35zM380.8,601.7h1.35v1.35h-1.35zM381.0,604.4h1.35v1.35h-1.35zM359.6,587.6h1.35v1.35h-1.35zM345.2,580.7h1.35v1.35h-1.35zM384.6,605.3h1.35v1.35h-1.35zM389.7,600.0h1.35v1.35h-1.35zM396.3,606.1h1.35v1.35h-1.35zM348.5,586.3h1.35v1.35h-1.35zM358.1,593.1h1.35v1.35h-1.35zM392.4,605.6h1.35v1.35h-1.35zM393.8,602.1h1.35v1.35h-1.35zM391.8,604.3h1.35v1.35h-1.35zM343.6,570.6h1.35v1.35h-1.35zM348.7,581.7h1.35v1.35h-1.35zM358.1,580.0h1.35v1.35h-1.35zM343.9,571.5h1.35v1.35h-1.35zM391.8,605.6h1.35v1.35h-1.35zM393.2,606.1h1.35v1.35h-1.35zM371.4,594.3h1.35v1.35h-1.35zM373.8,602.0h1.35v1.35h-1.35zM395.1,605.2h1.35v1.35h-1.35zM341.3,581.0h1.35v1.35h-1.35zM355.5,586.9h1.35v1.35h-1.35zM385.1,602.7h1.35v1.35h-1.35zM379.3,601.8h1.35v1.35h-1.35zM376.9,606.1h1.35v1.35h-1.35zM374.7,598.0h1.35v1.35h-1.35zM363.3,592.2h1.35v1.35h-1.35zM374.0,598.7h1.35v1.35h-1.35zM395.6,606.5h1.35v1.35h-1.35zM364.2,596.9h1.35v1.35h-1.35zM393.5,607.7h1.35v1.35h-1.35zM354.0,581.7h1.35v1.35h-1.35zM358.1,592.7h1.35v1.35h-1.35zM364.4,596.0h1.35v1.35h-1.35zM386.5,600.5h1.35v1.35h-1.35zM390.6,602.6h1.35v1.35h-1.35zM354.2,585.8h1.35v1.35h-1.35zM392.3,607.2h1.35v1.35h-1.35zM367.5,591.5h1.35v1.35h-1.35zM393.4,604.0h1.35v1.35h-1.35zM390.0,606.6h1.35v1.35h-1.35zM390.3,608.5h1.35v1.35h-1.35zM369.3,597.7h1.35v1.35h-1.35zM370.9,599.7h1.35v1.35h-1.35zM354.3,582.0h1.35v1.35h-1.35zM395.0,605.2h1.35v1.35h-1.35zM345.2,575.8h1.35v1.35h-1.35zM391.8,606.5h1.35v1.35h-1.35zM354.3,582.8h1.35v1.35h-1.35zM352.0,583.1h1.35v1.35h-1.35zM369.2,594.2h1.35v1.35h-1.35zM369.1,596.1h1.35v1.35h-1.35zM396.1,604.8h1.35v1.35h-1.35zM358.2,592.4h1.35v1.35h-1.35zM380.7,597.7h1.35v1.35h-1.35zM377.4,597.3h1.35v1.35h-1.35zM393.5,607.9h1.35v1.35h-1.35zM396.4,602.3h1.35v1.35h-1.35zM342.7,571.6h1.35v1.35h-1.35zM346.3,578.7h1.35v1.35h-1.35zM390.8,602.5h1.35v1.35h-1.35zM396.7,605.1h1.35v1.35h-1.35zM387.3,606.3h1.35v1.35h-1.35zM381.1,602.1h1.35v1.35h-1.35zM356.3,576.9h1.35v1.35h-1.35zM355.7,587.3h1.35v1.35h-1.35zM371.4,597.3h1.35v1.35h-1.35zM349.6,585.8h1.35v1.35h-1.35zM352.1,571.5h1.35v1.35h-1.35zM379.7,603.4h1.35v1.35h-1.35zM384.3,600.0h1.35v1.35h-1.35zM376.3,601.8h1.35v1.35h-1.35zM365.8,596.9h1.35v1.35h-1.35zM396.5,606.6h1.35v1.35h-1.35zM389.0,608.0h1.35v1.35h-1.35zM393.2,606.0h1.35v1.35h-1.35zM390.8,604.4h1.35v1.35h-1.35zM395.4,605.1h1.35v1.35h-1.35zM370.5,598.3h1.35v1.35h-1.35zM395.2,608.1h1.35v1.35h-1.35zM371.7,601.5h1.35v1.35h-1.35zM350.2,584.4h1.35v1.35h-1.35zM353.5,591.4h1.35v1.35h-1.35zM369.7,593.5h1.35v1.35h-1.35zM387.4,602.8h1.35v1.35h-1.35zM341.3,574.7h1.35v1.35h-1.35zM393.6,604.9h1.35v1.35h-1.35zM364.5,593.3h1.35v1.35h-1.35zM381.7,601.5h1.35v1.35h-1.35zM381.9,604.5h1.35v1.35h-1.35zM348.9,578.7h1.35v1.35h-1.35zM394.8,604.5h1.35v1.35h-1.35zM385.5,603.9h1.35v1.35h-1.35zM395.0,607.5h1.35v1.35h-1.35zM378.1,602.6h1.35v1.35h-1.35zM354.0,579.7h1.35v1.35h-1.35zM393.6,604.3h1.35v1.35h-1.35zM351.3,583.4h1.35v1.35h-1.35zM357.1,585.7h1.35v1.35h-1.35zM395.5,605.7h1.35v1.35h-1.35zM363.6,598.7h1.35v1.35h-1.35zM372.0,597.1h1.35v1.35h-1.35zM381.1,601.5h1.35v1.35h-1.35zM343.2,571.9h1.35v1.35h-1.35zM389.4,604.1h1.35v1.35h-1.35zM353.4,589.1h1.35v1.35h-1.35zM372.1,595.9h1.35v1.35h-1.35zM379.3,604.3h1.35v1.35h-1.35zM381.2,603.4h1.35v1.35h-1.35zM382.5,602.3h1.35v1.35h-1.35zM375.9,601.7h1.35v1.35h-1.35zM374.8,597.1h1.35v1.35h-1.35zM357.8,592.2h1.35v1.35h-1.35zM344.9,573.0h1.35v1.35h-1.35zM380.0,608.6h1.35v1.35h-1.35zM357.3,588.0h1.35v1.35h-1.35zM391.4,604.5h1.35v1.35h-1.35zM396.0,612.4h1.35v1.35h-1.35zM386.9,607.3h1.35v1.35h-1.35zM394.6,607.3h1.35v1.35h-1.35zM370.9,599.7h1.35v1.35h-1.35zM391.0,606.5h1.35v1.35h-1.35zM382.3,600.8h1.35v1.35h-1.35zM345.1,588.4h1.35v1.35h-1.35zM342.6,576.0h1.35v1.35h-1.35zM355.9,587.2h1.35v1.35h-1.35zM379.9,605.4h1.35v1.35h-1.35zM395.6,607.5h1.35v1.35h-1.35zM357.4,594.8h1.35v1.35h-1.35zM384.4,603.8h1.35v1.35h-1.35zM352.8,584.0h1.35v1.35h-1.35zM374.1,601.9h1.35v1.35h-1.35zM355.5,583.5h1.35v1.35h-1.35zM386.4,604.8h1.35v1.35h-1.35zM343.7,569.9h1.35v1.35h-1.35zM393.6,604.3h1.35v1.35h-1.35zM384.6,609.0h1.35v1.35h-1.35zM393.1,603.5h1.35v1.35h-1.35zM389.5,605.0h1.35v1.35h-1.35zM375.6,602.2h1.35v1.35h-1.35zM390.4,607.0h1.35v1.35h-1.35zM367.3,595.9h1.35v1.35h-1.35zM395.1,606.8h1.35v1.35h-1.35zM365.4,593.1h1.35v1.35h-1.35zM376.9,603.0h1.35v1.35h-1.35zM396.3,604.6h1.35v1.35h-1.35zM389.4,605.5h1.35v1.35h-1.35zM397.7,610.1h1.35v1.35h-1.35zM395.7,606.2h1.35v1.35h-1.35zM374.3,596.0h1.35v1.35h-1.35zM357.2,584.8h1.35v1.35h-1.35zM348.8,585.8h1.35v1.35h-1.35zM370.3,594.2h1.35v1.35h-1.35zM372.7,601.0h1.35v1.35h-1.35zM386.3,604.7h1.35v1.35h-1.35zM364.5,588.5h1.35v1.35h-1.35zM384.0,605.7h1.35v1.35h-1.35zM377.9,596.8h1.35v1.35h-1.35zM394.3,604.3h1.35v1.35h-1.35zM371.0,598.2h1.35v1.35h-1.35zM342.9,585.3h1.35v1.35h-1.35zM343.7,574.3h1.35v1.35h-1.35zM378.3,601.9h1.35v1.35h-1.35zM360.8,592.1h1.35v1.35h-1.35zM371.9,599.4h1.35v1.35h-1.35zM377.7,599.8h1.35v1.35h-1.35zM377.9,601.8h1.35v1.35h-1.35zM396.1,607.1h1.35v1.35h-1.35zM349.0,578.0h1.35v1.35h-1.35zM390.9,608.4h1.35v1.35h-1.35zM343.4,567.3h1.35v1.35h-1.35zM349.3,580.2h1.35v1.35h-1.35zM372.6,595.2h1.35v1.35h-1.35zM374.0,604.5h1.35v1.35h-1.35zM361.5,592.7h1.35v1.35h-1.35zM395.8,605.9h1.35v1.35h-1.35zM388.2,605.5h1.35v1.35h-1.35zM347.3,587.6h1.35v1.35h-1.35zM391.6,605.1h1.35v1.35h-1.35zM370.6,598.5h1.35v1.35h-1.35zM395.4,606.7h1.35v1.35h-1.35zM351.4,587.3h1.35v1.35h-1.35zM379.1,598.3h1.35v1.35h-1.35zM355.9,583.4h1.35v1.35h-1.35zM358.8,589.5h1.35v1.35h-1.35zM351.0,590.3h1.35v1.35h-1.35zM386.7,604.0h1.35v1.35h-1.35zM355.0,589.4h1.35v1.35h-1.35zM397.0,601.0h1.35v1.35h-1.35zM396.3,606.5h1.35v1.35h-1.35zM365.2,593.0h1.35v1.35h-1.35zM365.4,596.6h1.35v1.35h-1.35zM396.7,603.0h1.35v1.35h-1.35zM396.7,608.2h1.35v1.35h-1.35zM360.5,590.1h1.35v1.35h-1.35zM375.2,601.2h1.35v1.35h-1.35zM395.9,607.3h1.35v1.35h-1.35zM379.2,603.1h1.35v1.35h-1.35zM383.5,604.8h1.35v1.35h-1.35zM392.1,599.7h1.35v1.35h-1.35zM355.9,588.7h1.35v1.35h-1.35zM396.0,606.3h1.35v1.35h-1.35zM344.7,575.0h1.35v1.35h-1.35zM351.7,576.8h1.35v1.35h-1.35zM394.1,603.3h1.35v1.35h-1.35zM381.1,604.6h1.35v1.35h-1.35zM385.5,606.2h1.35v1.35h-1.35zM355.9,591.7h1.35v1.35h-1.35zM344.5,574.1h1.35v1.35h-1.35zM342.1,584.1h1.35v1.35h-1.35zM392.0,608.3h1.35v1.35h-1.35zM394.7,608.6h1.35v1.35h-1.35zM346.6,577.1h1.35v1.35h-1.35zM344.0,578.7h1.35v1.35h-1.35zM393.9,611.0h1.35v1.35h-1.35zM394.1,607.5h1.35v1.35h-1.35zM395.5,607.3h1.35v1.35h-1.35zM374.1,595.2h1.35v1.35h-1.35zM393.2,609.0h1.35v1.35h-1.35zM384.4,601.3h1.35v1.35h-1.35zM394.4,608.2h1.35v1.35h-1.35zM377.2,601.6h1.35v1.35h-1.35zM390.0,609.0h1.35v1.35h-1.35zM390.8,605.2h1.35v1.35h-1.35zM341.6,575.7h1.35v1.35h-1.35zM358.5,587.3h1.35v1.35h-1.35zM366.2,596.7h1.35v1.35h-1.35zM385.1,605.8h1.35v1.35h-1.35zM355.4,579.8h1.35v1.35h-1.35zM386.0,600.3h1.35v1.35h-1.35zM347.8,583.7h1.35v1.35h-1.35zM381.5,605.1h1.35v1.35h-1.35zM356.4,589.1h1.35v1.35h-1.35zM396.1,604.5h1.35v1.35h-1.35zM340.4,568.6h1.35v1.35h-1.35zM392.7,603.1h1.35v1.35h-1.35zM395.4,604.2h1.35v1.35h-1.35zM397.5,607.5h1.35v1.35h-1.35zM393.1,604.9h1.35v1.35h-1.35zM383.8,605.7h1.35v1.35h-1.35zM350.3,586.0h1.35v1.35h-1.35zM396.5,604.1h1.35v1.35h-1.35zM389.8,604.3h1.35v1.35h-1.35zM361.4,589.8h1.35v1.35h-1.35zM373.0,603.3h1.35v1.35h-1.35zM373.2,603.0h1.35v1.35h-1.35zM387.7,602.1h1.35v1.35h-1.35zM364.2,589.6h1.35v1.35h-1.35zM377.1,602.3h1.35v1.35h-1.35zM364.7,596.2h1.35v1.35h-1.35zM353.2,583.6h1.35v1.35h-1.35zM351.8,584.2h1.35v1.35h-1.35zM364.8,597.8h1.35v1.35h-1.35zM345.2,577.2h1.35v1.35h-1.35zM366.7,600.0h1.35v1.35h-1.35zM360.5,598.2h1.35v1.35h-1.35zM379.8,603.9h1.35v1.35h-1.35zM395.7,609.5h1.35v1.35h-1.35zM348.1,582.3h1.35v1.35h-1.35zM374.3,601.6h1.35v1.35h-1.35zM383.9,605.9h1.35v1.35h-1.35zM377.3,602.1h1.35v1.35h-1.35zM395.8,603.1h1.35v1.35h-1.35zM380.3,601.7h1.35v1.35h-1.35zM356.5,590.1h1.35v1.35h-1.35zM396.6,607.3h1.35v1.35h-1.35zM386.4,602.5h1.35v1.35h-1.35zM389.8,607.1h1.35v1.35h-1.35zM340.7,572.7h1.35v1.35h-1.35zM364.6,596.1h1.35v1.35h-1.35zM369.1,599.8h1.35v1.35h-1.35zM365.5,597.5h1.35v1.35h-1.35zM374.6,601.2h1.35v1.35h-1.35zM355.6,583.9h1.35v1.35h-1.35zM364.1,603.4h1.35v1.35h-1.35zM388.1,602.8h1.35v1.35h-1.35zM394.0,604.8h1.35v1.35h-1.35zM378.8,603.9h1.35v1.35h-1.35zM341.9,575.0h1.35v1.35h-1.35zM395.5,606.1h1.35v1.35h-1.35zM390.3,601.9h1.35v1.35h-1.35zM360.7,600.4h1.35v1.35h-1.35zM377.5,601.9h1.35v1.35h-1.35zM392.0,607.7h1.35v1.35h-1.35zM361.7,589.9h1.35v1.35h-1.35zM395.3,607.6h1.35v1.35h-1.35zM378.2,597.3h1.35v1.35h-1.35zM372.6,604.3h1.35v1.35h-1.35zM377.6,598.9h1.35v1.35h-1.35zM391.4,607.2h1.35v1.35h-1.35zM381.6,605.6h1.35v1.35h-1.35zM387.6,605.4h1.35v1.35h-1.35zM369.9,600.3h1.35v1.35h-1.35zM372.9,599.4h1.35v1.35h-1.35zM390.3,605.7h1.35v1.35h-1.35zM395.5,610.6h1.35v1.35h-1.35zM395.4,609.2h1.35v1.35h-1.35zM362.5,596.8h1.35v1.35h-1.35zM392.3,603.8h1.35v1.35h-1.35zM349.2,582.2h1.35v1.35h-1.35zM372.8,594.6h1.35v1.35h-1.35zM396.2,604.5h1.35v1.35h-1.35zM372.5,598.7h1.35v1.35h-1.35zM395.9,607.7h1.35v1.35h-1.35zM396.2,606.2h1.35v1.35h-1.35zM375.7,604.1h1.35v1.35h-1.35zM368.6,592.3h1.35v1.35h-1.35zM391.5,603.0h1.35v1.35h-1.35zM388.8,606.0h1.35v1.35h-1.35zM378.9,605.5h1.35v1.35h-1.35zM389.9,604.2h1.35v1.35h-1.35zM362.0,586.9h1.35v1.35h-1.35zM364.7,596.8h1.35v1.35h-1.35zM388.6,604.4h1.35v1.35h-1.35zM396.3,605.5h1.35v1.35h-1.35zM397.3,606.1h1.35v1.35h-1.35zM367.5,591.6h1.35v1.35h-1.35zM384.2,602.2h1.35v1.35h-1.35zM352.4,586.6h1.35v1.35h-1.35zM375.5,596.4h1.35v1.35h-1.35zM354.5,588.5h1.35v1.35h-1.35zM349.0,581.7h1.35v1.35h-1.35zM382.8,602.8h1.35v1.35h-1.35zM368.7,602.8h1.35v1.35h-1.35zM355.7,589.3h1.35v1.35h-1.35zM391.6,602.6h1.35v1.35h-1.35zM341.7,572.9h1.35v1.35h-1.35zM371.2,601.8h1.35v1.35h-1.35zM395.0,607.2h1.35v1.35h-1.35zM380.1,605.8h1.35v1.35h-1.35zM392.8,609.1h1.35v1.35h-1.35zM379.5,602.7h1.35v1.35h-1.35zM385.1,608.5h1.35v1.35h-1.35zM366.7,595.3h1.35v1.35h-1.35zM369.5,602.5h1.35v1.35h-1.35zM347.4,582.5h1.35v1.35h-1.35zM392.9,605.1h1.35v1.35h-1.35zM378.7,602.9h1.35v1.35h-1.35zM357.2,587.6h1.35v1.35h-1.35zM395.8,606.9h1.35v1.35h-1.35zM373.3,604.1h1.35v1.35h-1.35zM382.4,605.6h1.35v1.35h-1.35zM354.2,586.8h1.35v1.35h-1.35zM358.6,585.9h1.35v1.35h-1.35zM382.9,605.1h1.35v1.35h-1.35zM377.7,593.5h1.35v1.35h-1.35zM392.9,608.3h1.35v1.35h-1.35zM395.1,605.3h1.35v1.35h-1.35zM378.5,596.9h1.35v1.35h-1.35zM349.0,589.7h1.35v1.35h-1.35zM346.3,580.0h1.35v1.35h-1.35zM380.3,603.9h1.35v1.35h-1.35zM378.3,602.4h1.35v1.35h-1.35zM391.4,604.5h1.35v1.35h-1.35zM394.5,604.9h1.35v1.35h-1.35zM341.4,581.2h1.35v1.35h-1.35zM387.9,602.7h1.35v1.35h-1.35zM395.9,605.9h1.35v1.35h-1.35zM353.5,590.1h1.35v1.35h-1.35zM374.9,601.6h1.35v1.35h-1.35zM378.6,600.5h1.35v1.35h-1.35zM396.3,606.8h1.35v1.35h-1.35zM394.0,606.4h1.35v1.35h-1.35zM354.9,589.0h1.35v1.35h-1.35zM384.1,606.5h1.35v1.35h-1.35zM369.5,598.4h1.35v1.35h-1.35zM395.8,606.1h1.35v1.35h-1.35zM391.7,604.6h1.35v1.35h-1.35zM390.0,605.7h1.35v1.35h-1.35zM355.4,591.7h1.35v1.35h-1.35zM381.2,606.0h1.35v1.35h-1.35zM374.9,603.0h1.35v1.35h-1.35zM390.5,603.0h1.35v1.35h-1.35zM371.1,594.9h1.35v1.35h-1.35zM395.5,606.7h1.35v1.35h-1.35zM342.0,576.9h1.35v1.35h-1.35zM378.7,600.5h1.35v1.35h-1.35zM361.1,587.7h1.35v1.35h-1.35zM357.0,591.8h1.35v1.35h-1.35zM390.2,607.5h1.35v1.35h-1.35zM385.2,602.4h1.35v1.35h-1.35zM381.3,602.2h1.35v1.35h-1.35zM356.2,589.9h1.35v1.35h-1.35zM347.5,578.3h1.35v1.35h-1.35zM365.0,591.8h1.35v1.35h-1.35zM347.0,570.0h1.35v1.35h-1.35zM395.3,605.8h1.35v1.35h-1.35zM363.6,590.3h1.35v1.35h-1.35zM386.8,602.7h1.35v1.35h-1.35zM378.5,601.4h1.35v1.35h-1.35zM391.5,602.9h1.35v1.35h-1.35zM371.7,598.5h1.35v1.35h-1.35zM347.6,581.6h1.35v1.35h-1.35zM373.4,600.5h1.35v1.35h-1.35zM389.2,602.7h1.35v1.35h-1.35zM396.1,602.5h1.35v1.35h-1.35zM352.0,577.9h1.35v1.35h-1.35zM385.6,608.3h1.35v1.35h-1.35zM375.3,597.4h1.35v1.35h-1.35zM343.6,573.4h1.35v1.35h-1.35zM361.2,589.5h1.35v1.35h-1.35zM396.1,606.7h1.35v1.35h-1.35zM388.6,602.5h1.35v1.35h-1.35zM350.0,577.3h1.35v1.35h-1.35zM367.6,599.4h1.35v1.35h-1.35zM381.1,605.0h1.35v1.35h-1.35zM389.6,606.4h1.35v1.35h-1.35zM384.2,601.7h1.35v1.35h-1.35zM386.7,605.8h1.35v1.35h-1.35zM396.3,607.6h1.35v1.35h-1.35zM393.6,604.5h1.35v1.35h-1.35zM355.8,589.8h1.35v1.35h-1.35zM393.1,605.6h1.35v1.35h-1.35zM367.4,597.4h1.35v1.35h-1.35zM380.0,604.8h1.35v1.35h-1.35zM387.0,604.0h1.35v1.35h-1.35zM382.0,601.2h1.35v1.35h-1.35zM377.9,604.1h1.35v1.35h-1.35zM390.1,608.5h1.35v1.35h-1.35zM357.2,599.5h1.35v1.35h-1.35zM388.3,608.8h1.35v1.35h-1.35zM368.6,590.5h1.35v1.35h-1.35zM356.8,583.6h1.35v1.35h-1.35zM383.2,604.3h1.35v1.35h-1.35zM363.0,588.5h1.35v1.35h-1.35zM368.1,598.1h1.35v1.35h-1.35zM394.9,606.6h1.35v1.35h-1.35zM373.9,595.0h1.35v1.35h-1.35zM369.8,593.4h1.35v1.35h-1.35zM345.8,581.9h1.35v1.35h-1.35zM364.0,590.7h1.35v1.35h-1.35zM396.2,603.9h1.35v1.35h-1.35zM348.1,575.5h1.35v1.35h-1.35zM370.8,598.5h1.35v1.35h-1.35zM369.7,597.2h1.35v1.35h-1.35zM396.2,607.3h1.35v1.35h-1.35zM393.5,606.9h1.35v1.35h-1.35zM385.1,605.1h1.35v1.35h-1.35zM350.8,587.6h1.35v1.35h-1.35zM383.9,605.5h1.35v1.35h-1.35zM386.1,607.5h1.35v1.35h-1.35zM396.3,608.4h1.35v1.35h-1.35zM359.6,585.9h1.35v1.35h-1.35zM393.9,604.8h1.35v1.35h-1.35zM386.4,605.2h1.35v1.35h-1.35zM355.0,581.4h1.35v1.35h-1.35zM373.8,598.9h1.35v1.35h-1.35zM396.4,608.6h1.35v1.35h-1.35zM395.2,606.1h1.35v1.35h-1.35zM385.3,603.8h1.35v1.35h-1.35zM361.2,589.3h1.35v1.35h-1.35zM379.4,604.8h1.35v1.35h-1.35zM396.9,607.9h1.35v1.35h-1.35zM391.8,605.9h1.35v1.35h-1.35zM367.7,602.8h1.35v1.35h-1.35zM386.0,601.6h1.35v1.35h-1.35zM371.2,598.1h1.35v1.35h-1.35zM396.6,606.5h1.35v1.35h-1.35zM366.1,599.9h1.35v1.35h-1.35zM364.9,586.1h1.35v1.35h-1.35zM393.2,604.6h1.35v1.35h-1.35zM381.6,603.6h1.35v1.35h-1.35zM388.2,604.2h1.35v1.35h-1.35zM397.8,608.2h1.35v1.35h-1.35zM367.7,596.6h1.35v1.35h-1.35zM365.1,601.8h1.35v1.35h-1.35zM345.5,578.5h1.35v1.35h-1.35zM358.7,585.1h1.35v1.35h-1.35zM396.5,608.7h1.35v1.35h-1.35zM370.4,595.7h1.35v1.35h-1.35zM394.9,609.5h1.35v1.35h-1.35zM394.7,607.7h1.35v1.35h-1.35zM382.2,600.1h1.35v1.35h-1.35zM346.4,580.0h1.35v1.35h-1.35zM381.2,604.2h1.35v1.35h-1.35zM352.0,580.9h1.35v1.35h-1.35zM380.8,608.0h1.35v1.35h-1.35zM376.2,598.4h1.35v1.35h-1.35zM389.9,604.4h1.35v1.35h-1.35zM361.7,587.7h1.35v1.35h-1.35zM365.4,590.2h1.35v1.35h-1.35zM373.1,599.1h1.35v1.35h-1.35zM381.5,601.9h1.35v1.35h-1.35zM393.6,607.5h1.35v1.35h-1.35zM384.5,604.1h1.35v1.35h-1.35zM394.9,605.8h1.35v1.35h-1.35zM357.5,593.7h1.35v1.35h-1.35zM373.0,599.6h1.35v1.35h-1.35zM392.7,606.9h1.35v1.35h-1.35zM396.8,604.0h1.35v1.35h-1.35zM393.7,605.8h1.35v1.35h-1.35zM390.8,608.5h1.35v1.35h-1.35zM393.6,604.2h1.35v1.35h-1.35zM396.7,606.3h1.35v1.35h-1.35zM388.2,606.8h1.35v1.35h-1.35zM391.6,605.8h1.35v1.35h-1.35zM395.4,604.6h1.35v1.35h-1.35zM361.6,592.3h1.35v1.35h-1.35zM383.0,602.8h1.35v1.35h-1.35zM374.6,598.1h1.35v1.35h-1.35zM382.5,601.9h1.35v1.35h-1.35zM373.0,598.8h1.35v1.35h-1.35zM383.2,597.3h1.35v1.35h-1.35zM338.5,572.4h1.35v1.35h-1.35zM342.1,564.3h1.35v1.35h-1.35zM348.1,577.5h1.35v1.35h-1.35zM387.1,596.0h1.35v1.35h-1.35zM347.8,563.9h1.35v1.35h-1.35zM357.4,582.6h1.35v1.35h-1.35zM362.9,592.0h1.35v1.35h-1.35zM370.0,589.1h1.35v1.35h-1.35zM337.0,561.9h1.35v1.35h-1.35zM344.1,572.5h1.35v1.35h-1.35zM358.2,578.7h1.35v1.35h-1.35zM384.5,591.0h1.35v1.35h-1.35zM384.5,596.4h1.35v1.35h-1.35zM369.8,594.4h1.35v1.35h-1.35zM377.8,596.0h1.35v1.35h-1.35zM345.8,578.3h1.35v1.35h-1.35zM347.9,573.9h1.35v1.35h-1.35zM380.1,598.6h1.35v1.35h-1.35zM347.9,570.6h1.35v1.35h-1.35zM362.2,589.8h1.35v1.35h-1.35zM374.6,591.6h1.35v1.35h-1.35zM376.3,598.5h1.35v1.35h-1.35zM377.9,592.2h1.35v1.35h-1.35zM363.1,591.0h1.35v1.35h-1.35zM363.8,582.6h1.35v1.35h-1.35zM342.1,567.8h1.35v1.35h-1.35zM338.6,559.0h1.35v1.35h-1.35zM346.6,572.8h1.35v1.35h-1.35zM364.5,590.6h1.35v1.35h-1.35zM364.8,586.0h1.35v1.35h-1.35zM365.5,587.7h1.35v1.35h-1.35zM348.4,575.6h1.35v1.35h-1.35zM365.9,578.8h1.35v1.35h-1.35zM372.6,594.3h1.35v1.35h-1.35zM387.0,604.0h1.35v1.35h-1.35zM372.7,589.4h1.35v1.35h-1.35zM355.2,587.8h1.35v1.35h-1.35zM344.1,577.5h1.35v1.35h-1.35zM359.1,578.4h1.35v1.35h-1.35zM347.3,576.0h1.35v1.35h-1.35zM342.0,564.6h1.35v1.35h-1.35zM364.0,587.1h1.35v1.35h-1.35zM346.4,565.3h1.35v1.35h-1.35zM340.1,564.5h1.35v1.35h-1.35zM352.3,574.2h1.35v1.35h-1.35zM384.0,595.9h1.35v1.35h-1.35zM386.6,595.3h1.35v1.35h-1.35zM352.7,571.6h1.35v1.35h-1.35zM356.5,581.7h1.35v1.35h-1.35zM382.9,598.1h1.35v1.35h-1.35zM352.8,577.3h1.35v1.35h-1.35zM377.6,591.9h1.35v1.35h-1.35zM372.8,592.0h1.35v1.35h-1.35zM387.5,603.8h1.35v1.35h-1.35zM382.3,598.3h1.35v1.35h-1.35zM372.6,600.7h1.35v1.35h-1.35zM343.4,566.5h1.35v1.35h-1.35zM357.0,577.5h1.35v1.35h-1.35zM339.0,555.3h1.35v1.35h-1.35zM381.1,591.1h1.35v1.35h-1.35zM375.2,600.2h1.35v1.35h-1.35zM375.3,595.9h1.35v1.35h-1.35zM371.1,592.7h1.35v1.35h-1.35zM375.9,592.3h1.35v1.35h-1.35zM353.6,579.6h1.35v1.35h-1.35zM377.1,598.8h1.35v1.35h-1.35zM351.3,583.6h1.35v1.35h-1.35zM386.1,595.4h1.35v1.35h-1.35zM376.7,592.8h1.35v1.35h-1.35zM384.8,602.0h1.35v1.35h-1.35zM348.1,582.1h1.35v1.35h-1.35zM370.6,589.1h1.35v1.35h-1.35zM358.2,574.6h1.35v1.35h-1.35zM340.9,571.9h1.35v1.35h-1.35zM368.8,587.5h1.35v1.35h-1.35zM386.0,597.4h1.35v1.35h-1.35zM350.6,576.4h1.35v1.35h-1.35zM368.5,592.6h1.35v1.35h-1.35zM361.7,590.9h1.35v1.35h-1.35zM355.4,575.7h1.35v1.35h-1.35zM363.9,586.7h1.35v1.35h-1.35zM372.5,593.5h1.35v1.35h-1.35zM346.4,573.6h1.35v1.35h-1.35zM357.2,583.6h1.35v1.35h-1.35zM351.6,574.7h1.35v1.35h-1.35zM341.5,559.9h1.35v1.35h-1.35zM345.5,576.9h1.35v1.35h-1.35zM374.3,597.1h1.35v1.35h-1.35zM384.8,604.5h1.35v1.35h-1.35zM368.4,581.9h1.35v1.35h-1.35zM369.0,583.5h1.35v1.35h-1.35zM364.7,585.5h1.35v1.35h-1.35zM341.9,575.5h1.35v1.35h-1.35zM340.4,573.5h1.35v1.35h-1.35zM350.4,579.0h1.35v1.35h-1.35zM337.6,549.0h1.35v1.35h-1.35zM362.1,590.6h1.35v1.35h-1.35zM346.3,574.3h1.35v1.35h-1.35zM365.9,582.5h1.35v1.35h-1.35zM348.8,568.0h1.35v1.35h-1.35zM368.6,592.4h1.35v1.35h-1.35zM365.4,582.4h1.35v1.35h-1.35zM347.3,574.7h1.35v1.35h-1.35zM362.8,590.2h1.35v1.35h-1.35zM368.6,593.8h1.35v1.35h-1.35zM387.0,605.4h1.35v1.35h-1.35zM373.3,592.8h1.35v1.35h-1.35zM365.5,579.8h1.35v1.35h-1.35zM348.9,573.0h1.35v1.35h-1.35zM346.8,579.3h1.35v1.35h-1.35zM380.6,596.5h1.35v1.35h-1.35zM353.3,580.2h1.35v1.35h-1.35zM358.2,581.3h1.35v1.35h-1.35zM366.3,589.2h1.35v1.35h-1.35zM371.2,598.8h1.35v1.35h-1.35zM366.3,588.4h1.35v1.35h-1.35zM367.2,589.5h1.35v1.35h-1.35zM362.0,586.0h1.35v1.35h-1.35zM346.1,574.1h1.35v1.35h-1.35zM386.8,601.2h1.35v1.35h-1.35zM343.4,570.6h1.35v1.35h-1.35zM357.6,580.2h1.35v1.35h-1.35zM359.3,589.2h1.35v1.35h-1.35zM362.1,592.5h1.35v1.35h-1.35zM343.0,576.4h1.35v1.35h-1.35zM358.7,572.7h1.35v1.35h-1.35zM337.6,567.4h1.35v1.35h-1.35zM385.5,600.2h1.35v1.35h-1.35zM356.2,585.1h1.35v1.35h-1.35zM342.6,570.7h1.35v1.35h-1.35zM354.4,585.1h1.35v1.35h-1.35zM376.9,596.6h1.35v1.35h-1.35zM381.3,602.4h1.35v1.35h-1.35zM351.9,584.4h1.35v1.35h-1.35zM383.0,603.1h1.35v1.35h-1.35zM380.5,595.4h1.35v1.35h-1.35zM345.3,574.0h1.35v1.35h-1.35zM385.0,587.4h1.35v1.35h-1.35zM344.2,570.1h1.35v1.35h-1.35zM367.7,589.5h1.35v1.35h-1.35zM370.7,591.4h1.35v1.35h-1.35zM377.5,600.7h1.35v1.35h-1.35zM368.4,586.4h1.35v1.35h-1.35zM373.9,590.4h1.35v1.35h-1.35zM380.2,596.0h1.35v1.35h-1.35zM382.1,603.9h1.35v1.35h-1.35zM351.0,575.4h1.35v1.35h-1.35zM358.1,586.0h1.35v1.35h-1.35zM347.8,579.2h1.35v1.35h-1.35zM353.3,573.5h1.35v1.35h-1.35zM374.6,590.0h1.35v1.35h-1.35zM360.5,588.9h1.35v1.35h-1.35zM372.8,595.8h1.35v1.35h-1.35zM381.6,597.4h1.35v1.35h-1.35zM361.8,582.4h1.35v1.35h-1.35zM349.4,579.6h1.35v1.35h-1.35zM382.3,599.8h1.35v1.35h-1.35zM366.2,593.2h1.35v1.35h-1.35zM376.7,596.4h1.35v1.35h-1.35zM374.2,589.4h1.35v1.35h-1.35zM374.6,597.3h1.35v1.35h-1.35zM339.8,575.9h1.35v1.35h-1.35zM342.1,571.3h1.35v1.35h-1.35zM372.9,596.4h1.35v1.35h-1.35zM374.2,600.9h1.35v1.35h-1.35zM337.5,554.7h1.35v1.35h-1.35zM354.4,579.0h1.35v1.35h-1.35zM370.6,597.0h1.35v1.35h-1.35zM376.5,591.4h1.35v1.35h-1.35zM364.9,594.0h1.35v1.35h-1.35zM369.8,592.9h1.35v1.35h-1.35zM346.4,571.6h1.35v1.35h-1.35zM365.6,593.3h1.35v1.35h-1.35zM355.4,579.2h1.35v1.35h-1.35zM360.9,583.5h1.35v1.35h-1.35zM366.7,588.7h1.35v1.35h-1.35zM354.7,584.8h1.35v1.35h-1.35zM358.2,587.2h1.35v1.35h-1.35zM353.0,573.1h1.35v1.35h-1.35zM360.0,581.8h1.35v1.35h-1.35zM376.6,588.7h1.35v1.35h-1.35zM379.3,599.9h1.35v1.35h-1.35zM342.1,566.4h1.35v1.35h-1.35zM350.4,582.9h1.35v1.35h-1.35zM356.3,588.3h1.35v1.35h-1.35zM350.7,571.5h1.35v1.35h-1.35zM378.2,601.8h1.35v1.35h-1.35zM349.8,579.6h1.35v1.35h-1.35zM414.3,598.9h1.35v1.35h-1.35zM417.7,604.5h1.35v1.35h-1.35zM433.3,596.7h1.35v1.35h-1.35zM435.5,596.3h1.35v1.35h-1.35zM417.2,598.7h1.35v1.35h-1.35zM412.5,607.8h1.35v1.35h-1.35zM412.0,603.3h1.35v1.35h-1.35zM437.8,589.0h1.35v1.35h-1.35zM416.7,604.7h1.35v1.35h-1.35zM411.9,610.2h1.35v1.35h-1.35zM438.2,596.9h1.35v1.35h-1.35zM409.6,607.7h1.35v1.35h-1.35zM434.6,602.5h1.35v1.35h-1.35zM417.3,606.6h1.35v1.35h-1.35zM421.0,603.5h1.35v1.35h-1.35zM410.5,606.6h1.35v1.35h-1.35zM444.8,583.4h1.35v1.35h-1.35zM435.1,597.1h1.35v1.35h-1.35zM442.7,593.7h1.35v1.35h-1.35zM412.5,601.7h1.35v1.35h-1.35zM439.3,582.1h1.35v1.35h-1.35zM426.8,598.8h1.35v1.35h-1.35zM425.8,595.5h1.35v1.35h-1.35zM422.1,600.8h1.35v1.35h-1.35zM416.7,603.4h1.35v1.35h-1.35zM445.8,591.8h1.35v1.35h-1.35zM417.5,601.3h1.35v1.35h-1.35zM410.3,606.3h1.35v1.35h-1.35zM419.6,605.7h1.35v1.35h-1.35zM412.0,607.2h1.35v1.35h-1.35zM409.0,605.2h1.35v1.35h-1.35zM412.9,605.5h1.35v1.35h-1.35zM440.1,587.9h1.35v1.35h-1.35zM425.7,600.0h1.35v1.35h-1.35zM410.7,606.3h1.35v1.35h-1.35zM434.2,594.9h1.35v1.35h-1.35zM434.5,594.3h1.35v1.35h-1.35zM445.9,591.7h1.35v1.35h-1.35zM409.3,605.8h1.35v1.35h-1.35zM442.9,591.0h1.35v1.35h-1.35zM441.0,589.4h1.35v1.35h-1.35zM418.9,600.6h1.35v1.35h-1.35zM428.8,596.2h1.35v1.35h-1.35zM433.3,603.5h1.35v1.35h-1.35zM413.6,603.5h1.35v1.35h-1.35zM421.1,601.4h1.35v1.35h-1.35zM430.9,595.1h1.35v1.35h-1.35zM416.9,597.8h1.35v1.35h-1.35zM427.1,599.0h1.35v1.35h-1.35zM414.1,604.9h1.35v1.35h-1.35zM432.9,594.8h1.35v1.35h-1.35zM409.4,604.7h1.35v1.35h-1.35zM430.8,597.9h1.35v1.35h-1.35zM410.1,605.1h1.35v1.35h-1.35zM420.4,600.6h1.35v1.35h-1.35zM432.1,600.1h1.35v1.35h-1.35zM417.7,600.9h1.35v1.35h-1.35zM428.7,599.0h1.35v1.35h-1.35zM418.9,603.2h1.35v1.35h-1.35zM438.1,587.5h1.35v1.35h-1.35zM410.0,605.8h1.35v1.35h-1.35zM445.7,588.6h1.35v1.35h-1.35zM414.7,604.0h1.35v1.35h-1.35zM412.9,605.9h1.35v1.35h-1.35zM431.6,596.8h1.35v1.35h-1.35zM409.1,610.4h1.35v1.35h-1.35zM431.3,598.7h1.35v1.35h-1.35zM408.6,605.9h1.35v1.35h-1.35zM411.9,607.9h1.35v1.35h-1.35zM412.3,603.3h1.35v1.35h-1.35zM424.0,602.0h1.35v1.35h-1.35zM410.5,607.8h1.35v1.35h-1.35zM419.0,601.6h1.35v1.35h-1.35zM411.9,609.0h1.35v1.35h-1.35zM415.8,599.9h1.35v1.35h-1.35zM435.7,593.2h1.35v1.35h-1.35zM414.9,607.4h1.35v1.35h-1.35zM416.2,608.0h1.35v1.35h-1.35zM422.5,603.7h1.35v1.35h-1.35zM421.3,602.1h1.35v1.35h-1.35zM418.8,604.4h1.35v1.35h-1.35zM421.4,599.8h1.35v1.35h-1.35zM434.6,591.7h1.35v1.35h-1.35zM445.8,584.3h1.35v1.35h-1.35zM431.2,600.0h1.35v1.35h-1.35zM411.5,604.5h1.35v1.35h-1.35zM432.9,596.7h1.35v1.35h-1.35zM441.6,587.9h1.35v1.35h-1.35zM409.9,603.9h1.35v1.35h-1.35zM430.7,598.4h1.35v1.35h-1.35zM421.8,599.2h1.35v1.35h-1.35zM419.1,605.0h1.35v1.35h-1.35zM417.2,598.6h1.35v1.35h-1.35zM426.0,602.6h1.35v1.35h-1.35zM433.3,599.1h1.35v1.35h-1.35zM446.2,585.1h1.35v1.35h-1.35zM422.3,600.7h1.35v1.35h-1.35zM429.9,597.7h1.35v1.35h-1.35zM414.2,604.2h1.35v1.35h-1.35zM440.5,591.3h1.35v1.35h-1.35zM424.1,599.1h1.35v1.35h-1.35zM412.4,604.6h1.35v1.35h-1.35zM408.8,605.7h1.35v1.35h-1.35zM408.6,605.4h1.35v1.35h-1.35zM410.0,605.8h1.35v1.35h-1.35zM418.3,600.4h1.35v1.35h-1.35zM429.4,596.9h1.35v1.35h-1.35zM412.3,602.5h1.35v1.35h-1.35zM413.9,607.7h1.35v1.35h-1.35zM443.7,592.7h1.35v1.35h-1.35zM443.4,581.2h1.35v1.35h-1.35zM444.7,591.9h1.35v1.35h-1.35zM412.1,608.7h1.35v1.35h-1.35zM410.2,604.9h1.35v1.35h-1.35zM433.1,601.0h1.35v1.35h-1.35zM414.0,605.6h1.35v1.35h-1.35zM423.1,604.0h1.35v1.35h-1.35zM416.1,602.5h1.35v1.35h-1.35zM416.5,603.8h1.35v1.35h-1.35zM442.1,596.4h1.35v1.35h-1.35zM428.6,602.7h1.35v1.35h-1.35zM445.6,594.3h1.35v1.35h-1.35zM421.4,604.0h1.35v1.35h-1.35zM408.9,603.8h1.35v1.35h-1.35zM441.3,594.8h1.35v1.35h-1.35zM410.1,602.0h1.35v1.35h-1.35zM439.2,593.1h1.35v1.35h-1.35zM430.8,597.6h1.35v1.35h-1.35zM413.8,603.1h1.35v1.35h-1.35zM431.7,595.2h1.35v1.35h-1.35zM418.3,601.4h1.35v1.35h-1.35zM414.1,603.8h1.35v1.35h-1.35zM419.1,600.1h1.35v1.35h-1.35zM409.1,605.8h1.35v1.35h-1.35zM412.5,605.7h1.35v1.35h-1.35zM426.2,600.4h1.35v1.35h-1.35zM408.8,607.8h1.35v1.35h-1.35zM413.4,607.8h1.35v1.35h-1.35zM438.9,588.8h1.35v1.35h-1.35zM409.9,601.8h1.35v1.35h-1.35zM446.3,590.9h1.35v1.35h-1.35zM413.2,605.9h1.35v1.35h-1.35zM445.0,589.9h1.35v1.35h-1.35zM419.2,603.3h1.35v1.35h-1.35zM412.8,599.0h1.35v1.35h-1.35zM436.8,592.6h1.35v1.35h-1.35zM418.9,602.5h1.35v1.35h-1.35zM417.7,601.8h1.35v1.35h-1.35zM412.1,605.2h1.35v1.35h-1.35zM444.7,587.0h1.35v1.35h-1.35zM429.0,598.1h1.35v1.35h-1.35zM408.9,607.8h1.35v1.35h-1.35zM433.3,598.1h1.35v1.35h-1.35zM408.4,607.5h1.35v1.35h-1.35zM420.4,605.9h1.35v1.35h-1.35zM407.3,606.5h1.35v1.35h-1.35zM417.4,601.7h1.35v1.35h-1.35zM410.7,605.5h1.35v1.35h-1.35zM413.1,602.5h1.35v1.35h-1.35zM430.2,598.8h1.35v1.35h-1.35zM416.4,604.7h1.35v1.35h-1.35zM427.5,600.2h1.35v1.35h-1.35zM410.8,607.0h1.35v1.35h-1.35zM434.7,591.9h1.35v1.35h-1.35zM418.5,604.8h1.35v1.35h-1.35zM427.6,603.4h1.35v1.35h-1.35zM411.1,607.1h1.35v1.35h-1.35zM411.8,608.1h1.35v1.35h-1.35zM410.2,604.9h1.35v1.35h-1.35zM409.3,605.3h1.35v1.35h-1.35zM428.4,600.6h1.35v1.35h-1.35zM443.7,589.6h1.35v1.35h-1.35zM413.6,604.3h1.35v1.35h-1.35zM419.6,605.1h1.35v1.35h-1.35zM432.4,596.0h1.35v1.35h-1.35zM427.1,598.5h1.35v1.35h-1.35zM431.4,596.9h1.35v1.35h-1.35zM431.7,600.9h1.35v1.35h-1.35zM415.0,604.2h1.35v1.35h-1.35zM418.7,597.7h1.35v1.35h-1.35zM409.4,603.0h1.35v1.35h-1.35zM423.6,597.6h1.35v1.35h-1.35zM419.7,605.5h1.35v1.35h-1.35zM419.0,606.8h1.35v1.35h-1.35zM417.7,606.3h1.35v1.35h-1.35zM423.0,600.7h1.35v1.35h-1.35zM414.7,605.3h1.35v1.35h-1.35zM418.4,600.6h1.35v1.35h-1.35zM423.8,597.1h1.35v1.35h-1.35zM415.4,604.2h1.35v1.35h-1.35zM418.8,605.3h1.35v1.35h-1.35zM430.9,598.9h1.35v1.35h-1.35zM441.1,588.0h1.35v1.35h-1.35zM419.6,601.0h1.35v1.35h-1.35zM411.5,605.2h1.35v1.35h-1.35zM435.8,590.9h1.35v1.35h-1.35zM432.9,596.9h1.35v1.35h-1.35zM422.1,599.2h1.35v1.35h-1.35zM419.7,600.5h1.35v1.35h-1.35zM413.9,606.5h1.35v1.35h-1.35zM431.4,599.3h1.35v1.35h-1.35zM415.7,607.6h1.35v1.35h-1.35zM442.5,586.3h1.35v1.35h-1.35zM408.1,607.0h1.35v1.35h-1.35zM416.7,603.3h1.35v1.35h-1.35zM443.2,597.3h1.35v1.35h-1.35zM408.9,609.7h1.35v1.35h-1.35zM420.3,602.2h1.35v1.35h-1.35zM411.1,604.2h1.35v1.35h-1.35zM428.8,592.1h1.35v1.35h-1.35zM418.2,603.6h1.35v1.35h-1.35zM430.3,597.1h1.35v1.35h-1.35zM413.8,605.8h1.35v1.35h-1.35zM443.7,591.5h1.35v1.35h-1.35zM414.3,607.3h1.35v1.35h-1.35zM411.4,605.0h1.35v1.35h-1.35zM420.4,603.5h1.35v1.35h-1.35zM412.1,602.9h1.35v1.35h-1.35zM411.5,605.5h1.35v1.35h-1.35zM409.5,605.1h1.35v1.35h-1.35zM416.7,603.6h1.35v1.35h-1.35zM412.7,606.3h1.35v1.35h-1.35zM444.3,584.0h1.35v1.35h-1.35zM430.2,600.2h1.35v1.35h-1.35zM408.9,607.2h1.35v1.35h-1.35zM438.3,593.8h1.35v1.35h-1.35zM409.4,602.6h1.35v1.35h-1.35zM433.6,594.5h1.35v1.35h-1.35zM432.3,599.6h1.35v1.35h-1.35zM409.4,606.3h1.35v1.35h-1.35zM415.8,602.7h1.35v1.35h-1.35zM412.6,602.8h1.35v1.35h-1.35zM412.4,606.8h1.35v1.35h-1.35zM425.7,600.0h1.35v1.35h-1.35zM428.4,601.1h1.35v1.35h-1.35zM414.6,598.8h1.35v1.35h-1.35zM415.3,606.6h1.35v1.35h-1.35zM441.4,592.3h1.35v1.35h-1.35zM416.9,605.6h1.35v1.35h-1.35zM414.8,605.8h1.35v1.35h-1.35zM409.0,605.1h1.35v1.35h-1.35zM409.5,604.6h1.35v1.35h-1.35zM418.2,605.6h1.35v1.35h-1.35zM431.9,604.0h1.35v1.35h-1.35zM414.1,603.9h1.35v1.35h-1.35zM424.2,603.9h1.35v1.35h-1.35zM417.5,607.3h1.35v1.35h-1.35zM413.7,604.3h1.35v1.35h-1.35zM414.7,604.2h1.35v1.35h-1.35zM437.3,592.8h1.35v1.35h-1.35zM446.5,589.2h1.35v1.35h-1.35zM416.4,603.8h1.35v1.35h-1.35zM412.0,605.7h1.35v1.35h-1.35zM419.3,602.9h1.35v1.35h-1.35zM423.1,601.4h1.35v1.35h-1.35zM436.9,592.3h1.35v1.35h-1.35zM441.1,585.5h1.35v1.35h-1.35zM437.3,594.0h1.35v1.35h-1.35zM409.0,606.0h1.35v1.35h-1.35zM434.5,597.6h1.35v1.35h-1.35zM408.9,606.0h1.35v1.35h-1.35zM410.9,602.9h1.35v1.35h-1.35zM411.4,608.3h1.35v1.35h-1.35zM409.8,604.0h1.35v1.35h-1.35zM431.0,598.6h1.35v1.35h-1.35zM410.5,603.3h1.35v1.35h-1.35zM416.2,606.1h1.35v1.35h-1.35zM410.0,607.4h1.35v1.35h-1.35zM415.5,605.8h1.35v1.35h-1.35zM433.6,594.0h1.35v1.35h-1.35zM409.6,606.8h1.35v1.35h-1.35zM423.3,600.1h1.35v1.35h-1.35zM417.0,604.2h1.35v1.35h-1.35zM425.2,601.2h1.35v1.35h-1.35zM421.3,603.3h1.35v1.35h-1.35zM431.4,597.3h1.35v1.35h-1.35zM436.7,593.4h1.35v1.35h-1.35zM424.1,602.8h1.35v1.35h-1.35zM427.2,600.2h1.35v1.35h-1.35zM413.8,604.7h1.35v1.35h-1.35zM414.2,606.2h1.35v1.35h-1.35zM414.1,606.5h1.35v1.35h-1.35zM411.0,609.0h1.35v1.35h-1.35zM420.8,600.3h1.35v1.35h-1.35zM442.6,591.5h1.35v1.35h-1.35zM410.1,605.4h1.35v1.35h-1.35zM438.3,595.3h1.35v1.35h-1.35zM426.8,599.5h1.35v1.35h-1.35zM441.8,589.8h1.35v1.35h-1.35zM432.8,595.0h1.35v1.35h-1.35zM431.9,593.7h1.35v1.35h-1.35zM418.4,603.6h1.35v1.35h-1.35zM415.3,607.2h1.35v1.35h-1.35zM429.4,597.1h1.35v1.35h-1.35zM423.7,601.6h1.35v1.35h-1.35zM418.9,605.7h1.35v1.35h-1.35zM415.2,603.1h1.35v1.35h-1.35zM419.5,598.2h1.35v1.35h-1.35zM432.9,591.8h1.35v1.35h-1.35zM412.8,602.3h1.35v1.35h-1.35zM416.7,602.0h1.35v1.35h-1.35zM431.1,596.3h1.35v1.35h-1.35zM430.1,594.8h1.35v1.35h-1.35zM408.9,606.4h1.35v1.35h-1.35zM409.1,607.4h1.35v1.35h-1.35zM440.8,586.5h1.35v1.35h-1.35zM409.7,606.6h1.35v1.35h-1.35zM423.9,600.7h1.35v1.35h-1.35zM438.7,589.0h1.35v1.35h-1.35zM421.9,602.3h1.35v1.35h-1.35zM414.3,603.1h1.35v1.35h-1.35zM411.6,604.6h1.35v1.35h-1.35zM432.8,598.2h1.35v1.35h-1.35zM409.7,605.9h1.35v1.35h-1.35zM416.2,600.5h1.35v1.35h-1.35zM419.1,601.6h1.35v1.35h-1.35zM408.9,607.6h1.35v1.35h-1.35zM433.2,599.8h1.35v1.35h-1.35zM432.9,589.0h1.35v1.35h-1.35zM445.9,590.7h1.35v1.35h-1.35zM419.5,604.6h1.35v1.35h-1.35zM413.4,605.5h1.35v1.35h-1.35zM409.4,605.2h1.35v1.35h-1.35zM426.8,604.9h1.35v1.35h-1.35zM434.1,595.1h1.35v1.35h-1.35zM410.1,606.1h1.35v1.35h-1.35zM427.2,601.5h1.35v1.35h-1.35zM437.9,598.8h1.35v1.35h-1.35zM412.9,602.7h1.35v1.35h-1.35zM434.3,598.5h1.35v1.35h-1.35zM434.4,593.6h1.35v1.35h-1.35zM410.6,603.0h1.35v1.35h-1.35zM409.5,608.2h1.35v1.35h-1.35zM409.2,606.2h1.35v1.35h-1.35zM412.8,602.0h1.35v1.35h-1.35zM416.0,602.8h1.35v1.35h-1.35zM414.4,604.1h1.35v1.35h-1.35zM442.6,586.6h1.35v1.35h-1.35zM414.8,607.1h1.35v1.35h-1.35zM427.8,598.8h1.35v1.35h-1.35zM439.4,591.6h1.35v1.35h-1.35zM415.8,603.6h1.35v1.35h-1.35zM411.1,604.2h1.35v1.35h-1.35zM445.7,593.5h1.35v1.35h-1.35zM441.1,589.3h1.35v1.35h-1.35zM426.7,594.8h1.35v1.35h-1.35zM414.9,605.0h1.35v1.35h-1.35zM427.0,596.5h1.35v1.35h-1.35zM435.8,594.1h1.35v1.35h-1.35zM412.9,602.5h1.35v1.35h-1.35zM409.4,607.3h1.35v1.35h-1.35zM428.3,599.3h1.35v1.35h-1.35zM412.1,600.8h1.35v1.35h-1.35zM409.1,604.0h1.35v1.35h-1.35zM420.4,606.1h1.35v1.35h-1.35zM429.9,597.3h1.35v1.35h-1.35zM409.8,605.2h1.35v1.35h-1.35zM412.0,600.9h1.35v1.35h-1.35zM409.7,606.6h1.35v1.35h-1.35zM432.8,599.1h1.35v1.35h-1.35zM409.6,607.4h1.35v1.35h-1.35zM421.5,603.0h1.35v1.35h-1.35zM423.6,601.8h1.35v1.35h-1.35zM409.4,606.9h1.35v1.35h-1.35zM417.2,603.1h1.35v1.35h-1.35zM410.3,604.9h1.35v1.35h-1.35zM422.4,602.0h1.35v1.35h-1.35zM444.9,591.4h1.35v1.35h-1.35zM414.5,605.2h1.35v1.35h-1.35zM423.5,600.7h1.35v1.35h-1.35zM420.2,604.6h1.35v1.35h-1.35zM439.6,594.5h1.35v1.35h-1.35zM408.4,606.5h1.35v1.35h-1.35zM431.3,598.2h1.35v1.35h-1.35zM417.9,603.0h1.35v1.35h-1.35zM423.5,600.4h1.35v1.35h-1.35zM426.1,600.1h1.35v1.35h-1.35zM411.1,603.2h1.35v1.35h-1.35zM413.9,602.2h1.35v1.35h-1.35zM410.7,607.6h1.35v1.35h-1.35zM427.5,603.1h1.35v1.35h-1.35zM446.1,597.3h1.35v1.35h-1.35zM409.8,604.2h1.35v1.35h-1.35zM440.7,586.8h1.35v1.35h-1.35zM419.3,605.4h1.35v1.35h-1.35zM410.6,604.3h1.35v1.35h-1.35zM411.1,603.7h1.35v1.35h-1.35zM415.1,609.2h1.35v1.35h-1.35zM407.9,604.1h1.35v1.35h-1.35zM412.3,605.2h1.35v1.35h-1.35zM435.1,599.3h1.35v1.35h-1.35zM427.0,603.9h1.35v1.35h-1.35zM430.5,595.1h1.35v1.35h-1.35zM430.6,595.8h1.35v1.35h-1.35zM445.7,589.7h1.35v1.35h-1.35zM421.7,604.3h1.35v1.35h-1.35zM411.8,606.0h1.35v1.35h-1.35zM438.7,595.3h1.35v1.35h-1.35zM410.1,607.4h1.35v1.35h-1.35zM437.8,599.7h1.35v1.35h-1.35zM445.1,587.3h1.35v1.35h-1.35zM412.9,599.6h1.35v1.35h-1.35zM416.2,606.8h1.35v1.35h-1.35zM427.0,598.8h1.35v1.35h-1.35zM443.2,594.7h1.35v1.35h-1.35zM439.6,589.3h1.35v1.35h-1.35zM440.2,591.8h1.35v1.35h-1.35zM431.4,597.8h1.35v1.35h-1.35zM410.4,605.2h1.35v1.35h-1.35zM443.3,593.7h1.35v1.35h-1.35zM409.3,604.4h1.35v1.35h-1.35zM428.0,600.8h1.35v1.35h-1.35zM421.8,601.7h1.35v1.35h-1.35zM425.3,607.0h1.35v1.35h-1.35zM414.4,603.2h1.35v1.35h-1.35zM431.1,597.0h1.35v1.35h-1.35zM412.5,601.9h1.35v1.35h-1.35zM412.7,604.3h1.35v1.35h-1.35zM429.9,600.8h1.35v1.35h-1.35zM444.5,592.9h1.35v1.35h-1.35zM409.0,605.1h1.35v1.35h-1.35zM418.9,607.4h1.35v1.35h-1.35zM425.3,600.1h1.35v1.35h-1.35zM411.6,605.1h1.35v1.35h-1.35zM436.0,591.9h1.35v1.35h-1.35zM416.1,604.8h1.35v1.35h-1.35zM428.1,601.6h1.35v1.35h-1.35zM422.3,600.5h1.35v1.35h-1.35zM415.6,605.8h1.35v1.35h-1.35zM442.0,597.0h1.35v1.35h-1.35zM411.1,604.4h1.35v1.35h-1.35zM419.8,600.6h1.35v1.35h-1.35zM408.7,603.9h1.35v1.35h-1.35zM413.0,609.1h1.35v1.35h-1.35zM421.0,600.4h1.35v1.35h-1.35zM411.4,607.9h1.35v1.35h-1.35zM408.9,607.3h1.35v1.35h-1.35zM410.1,602.1h1.35v1.35h-1.35zM419.0,602.7h1.35v1.35h-1.35zM416.7,605.4h1.35v1.35h-1.35zM410.1,604.4h1.35v1.35h-1.35zM409.0,602.4h1.35v1.35h-1.35zM435.4,596.0h1.35v1.35h-1.35zM430.7,595.4h1.35v1.35h-1.35zM408.8,606.7h1.35v1.35h-1.35zM422.3,601.2h1.35v1.35h-1.35zM434.7,594.3h1.35v1.35h-1.35zM408.0,603.5h1.35v1.35h-1.35zM433.5,597.0h1.35v1.35h-1.35zM443.0,594.4h1.35v1.35h-1.35zM410.5,606.0h1.35v1.35h-1.35zM440.9,592.2h1.35v1.35h-1.35zM428.4,599.2h1.35v1.35h-1.35zM425.0,605.7h1.35v1.35h-1.35zM413.8,605.6h1.35v1.35h-1.35zM416.2,604.6h1.35v1.35h-1.35zM442.2,592.8h1.35v1.35h-1.35zM431.0,596.8h1.35v1.35h-1.35zM427.2,596.5h1.35v1.35h-1.35zM427.7,600.0h1.35v1.35h-1.35zM423.6,597.2h1.35v1.35h-1.35zM410.3,606.7h1.35v1.35h-1.35zM426.6,593.7h1.35v1.35h-1.35zM420.5,602.2h1.35v1.35h-1.35zM411.0,601.9h1.35v1.35h-1.35zM410.4,604.3h1.35v1.35h-1.35zM414.3,605.2h1.35v1.35h-1.35zM412.8,609.0h1.35v1.35h-1.35zM430.7,598.5h1.35v1.35h-1.35zM413.6,601.0h1.35v1.35h-1.35zM408.1,606.3h1.35v1.35h-1.35zM445.5,588.1h1.35v1.35h-1.35zM415.4,603.9h1.35v1.35h-1.35zM422.2,598.5h1.35v1.35h-1.35zM410.6,606.6h1.35v1.35h-1.35zM426.8,598.8h1.35v1.35h-1.35zM436.9,596.4h1.35v1.35h-1.35zM428.5,598.0h1.35v1.35h-1.35zM415.6,602.8h1.35v1.35h-1.35zM435.9,598.6h1.35v1.35h-1.35zM409.3,603.8h1.35v1.35h-1.35zM423.2,596.9h1.35v1.35h-1.35zM420.1,605.5h1.35v1.35h-1.35zM438.7,596.3h1.35v1.35h-1.35zM432.6,599.0h1.35v1.35h-1.35zM420.3,601.7h1.35v1.35h-1.35zM411.7,603.8h1.35v1.35h-1.35zM409.2,608.2h1.35v1.35h-1.35zM410.7,606.9h1.35v1.35h-1.35zM440.4,595.7h1.35v1.35h-1.35zM412.1,602.8h1.35v1.35h-1.35zM426.4,597.8h1.35v1.35h-1.35zM425.6,601.1h1.35v1.35h-1.35zM410.0,607.6h1.35v1.35h-1.35zM444.1,593.7h1.35v1.35h-1.35zM426.4,600.0h1.35v1.35h-1.35zM408.6,607.3h1.35v1.35h-1.35zM445.5,582.1h1.35v1.35h-1.35zM410.9,601.6h1.35v1.35h-1.35zM416.1,601.1h1.35v1.35h-1.35zM426.3,601.6h1.35v1.35h-1.35zM418.0,602.9h1.35v1.35h-1.35zM438.5,597.9h1.35v1.35h-1.35zM408.3,605.2h1.35v1.35h-1.35zM413.1,604.2h1.35v1.35h-1.35zM438.0,595.2h1.35v1.35h-1.35zM412.3,605.9h1.35v1.35h-1.35zM409.2,605.1h1.35v1.35h-1.35zM413.6,605.1h1.35v1.35h-1.35zM409.8,604.4h1.35v1.35h-1.35zM442.0,585.0h1.35v1.35h-1.35zM410.9,606.4h1.35v1.35h-1.35zM425.5,599.8h1.35v1.35h-1.35zM409.3,603.1h1.35v1.35h-1.35zM421.3,601.7h1.35v1.35h-1.35zM409.0,605.9h1.35v1.35h-1.35zM409.4,603.1h1.35v1.35h-1.35zM411.1,602.8h1.35v1.35h-1.35zM426.2,601.3h1.35v1.35h-1.35zM427.6,601.4h1.35v1.35h-1.35zM421.6,598.6h1.35v1.35h-1.35zM410.2,605.2h1.35v1.35h-1.35zM410.4,604.1h1.35v1.35h-1.35zM413.5,603.8h1.35v1.35h-1.35zM429.2,601.3h1.35v1.35h-1.35zM415.2,605.6h1.35v1.35h-1.35zM439.4,596.8h1.35v1.35h-1.35zM431.8,600.5h1.35v1.35h-1.35zM416.6,603.1h1.35v1.35h-1.35zM429.9,598.2h1.35v1.35h-1.35zM422.1,602.9h1.35v1.35h-1.35zM424.4,604.4h1.35v1.35h-1.35zM418.4,599.7h1.35v1.35h-1.35zM425.9,595.8h1.35v1.35h-1.35zM408.8,606.6h1.35v1.35h-1.35zM411.1,603.5h1.35v1.35h-1.35zM410.5,607.4h1.35v1.35h-1.35zM410.3,606.9h1.35v1.35h-1.35zM440.3,593.3h1.35v1.35h-1.35zM413.6,603.3h1.35v1.35h-1.35zM444.9,587.4h1.35v1.35h-1.35zM433.9,599.1h1.35v1.35h-1.35zM415.1,602.6h1.35v1.35h-1.35zM415.8,602.5h1.35v1.35h-1.35zM421.3,599.1h1.35v1.35h-1.35zM437.1,602.0h1.35v1.35h-1.35zM408.1,606.4h1.35v1.35h-1.35zM434.1,593.9h1.35v1.35h-1.35zM417.9,603.9h1.35v1.35h-1.35zM410.6,603.8h1.35v1.35h-1.35zM409.7,605.9h1.35v1.35h-1.35zM409.3,605.3h1.35v1.35h-1.35zM411.0,605.0h1.35v1.35h-1.35zM423.1,601.8h1.35v1.35h-1.35zM411.4,602.4h1.35v1.35h-1.35zM420.5,602.2h1.35v1.35h-1.35zM431.4,595.9h1.35v1.35h-1.35zM409.5,609.1h1.35v1.35h-1.35zM430.8,594.8h1.35v1.35h-1.35zM419.9,604.2h1.35v1.35h-1.35zM411.1,605.0h1.35v1.35h-1.35zM408.1,603.7h1.35v1.35h-1.35zM413.7,601.6h1.35v1.35h-1.35zM409.0,605.5h1.35v1.35h-1.35zM415.5,602.4h1.35v1.35h-1.35zM439.4,593.4h1.35v1.35h-1.35zM443.0,583.3h1.35v1.35h-1.35zM437.4,591.3h1.35v1.35h-1.35zM441.8,590.5h1.35v1.35h-1.35zM409.8,604.0h1.35v1.35h-1.35zM424.9,601.6h1.35v1.35h-1.35zM408.8,601.7h1.35v1.35h-1.35zM431.4,599.0h1.35v1.35h-1.35zM426.4,598.7h1.35v1.35h-1.35zM410.7,602.9h1.35v1.35h-1.35zM436.6,594.7h1.35v1.35h-1.35zM409.7,605.0h1.35v1.35h-1.35zM440.8,594.3h1.35v1.35h-1.35zM444.2,588.5h1.35v1.35h-1.35zM420.8,600.7h1.35v1.35h-1.35zM432.5,597.6h1.35v1.35h-1.35zM418.2,602.4h1.35v1.35h-1.35zM417.3,605.1h1.35v1.35h-1.35zM421.1,602.8h1.35v1.35h-1.35zM412.5,607.2h1.35v1.35h-1.35zM430.2,601.2h1.35v1.35h-1.35zM434.8,596.9h1.35v1.35h-1.35zM427.6,599.1h1.35v1.35h-1.35zM422.3,602.4h1.35v1.35h-1.35zM422.8,596.8h1.35v1.35h-1.35zM409.9,604.8h1.35v1.35h-1.35zM436.1,591.4h1.35v1.35h-1.35zM409.6,607.4h1.35v1.35h-1.35zM422.2,600.7h1.35v1.35h-1.35zM411.4,603.4h1.35v1.35h-1.35zM413.5,604.3h1.35v1.35h-1.35zM424.6,604.0h1.35v1.35h-1.35zM417.5,605.9h1.35v1.35h-1.35zM420.4,604.4h1.35v1.35h-1.35zM413.8,599.4h1.35v1.35h-1.35zM423.2,600.3h1.35v1.35h-1.35zM414.3,605.4h1.35v1.35h-1.35zM425.4,596.7h1.35v1.35h-1.35zM411.3,607.5h1.35v1.35h-1.35zM415.6,606.2h1.35v1.35h-1.35zM417.1,603.4h1.35v1.35h-1.35zM431.6,597.8h1.35v1.35h-1.35zM428.3,599.1h1.35v1.35h-1.35zM409.4,604.2h1.35v1.35h-1.35zM440.2,590.5h1.35v1.35h-1.35zM408.7,605.7h1.35v1.35h-1.35zM421.1,599.6h1.35v1.35h-1.35zM425.4,603.7h1.35v1.35h-1.35zM433.9,592.2h1.35v1.35h-1.35zM412.1,608.4h1.35v1.35h-1.35zM412.9,601.9h1.35v1.35h-1.35zM409.0,601.1h1.35v1.35h-1.35zM442.0,593.7h1.35v1.35h-1.35zM439.8,591.6h1.35v1.35h-1.35zM420.6,605.2h1.35v1.35h-1.35zM411.2,607.9h1.35v1.35h-1.35zM438.6,588.5h1.35v1.35h-1.35zM417.5,606.4h1.35v1.35h-1.35zM433.1,597.7h1.35v1.35h-1.35zM436.0,598.8h1.35v1.35h-1.35zM414.1,600.8h1.35v1.35h-1.35zM418.6,602.7h1.35v1.35h-1.35zM434.2,590.7h1.35v1.35h-1.35zM437.0,600.0h1.35v1.35h-1.35zM410.4,605.1h1.35v1.35h-1.35zM408.8,600.9h1.35v1.35h-1.35zM413.8,608.0h1.35v1.35h-1.35zM434.6,596.8h1.35v1.35h-1.35zM418.8,600.4h1.35v1.35h-1.35zM410.7,605.8h1.35v1.35h-1.35zM425.0,600.7h1.35v1.35h-1.35zM418.1,600.2h1.35v1.35h-1.35zM411.0,604.0h1.35v1.35h-1.35zM410.5,606.5h1.35v1.35h-1.35zM412.7,599.6h1.35v1.35h-1.35zM431.3,596.3h1.35v1.35h-1.35zM422.3,605.7h1.35v1.35h-1.35zM409.7,609.3h1.35v1.35h-1.35zM432.0,597.7h1.35v1.35h-1.35zM420.6,602.4h1.35v1.35h-1.35zM433.9,594.6h1.35v1.35h-1.35zM418.7,600.1h1.35v1.35h-1.35zM409.6,605.2h1.35v1.35h-1.35zM409.4,605.1h1.35v1.35h-1.35zM431.7,599.4h1.35v1.35h-1.35zM433.5,587.0h1.35v1.35h-1.35zM449.5,580.5h1.35v1.35h-1.35zM423.8,600.7h1.35v1.35h-1.35zM452.9,579.7h1.35v1.35h-1.35zM426.3,595.4h1.35v1.35h-1.35zM419.6,594.1h1.35v1.35h-1.35zM455.7,569.0h1.35v1.35h-1.35zM450.8,577.1h1.35v1.35h-1.35zM424.8,595.2h1.35v1.35h-1.35zM428.3,597.7h1.35v1.35h-1.35zM451.7,577.2h1.35v1.35h-1.35zM437.4,595.8h1.35v1.35h-1.35zM442.1,575.9h1.35v1.35h-1.35zM432.7,595.6h1.35v1.35h-1.35zM453.5,577.1h1.35v1.35h-1.35zM440.4,587.4h1.35v1.35h-1.35zM445.0,584.3h1.35v1.35h-1.35zM453.7,577.3h1.35v1.35h-1.35zM452.7,581.1h1.35v1.35h-1.35zM431.1,587.9h1.35v1.35h-1.35zM431.1,584.7h1.35v1.35h-1.35zM445.7,583.0h1.35v1.35h-1.35zM431.5,594.0h1.35v1.35h-1.35zM425.6,594.4h1.35v1.35h-1.35zM429.2,593.6h1.35v1.35h-1.35zM441.8,590.3h1.35v1.35h-1.35zM429.9,594.8h1.35v1.35h-1.35zM436.8,587.8h1.35v1.35h-1.35zM436.9,586.0h1.35v1.35h-1.35zM425.2,595.4h1.35v1.35h-1.35zM443.7,573.6h1.35v1.35h-1.35zM456.6,571.4h1.35v1.35h-1.35zM432.1,586.2h1.35v1.35h-1.35zM446.6,584.3h1.35v1.35h-1.35zM451.9,583.3h1.35v1.35h-1.35zM423.4,592.3h1.35v1.35h-1.35zM434.0,591.7h1.35v1.35h-1.35zM443.6,576.5h1.35v1.35h-1.35zM427.1,599.5h1.35v1.35h-1.35zM440.4,589.4h1.35v1.35h-1.35zM453.2,569.1h1.35v1.35h-1.35zM431.3,592.3h1.35v1.35h-1.35zM449.1,583.5h1.35v1.35h-1.35zM436.9,586.8h1.35v1.35h-1.35zM422.7,589.5h1.35v1.35h-1.35zM448.8,579.3h1.35v1.35h-1.35zM441.4,580.9h1.35v1.35h-1.35zM446.6,590.7h1.35v1.35h-1.35zM447.0,588.3h1.35v1.35h-1.35zM437.3,583.3h1.35v1.35h-1.35zM449.1,586.3h1.35v1.35h-1.35zM451.9,572.5h1.35v1.35h-1.35zM451.6,576.4h1.35v1.35h-1.35zM439.0,589.4h1.35v1.35h-1.35zM440.1,576.5h1.35v1.35h-1.35zM436.6,584.8h1.35v1.35h-1.35zM443.4,576.1h1.35v1.35h-1.35zM429.3,592.1h1.35v1.35h-1.35zM425.0,595.6h1.35v1.35h-1.35zM453.7,581.5h1.35v1.35h-1.35zM450.8,578.6h1.35v1.35h-1.35zM433.2,595.9h1.35v1.35h-1.35zM446.2,574.7h1.35v1.35h-1.35zM449.7,581.5h1.35v1.35h-1.35zM447.2,585.4h1.35v1.35h-1.35zM453.8,574.6h1.35v1.35h-1.35zM422.9,590.2h1.35v1.35h-1.35zM453.8,573.6h1.35v1.35h-1.35zM431.6,596.6h1.35v1.35h-1.35zM451.2,571.5h1.35v1.35h-1.35zM456.9,577.1h1.35v1.35h-1.35zM446.2,581.1h1.35v1.35h-1.35zM436.4,582.9h1.35v1.35h-1.35zM428.6,590.1h1.35v1.35h-1.35zM423.8,593.7h1.35v1.35h-1.35zM425.7,595.8h1.35v1.35h-1.35zM446.4,585.5h1.35v1.35h-1.35zM433.8,591.6h1.35v1.35h-1.35zM428.4,598.4h1.35v1.35h-1.35zM433.8,593.4h1.35v1.35h-1.35zM443.2,582.3h1.35v1.35h-1.35zM435.3,583.4h1.35v1.35h-1.35zM445.0,580.7h1.35v1.35h-1.35zM439.6,590.4h1.35v1.35h-1.35zM449.2,583.4h1.35v1.35h-1.35zM433.6,592.3h1.35v1.35h-1.35zM438.3,577.2h1.35v1.35h-1.35zM456.4,567.3h1.35v1.35h-1.35zM426.7,591.5h1.35v1.35h-1.35zM446.9,583.1h1.35v1.35h-1.35zM445.4,583.9h1.35v1.35h-1.35zM443.6,572.1h1.35v1.35h-1.35zM423.2,595.6h1.35v1.35h-1.35zM440.8,592.3h1.35v1.35h-1.35zM448.8,586.9h1.35v1.35h-1.35zM435.6,595.2h1.35v1.35h-1.35zM444.5,581.3h1.35v1.35h-1.35zM432.0,594.4h1.35v1.35h-1.35zM419.8,597.4h1.35v1.35h-1.35zM431.7,592.9h1.35v1.35h-1.35zM433.1,582.7h1.35v1.35h-1.35zM427.9,592.7h1.35v1.35h-1.35zM444.4,587.8h1.35v1.35h-1.35zM442.5,588.1h1.35v1.35h-1.35zM434.8,593.2h1.35v1.35h-1.35zM426.0,591.7h1.35v1.35h-1.35zM423.0,589.7h1.35v1.35h-1.35zM457.6,568.5h1.35v1.35h-1.35zM423.8,599.5h1.35v1.35h-1.35zM447.9,577.5h1.35v1.35h-1.35zM433.5,588.4h1.35v1.35h-1.35zM455.2,577.2h1.35v1.35h-1.35zM438.1,589.8h1.35v1.35h-1.35zM428.4,594.5h1.35v1.35h-1.35zM425.5,595.5h1.35v1.35h-1.35zM441.0,586.0h1.35v1.35h-1.35zM452.6,580.7h1.35v1.35h-1.35zM426.9,599.2h1.35v1.35h-1.35zM430.5,590.2h1.35v1.35h-1.35zM427.7,596.3h1.35v1.35h-1.35zM434.3,591.5h1.35v1.35h-1.35zM454.9,580.0h1.35v1.35h-1.35zM433.2,595.1h1.35v1.35h-1.35zM425.4,593.8h1.35v1.35h-1.35zM444.7,588.8h1.35v1.35h-1.35zM425.3,593.5h1.35v1.35h-1.35zM444.9,584.8h1.35v1.35h-1.35zM420.0,598.7h1.35v1.35h-1.35zM450.2,581.0h1.35v1.35h-1.35zM422.3,597.0h1.35v1.35h-1.35zM432.0,590.4h1.35v1.35h-1.35zM438.7,588.1h1.35v1.35h-1.35zM432.9,594.4h1.35v1.35h-1.35zM423.9,592.5h1.35v1.35h-1.35zM453.6,571.0h1.35v1.35h-1.35zM431.5,598.4h1.35v1.35h-1.35zM449.3,580.7h1.35v1.35h-1.35zM445.0,589.4h1.35v1.35h-1.35zM438.7,574.8h1.35v1.35h-1.35zM439.2,585.1h1.35v1.35h-1.35zM456.0,576.9h1.35v1.35h-1.35zM437.0,581.0h1.35v1.35h-1.35zM443.5,582.3h1.35v1.35h-1.35zM451.7,569.0h1.35v1.35h-1.35zM435.2,576.2h1.35v1.35h-1.35zM432.8,595.7h1.35v1.35h-1.35zM451.1,572.2h1.35v1.35h-1.35zM423.8,594.9h1.35v1.35h-1.35zM436.5,592.2h1.35v1.35h-1.35zM421.7,584.0h1.35v1.35h-1.35zM450.1,578.0h1.35v1.35h-1.35zM451.7,578.2h1.35v1.35h-1.35zM451.9,575.9h1.35v1.35h-1.35zM434.2,586.5h1.35v1.35h-1.35zM422.1,595.9h1.35v1.35h-1.35zM435.5,589.0h1.35v1.35h-1.35zM429.8,596.4h1.35v1.35h-1.35zM426.9,598.5h1.35v1.35h-1.35zM436.9,597.3h1.35v1.35h-1.35zM423.8,586.9h1.35v1.35h-1.35zM449.2,582.1h1.35v1.35h-1.35zM425.7,594.0h1.35v1.35h-1.35zM440.0,582.0h1.35v1.35h-1.35zM436.0,590.9h1.35v1.35h-1.35zM431.5,595.1h1.35v1.35h-1.35zM445.8,588.0h1.35v1.35h-1.35zM427.4,593.6h1.35v1.35h-1.35zM442.2,576.2h1.35v1.35h-1.35zM457.5,569.5h1.35v1.35h-1.35zM428.4,600.2h1.35v1.35h-1.35zM437.2,585.1h1.35v1.35h-1.35zM429.2,596.3h1.35v1.35h-1.35zM457.3,582.2h1.35v1.35h-1.35zM428.8,598.9h1.35v1.35h-1.35zM435.4,579.8h1.35v1.35h-1.35zM449.3,579.8h1.35v1.35h-1.35zM447.2,585.4h1.35v1.35h-1.35zM455.3,576.5h1.35v1.35h-1.35zM445.4,589.7h1.35v1.35h-1.35zM419.4,593.6h1.35v1.35h-1.35zM445.4,585.8h1.35v1.35h-1.35zM443.9,590.0h1.35v1.35h-1.35zM432.8,578.9h1.35v1.35h-1.35zM426.0,592.0h1.35v1.35h-1.35zM420.2,603.1h1.35v1.35h-1.35zM444.7,588.5h1.35v1.35h-1.35zM419.3,598.3h1.35v1.35h-1.35zM436.3,583.0h1.35v1.35h-1.35zM456.7,553.0h1.35v1.35h-1.35zM424.2,590.3h1.35v1.35h-1.35zM316.2,503.8h1.35v1.35h-1.35zM337.3,503.8h1.35v1.35h-1.35zM349.0,503.8h1.35v1.35h-1.35zM354.7,503.8h1.35v1.35h-1.35zM340.5,510.2h1.35v1.35h-1.35zM350.7,506.6h1.35v1.35h-1.35zM330.0,513.3h1.35v1.35h-1.35zM372.2,512.7h1.35v1.35h-1.35zM350.7,515.9h1.35v1.35h-1.35zM356.4,514.8h1.35v1.35h-1.35zM350.0,527.1h1.35v1.35h-1.35zM322.1,530.9h1.35v1.35h-1.35zM344.8,534.5h1.35v1.35h-1.35zM335.2,540.4h1.35v1.35h-1.35zM341.6,539.3h1.35v1.35h-1.35zM368.0,540.4h1.35v1.35h-1.35zM356.0,543.3h1.35v1.35h-1.35zM356.8,545.0h1.35v1.35h-1.35zM363.3,542.9h1.35v1.35h-1.35zM359.1,549.7h1.35v1.35h-1.35zM372.2,552.4h1.35v1.35h-1.35zM373.9,551.0h1.35v1.35h-1.35zM339.5,553.9h1.35v1.35h-1.35zM337.3,557.3h1.35v1.35h-1.35zM340.5,558.8h1.35v1.35h-1.35zM339.5,561.5h1.35v1.35h-1.35zM354.7,560.3h1.35v1.35h-1.35zM365.3,561.5h1.35v1.35h-1.35zM371.2,559.4h1.35v1.35h-1.35zM336.9,603.8h1.35v1.35h-1.35zM344.3,565.3h1.35v1.35h-1.35zM347.3,569.3h1.35v1.35h-1.35zM351.3,567.3h1.35v1.35h-1.35zM361.3,565.3h1.35v1.35h-1.35zM366.3,570.3h1.35v1.35h-1.35zM377.3,572.3h1.35v1.35h-1.35zM382.3,583.3h1.35v1.35h-1.35zM380.3,602.3h1.35v1.35h-1.35zM466.3,504.0h1.35v1.35h-1.35zM479.8,504.0h1.35v1.35h-1.35zM507.5,504.0h1.35v1.35h-1.35zM464.3,523.2h1.35v1.35h-1.35zM471.2,527.8h1.35v1.35h-1.35zM462.4,530.8h1.35v1.35h-1.35zM457.8,531.9h1.35v1.35h-1.35zM466.3,531.9h1.35v1.35h-1.35zM428.5,530.6h1.35v1.35h-1.35zM456.2,542.3h1.35v1.35h-1.35zM445.1,545.1h1.35v1.35h-1.35zM442.8,547.0h1.35v1.35h-1.35zM466.3,547.9h1.35v1.35h-1.35zM475.1,549.3h1.35v1.35h-1.35zM453.2,553.9h1.35v1.35h-1.35zM474.0,556.7h1.35v1.35h-1.35zM481.6,564.7h1.35v1.35h-1.35zM509.8,563.6h1.35v1.35h-1.35zM435.9,563.1h1.35v1.35h-1.35zM463.6,559.7h1.35v1.35h-1.35zM465.9,575.6h1.35v1.35h-1.35zM457.3,561.3h1.35v1.35h-1.35zM454.3,565.3h1.35v1.35h-1.35zM448.3,570.3h1.35v1.35h-1.35zM459.3,570.3h1.35v1.35h-1.35zM451.3,574.3h1.35v1.35h-1.35zM469.3,567.3h1.35v1.35h-1.35zM446.3,560.3h1.35v1.35h-1.35zM443.3,552.3h1.35v1.35h-1.35zM461.3,555.3h1.35v1.35h-1.35z" fill="#0d0d0d"/>
<path d="M413.5,606.6h1.35v1.35h-1.35zM390.1,606.3h1.35v1.35h-1.35zM397.5,607.8h1.35v1.35h-1.35zM403.0,606.7h1.35v1.35h-1.35zM381.9,605.7h1.35v1.35h-1.35zM398.3,608.0h1.35v1.35h-1.35zM421.0,606.4h1.35v1.35h-1.35zM425.4,605.9h1.35v1.35h-1.35zM403.4,607.2h1.35v1.35h-1.35zM404.3,608.2h1.35v1.35h-1.35zM379.6,605.8h1.35v1.35h-1.35zM422.0,607.0h1.35v1.35h-1.35zM392.3,606.9h1.35v1.35h-1.35zM383.6,607.9h1.35v1.35h-1.35zM416.8,605.5h1.35v1.35h-1.35zM411.2,607.1h1.35v1.35h-1.35zM392.1,607.2h1.35v1.35h-1.35zM379.6,605.5h1.35v1.35h-1.35zM402.5,606.6h1.35v1.35h-1.35zM396.9,606.0h1.35v1.35h-1.35zM383.9,605.3h1.35v1.35h-1.35zM399.5,607.1h1.35v1.35h-1.35zM383.5,606.4h1.35v1.35h-1.35zM423.7,605.5h1.35v1.35h-1.35zM411.4,606.1h1.35v1.35h-1.35zM377.8,605.0h1.35v1.35h-1.35zM393.4,606.0h1.35v1.35h-1.35zM418.0,607.6h1.35v1.35h-1.35zM407.8,605.2h1.35v1.35h-1.35zM377.6,605.8h1.35v1.35h-1.35zM400.6,607.2h1.35v1.35h-1.35zM397.9,606.3h1.35v1.35h-1.35zM414.0,606.9h1.35v1.35h-1.35zM407.2,607.8h1.35v1.35h-1.35zM404.6,607.7h1.35v1.35h-1.35zM395.4,604.0h1.35v1.35h-1.35zM403.3,606.3h1.35v1.35h-1.35zM384.6,604.8h1.35v1.35h-1.35zM381.1,606.9h1.35v1.35h-1.35zM381.7,605.0h1.35v1.35h-1.35zM421.1,605.4h1.35v1.35h-1.35zM402.3,608.0h1.35v1.35h-1.35zM393.3,606.4h1.35v1.35h-1.35zM381.0,606.0h1.35v1.35h-1.35zM408.9,608.1h1.35v1.35h-1.35zM407.9,606.7h1.35v1.35h-1.35zM399.5,606.7h1.35v1.35h-1.35zM380.0,607.3h1.35v1.35h-1.35zM403.3,606.9h1.35v1.35h-1.35zM391.7,606.0h1.35v1.35h-1.35zM413.9,607.8h1.35v1.35h-1.35zM379.7,605.8h1.35v1.35h-1.35zM383.0,606.4h1.35v1.35h-1.35zM414.1,606.8h1.35v1.35h-1.35zM386.9,606.7h1.35v1.35h-1.35zM380.1,605.3h1.35v1.35h-1.35zM404.8,606.3h1.35v1.35h-1.35zM389.7,606.7h1.35v1.35h-1.35zM388.6,606.6h1.35v1.35h-1.35zM387.5,605.1h1.35v1.35h-1.35zM415.5,606.3h1.35v1.35h-1.35zM422.3,605.6h1.35v1.35h-1.35zM398.0,607.8h1.35v1.35h-1.35zM420.8,605.2h1.35v1.35h-1.35zM381.6,606.7h1.35v1.35h-1.35zM395.7,606.2h1.35v1.35h-1.35zM421.8,605.8h1.35v1.35h-1.35zM379.2,604.6h1.35v1.35h-1.35zM411.6,606.2h1.35v1.35h-1.35zM411.4,607.3h1.35v1.35h-1.35zM410.8,607.0h1.35v1.35h-1.35zM418.6,605.8h1.35v1.35h-1.35zM398.9,608.5h1.35v1.35h-1.35zM386.9,606.7h1.35v1.35h-1.35zM404.6,606.9h1.35v1.35h-1.35zM391.7,606.5h1.35v1.35h-1.35zM379.3,605.4h1.35v1.35h-1.35zM388.3,606.2h1.35v1.35h-1.35zM422.2,605.3h1.35v1.35h-1.35zM381.0,606.3h1.35v1.35h-1.35zM422.1,605.4h1.35v1.35h-1.35zM405.8,606.8h1.35v1.35h-1.35zM398.0,606.8h1.35v1.35h-1.35zM394.4,606.0h1.35v1.35h-1.35zM392.2,606.9h1.35v1.35h-1.35zM411.7,605.4h1.35v1.35h-1.35zM421.7,604.8h1.35v1.35h-1.35zM406.4,607.9h1.35v1.35h-1.35zM393.2,607.8h1.35v1.35h-1.35zM382.7,606.4h1.35v1.35h-1.35zM400.3,606.9h1.35v1.35h-1.35zM421.8,606.1h1.35v1.35h-1.35zM396.1,608.4h1.35v1.35h-1.35zM381.2,605.1h1.35v1.35h-1.35zM394.4,606.0h1.35v1.35h-1.35zM416.4,605.9h1.35v1.35h-1.35zM394.3,607.5h1.35v1.35h-1.35zM392.7,607.9h1.35v1.35h-1.35zM386.1,606.4h1.35v1.35h-1.35zM395.1,606.8h1.35v1.35h-1.35zM415.2,606.7h1.35v1.35h-1.35zM393.3,607.2h1.35v1.35h-1.35zM422.7,607.0h1.35v1.35h-1.35zM390.5,605.7h1.35v1.35h-1.35zM407.1,607.8h1.35v1.35h-1.35zM402.7,608.4h1.35v1.35h-1.35zM379.2,605.5h1.35v1.35h-1.35zM393.4,607.5h1.35v1.35h-1.35zM392.2,607.6h1.35v1.35h-1.35zM424.5,605.7h1.35v1.35h-1.35zM393.7,606.8h1.35v1.35h-1.35zM415.0,605.9h1.35v1.35h-1.35zM422.3,605.9h1.35v1.35h-1.35zM414.0,606.7h1.35v1.35h-1.35zM413.7,607.0h1.35v1.35h-1.35zM424.4,605.6h1.35v1.35h-1.35zM385.9,606.0h1.35v1.35h-1.35zM405.0,607.1h1.35v1.35h-1.35zM419.0,606.0h1.35v1.35h-1.35zM396.2,607.1h1.35v1.35h-1.35zM406.6,607.4h1.35v1.35h-1.35zM413.2,606.1h1.35v1.35h-1.35zM423.7,605.2h1.35v1.35h-1.35zM417.3,605.8h1.35v1.35h-1.35zM396.1,606.3h1.35v1.35h-1.35zM395.8,607.5h1.35v1.35h-1.35zM394.7,607.0h1.35v1.35h-1.35zM412.2,605.4h1.35v1.35h-1.35zM396.0,607.5h1.35v1.35h-1.35zM395.4,605.7h1.35v1.35h-1.35zM393.5,605.7h1.35v1.35h-1.35zM425.6,605.5h1.35v1.35h-1.35zM383.7,607.0h1.35v1.35h-1.35zM389.2,608.2h1.35v1.35h-1.35zM412.2,606.5h1.35v1.35h-1.35zM380.4,606.6h1.35v1.35h-1.35zM406.6,606.9h1.35v1.35h-1.35zM393.8,606.3h1.35v1.35h-1.35zM403.9,607.8h1.35v1.35h-1.35zM389.3,606.5h1.35v1.35h-1.35zM382.2,606.0h1.35v1.35h-1.35zM385.4,606.5h1.35v1.35h-1.35zM391.4,606.1h1.35v1.35h-1.35zM408.5,606.7h1.35v1.35h-1.35zM392.9,607.4h1.35v1.35h-1.35zM384.3,606.5h1.35v1.35h-1.35zM386.2,607.2h1.35v1.35h-1.35zM392.7,606.5h1.35v1.35h-1.35zM407.6,605.7h1.35v1.35h-1.35zM384.6,605.5h1.35v1.35h-1.35zM421.4,606.6h1.35v1.35h-1.35zM399.1,606.3h1.35v1.35h-1.35zM423.9,605.4h1.35v1.35h-1.35zM420.1,605.8h1.35v1.35h-1.35zM421.3,606.2h1.35v1.35h-1.35zM391.7,606.8h1.35v1.35h-1.35zM386.5,605.1h1.35v1.35h-1.35zM424.7,607.1h1.35v1.35h-1.35zM387.0,606.9h1.35v1.35h-1.35zM390.4,607.2h1.35v1.35h-1.35zM424.8,606.2h1.35v1.35h-1.35zM408.2,606.2h1.35v1.35h-1.35zM378.8,605.8h1.35v1.35h-1.35zM404.3,608.1h1.35v1.35h-1.35zM408.5,607.4h1.35v1.35h-1.35zM404.3,606.8h1.35v1.35h-1.35zM389.8,607.2h1.35v1.35h-1.35zM384.9,606.1h1.35v1.35h-1.35zM424.0,605.6h1.35v1.35h-1.35zM389.1,606.7h1.35v1.35h-1.35zM407.8,607.0h1.35v1.35h-1.35zM385.0,606.1h1.35v1.35h-1.35zM395.0,606.6h1.35v1.35h-1.35zM382.4,606.3h1.35v1.35h-1.35zM403.3,607.3h1.35v1.35h-1.35zM391.4,606.2h1.35v1.35h-1.35zM396.9,608.3h1.35v1.35h-1.35zM407.8,607.7h1.35v1.35h-1.35zM406.8,607.0h1.35v1.35h-1.35zM405.0,607.3h1.35v1.35h-1.35zM401.5,607.4h1.35v1.35h-1.35zM383.1,604.7h1.35v1.35h-1.35zM412.4,606.9h1.35v1.35h-1.35zM414.1,606.2h1.35v1.35h-1.35zM409.3,606.8h1.35v1.35h-1.35zM424.2,604.6h1.35v1.35h-1.35zM378.2,606.2h1.35v1.35h-1.35zM402.8,605.2h1.35v1.35h-1.35zM401.7,608.7h1.35v1.35h-1.35zM422.9,607.5h1.35v1.35h-1.35zM424.8,606.1h1.35v1.35h-1.35zM380.6,606.0h1.35v1.35h-1.35zM390.3,605.7h1.35v1.35h-1.35zM377.7,605.0h1.35v1.35h-1.35zM420.0,606.3h1.35v1.35h-1.35zM380.7,605.7h1.35v1.35h-1.35zM390.8,605.5h1.35v1.35h-1.35zM395.8,607.7h1.35v1.35h-1.35zM395.6,604.9h1.35v1.35h-1.35zM395.5,607.5h1.35v1.35h-1.35zM414.0,604.9h1.35v1.35h-1.35zM388.7,606.6h1.35v1.35h-1.35zM422.2,605.0h1.35v1.35h-1.35zM400.7,607.6h1.35v1.35h-1.35zM388.1,606.3h1.35v1.35h-1.35zM410.0,605.6h1.35v1.35h-1.35zM385.5,605.7h1.35v1.35h-1.35zM391.9,606.6h1.35v1.35h-1.35zM422.2,605.6h1.35v1.35h-1.35zM401.2,605.7h1.35v1.35h-1.35zM413.0,606.9h1.35v1.35h-1.35zM416.1,607.0h1.35v1.35h-1.35zM413.9,607.0h1.35v1.35h-1.35zM389.0,607.7h1.35v1.35h-1.35zM419.8,606.5h1.35v1.35h-1.35zM394.6,606.4h1.35v1.35h-1.35zM386.7,606.8h1.35v1.35h-1.35zM382.1,605.6h1.35v1.35h-1.35zM384.6,606.9h1.35v1.35h-1.35zM391.2,606.3h1.35v1.35h-1.35zM417.3,606.5h1.35v1.35h-1.35zM403.1,607.3h1.35v1.35h-1.35zM423.2,606.7h1.35v1.35h-1.35zM404.0,606.6h1.35v1.35h-1.35zM395.2,606.0h1.35v1.35h-1.35zM386.2,606.5h1.35v1.35h-1.35zM390.9,606.0h1.35v1.35h-1.35zM404.5,608.2h1.35v1.35h-1.35zM410.8,606.9h1.35v1.35h-1.35zM410.4,606.5h1.35v1.35h-1.35zM389.0,607.1h1.35v1.35h-1.35zM379.7,605.3h1.35v1.35h-1.35zM397.3,605.5h1.35v1.35h-1.35zM385.2,606.2h1.35v1.35h-1.35zM391.2,605.8h1.35v1.35h-1.35zM417.1,606.9h1.35v1.35h-1.35zM389.0,606.3h1.35v1.35h-1.35zM386.3,606.8h1.35v1.35h-1.35zM407.8,606.3h1.35v1.35h-1.35zM386.5,606.5h1.35v1.35h-1.35zM420.3,607.1h1.35v1.35h-1.35zM396.4,606.9h1.35v1.35h-1.35zM392.3,607.1h1.35v1.35h-1.35zM380.6,605.3h1.35v1.35h-1.35zM423.6,606.2h1.35v1.35h-1.35zM412.0,606.0h1.35v1.35h-1.35zM389.2,606.6h1.35v1.35h-1.35zM408.8,608.3h1.35v1.35h-1.35zM420.5,605.9h1.35v1.35h-1.35zM387.2,607.2h1.35v1.35h-1.35zM401.8,606.8h1.35v1.35h-1.35zM392.6,606.8h1.35v1.35h-1.35zM391.1,605.8h1.35v1.35h-1.35zM390.7,605.6h1.35v1.35h-1.35zM420.2,606.7h1.35v1.35h-1.35zM421.9,606.9h1.35v1.35h-1.35zM415.2,607.1h1.35v1.35h-1.35zM421.5,605.2h1.35v1.35h-1.35zM424.2,607.0h1.35v1.35h-1.35zM399.7,608.6h1.35v1.35h-1.35zM401.2,607.7h1.35v1.35h-1.35zM415.0,605.7h1.35v1.35h-1.35zM413.4,606.9h1.35v1.35h-1.35zM400.7,607.9h1.35v1.35h-1.35zM414.3,606.6h1.35v1.35h-1.35zM404.7,606.2h1.35v1.35h-1.35zM406.8,606.5h1.35v1.35h-1.35zM379.4,606.2h1.35v1.35h-1.35zM393.9,606.4h1.35v1.35h-1.35zM412.2,605.7h1.35v1.35h-1.35zM398.5,606.2h1.35v1.35h-1.35zM387.3,605.5h1.35v1.35h-1.35zM390.6,607.3h1.35v1.35h-1.35zM405.9,607.8h1.35v1.35h-1.35zM385.7,605.4h1.35v1.35h-1.35zM400.9,608.0h1.35v1.35h-1.35zM404.4,607.7h1.35v1.35h-1.35zM412.7,607.0h1.35v1.35h-1.35zM393.6,606.7h1.35v1.35h-1.35zM382.4,605.0h1.35v1.35h-1.35zM409.9,605.2h1.35v1.35h-1.35zM417.8,607.3h1.35v1.35h-1.35zM410.8,605.7h1.35v1.35h-1.35zM396.2,607.7h1.35v1.35h-1.35zM406.8,608.3h1.35v1.35h-1.35zM421.6,605.3h1.35v1.35h-1.35zM411.2,606.0h1.35v1.35h-1.35zM383.2,604.8h1.35v1.35h-1.35zM392.1,605.4h1.35v1.35h-1.35zM417.4,606.5h1.35v1.35h-1.35zM385.0,606.1h1.35v1.35h-1.35zM389.7,606.6h1.35v1.35h-1.35zM398.9,606.4h1.35v1.35h-1.35zM404.9,607.2h1.35v1.35h-1.35zM381.9,604.8h1.35v1.35h-1.35zM400.1,607.3h1.35v1.35h-1.35zM424.8,605.8h1.35v1.35h-1.35zM406.5,606.8h1.35v1.35h-1.35zM415.1,606.9h1.35v1.35h-1.35zM419.4,606.3h1.35v1.35h-1.35zM401.0,607.9h1.35v1.35h-1.35zM386.9,606.6h1.35v1.35h-1.35zM407.5,607.6h1.35v1.35h-1.35zM408.4,607.5h1.35v1.35h-1.35zM421.5,606.1h1.35v1.35h-1.35zM389.2,605.3h1.35v1.35h-1.35zM384.1,607.6h1.35v1.35h-1.35zM380.8,605.4h1.35v1.35h-1.35zM411.7,607.1h1.35v1.35h-1.35zM409.4,607.4h1.35v1.35h-1.35zM381.5,605.9h1.35v1.35h-1.35zM395.2,606.7h1.35v1.35h-1.35zM378.3,605.8h1.35v1.35h-1.35zM417.6,605.6h1.35v1.35h-1.35zM413.1,607.7h1.35v1.35h-1.35zM397.9,605.9h1.35v1.35h-1.35zM389.1,607.2h1.35v1.35h-1.35zM424.8,606.7h1.35v1.35h-1.35zM415.4,606.7h1.35v1.35h-1.35zM421.3,605.2h1.35v1.35h-1.35zM382.0,606.0h1.35v1.35h-1.35zM389.0,605.8h1.35v1.35h-1.35zM418.6,607.6h1.35v1.35h-1.35zM414.8,606.8h1.35v1.35h-1.35zM409.0,606.6h1.35v1.35h-1.35zM388.4,605.8h1.35v1.35h-1.35zM401.0,608.2h1.35v1.35h-1.35zM384.1,606.0h1.35v1.35h-1.35zM393.3,606.0h1.35v1.35h-1.35zM382.6,604.4h1.35v1.35h-1.35zM408.6,606.7h1.35v1.35h-1.35zM421.2,605.8h1.35v1.35h-1.35zM417.9,605.4h1.35v1.35h-1.35zM414.1,606.2h1.35v1.35h-1.35zM421.4,606.2h1.35v1.35h-1.35zM421.2,606.8h1.35v1.35h-1.35zM383.5,605.9h1.35v1.35h-1.35zM408.6,606.7h1.35v1.35h-1.35zM399.8,607.5h1.35v1.35h-1.35zM422.1,605.7h1.35v1.35h-1.35zM405.7,607.6h1.35v1.35h-1.35zM384.1,606.2h1.35v1.35h-1.35zM391.7,607.0h1.35v1.35h-1.35zM396.6,606.0h1.35v1.35h-1.35zM409.4,607.2h1.35v1.35h-1.35zM397.3,607.0h1.35v1.35h-1.35zM406.9,606.7h1.35v1.35h-1.35zM391.1,606.3h1.35v1.35h-1.35zM382.4,605.5h1.35v1.35h-1.35zM393.4,606.2h1.35v1.35h-1.35zM419.3,605.7h1.35v1.35h-1.35zM400.6,607.1h1.35v1.35h-1.35zM387.1,606.4h1.35v1.35h-1.35zM424.4,605.2h1.35v1.35h-1.35zM387.0,606.2h1.35v1.35h-1.35zM400.7,606.9h1.35v1.35h-1.35zM379.0,604.7h1.35v1.35h-1.35zM389.1,606.1h1.35v1.35h-1.35zM422.0,606.8h1.35v1.35h-1.35zM405.7,607.7h1.35v1.35h-1.35zM414.4,606.5h1.35v1.35h-1.35zM407.1,607.1h1.35v1.35h-1.35zM409.7,606.2h1.35v1.35h-1.35zM391.2,606.6h1.35v1.35h-1.35zM389.5,607.0h1.35v1.35h-1.35zM380.8,605.2h1.35v1.35h-1.35zM408.9,606.1h1.35v1.35h-1.35zM389.2,606.4h1.35v1.35h-1.35zM420.3,606.4h1.35v1.35h-1.35zM393.6,607.1h1.35v1.35h-1.35zM392.2,606.8h1.35v1.35h-1.35zM381.8,607.0h1.35v1.35h-1.35zM411.1,607.0h1.35v1.35h-1.35zM383.9,607.1h1.35v1.35h-1.35zM405.0,606.9h1.35v1.35h-1.35zM414.7,606.0h1.35v1.35h-1.35zM424.5,605.9h1.35v1.35h-1.35zM377.6,606.0h1.35v1.35h-1.35zM408.8,607.4h1.35v1.35h-1.35zM390.8,606.3h1.35v1.35h-1.35zM415.5,606.5h1.35v1.35h-1.35zM406.3,607.1h1.35v1.35h-1.35zM403.7,606.2h1.35v1.35h-1.35zM388.9,606.0h1.35v1.35h-1.35zM421.2,605.3h1.35v1.35h-1.35zM395.9,605.4h1.35v1.35h-1.35zM389.2,607.5h1.35v1.35h-1.35zM401.1,607.6h1.35v1.35h-1.35zM388.8,605.4h1.35v1.35h-1.35zM413.9,606.1h1.35v1.35h-1.35zM408.5,606.7h1.35v1.35h-1.35zM414.5,606.8h1.35v1.35h-1.35zM383.4,606.7h1.35v1.35h-1.35zM397.6,606.7h1.35v1.35h-1.35zM378.2,606.1h1.35v1.35h-1.35zM399.8,607.7h1.35v1.35h-1.35zM415.1,606.6h1.35v1.35h-1.35zM381.7,606.0h1.35v1.35h-1.35zM409.0,607.4h1.35v1.35h-1.35zM381.0,606.5h1.35v1.35h-1.35zM406.0,606.9h1.35v1.35h-1.35zM388.2,607.0h1.35v1.35h-1.35zM379.8,604.9h1.35v1.35h-1.35zM394.6,606.7h1.35v1.35h-1.35zM414.6,606.5h1.35v1.35h-1.35zM390.8,605.5h1.35v1.35h-1.35zM402.6,607.1h1.35v1.35h-1.35zM381.3,606.1h1.35v1.35h-1.35zM421.6,604.6h1.35v1.35h-1.35zM404.3,606.4h1.35v1.35h-1.35zM416.8,606.9h1.35v1.35h-1.35zM378.1,606.6h1.35v1.35h-1.35zM394.8,607.0h1.35v1.35h-1.35zM382.6,605.7h1.35v1.35h-1.35zM424.1,606.7h1.35v1.35h-1.35zM421.3,606.8h1.35v1.35h-1.35zM388.4,606.6h1.35v1.35h-1.35zM397.9,606.7h1.35v1.35h-1.35zM390.2,606.8h1.35v1.35h-1.35zM424.1,606.5h1.35v1.35h-1.35zM389.0,605.7h1.35v1.35h-1.35zM381.0,605.8h1.35v1.35h-1.35zM399.0,608.5h1.35v1.35h-1.35zM385.6,605.6h1.35v1.35h-1.35zM400.1,606.6h1.35v1.35h-1.35zM395.4,608.3h1.35v1.35h-1.35zM384.3,605.8h1.35v1.35h-1.35zM409.1,607.7h1.35v1.35h-1.35zM414.3,606.7h1.35v1.35h-1.35zM418.6,606.1h1.35v1.35h-1.35zM422.6,605.3h1.35v1.35h-1.35zM417.1,606.6h1.35v1.35h-1.35zM399.2,607.0h1.35v1.35h-1.35zM415.5,604.7h1.35v1.35h-1.35zM401.0,607.2h1.35v1.35h-1.35zM380.4,606.0h1.35v1.35h-1.35zM422.2,605.8h1.35v1.35h-1.35zM418.9,606.2h1.35v1.35h-1.35zM384.6,605.9h1.35v1.35h-1.35zM414.0,605.8h1.35v1.35h-1.35zM422.0,605.3h1.35v1.35h-1.35zM415.9,606.8h1.35v1.35h-1.35zM377.7,604.2h1.35v1.35h-1.35zM405.0,607.2h1.35v1.35h-1.35zM386.8,604.9h1.35v1.35h-1.35zM411.5,605.8h1.35v1.35h-1.35zM397.0,606.6h1.35v1.35h-1.35zM425.3,605.8h1.35v1.35h-1.35zM405.8,606.6h1.35v1.35h-1.35zM393.0,607.3h1.35v1.35h-1.35zM419.0,607.5h1.35v1.35h-1.35zM416.2,606.5h1.35v1.35h-1.35zM411.3,607.6h1.35v1.35h-1.35zM398.2,607.6h1.35v1.35h-1.35zM424.9,605.4h1.35v1.35h-1.35zM406.4,606.3h1.35v1.35h-1.35zM423.9,606.4h1.35v1.35h-1.35zM410.4,605.7h1.35v1.35h-1.35zM409.1,607.8h1.35v1.35h-1.35zM402.8,606.7h1.35v1.35h-1.35zM416.6,605.6h1.35v1.35h-1.35zM425.3,606.1h1.35v1.35h-1.35zM389.7,606.0h1.35v1.35h-1.35zM398.6,606.5h1.35v1.35h-1.35zM407.4,608.2h1.35v1.35h-1.35zM383.3,606.3h1.35v1.35h-1.35zM409.4,605.7h1.35v1.35h-1.35zM389.4,607.7h1.35v1.35h-1.35zM387.7,605.7h1.35v1.35h-1.35zM412.5,607.7h1.35v1.35h-1.35zM387.0,607.2h1.35v1.35h-1.35zM402.7,606.6h1.35v1.35h-1.35zM397.6,607.7h1.35v1.35h-1.35zM379.5,604.9h1.35v1.35h-1.35zM398.8,608.0h1.35v1.35h-1.35zM418.3,605.8h1.35v1.35h-1.35zM423.1,606.5h1.35v1.35h-1.35zM379.6,605.3h1.35v1.35h-1.35zM377.8,606.4h1.35v1.35h-1.35zM394.7,606.6h1.35v1.35h-1.35zM383.6,606.1h1.35v1.35h-1.35zM409.1,605.4h1.35v1.35h-1.35zM398.4,605.9h1.35v1.35h-1.35zM416.1,605.9h1.35v1.35h-1.35zM377.6,605.5h1.35v1.35h-1.35zM395.6,606.6h1.35v1.35h-1.35zM411.3,606.2h1.35v1.35h-1.35zM383.7,606.9h1.35v1.35h-1.35zM415.1,606.3h1.35v1.35h-1.35zM417.8,606.0h1.35v1.35h-1.35zM411.2,607.2h1.35v1.35h-1.35zM424.1,604.4h1.35v1.35h-1.35zM393.0,606.5h1.35v1.35h-1.35zM402.2,604.7h1.35v1.35h-1.35zM391.4,606.1h1.35v1.35h-1.35zM379.2,605.5h1.35v1.35h-1.35zM407.8,607.0h1.35v1.35h-1.35zM399.3,607.3h1.35v1.35h-1.35zM418.7,606.9h1.35v1.35h-1.35zM392.1,605.3h1.35v1.35h-1.35zM421.7,605.4h1.35v1.35h-1.35zM397.2,605.9h1.35v1.35h-1.35zM409.7,606.8h1.35v1.35h-1.35zM424.0,604.8h1.35v1.35h-1.35zM398.8,607.2h1.35v1.35h-1.35zM410.4,605.8h1.35v1.35h-1.35zM421.6,607.2h1.35v1.35h-1.35zM395.1,606.9h1.35v1.35h-1.35zM384.6,606.7h1.35v1.35h-1.35zM387.7,606.3h1.35v1.35h-1.35zM407.7,608.1h1.35v1.35h-1.35zM393.1,606.7h1.35v1.35h-1.35zM378.9,606.0h1.35v1.35h-1.35zM417.1,606.0h1.35v1.35h-1.35zM408.8,606.1h1.35v1.35h-1.35zM392.1,605.8h1.35v1.35h-1.35zM409.4,606.7h1.35v1.35h-1.35zM391.8,606.5h1.35v1.35h-1.35zM381.1,605.7h1.35v1.35h-1.35zM401.4,606.9h1.35v1.35h-1.35zM417.8,606.1h1.35v1.35h-1.35zM409.5,606.6h1.35v1.35h-1.35zM393.6,605.2h1.35v1.35h-1.35zM381.1,605.8h1.35v1.35h-1.35zM386.1,606.7h1.35v1.35h-1.35zM393.0,606.7h1.35v1.35h-1.35zM410.5,607.3h1.35v1.35h-1.35zM391.7,606.4h1.35v1.35h-1.35zM388.4,605.5h1.35v1.35h-1.35zM390.1,607.0h1.35v1.35h-1.35zM412.0,606.1h1.35v1.35h-1.35zM393.8,605.5h1.35v1.35h-1.35zM388.9,607.1h1.35v1.35h-1.35zM414.8,606.2h1.35v1.35h-1.35zM392.5,606.7h1.35v1.35h-1.35zM409.3,606.8h1.35v1.35h-1.35zM413.6,606.3h1.35v1.35h-1.35zM412.8,606.6h1.35v1.35h-1.35zM424.2,605.9h1.35v1.35h-1.35zM391.4,606.5h1.35v1.35h-1.35zM424.9,606.4h1.35v1.35h-1.35zM398.0,607.6h1.35v1.35h-1.35zM393.7,607.2h1.35v1.35h-1.35zM417.3,606.3h1.35v1.35h-1.35zM384.3,606.6h1.35v1.35h-1.35zM390.9,605.7h1.35v1.35h-1.35zM394.6,606.9h1.35v1.35h-1.35zM415.1,606.4h1.35v1.35h-1.35zM384.7,606.1h1.35v1.35h-1.35zM403.0,607.1h1.35v1.35h-1.35zM383.6,605.7h1.35v1.35h-1.35zM380.5,605.6h1.35v1.35h-1.35zM418.0,607.6h1.35v1.35h-1.35zM409.6,605.7h1.35v1.35h-1.35zM377.9,605.8h1.35v1.35h-1.35zM405.7,606.8h1.35v1.35h-1.35zM389.2,606.9h1.35v1.35h-1.35zM409.7,607.5h1.35v1.35h-1.35zM420.8,607.2h1.35v1.35h-1.35zM389.7,608.2h1.35v1.35h-1.35zM420.5,606.6h1.35v1.35h-1.35zM379.1,606.4h1.35v1.35h-1.35zM419.8,606.7h1.35v1.35h-1.35zM404.1,607.4h1.35v1.35h-1.35zM397.7,607.1h1.35v1.35h-1.35zM387.5,606.4h1.35v1.35h-1.35zM387.3,605.0h1.35v1.35h-1.35zM387.3,606.9h1.35v1.35h-1.35zM402.2,606.4h1.35v1.35h-1.35zM412.0,605.8h1.35v1.35h-1.35zM381.1,606.4h1.35v1.35h-1.35zM381.7,605.0h1.35v1.35h-1.35zM417.0,606.5h1.35v1.35h-1.35zM413.1,606.3h1.35v1.35h-1.35zM400.3,607.5h1.35v1.35h-1.35zM392.6,607.5h1.35v1.35h-1.35zM381.2,606.1h1.35v1.35h-1.35zM391.4,606.5h1.35v1.35h-1.35zM416.7,605.9h1.35v1.35h-1.35zM397.8,607.2h1.35v1.35h-1.35zM385.5,606.7h1.35v1.35h-1.35zM380.6,605.5h1.35v1.35h-1.35zM414.4,606.8h1.35v1.35h-1.35zM378.9,605.7h1.35v1.35h-1.35zM395.4,606.9h1.35v1.35h-1.35zM418.8,606.2h1.35v1.35h-1.35zM403.9,606.3h1.35v1.35h-1.35zM424.3,606.0h1.35v1.35h-1.35zM400.1,606.5h1.35v1.35h-1.35zM405.1,607.6h1.35v1.35h-1.35zM413.0,607.7h1.35v1.35h-1.35zM425.3,604.4h1.35v1.35h-1.35zM394.6,608.2h1.35v1.35h-1.35zM414.8,606.8h1.35v1.35h-1.35zM424.6,605.8h1.35v1.35h-1.35zM403.7,608.0h1.35v1.35h-1.35zM387.6,605.6h1.35v1.35h-1.35zM386.1,606.2h1.35v1.35h-1.35zM419.2,605.0h1.35v1.35h-1.35zM393.6,606.9h1.35v1.35h-1.35zM403.7,607.3h1.35v1.35h-1.35zM379.0,604.9h1.35v1.35h-1.35zM393.1,606.0h1.35v1.35h-1.35zM399.9,607.9h1.35v1.35h-1.35zM410.2,606.7h1.35v1.35h-1.35zM396.5,607.9h1.35v1.35h-1.35zM404.7,606.5h1.35v1.35h-1.35zM406.7,607.1h1.35v1.35h-1.35zM411.2,607.5h1.35v1.35h-1.35zM395.6,605.6h1.35v1.35h-1.35zM379.6,604.7h1.35v1.35h-1.35zM388.7,605.8h1.35v1.35h-1.35zM411.6,607.8h1.35v1.35h-1.35zM377.8,605.4h1.35v1.35h-1.35zM389.4,606.3h1.35v1.35h-1.35zM416.5,606.2h1.35v1.35h-1.35zM395.9,607.2h1.35v1.35h-1.35zM404.5,606.3h1.35v1.35h-1.35zM420.0,606.4h1.35v1.35h-1.35zM422.3,605.7h1.35v1.35h-1.35zM416.5,605.6h1.35v1.35h-1.35zM414.1,606.8h1.35v1.35h-1.35zM421.5,606.4h1.35v1.35h-1.35zM413.0,608.3h1.35v1.35h-1.35zM398.4,606.2h1.35v1.35h-1.35zM399.0,607.4h1.35v1.35h-1.35zM381.9,606.5h1.35v1.35h-1.35zM407.4,606.4h1.35v1.35h-1.35zM421.4,605.9h1.35v1.35h-1.35zM418.2,606.4h1.35v1.35h-1.35zM392.5,607.4h1.35v1.35h-1.35zM394.3,605.5h1.35v1.35h-1.35zM415.2,606.3h1.35v1.35h-1.35zM419.5,606.2h1.35v1.35h-1.35zM378.2,606.1h1.35v1.35h-1.35zM400.3,608.6h1.35v1.35h-1.35zM418.0,606.4h1.35v1.35h-1.35zM398.5,606.1h1.35v1.35h-1.35zM398.5,606.7h1.35v1.35h-1.35zM414.9,606.1h1.35v1.35h-1.35zM388.1,606.1h1.35v1.35h-1.35zM408.1,606.3h1.35v1.35h-1.35zM386.1,606.5h1.35v1.35h-1.35zM382.6,605.6h1.35v1.35h-1.35zM398.6,606.8h1.35v1.35h-1.35zM388.6,606.0h1.35v1.35h-1.35zM401.6,607.3h1.35v1.35h-1.35zM418.7,605.4h1.35v1.35h-1.35zM382.0,606.5h1.35v1.35h-1.35zM398.5,606.3h1.35v1.35h-1.35z" fill="#8c8c8c"/>
<line x1="307.9" y1="500.2" x2="307.9" y2="613.1" stroke="#111" stroke-width="0.9"/>
<line x1="307.5" y1="613.1" x2="508.9" y2="613.1" stroke="#111" stroke-width="0.9"/>
<line x1="304.2" y1="522.25" x2="307.9" y2="522.25" stroke="#111" stroke-width="0.9"/>
<text x="301.4" y="524.45" font-size="6.1" fill="#1e1e1e" text-anchor="end" stroke="#1e1e1e" stroke-width="0.18">1e-249</text>
<line x1="304.2" y1="545.4" x2="307.9" y2="545.4" stroke="#111" stroke-width="0.9"/>
<text x="301.4" y="547.6" font-size="6.1" fill="#1e1e1e" text-anchor="end" stroke="#1e1e1e" stroke-width="0.18">1e-182</text>
<line x1="304.2" y1="568.5" x2="307.9" y2="568.5" stroke="#111" stroke-width="0.9"/>
<text x="301.4" y="570.7" font-size="6.1" fill="#1e1e1e" text-anchor="end" stroke="#1e1e1e" stroke-width="0.18">1e-115</text>
<line x1="304.2" y1="591.6" x2="307.9" y2="591.6" stroke="#111" stroke-width="0.9"/>
<text x="301.4" y="593.8000000000001" font-size="6.1" fill="#1e1e1e" text-anchor="end" stroke="#1e1e1e" stroke-width="0.18">1e-48</text>
<line x1="352.4" y1="613.1" x2="352.4" y2="616" stroke="#111" stroke-width="0.9"/>
<text x="352.4" y="624.4" font-size="6.2" fill="#1e1e1e" text-anchor="middle" stroke="#1e1e1e" stroke-width="0.18">−0.5</text>
<line x1="403.3" y1="613.1" x2="403.3" y2="616" stroke="#111" stroke-width="0.9"/>
<text x="403.3" y="624.4" font-size="6.2" fill="#1e1e1e" text-anchor="middle" stroke="#1e1e1e" stroke-width="0.18">0.0</text>
<line x1="454.3" y1="613.1" x2="454.3" y2="616" stroke="#111" stroke-width="0.9"/>
<text x="454.3" y="624.4" font-size="6.2" fill="#1e1e1e" text-anchor="middle" stroke="#1e1e1e" stroke-width="0.18">0.5</text>
<line x1="505.3" y1="613.1" x2="505.3" y2="616" stroke="#111" stroke-width="0.9"/>
<text x="505.3" y="624.4" font-size="6.2" fill="#1e1e1e" text-anchor="middle" stroke="#1e1e1e" stroke-width="0.18">1.0</text>
<text x="393.9" y="636.4" font-size="8.2" fill="#1e1e1e" textLength="19.3" lengthAdjust="spacingAndGlyphs" stroke="#1e1e1e" stroke-width="0.2">Log2FC</text>
<text transform="translate(276.3,566) rotate(-90)" fill="#1e1e1e" stroke="#1e1e1e" stroke-width="0.25"><tspan font-size="7.4" font-style="italic">P</tspan><tspan font-size="5.4" dx="0.5" dy="1.0" textLength="13" lengthAdjust="spacingAndGlyphs">value</tspan></text>
<circle cx="452.7" cy="528.5" r="1.3" fill="#e04b3c"/>
<circle cx="432" cy="563.1" r="1.3" fill="#e04b3c"/>
<circle cx="461.5" cy="588.5" r="1.3" fill="#e04b3c"/>
<circle cx="457.5" cy="592.3" r="1.3" fill="#e04b3c"/>
<circle cx="441" cy="591" r="1.3" fill="#e04b3c"/>
<circle cx="438.5" cy="592.5" r="1.3" fill="#e04b3c"/>
<circle cx="444" cy="590.5" r="1.3" fill="#e04b3c"/>
<circle cx="436" cy="593.5" r="1.3" fill="#e04b3c"/>
<circle cx="447" cy="593" r="1.3" fill="#e04b3c"/>
<circle cx="442" cy="594.5" r="1.3" fill="#e04b3c"/>
<line x1="428" y1="579" x2="440" y2="590" stroke="#e36f5d" stroke-width="0.6"/>
<line x1="423" y1="585.5" x2="438" y2="591.5" stroke="#e36f5d" stroke-width="0.6"/>
<line x1="419" y1="590.8" x2="436" y2="592.5" stroke="#e36f5d" stroke-width="0.6"/>
<line x1="449" y1="582" x2="443" y2="589.5" stroke="#e36f5d" stroke-width="0.6"/>
<line x1="451" y1="588.5" x2="445" y2="591" stroke="#e36f5d" stroke-width="0.6"/>
<line x1="462" y1="593" x2="447" y2="593" stroke="#e36f5d" stroke-width="0.6"/>
<line x1="471" y1="599.5" x2="459" y2="593" stroke="#e36f5d" stroke-width="0.6"/>
<line x1="451" y1="598" x2="444" y2="594.5" stroke="#e36f5d" stroke-width="0.6"/>
<line x1="457" y1="604.5" x2="446" y2="595" stroke="#e36f5d" stroke-width="0.6"/>
<line x1="446" y1="604" x2="442" y2="595" stroke="#e36f5d" stroke-width="0.6"/>
<line x1="426.5" y1="563.4" x2="431" y2="563.2" stroke="#e36f5d" stroke-width="0.6"/>
<line x1="465.5" y1="586.5" x2="462" y2="588" stroke="#e36f5d" stroke-width="0.6"/>
<text x="436.1" y="526.8000000000001" font-size="6.3" fill="#e7806d" textLength="20.1" lengthAdjust="spacingAndGlyphs" stroke="#e7806d" stroke-width="0.08">Hmgb2</text>
<text x="407" y="565.8000000000001" font-size="6.3" fill="#e7806d" textLength="19.6" lengthAdjust="spacingAndGlyphs" stroke="#e7806d" stroke-width="0.08">Hmgb1</text>
<text x="418.4" y="579.0" font-size="6.3" fill="#e7806d" textLength="13.8" lengthAdjust="spacingAndGlyphs" stroke="#e7806d" stroke-width="0.08">Tcea1</text>
<text x="410.2" y="585.9000000000001" font-size="6.3" fill="#e7806d" textLength="14.2" lengthAdjust="spacingAndGlyphs" stroke="#e7806d" stroke-width="0.08">Tgfb1</text>
<text x="401" y="592.8000000000001" font-size="6.3" fill="#e7806d" textLength="17.4" lengthAdjust="spacingAndGlyphs" stroke="#e7806d" stroke-width="0.08">Nfe2l1</text>
<text x="446.9" y="581.9000000000001" font-size="6.3" fill="#e7806d" textLength="9.5" lengthAdjust="spacingAndGlyphs" stroke="#e7806d" stroke-width="0.08">Lyn</text>
<text x="449.3" y="588.9000000000001" font-size="6.3" fill="#e7806d" textLength="11.5" lengthAdjust="spacingAndGlyphs" stroke="#e7806d" stroke-width="0.08">Atf3</text>
<text x="466" y="588.0" font-size="6.3" fill="#e7806d" textLength="8.6" lengthAdjust="spacingAndGlyphs" stroke="#e7806d" stroke-width="0.08">Jun</text>
<text x="461.6" y="595.2" font-size="6.3" fill="#e7806d" textLength="13.8" lengthAdjust="spacingAndGlyphs" stroke="#e7806d" stroke-width="0.08">Klf10</text>
<text x="470.3" y="603.2" font-size="6.3" fill="#e7806d" textLength="9.5" lengthAdjust="spacingAndGlyphs" stroke="#e7806d" stroke-width="0.08">Fos</text>
<text x="442.6" y="601.5" font-size="6.3" fill="#e7806d" textLength="12.8" lengthAdjust="spacingAndGlyphs" stroke="#e7806d" stroke-width="0.08">Cebpd</text>
<text x="456.4" y="608.4000000000001" font-size="6.3" fill="#e7806d" textLength="8.6" lengthAdjust="spacingAndGlyphs" stroke="#e7806d" stroke-width="0.08">Lbr</text>
<text x="440.3" y="608.7" font-size="6.3" fill="#e7806d" textLength="11.4" lengthAdjust="spacingAndGlyphs" stroke="#e7806d" stroke-width="0.08">Rbpj</text>
</svg>
<div id="frame"></div>
</div></body></html>
